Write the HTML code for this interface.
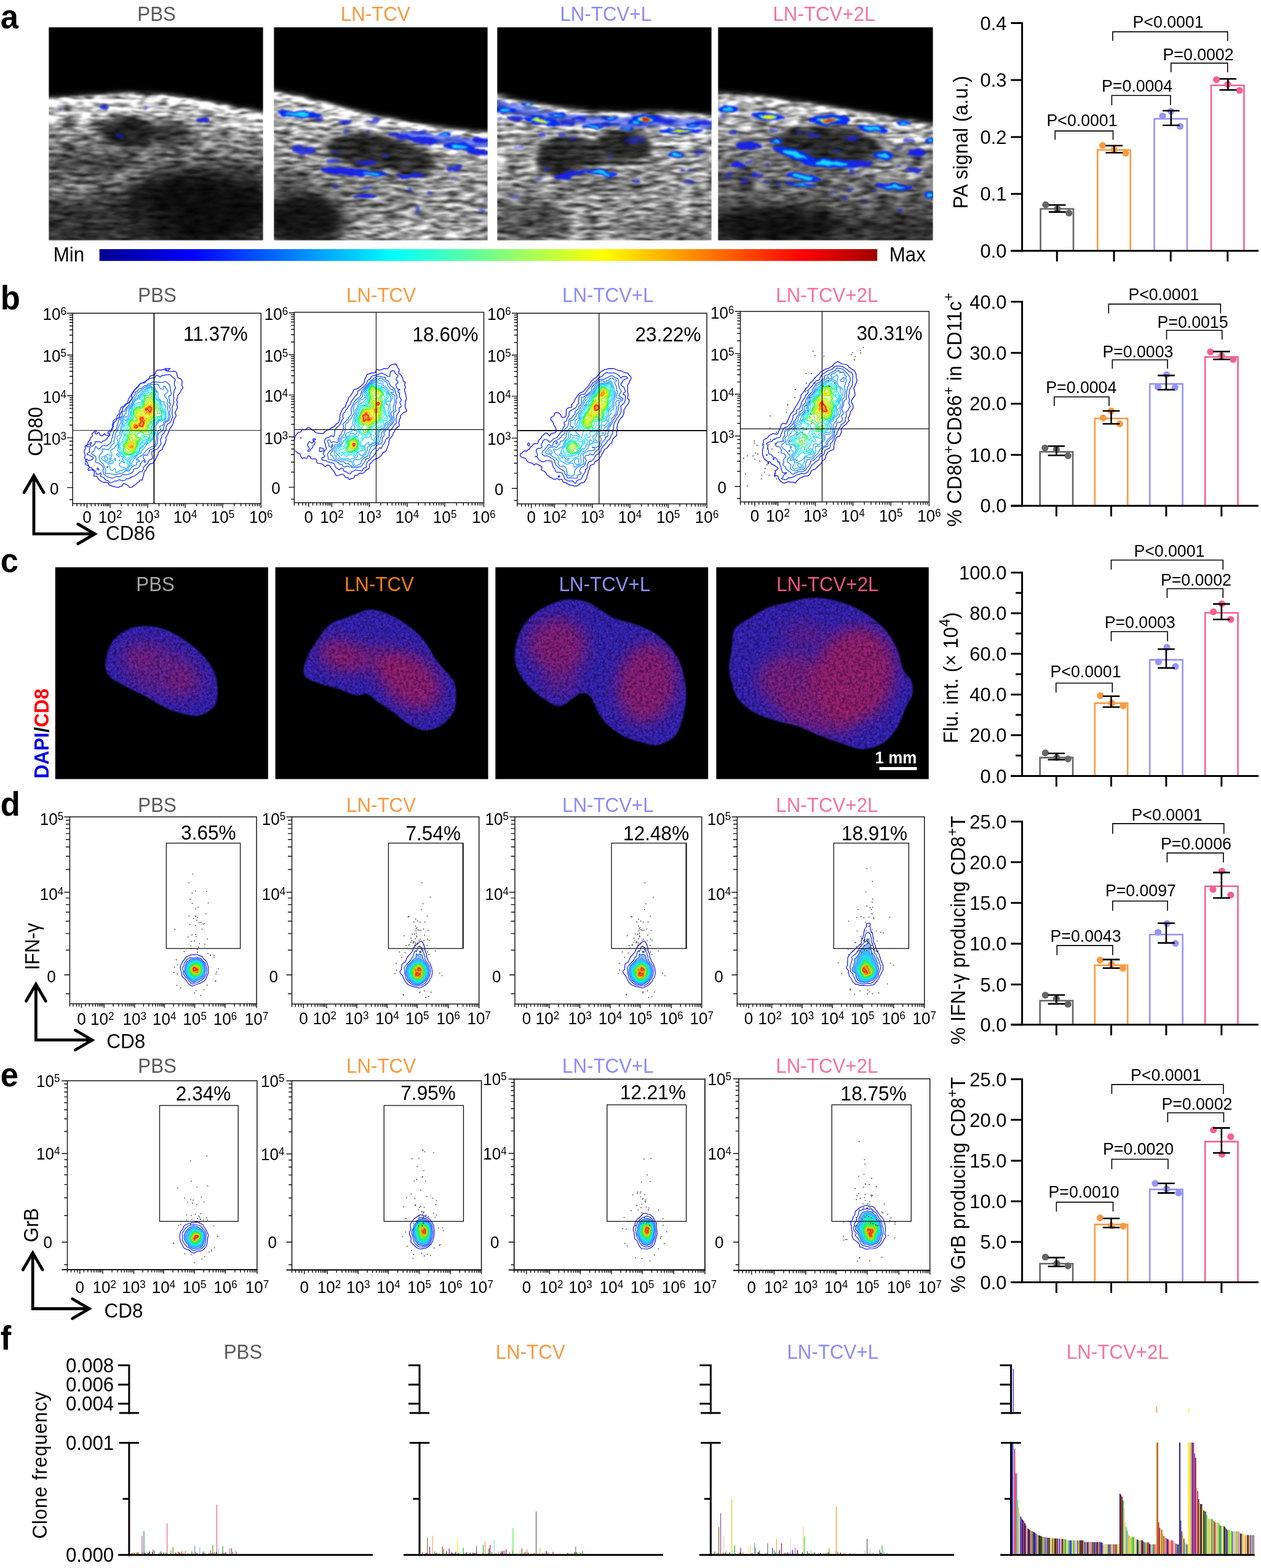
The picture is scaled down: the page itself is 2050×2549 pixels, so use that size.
<!DOCTYPE html>
<html lang="en"><head><meta charset="utf-8"><title>Figure</title>
<style>
html,body{margin:0;padding:0;background:#fff}
body{width:2050px;height:2549px;overflow:hidden}
svg{display:block;font-family:'Liberation Sans', sans-serif}
</style></head><body>
<svg width="2050" height="2549" viewBox="0 0 2050 2549">
<rect width="2050" height="2549" fill="#fff"/>
<linearGradient id="usdepth" x1="0" y1="0" x2="0" y2="1"><stop offset="0" stop-color="#000" stop-opacity="0"/><stop offset="1" stop-color="#000" stop-opacity="0.6"/></linearGradient>
<filter id="blur6" x="-30%" y="-30%" width="160%" height="160%" color-interpolation-filters="sRGB"><feGaussianBlur stdDeviation="5"/></filter>
<filter id="blur12" x="-40%" y="-40%" width="180%" height="180%" color-interpolation-filters="sRGB"><feGaussianBlur stdDeviation="13"/></filter>
<filter id="blur1" x="-20%" y="-20%" width="140%" height="140%" color-interpolation-filters="sRGB"><feTurbulence type="fractalNoise" baseFrequency="0.06 0.1" numOctaves="2" seed="8" result="t"/><feDisplacementMap in="SourceGraphic" in2="t" scale="9" xChannelSelector="R" yChannelSelector="G" result="d"/><feGaussianBlur in="d" stdDeviation="1.5"/></filter>
<linearGradient id="jet" x1="0" y1="0" x2="1" y2="0"><stop offset="0" stop-color="#00008f"/><stop offset="0.12" stop-color="#0000ff"/><stop offset="0.25" stop-color="#0080ff"/><stop offset="0.378" stop-color="#00ffff"/><stop offset="0.512" stop-color="#80ff80"/><stop offset="0.648" stop-color="#ffff00"/><stop offset="0.775" stop-color="#ff8000"/><stop offset="0.905" stop-color="#ff0000"/><stop offset="1" stop-color="#a20000"/></linearGradient>
<clipPath id="cu0"><rect x="79.6" y="44.2" width="348" height="346.5"/></clipPath>
<filter id="fu0" filterUnits="userSpaceOnUse" x="79.6" y="44.2" width="348" height="346.5" color-interpolation-filters="sRGB"><feGaussianBlur in="SourceGraphic" stdDeviation="2.6" result="b"/><feTurbulence type="fractalNoise" baseFrequency="0.04 0.16" numOctaves="2" seed="3" result="t"/><feColorMatrix in="t" type="matrix" values="1.45 0 0 0 -0.16  1.45 0 0 0 -0.16  1.45 0 0 0 -0.16  0 0 0 0 1" result="n"/><feComposite in="b" in2="n" operator="arithmetic" k1="1.7" k2="0.12" k3="0" k4="0" result="c"/><feGaussianBlur in="c" stdDeviation="0.8"/></filter>
<g clip-path="url(#cu0)"><g filter="url(#fu0)"><rect x="59.6" y="24.2" width="388" height="386.5" fill="#000"/><path d="M59.6 160.93L79.68 160.93L139.88 156.97L200.93 152.93L259.87 155.03L299.86 160.09L339.86 166.82L379.85 174.82L428.26 184.93L447.6 184.93L447.6 410.7L59.6 410.7Z" fill="#767676"/><rect x="59.6" y="200.12" width="388" height="210.58" fill="url(#usdepth)" opacity="1"/><g filter="url(#blur6)"><path d="M59.6 160.93L79.68 160.93L139.88 156.97L200.93 152.93L259.87 155.03L299.86 160.09L339.86 166.82L379.85 174.82L428.26 184.93L447.6 184.93L447.6 224.92L428.26 224.92L379.85 214.82L339.86 206.82L299.86 200.08L259.87 195.03L200.93 192.92L139.88 196.97L79.68 200.92L59.6 200.92Z" fill="#acacac"/></g><path d="M59.6 160.93L79.68 160.93L139.88 156.97L200.93 152.93L259.87 155.03L299.86 160.09L339.86 166.82L379.85 174.82L428.26 184.93L447.6 184.93L447.6 195.87L428.26 195.87L379.85 185.77L339.86 177.77L299.86 171.03L259.87 165.98L200.93 163.88L139.88 167.92L79.68 171.87L59.6 171.87Z" fill="#ebebeb"/><g filter="url(#blur6)"><ellipse cx="120.52" cy="312.06" rx="42.1" ry="12.63" fill="#969696" opacity="0.5"/><ellipse cx="204.72" cy="286.81" rx="25.26" ry="5.89" fill="#c8c8c8" opacity="0.6"/><ellipse cx="377.32" cy="232.08" rx="50.52" ry="16.84" fill="#969696" opacity="0.45" transform="rotate(15 377.32 232.08)"/><ellipse cx="112.1" cy="206.82" rx="33.68" ry="16.84" fill="#a0a0a0" opacity="0.4"/><ellipse cx="208.93" cy="215.24" rx="44.2" ry="26.1" fill="#1e1e1e"/><ellipse cx="276.29" cy="217.34" rx="33.68" ry="21.05" fill="#303030" opacity="0.95"/><ellipse cx="154.2" cy="265.76" rx="71.57" ry="14.73" fill="#323232" opacity="0.7"/></g><g filter="url(#blur12)"><ellipse cx="322.6" cy="337.32" rx="122.09" ry="63.15" fill="#080808" opacity="0.92"/><ellipse cx="166.83" cy="362.58" rx="117.88" ry="42.1" fill="#232323" opacity="0.6"/><ellipse cx="389.95" cy="282.6" rx="50.52" ry="21.05" fill="#282828" opacity="0.5"/></g></g>
<g filter="url(#blur1)"></g><g filter="url(#blur1)"><ellipse cx="170.2" cy="173.98" rx="7.58" ry="3.79" fill="#1a24e0" opacity="0.85"/><ellipse cx="237.13" cy="175.24" rx="3.37" ry="3.37" fill="#1a24e0" opacity="0.5"/><ellipse cx="328.91" cy="195.03" rx="10.52" ry="3.79" fill="#1a24e0"/><ellipse cx="194.19" cy="221.55" rx="6.31" ry="2.95" fill="#1a24e0" opacity="0.6"/><ellipse cx="97.36" cy="178.61" rx="2.53" ry="2.1" fill="#1a24e0" opacity="0.4"/></g><g filter="url(#blur1)"></g></g>
<clipPath id="cu1"><rect x="445.2" y="44.2" width="347.8" height="346.5"/></clipPath>
<filter id="fu1" filterUnits="userSpaceOnUse" x="445.2" y="44.2" width="347.8" height="346.5" color-interpolation-filters="sRGB"><feGaussianBlur in="SourceGraphic" stdDeviation="2.6" result="b"/><feTurbulence type="fractalNoise" baseFrequency="0.04 0.16" numOctaves="2" seed="7" result="t"/><feColorMatrix in="t" type="matrix" values="1.45 0 0 0 -0.16  1.45 0 0 0 -0.16  1.45 0 0 0 -0.16  0 0 0 0 1" result="n"/><feComposite in="b" in2="n" operator="arithmetic" k1="1.7" k2="0.12" k3="0" k4="0" result="c"/><feGaussianBlur in="c" stdDeviation="0.8"/></filter>
<g clip-path="url(#cu1)"><g filter="url(#fu1)"><rect x="425.2" y="24.2" width="387.8" height="386.5" fill="#000"/><path d="M425.2 148.72L445.52 148.72L490.99 158.4L533.09 168.93L575.19 180.72L617.29 190.82L659.39 198.4L701.49 205.97L743.59 211.87L793.26 217.34L813 217.34L813 410.7L425.2 410.7Z" fill="#8e8e8e"/><rect x="425.2" y="200.12" width="387.8" height="210.58" fill="url(#usdepth)" opacity="0.3"/><g filter="url(#blur6)"><path d="M425.2 148.72L445.52 148.72L490.99 158.4L533.09 168.93L575.19 180.72L617.29 190.82L659.39 198.4L701.49 205.97L743.59 211.87L793.26 217.34L813 217.34L813 257.34L793.26 257.34L743.59 251.86L701.49 245.97L659.39 238.39L617.29 230.81L575.19 220.71L533.09 208.92L490.99 198.4L445.52 188.71L425.2 188.71Z" fill="#acacac"/></g><path d="M425.2 148.72L445.52 148.72L490.99 158.4L533.09 168.93L575.19 180.72L617.29 190.82L659.39 198.4L701.49 205.97L743.59 211.87L793.26 217.34L813 217.34L813 227.45L793.26 227.45L743.59 221.97L701.49 216.08L659.39 208.5L617.29 200.92L575.19 190.82L533.09 179.03L490.99 168.51L445.52 158.82L425.2 158.82Z" fill="#e4e4e4"/><g filter="url(#blur6)"><ellipse cx="743.59" cy="299.43" rx="50.52" ry="21.05" fill="#aaaaaa" opacity="0.45"/><ellipse cx="680.44" cy="375.21" rx="105.25" ry="16.84" fill="#b4b4b4" opacity="0.55"/><ellipse cx="735.17" cy="341.53" rx="63.15" ry="25.26" fill="#a5a5a5" opacity="0.45"/><ellipse cx="490.99" cy="219.45" rx="42.1" ry="16.84" fill="#aaaaaa" opacity="0.4"/><ellipse cx="604.66" cy="244.71" rx="75.78" ry="28.63" fill="#262626" transform="rotate(5 604.66 244.71)"/><ellipse cx="667.81" cy="263.65" rx="38.73" ry="23.58" fill="#2a2a2a"/><ellipse cx="474.15" cy="291.01" rx="33.68" ry="16.84" fill="#3c3c3c" opacity="0.6"/><ellipse cx="575.19" cy="299.43" rx="25.26" ry="8.42" fill="#464646" opacity="0.5"/></g><g filter="url(#blur12)"><ellipse cx="490.99" cy="356.27" rx="71.57" ry="48.41" fill="#0a0a0a" opacity="0.92"/></g></g>
<g filter="url(#blur1)"><path d="M659.39 216.92L701.49 224.5L743.59 230.39L793.26 235.87" fill="none" stroke="#1c3cf0" stroke-width="15.16" stroke-linecap="round" stroke-linejoin="round" opacity="0.6"/></g><g filter="url(#blur1)"><ellipse cx="484.68" cy="185.77" rx="35.78" ry="5.47" fill="#0a2cf0" transform="rotate(4 484.68 185.77)"/><ellipse cx="557.09" cy="198.4" rx="7.58" ry="3.79" fill="#1a24e0" opacity="0.9"/><ellipse cx="606.76" cy="196.29" rx="10.52" ry="3.37" fill="#1a24e0" opacity="0.7"/><ellipse cx="650.97" cy="221.55" rx="21.05" ry="4.21" fill="#1a24e0" opacity="0.9" transform="rotate(10 650.97 221.55)"/><ellipse cx="688.86" cy="227.87" rx="25.26" ry="5.05" fill="#1a24e0" opacity="0.95" transform="rotate(8 688.86 227.87)"/><ellipse cx="722.54" cy="218.18" rx="10.52" ry="3.37" fill="#0a2cf0"/><ellipse cx="747.8" cy="238.39" rx="25.26" ry="6.31" fill="#0a2cf0" transform="rotate(5 747.8 238.39)"/><ellipse cx="781.48" cy="227.87" rx="12.63" ry="5.05" fill="#1a24e0"/><ellipse cx="777.27" cy="246.81" rx="16.84" ry="5.05" fill="#1a24e0"/><ellipse cx="680.44" cy="215.24" rx="12.63" ry="3.37" fill="#1a24e0" opacity="0.7"/><ellipse cx="495.2" cy="244.71" rx="18.94" ry="5.89" fill="#1a24e0" opacity="0.85"/><ellipse cx="482.57" cy="238.39" rx="8.42" ry="3.37" fill="#1a24e0" opacity="0.7"/><ellipse cx="566.77" cy="279.23" rx="46.31" ry="5.89" fill="#1a24e0" transform="rotate(5 566.77 279.23)"/><ellipse cx="604.66" cy="282.6" rx="25.26" ry="3.79" fill="#0a2cf0"/><ellipse cx="667.81" cy="285.54" rx="23.15" ry="3.79" fill="#1a24e0" opacity="0.95"/><ellipse cx="596.24" cy="263.65" rx="16.84" ry="4.21" fill="#1a24e0" opacity="0.8"/><ellipse cx="541.51" cy="261.55" rx="12.63" ry="3.37" fill="#1a24e0" opacity="0.7"/><ellipse cx="739.38" cy="273.33" rx="12.63" ry="4.21" fill="#1a24e0" opacity="0.85" transform="rotate(-20 739.38 273.33)"/><ellipse cx="594.13" cy="318.38" rx="18.94" ry="4.21" fill="#1a24e0"/><ellipse cx="596.24" cy="305.75" rx="10.52" ry="2.53" fill="#1a24e0" opacity="0.7"/><ellipse cx="678.33" cy="341.53" rx="4.21" ry="5.89" fill="#1a24e0" opacity="0.5"/><ellipse cx="697.28" cy="314.17" rx="4.21" ry="4.21" fill="#1a24e0" opacity="0.5"/><ellipse cx="558.43" cy="277.07" rx="5.89" ry="2.49" fill="#2028d8" opacity="0.54" transform="rotate(5.85 558.43 277.07)"/><ellipse cx="739.23" cy="290.66" rx="5.29" ry="2.08" fill="#2028d8" opacity="0.45" transform="rotate(-2.58 739.23 290.66)"/><ellipse cx="676.66" cy="226.8" rx="6.62" ry="2.08" fill="#2028d8" opacity="0.54" transform="rotate(-9.15 676.66 226.8)"/><ellipse cx="792.58" cy="324.29" rx="7" ry="2.72" fill="#2028d8" opacity="0.46" transform="rotate(-3.42 792.58 324.29)"/><ellipse cx="651.96" cy="228.04" rx="7.36" ry="2.3" fill="#2028d8" opacity="0.51" transform="rotate(6.35 651.96 228.04)"/><ellipse cx="547.16" cy="303" rx="5.05" ry="2.61" fill="#2028d8" opacity="0.59" transform="rotate(-0.31 547.16 303)"/><ellipse cx="564.6" cy="199.13" rx="6.96" ry="2.08" fill="#2028d8" opacity="0.76" transform="rotate(-5.83 564.6 199.13)"/><ellipse cx="784.48" cy="342.36" rx="6.44" ry="2.97" fill="#2028d8" opacity="0.68" transform="rotate(4.6 784.48 342.36)"/><ellipse cx="546.49" cy="247.67" rx="6.78" ry="2.02" fill="#2028d8" opacity="0.82" transform="rotate(7.75 546.49 247.67)"/><ellipse cx="627.23" cy="254.04" rx="5.04" ry="2.33" fill="#2028d8" opacity="0.85" transform="rotate(-2.27 627.23 254.04)"/><ellipse cx="519.59" cy="193.78" rx="6.27" ry="3.36" fill="#2028d8" opacity="0.65" transform="rotate(-0.17 519.59 193.78)"/><ellipse cx="666.84" cy="307.92" rx="3.98" ry="2.71" fill="#2028d8" opacity="0.67" transform="rotate(2.45 666.84 307.92)"/><ellipse cx="562.85" cy="214.87" rx="4.56" ry="3.25" fill="#2028d8" opacity="0.59" transform="rotate(1.94 562.85 214.87)"/><ellipse cx="598.27" cy="215.7" rx="3.25" ry="3.05" fill="#2028d8" opacity="0.76" transform="rotate(-2.5 598.27 215.7)"/></g><g filter="url(#blur1)"><ellipse cx="484.68" cy="185.77" rx="19.68" ry="2.74" fill="#18d8ff" transform="rotate(4 484.68 185.77)"/><ellipse cx="722.54" cy="218.18" rx="5.79" ry="1.68" fill="#18d8ff"/><ellipse cx="747.8" cy="238.39" rx="13.89" ry="3.16" fill="#18d8ff" transform="rotate(5 747.8 238.39)"/><ellipse cx="604.66" cy="282.6" rx="13.89" ry="1.89" fill="#18d8ff"/></g></g>
<clipPath id="cu2"><rect x="808.4" y="44.2" width="348.4" height="346.5"/></clipPath>
<filter id="fu2" filterUnits="userSpaceOnUse" x="808.4" y="44.2" width="348.4" height="346.5" color-interpolation-filters="sRGB"><feGaussianBlur in="SourceGraphic" stdDeviation="2.6" result="b"/><feTurbulence type="fractalNoise" baseFrequency="0.04 0.16" numOctaves="2" seed="11" result="t"/><feColorMatrix in="t" type="matrix" values="1.45 0 0 0 -0.16  1.45 0 0 0 -0.16  1.45 0 0 0 -0.16  0 0 0 0 1" result="n"/><feComposite in="b" in2="n" operator="arithmetic" k1="1.7" k2="0.12" k3="0" k4="0" result="c"/><feGaussianBlur in="c" stdDeviation="0.8"/></filter>
<g clip-path="url(#cu2)"><g filter="url(#fu2)"><rect x="788.4" y="24.2" width="388.4" height="386.5" fill="#000"/><path d="M788.4 155.03L807.37 155.03L842.31 164.72L880.2 171.87L922.3 178.19L964.4 182.4L1006.5 184.08L1048.6 184.08L1090.69 184.08L1124.37 185.77L1156.37 189.13L1176.8 189.13L1176.8 410.7L788.4 410.7Z" fill="#929292"/><rect x="788.4" y="200.12" width="388.4" height="210.58" fill="url(#usdepth)" opacity="0.25"/><g filter="url(#blur6)"><path d="M788.4 155.03L807.37 155.03L842.31 164.72L880.2 171.87L922.3 178.19L964.4 182.4L1006.5 184.08L1048.6 184.08L1090.69 184.08L1124.37 185.77L1156.37 189.13L1176.8 189.13L1176.8 229.13L1156.37 229.13L1124.37 225.76L1090.69 224.08L1048.6 224.08L1006.5 224.08L964.4 222.39L922.3 218.18L880.2 211.87L842.31 204.71L807.37 195.03L788.4 195.03Z" fill="#acacac"/></g><path d="M788.4 155.03L807.37 155.03L842.31 164.72L880.2 171.87L922.3 178.19L964.4 182.4L1006.5 184.08L1048.6 184.08L1090.69 184.08L1124.37 185.77L1156.37 189.13L1176.8 189.13L1176.8 197.55L1156.37 197.55L1124.37 194.19L1090.69 192.5L1048.6 192.5L1006.5 192.5L964.4 190.82L922.3 186.61L880.2 180.29L842.31 173.14L807.37 163.45L788.4 163.45Z" fill="#c8c8c8"/><g filter="url(#blur6)"><ellipse cx="1111.74" cy="232.08" rx="42.1" ry="21.05" fill="#b4b4b4" opacity="0.4"/><ellipse cx="838.1" cy="219.45" rx="33.68" ry="21.05" fill="#aaaaaa" opacity="0.4"/><ellipse cx="964.4" cy="345.74" rx="84.2" ry="16.84" fill="#969696" opacity="0.3"/><ellipse cx="918.09" cy="253.13" rx="46.31" ry="32.84" fill="#242424" transform="rotate(-10 918.09 253.13)"/><ellipse cx="1014.92" cy="236.29" rx="46.31" ry="27.36" fill="#262626" transform="rotate(5 1014.92 236.29)"/><ellipse cx="972.82" cy="248.92" rx="63.15" ry="21.05" fill="#2c2c2c" opacity="0.9"/><ellipse cx="985.45" cy="299.43" rx="84.2" ry="8.42" fill="#3c3c3c" opacity="0.5"/></g><g filter="url(#blur12)"><ellipse cx="859.15" cy="358.37" rx="67.36" ry="35.78" fill="#2d2d2d" opacity="0.65"/><ellipse cx="1090.69" cy="375.21" rx="84.2" ry="21.05" fill="#464646" opacity="0.4"/></g></g>
<g filter="url(#blur1)"><path d="M807.37 169.35L842.31 179.03L880.2 186.19L922.3 192.5L964.4 196.71L1006.5 198.4L1048.6 198.4L1090.69 198.4L1124.37 200.08L1156.37 203.45" fill="none" stroke="#1c3cf0" stroke-width="16" stroke-linecap="round" stroke-linejoin="round" opacity="0.55"/></g><g filter="url(#blur1)"><ellipse cx="821.26" cy="179.45" rx="16.84" ry="5.47" fill="#0a2cf0"/><ellipse cx="857.04" cy="168.93" rx="9.26" ry="3.79" fill="#0a2cf0"/><ellipse cx="880.2" cy="196.29" rx="29.47" ry="6.74" fill="#0a2cf0" transform="rotate(8 880.2 196.29)"/><ellipse cx="922.3" cy="200.5" rx="12.63" ry="3.79" fill="#1a24e0" opacity="0.9"/><ellipse cx="964.4" cy="205.97" rx="16.84" ry="3.37" fill="#0a2cf0"/><ellipse cx="993.87" cy="192.08" rx="12.63" ry="2.95" fill="#0a2cf0"/><ellipse cx="1019.13" cy="208.92" rx="12.63" ry="3.37" fill="#0a2cf0"/><ellipse cx="1050.7" cy="192.92" rx="24.42" ry="7.16" fill="#0a2cf0"/><ellipse cx="1107.53" cy="213.13" rx="35.78" ry="4.21" fill="#0a2cf0"/><ellipse cx="1141.21" cy="200.5" rx="16.84" ry="4.21" fill="#1a24e0" opacity="0.9"/><ellipse cx="1099.11" cy="251.02" rx="11.79" ry="5.05" fill="#0a2cf0"/><ellipse cx="1120.16" cy="295.22" rx="9.26" ry="3.37" fill="#1a24e0" opacity="0.8"/><ellipse cx="926.51" cy="283.86" rx="25.26" ry="5.05" fill="#1a24e0" transform="rotate(-12 926.51 283.86)"/><ellipse cx="977.03" cy="280.49" rx="27.36" ry="5.05" fill="#0a2cf0" transform="rotate(8 977.03 280.49)"/><ellipse cx="1031.76" cy="227.87" rx="16.84" ry="6.31" fill="#1a24e0" opacity="0.5"/><ellipse cx="844.41" cy="239.23" rx="8.42" ry="3.37" fill="#1a24e0" opacity="0.5"/><ellipse cx="835.99" cy="320.48" rx="8.42" ry="4.21" fill="#1a24e0" opacity="0.4"/><ellipse cx="1137" cy="246.81" rx="10.52" ry="3.37" fill="#1a24e0" opacity="0.6"/><ellipse cx="838.1" cy="192.08" rx="12.63" ry="3.79" fill="#1a24e0" opacity="0.9"/><ellipse cx="905.46" cy="186.61" rx="14.73" ry="3.37" fill="#0a2cf0"/><ellipse cx="941.24" cy="193.34" rx="12.63" ry="3.37" fill="#1a24e0" opacity="0.9"/><ellipse cx="987.55" cy="201.76" rx="11.79" ry="2.95" fill="#1a24e0" opacity="0.9"/><ellipse cx="1033.86" cy="199.24" rx="12.63" ry="3.37" fill="#0a2cf0"/><ellipse cx="1082.27" cy="197.55" rx="14.73" ry="3.79" fill="#1a24e0" opacity="0.9"/><ellipse cx="1126.48" cy="203.45" rx="12.63" ry="3.37" fill="#0a2cf0"/><ellipse cx="811.65" cy="192.84" rx="4.77" ry="2.84" fill="#2028d8" opacity="0.51" transform="rotate(-7.75 811.65 192.84)"/><ellipse cx="888.27" cy="274.89" rx="3.63" ry="2.93" fill="#2028d8" opacity="0.71" transform="rotate(-7.27 888.27 274.89)"/><ellipse cx="994.31" cy="254.1" rx="4.86" ry="3.36" fill="#2028d8" opacity="0.49" transform="rotate(-9.59 994.31 254.1)"/><ellipse cx="1135.36" cy="252.9" rx="3.87" ry="2.24" fill="#2028d8" opacity="0.6" transform="rotate(9.1 1135.36 252.9)"/><ellipse cx="880.77" cy="219.14" rx="5.66" ry="2.61" fill="#2028d8" opacity="0.83" transform="rotate(6.77 880.77 219.14)"/><ellipse cx="931.44" cy="224.96" rx="6.82" ry="3.35" fill="#2028d8" opacity="0.46" transform="rotate(4.7 931.44 224.96)"/><ellipse cx="1110.42" cy="276.12" rx="3.96" ry="3.03" fill="#2028d8" opacity="0.74" transform="rotate(-6.12 1110.42 276.12)"/><ellipse cx="1031.04" cy="231.49" rx="3.14" ry="2.25" fill="#2028d8" opacity="0.58" transform="rotate(-2.08 1031.04 231.49)"/><ellipse cx="1033.09" cy="293.83" rx="7.4" ry="3.33" fill="#2028d8" opacity="0.85" transform="rotate(5.8 1033.09 293.83)"/><ellipse cx="914.27" cy="220.06" rx="5.84" ry="2.6" fill="#2028d8" opacity="0.72" transform="rotate(-8.13 914.27 220.06)"/><ellipse cx="874.65" cy="289.14" rx="5.73" ry="2.85" fill="#2028d8" opacity="0.49" transform="rotate(-2.02 874.65 289.14)"/><ellipse cx="1124.99" cy="276.7" rx="7.54" ry="2.02" fill="#2028d8" opacity="0.63" transform="rotate(6.01 1124.99 276.7)"/></g><g filter="url(#blur1)"><ellipse cx="821.26" cy="179.45" rx="9.26" ry="2.74" fill="#18d8ff"/><ellipse cx="857.04" cy="168.93" rx="5.09" ry="1.89" fill="#18d8ff"/><ellipse cx="857.04" cy="168.93" rx="3.89" ry="1.67" fill="#e8f020"/><ellipse cx="880.2" cy="196.29" rx="16.21" ry="3.37" fill="#18d8ff" transform="rotate(8 880.2 196.29)"/><ellipse cx="880.2" cy="196.29" rx="12.38" ry="2.96" fill="#e8f020" transform="rotate(8 880.2 196.29)"/><ellipse cx="964.4" cy="205.97" rx="9.26" ry="1.68" fill="#18d8ff"/><ellipse cx="993.87" cy="192.08" rx="6.95" ry="1.47" fill="#18d8ff"/><ellipse cx="1019.13" cy="208.92" rx="6.95" ry="1.68" fill="#18d8ff"/><ellipse cx="1050.7" cy="192.92" rx="13.43" ry="3.58" fill="#18d8ff"/><ellipse cx="1050.7" cy="192.92" rx="10.26" ry="3.15" fill="#e8f020"/><ellipse cx="1050.7" cy="192.92" rx="7.33" ry="2.15" fill="#e01000"/><ellipse cx="1107.53" cy="213.13" rx="19.68" ry="2.1" fill="#18d8ff"/><ellipse cx="1107.53" cy="213.13" rx="15.03" ry="1.85" fill="#e8f020"/><ellipse cx="1099.11" cy="251.02" rx="6.48" ry="2.53" fill="#18d8ff"/><ellipse cx="977.03" cy="280.49" rx="15.05" ry="2.53" fill="#18d8ff" transform="rotate(8 977.03 280.49)"/><ellipse cx="905.46" cy="186.61" rx="8.1" ry="1.68" fill="#18d8ff"/><ellipse cx="1033.86" cy="199.24" rx="6.95" ry="1.68" fill="#18d8ff"/><ellipse cx="1126.48" cy="203.45" rx="6.95" ry="1.68" fill="#18d8ff"/></g></g>
<clipPath id="cu3"><rect x="1167.7" y="44.2" width="348.8" height="346.5"/></clipPath>
<filter id="fu3" filterUnits="userSpaceOnUse" x="1167.7" y="44.2" width="348.8" height="346.5" color-interpolation-filters="sRGB"><feGaussianBlur in="SourceGraphic" stdDeviation="2.6" result="b"/><feTurbulence type="fractalNoise" baseFrequency="0.04 0.16" numOctaves="2" seed="17" result="t"/><feColorMatrix in="t" type="matrix" values="1.45 0 0 0 -0.16  1.45 0 0 0 -0.16  1.45 0 0 0 -0.16  0 0 0 0 1" result="n"/><feComposite in="b" in2="n" operator="arithmetic" k1="1.7" k2="0.12" k3="0" k4="0" result="c"/><feGaussianBlur in="c" stdDeviation="0.8"/></filter>
<g clip-path="url(#cu3)"><g filter="url(#fu3)"><rect x="1147.7" y="24.2" width="388.8" height="386.5" fill="#000"/><path d="M1147.7 152.93L1167.74 152.93L1216.99 156.3L1259.09 161.35L1301.19 167.24L1343.29 173.98L1385.39 180.72L1427.49 188.29L1469.59 195.87L1516.74 203.45L1536.5 203.45L1536.5 410.7L1147.7 410.7Z" fill="#7c7c7c"/><rect x="1147.7" y="200.12" width="388.8" height="210.58" fill="url(#usdepth)" opacity="0.8"/><g filter="url(#blur6)"><path d="M1147.7 152.93L1167.74 152.93L1216.99 156.3L1259.09 161.35L1301.19 167.24L1343.29 173.98L1385.39 180.72L1427.49 188.29L1469.59 195.87L1516.74 203.45L1536.5 203.45L1536.5 243.44L1516.74 243.44L1469.59 235.87L1427.49 228.29L1385.39 220.71L1343.29 213.97L1301.19 207.24L1259.09 201.34L1216.99 196.29L1167.74 192.92L1147.7 192.92Z" fill="#acacac"/></g><path d="M1147.7 152.93L1167.74 152.93L1216.99 156.3L1259.09 161.35L1301.19 167.24L1343.29 173.98L1385.39 180.72L1427.49 188.29L1469.59 195.87L1516.74 203.45L1536.5 203.45L1536.5 211.87L1516.74 211.87L1469.59 204.29L1427.49 196.71L1385.39 189.13L1343.29 182.4L1301.19 175.66L1259.09 169.77L1216.99 164.72L1167.74 161.35L1147.7 161.35Z" fill="#cdcdcd"/><g filter="url(#blur6)"><ellipse cx="1195.94" cy="211.03" rx="33.68" ry="16.84" fill="#b4b4b4" opacity="0.4"/><ellipse cx="1448.54" cy="278.39" rx="63.15" ry="12.63" fill="#bebebe" opacity="0.5"/><ellipse cx="1259.09" cy="324.69" rx="42.1" ry="8.42" fill="#aaaaaa" opacity="0.4"/><ellipse cx="1347.5" cy="236.29" rx="84.2" ry="32.84" fill="#282828" transform="rotate(3 1347.5 236.29)"/><ellipse cx="1195.94" cy="291.01" rx="33.68" ry="16.84" fill="#3c3c3c" opacity="0.6"/></g><g filter="url(#blur12)"><ellipse cx="1259.09" cy="366.79" rx="113.67" ry="35.78" fill="#0c0c0c" opacity="0.92"/><ellipse cx="1448.54" cy="373.11" rx="88.41" ry="26.1" fill="#202020" opacity="0.8"/></g></g>
<g filter="url(#blur1)"></g><g filter="url(#blur1)"><ellipse cx="1183.31" cy="177.35" rx="16.84" ry="5.47" fill="#0a2cf0"/><ellipse cx="1248.57" cy="189.13" rx="27.36" ry="5.89" fill="#0a2cf0" transform="rotate(5 1248.57 189.13)"/><ellipse cx="1347.5" cy="195.03" rx="33.68" ry="8.42" fill="#0a2cf0"/><ellipse cx="1419.07" cy="208.92" rx="25.26" ry="5.05" fill="#0a2cf0" transform="rotate(8 1419.07 208.92)"/><ellipse cx="1469.59" cy="200.5" rx="12.63" ry="3.79" fill="#0a2cf0"/><ellipse cx="1216.99" cy="236.29" rx="21.05" ry="6.74" fill="#1a24e0"/><ellipse cx="1261.2" cy="229.97" rx="10.52" ry="3.37" fill="#0a2cf0"/><ellipse cx="1292.77" cy="251.02" rx="37.89" ry="6.74" fill="#0a2cf0" transform="rotate(18 1292.77 251.02)"/><ellipse cx="1351.71" cy="265.76" rx="50.52" ry="7.58" fill="#0a2cf0" transform="rotate(3 1351.71 265.76)"/><ellipse cx="1402.23" cy="265.76" rx="16.84" ry="5.05" fill="#1a24e0"/><ellipse cx="1435.91" cy="253.13" rx="16.84" ry="6.31" fill="#0a2cf0"/><ellipse cx="1490.64" cy="248.92" rx="14.73" ry="5.05" fill="#1a24e0"/><ellipse cx="1511.69" cy="227.87" rx="8.42" ry="5.05" fill="#0a2cf0"/><ellipse cx="1200.15" cy="267.86" rx="10.52" ry="5.05" fill="#1a24e0"/><ellipse cx="1305.4" cy="287.65" rx="29.47" ry="5.05" fill="#0a2cf0" transform="rotate(10 1305.4 287.65)"/><ellipse cx="1301.19" cy="300.28" rx="25.26" ry="3.79" fill="#0a2cf0" transform="rotate(8 1301.19 300.28)"/><ellipse cx="1452.75" cy="303.64" rx="31.57" ry="5.47" fill="#0a2cf0" transform="rotate(5 1452.75 303.64)"/><ellipse cx="1511.69" cy="316.27" rx="10.52" ry="5.89" fill="#0a2cf0"/><ellipse cx="1486.43" cy="276.28" rx="12.63" ry="3.37" fill="#1a24e0" opacity="0.9"/><ellipse cx="1229.62" cy="284.7" rx="8.42" ry="3.37" fill="#1a24e0" opacity="0.8"/><ellipse cx="1322.24" cy="219.45" rx="12.63" ry="3.37" fill="#1a24e0" opacity="0.7"/><ellipse cx="1385.39" cy="225.76" rx="12.63" ry="3.37" fill="#1a24e0" opacity="0.7"/><ellipse cx="1191.73" cy="215.24" rx="6.31" ry="3.37" fill="#1a24e0" opacity="0.7"/><ellipse cx="1478.01" cy="227.87" rx="10.52" ry="3.37" fill="#1a24e0" opacity="0.7"/><ellipse cx="1259.09" cy="211.03" rx="8.42" ry="2.53" fill="#1a24e0" opacity="0.6"/><ellipse cx="1300.71" cy="215.1" rx="3.72" ry="3.22" fill="#2028d8" opacity="0.68" transform="rotate(3.8 1300.71 215.1)"/><ellipse cx="1360.75" cy="245.28" rx="6.34" ry="2.65" fill="#2028d8" opacity="0.76" transform="rotate(3.23 1360.75 245.28)"/><ellipse cx="1460.65" cy="270.3" rx="3.66" ry="1.94" fill="#2028d8" opacity="0.74" transform="rotate(-6.65 1460.65 270.3)"/><ellipse cx="1396.21" cy="283.13" rx="3.22" ry="3" fill="#2028d8" opacity="0.46" transform="rotate(7.34 1396.21 283.13)"/><ellipse cx="1461.26" cy="240.29" rx="6.31" ry="2.92" fill="#2028d8" opacity="0.5" transform="rotate(3.4 1461.26 240.29)"/><ellipse cx="1210.93" cy="295.75" rx="6.14" ry="3.33" fill="#2028d8" opacity="0.47" transform="rotate(-3.64 1210.93 295.75)"/><ellipse cx="1384.08" cy="279.28" rx="3.79" ry="3.18" fill="#2028d8" opacity="0.79" transform="rotate(-3.97 1384.08 279.28)"/><ellipse cx="1218.66" cy="263.28" rx="4.83" ry="2.8" fill="#2028d8" opacity="0.65" transform="rotate(-2.1 1218.66 263.28)"/><ellipse cx="1175.3" cy="188.47" rx="5.07" ry="2.91" fill="#2028d8" opacity="0.62" transform="rotate(4.89 1175.3 188.47)"/><ellipse cx="1356.12" cy="311.47" rx="5.98" ry="2.23" fill="#2028d8" opacity="0.51" transform="rotate(-8.69 1356.12 311.47)"/><ellipse cx="1181.56" cy="286.91" rx="7" ry="2.95" fill="#2028d8" opacity="0.49" transform="rotate(3.21 1181.56 286.91)"/><ellipse cx="1212.29" cy="292.59" rx="5.98" ry="2.95" fill="#2028d8" opacity="0.69" transform="rotate(-1.63 1212.29 292.59)"/><ellipse cx="1463.83" cy="341.23" rx="4.07" ry="2.42" fill="#2028d8" opacity="0.74" transform="rotate(3.6 1463.83 341.23)"/><ellipse cx="1311.04" cy="246.28" rx="7.43" ry="2.15" fill="#2028d8" opacity="0.53" transform="rotate(3.72 1311.04 246.28)"/><ellipse cx="1264.4" cy="299.83" rx="4.46" ry="3.24" fill="#2028d8" opacity="0.6" transform="rotate(7.7 1264.4 299.83)"/><ellipse cx="1429.88" cy="304.18" rx="3.94" ry="1.96" fill="#2028d8" opacity="0.46" transform="rotate(-6.39 1429.88 304.18)"/><ellipse cx="1400.36" cy="208.92" rx="4.05" ry="2.64" fill="#2028d8" opacity="0.51" transform="rotate(-3.42 1400.36 208.92)"/><ellipse cx="1247.44" cy="267.87" rx="3.5" ry="3.36" fill="#2028d8" opacity="0.69" transform="rotate(4.26 1247.44 267.87)"/><ellipse cx="1360.58" cy="260.65" rx="7.44" ry="3.19" fill="#2028d8" opacity="0.78" transform="rotate(-9.4 1360.58 260.65)"/><ellipse cx="1373.48" cy="322.51" rx="5.9" ry="2.55" fill="#2028d8" opacity="0.71" transform="rotate(-6.46 1373.48 322.51)"/><ellipse cx="1421.7" cy="309.67" rx="3.28" ry="2.54" fill="#2028d8" opacity="0.69" transform="rotate(-2.96 1421.7 309.67)"/><ellipse cx="1405.65" cy="325.4" rx="7.14" ry="2.2" fill="#2028d8" opacity="0.51" transform="rotate(7.08 1405.65 325.4)"/><ellipse cx="1381.31" cy="308.65" rx="6.97" ry="2.15" fill="#2028d8" opacity="0.68" transform="rotate(-3.94 1381.31 308.65)"/><ellipse cx="1446.06" cy="301.64" rx="4.05" ry="2.53" fill="#2028d8" opacity="0.69" transform="rotate(-5.34 1446.06 301.64)"/><ellipse cx="1231.43" cy="238.76" rx="3.28" ry="2.52" fill="#2028d8" opacity="0.83" transform="rotate(6.52 1231.43 238.76)"/><ellipse cx="1186.69" cy="282.31" rx="6.26" ry="2.88" fill="#2028d8" opacity="0.46" transform="rotate(5.2 1186.69 282.31)"/><ellipse cx="1235.94" cy="283.6" rx="4.44" ry="2.3" fill="#2028d8" opacity="0.52" transform="rotate(7.35 1235.94 283.6)"/><ellipse cx="1245.15" cy="294.1" rx="5.33" ry="1.93" fill="#2028d8" opacity="0.71" transform="rotate(0.62 1245.15 294.1)"/></g><g filter="url(#blur1)"><ellipse cx="1183.31" cy="177.35" rx="9.26" ry="2.74" fill="#18d8ff"/><ellipse cx="1248.57" cy="189.13" rx="15.05" ry="2.95" fill="#18d8ff" transform="rotate(5 1248.57 189.13)"/><ellipse cx="1248.57" cy="189.13" rx="11.49" ry="2.59" fill="#e8f020" transform="rotate(5 1248.57 189.13)"/><ellipse cx="1347.5" cy="195.03" rx="18.52" ry="4.21" fill="#18d8ff"/><ellipse cx="1347.5" cy="195.03" rx="14.15" ry="3.7" fill="#e8f020"/><ellipse cx="1347.5" cy="195.03" rx="10.1" ry="2.53" fill="#e01000"/><ellipse cx="1419.07" cy="208.92" rx="13.89" ry="2.53" fill="#18d8ff" transform="rotate(8 1419.07 208.92)"/><ellipse cx="1469.59" cy="200.5" rx="6.95" ry="1.89" fill="#18d8ff"/><ellipse cx="1261.2" cy="229.97" rx="5.79" ry="1.68" fill="#18d8ff"/><ellipse cx="1292.77" cy="251.02" rx="20.84" ry="3.37" fill="#18d8ff" transform="rotate(18 1292.77 251.02)"/><ellipse cx="1351.71" cy="265.76" rx="27.79" ry="3.79" fill="#18d8ff" transform="rotate(3 1351.71 265.76)"/><ellipse cx="1435.91" cy="253.13" rx="9.26" ry="3.16" fill="#18d8ff"/><ellipse cx="1511.69" cy="227.87" rx="4.63" ry="2.53" fill="#18d8ff"/><ellipse cx="1305.4" cy="287.65" rx="16.21" ry="2.53" fill="#18d8ff" transform="rotate(10 1305.4 287.65)"/><ellipse cx="1301.19" cy="300.28" rx="13.89" ry="1.89" fill="#18d8ff" transform="rotate(8 1301.19 300.28)"/><ellipse cx="1452.75" cy="303.64" rx="17.37" ry="2.74" fill="#18d8ff" transform="rotate(5 1452.75 303.64)"/><ellipse cx="1511.69" cy="316.27" rx="5.79" ry="2.95" fill="#18d8ff"/></g></g>
<text transform="translate(254.6 34) scale(1 1.04)" font-size="31.3" text-anchor="middle" fill="#595959">PBS</text>
<text transform="translate(610.3 34) scale(1 1.04)" font-size="31.3" text-anchor="middle" fill="#F8993F">LN-TCV</text>
<text transform="translate(984.8 34) scale(1 1.04)" font-size="31.3" text-anchor="middle" fill="#8A8CF8">LN-TCV+L</text>
<text transform="translate(1339.5 34) scale(1 1.04)" font-size="31.3" text-anchor="middle" fill="#F6739D">LN-TCV+2L</text>
<rect x="161.6" y="405" width="1264.6" height="19.2" fill="url(#jet)"/>
<text transform="translate(86.8 424.5) scale(1 1.04)" font-size="31.3">Min</text>
<text transform="translate(1445.8 424.5) scale(1 1.04)" font-size="31.3">Max</text>
<text transform="translate(255.6 490.9) scale(1 1.04)" font-size="31.3" text-anchor="middle" fill="#595959">PBS</text>
<text transform="translate(619.5 490.9) scale(1 1.04)" font-size="31.3" text-anchor="middle" fill="#F8993F">LN-TCV</text>
<text transform="translate(988.4 490.9) scale(1 1.04)" font-size="31.3" text-anchor="middle" fill="#8A8CF8">LN-TCV+L</text>
<text transform="translate(1344.4 490.9) scale(1 1.04)" font-size="31.3" text-anchor="middle" fill="#F6739D">LN-TCV+2L</text>
<clipPath id="cb3"><rect x="1204.6" y="507.3" width="304.8" height="292.5"/></clipPath>
<clipPath id="cb2"><rect x="842" y="510.2" width="306.1" height="292.7"/></clipPath>
<clipPath id="cb1"><rect x="479.4" y="508.6" width="306.1" height="292.5"/></clipPath>
<clipPath id="cb0"><rect x="119.1" y="510.2" width="304.2" height="291.4"/></clipPath>
<rect x="118.1" y="509.2" width="306.2" height="309.4" fill="#fff" stroke="#1a1a1a" stroke-width="1.5"/>
<path d="M141.4 818.6v6.8M179.1 818.6v6.8M240.1 818.6v6.8M301.1 818.6v6.8M362 818.6v6.8M424.3 818.6v6.8M197.46 818.6v4.5M208.2 818.6v4.5M215.83 818.6v4.5M221.74 818.6v4.5M226.57 818.6v4.5M230.65 818.6v4.5M234.19 818.6v4.5M237.31 818.6v4.5M258.46 818.6v4.5M269.2 818.6v4.5M276.83 818.6v4.5M282.74 818.6v4.5M287.57 818.6v4.5M291.65 818.6v4.5M295.19 818.6v4.5M298.31 818.6v4.5M319.43 818.6v4.5M330.16 818.6v4.5M337.77 818.6v4.5M343.67 818.6v4.5M348.49 818.6v4.5M352.57 818.6v4.5M356.1 818.6v4.5M359.21 818.6v4.5M380.75 818.6v4.5M391.72 818.6v4.5M399.51 818.6v4.5M405.55 818.6v4.5M410.48 818.6v4.5M414.65 818.6v4.5M418.26 818.6v4.5M421.45 818.6v4.5M148.19 818.6v4.5M154.59 818.6v4.5M160.25 818.6v4.5M164.77 818.6v4.5M168.54 818.6v4.5M171.56 818.6v4.5M174.2 818.6v4.5M176.46 818.6v4.5M136.74 818.6v4.5M131.61 818.6v4.5M125.09 818.6v4.5M118.1 818.6v4.5" fill="none" stroke="#111" stroke-width="1.45"/>
<path d="M118.1 509.2h-9M118.1 577.2h-9M118.1 643.3h-9M118.1 711.6h-9M118.1 792.6h-9M118.1 556.73h-5.2M118.1 544.76h-5.2M118.1 536.26h-5.2M118.1 529.67h-5.2M118.1 524.29h-5.2M118.1 519.73h-5.2M118.1 515.79h-5.2M118.1 512.31h-5.2M118.1 623.4h-5.2M118.1 611.76h-5.2M118.1 603.5h-5.2M118.1 597.1h-5.2M118.1 591.86h-5.2M118.1 587.44h-5.2M118.1 583.61h-5.2M118.1 580.22h-5.2M118.1 691.04h-5.2M118.1 679.01h-5.2M118.1 670.48h-5.2M118.1 663.86h-5.2M118.1 658.45h-5.2M118.1 653.88h-5.2M118.1 649.92h-5.2M118.1 646.43h-5.2M118.1 768.3h-5.2M118.1 752.1h-5.2M118.1 739.95h-5.2M118.1 731.04h-5.2M118.1 723.75h-5.2M118.1 717.27h-5.2M118.1 812.3h-5.2" fill="none" stroke="#111" stroke-width="1.45"/>
<text transform="translate(141.4 849.7) scale(1 1.04)" font-size="26.1" text-anchor="middle">0</text>
<text transform="translate(179.1 849.7) scale(1 1.04)" font-size="26.1" text-anchor="middle">10<tspan font-size="17" dy="-7.7">2</tspan></text>
<text transform="translate(240.1 849.7) scale(1 1.04)" font-size="26.1" text-anchor="middle">10<tspan font-size="17" dy="-7.7">3</tspan></text>
<text transform="translate(301.1 849.7) scale(1 1.04)" font-size="26.1" text-anchor="middle">10<tspan font-size="17" dy="-7.7">4</tspan></text>
<text transform="translate(362 849.7) scale(1 1.04)" font-size="26.1" text-anchor="middle">10<tspan font-size="17" dy="-7.7">5</tspan></text>
<text transform="translate(424.3 849.7) scale(1 1.04)" font-size="26.1" text-anchor="middle">10<tspan font-size="17" dy="-7.7">6</tspan></text>
<text transform="translate(107.9 520.4) scale(1 1.04)" font-size="26.1" text-anchor="end">10<tspan font-size="17" dy="-7.7">6</tspan></text>
<text transform="translate(107.9 588.4) scale(1 1.04)" font-size="26.1" text-anchor="end">10<tspan font-size="17" dy="-7.7">5</tspan></text>
<text transform="translate(107.9 654.5) scale(1 1.04)" font-size="26.1" text-anchor="end">10<tspan font-size="17" dy="-7.7">4</tspan></text>
<text transform="translate(107.9 722.8) scale(1 1.04)" font-size="26.1" text-anchor="end">10<tspan font-size="17" dy="-7.7">3</tspan></text>
<text transform="translate(95.5 803.8) scale(1 1.04)" font-size="26.1" text-anchor="end">0</text>
<g clip-path="url(#cb0)"><path d="M267.9 599.2l1.2 .2 2 2.8 3 1.4 4 .4 4-.7 2 .3 2 .9 1.2 1.7 .6 4 1.2 3.6 1 .9 4 1.2 1.4 2.3 .7 2-.7 6 1.9 4-3.4 5-1.2 3-3.9 5-.3 3-1.6 4 1.5 3-1.1 5 1.3 4-3.6 7.6-.3 1.4 1.2 3 .1 2.2-3.3 5.8-1.4 6-2.5 5-2.9 4-3.5 9-2.9 5 .6 3-.2 2-2.2 6-2.7 4-1 4-6 4-.9 2-.4 3-2.6 4-1.8 5-2.3 2.4-1 1.8-1 .7-4.2 1.1-2 2-2.8 3.9-1.9 4.1-2.1 2-1 1.9-.6 5.1-.6 1-1.8 6.5-3.2-.5-.8 .6-1 2.5-3.8 1.9-1.2 2-4 2.3-3 2.7-2 .3-1.6-.3-2.4-3.2-6-2.9-1.1 .1-1.3 1-1.1 3-3.5 .7-3 1.5-1 .1-9-2.3-4.9-2-.9-1-.1-2-1.1-.6-4-.7-3 .3-3-1.4-4.9-3.6-2.7-5-4.4 0-.6-1 .9-4 0-2-1.1-2-3.2-1.3-2 .1-3 .9-1-.6-.1-1.1 1.6-2 .2-2-2.7-6.8-4.6-8.2 1-5-1.3-3-.3-3 1.9-4-.6-3 .3-1 3.6-2.8 1.2-2.2 0-2 2.8-2.5 .6-3.5 3.2-3 .3-1-.6-3 .5-.8 2.7-2.2 1.1-2 1.2-.2 1.1 .2 .4 1-1.8 2 .3 1.6 1 .9 1-.1 2-2.3 1-.3 1 .5 1.6 3.7 2.4 1.5 1.9-.5 2.1-2.7 1-.5 2 2.5 5 .7 .7-1-.2-1-.5-1.1-1.9-.9 0-1 .9-1.2 4.5-2.8 1.4-3 2.6-3-.7-2 1.4-4 .8-1.3 2.3-1.7 1.6-3 3.6-3 2.6-7 2.9-4.1 .5-3.9 2.9-5 1.6-1.3 4-1.3 1-.8 5-6.1 .5-1.5-.5-4 .8-3 2.6-3 .8-3 3.8-4.2 2.4-1.8 1.9-3 2.7-2.1 3-.8 2-1.3 4-1.7 1-1.4 3.4-2.7 .7-3 .9-.8 7-2.1 1.5-2.1 .8-3 1.7-2.1 1-.4 6 0 4-1.4 4 2.3 2 .5 1-.5 2-2.6 1.8-.8z" fill="none" stroke="#0808f8" stroke-width="1.25" stroke-linejoin="round"/>
<path d="M273.7 609.2l2.4-.1 1 .6 3 3.3 3.5 2.2 1.5 2 0 1-1 1.3-.5 1.7-.2 3 .6 3 1.6 3-.1 1-2.3 3-1.1 9 .6 4-.5 3 .6 4-3 8 .6 3-.6 3-.1 5 1.2 5-1.9 3-1.1 4-1.8 2.2-3.4 1.8-1.6 2.4-1 2.4-.2 4.2-.8 1.7-1.5 1.3-1 3-1.5 .8-2.2 2.2-.1 4-2.1 3 1 6-.3 2-5.3 7.5-9 4.1-.5 3.4 1.3 6-.1 2-1.7 1.5-3 .9-1 .9-2.1 4.7-3.6 3-3.1 4-.3 3-1.9 3.3-1 .5-3-.1-1 .4-2.4 2.9-2.6 1.8-1 1.5-5 1.4-6 3.5-3-.4-3 2.9-4 .4-4-1.2-2 .1-4 1.9-3 .1-5 2.5-2 .3-1.2-.8-1.8-2.3-5-2-2-3.2-5.7-2.5-.3-1 1-.6 .5-1.4-.5-1.6-1-.9-2 2.3-1 .4-3-.7-.6-.5-.8-3-2.2-3-3.4-1.6-2-2.6-3-.9-1.7-1.9-4.1-2-.4-1 0-5 1.2-2.8 1.2-.2 1.3 2 .5 .2 4-.3 4-2.2 .7-1.7-.7-1.2-3-1.1-2-1.9-4.2-.8-.7-1 1.8-2 2.1-1 .5-1-.4-3 1.4-4-.5-.9-1-.3-4 .3-.7-1.1 .8-1 4-2 1.9-2.7 1-.3 .8 1-1.9 3-.1 1 1.1 1 2.1 .1 4.6-4.1-.1-3 .5-.3 7 .1 2 1.3 1 .1 1-.7 1-1.7 3-.8 4.1-3 .6-2 3.1-3 .6-2 .1-3 2.5-2.7 1.6-3.3 .3-1-.3-6 1.7-6 1.7-2.2 3-1.3 1.6-5.5 2.9-2 .8-5 2.6-6 1.1-.8 3 .2 2.9-2.4 1.1-2 2-1.9 2-7.2 3-4 4.4-7.9 7.8-7 4.2-6 1.6-.7 5 0 1-.7 1.2-2.6 1.8-1.8 6-2.7 6.6-.5 1.6-3 .8-1.1 1-.3 5 3.1 1-.4 2.2-2.3 2.8 .2 3-1 4.6-.2zM158.1 761.2l-.5 1 .5 1 2.1 1 .5-1-.6-1.6-1-.5-1 .1z" fill="none" stroke="#0a28ff" stroke-width="1.25" stroke-linejoin="round"/>
<path d="M267.7 620.2l1.4-.1 1 .4 6.1 5.7 1.4 10 1 3-.5 2.9-1 .8-2 .4-.6 .9 .4 4 1.2 4-1.5 2 .3 1 1.2 0 1.2 1-1.7 5 1.1 4-1.2 7 1.3 5-2.7 6.8-4.9 2.2-.9 1-1.9 6-.2 3-2.1 3.8-2 1.8-4 2.2-1 1.6-.5 1.6 .1 5-.9 9-2 3-3.8 4-1.9 1.3-4.1 1.7-1.2 1-.4 3-1.7 2-1.6 2.9-1 .4-2-1-1 .2-1.7 1.5-.5 2 1.9 4 1.3 1.7 .4 2.3-.4 .5-1.4-.5-.6-2.7-1-.2-1 .5-2.1 3.4-2.5 2 .6 2-1 2-4 3.2-5 1-1 .6-.6 3.2-2.8 3-5.6 2.1-5 .6-4-.2-1.1 .5-1.9 2.4-2 .3-5-.2-6 2.6-4-.6-5-1.6-4-3-2.2-2.9-.6-5 .8-1 .3-2-2.3-4-1-1.3-5-3.4-4-.7-1-.6 1.1-5-.1-2-2-3.3-1-.8-2.6-.9-1.1-1-.3-1.1 1-2.4 2-.6 1-.9 1.9-7 1.1-.1 3 3.2 2 .4 3-2.5 1-1.8 5-1.9 2 1.5 1 .1 3-2.4 2-1 2-2.2 1-2.2 .3-4.1 1.8-2-.5-3 1.4-2.9 .6-3.1 1.2-2 2.2-1.1 .7-.9 5.2-18 1.2-2 3.4-2 .9-1-1.6-5 1.2-1.1 4-.9 2-4.9 4-3.6 2.9-7.5 2.6-3 1.4-3 3.3-4 .8-5 3-1.1 3-3.7 4-1.2 4-3.8 4-.8 3-2.6 3-.3 4-2.8 16 .9 3.6-1.6z" fill="none" stroke="#1050ff" stroke-width="1.25" stroke-linejoin="round"/>
<path d="M253.9 624.2l2.2 .4 2 1.6 1.4 4 1.7 2 2.9 .8 1.8-.8 .5-1-.7-3 .4-.5 1 0 1.9 1.5 1.1 2.9 2.7 2.1 .2 2-.4 1-1.5 1.7-3 2-.5 2.3 .6 2 2.9 2.5 1.2 2.5 .2 1-.9 4 1.5 4-.9 5 1.4 5-.2 4 .5 4-1 5-.9 1-4.9 2-.9 1-.8 4-1 1-4.7 2-.1 1 1.7 4-1.2 .9-2 .2-.9 .9-1.3 4-1.6 3-.3 2 .7 3-1.4 5 0 3-.5 2-3.7 3.1-2.8 .9-1.2 1.3-4 1.6-3 2.6-6 7.9-6.5 3.6-3.9 3-.4 1 .8 .5 2-.4 2 .7 .8 1.2-.5 1-3.3 .5-.7 .5-.3 4.4-1 .6-3 .3-4.5 3.7-3.5 5.5-1 .3-3-.7-2 .2-1.4 .7-1.6 1.7-3 1.4-2 .5-1-.7-1 .2-1 .8-5 1.8-2-.2-2-.9-3 0-3-1.3-2 .1-2 .7-2-.3-1.1-.8-.3-1 1.4-3-.3-2-3-6-.9-3-.8-1-3-1.7-.8-1.3-1.7-4-.6-4 .7-2 5.2-6-.9-3 .4-1 2.7-.3 7 1.3 2-2.7 1.8-1.3 .6-2 1.6-2.3 3.7-2.7-.8-3 1.8-6 .3-4 1.4-4 2.8-4 .4-3 1.3-2 .5-2 3.5-6 0-1-1.4-3 .4-2 1.1-1.4 3.4-1.6 4.3-5 1.4-7 .9-1.2 3.2-1.8 3.4-5 1.6-5 6.2-8 .6-4 .9-1 2.5-1 3.8-4 5.8-4.4 3.9-1.6 2.1-1.6 6-1.9 3 1.3 1-.2 2.8-1.6zM174.1 758.2l-.5 1 .4 1 1.1 .1 .4-1.1-.4-.8-1-.2z" fill="none" stroke="#1478ff" stroke-width="1.25" stroke-linejoin="round"/>
<path d="M242.3 628.2l1.8-.4 1.5 .4 1.1 1-.2 3 .5 1 4.1 2.5 3.6 .5-3.3 7-.1 2 .9 2 2.9 3 4-.2 1 .3 .7 .9-.7 5 1.9 3-1.3 5 1.8 8-.3 3 .4 4-.3 2-1.1 1-5.7 3-1.4 4-5 .5-3.1 3.5-.4 1 .5 3-.3 6-2.7 5-.3 4-4.5 5 .2 1 1.6 2.3-1 .8-2-.5-1.6 .4-2.4 3.4-3 1.4-2.5 2.2-1.5 3.7-3.5 5.3-1.5 6-3.2 3-.9 2-2.7 3 .2 5-1.4 1.1-2 0-1.6 .9-.4 1 .6 3-.4 1-1.2 .5-8-.3-2.5 1.8-3.5 .4-4 2.5-1 .4-1-.3-.1-4-.9-2.7-1 .1-3 2.8-2-.1-2-1.1 0-3-2-4.9-3-3.7-3-1-2-2-3-1.1-.9-1.3 .3-2 .6-1.1 3-1.1 5-3.1 4 .6 3 2.6 1-.5 0-1.8-2.3-5.6 .1-2 1.2-1.4 5-2.1 1-3.3 3-1.8 1-2.4 .4-3-1.4-4.6-.1-2.4 1.1-2.4 4-1.8 .2-.8-1.1-3 1.9-2 .2-1-.5-2 .8-5 1.4-3 .9-4-.1-2-1.1-3 .5-1 5.9-3.1 2 1 1-.3 2.5-5.6 .1-1-1.2-3 .4-2 3.2-3.3 3.7-5.7 1.8-5 2.5-3 3-2 2-4 1.6-2 3.4-2.6 1.2-3.4 1.4-1 2.4-.6 2.2-2.4 5-3zM190.1 737.4l-.8 .8 .3 1 3.8 4 .8-1-1.1-3.2-1-1.1-2-.5zM179.1 743.9l-1 .8-.2 1.5 .2 .8 1 .4 1-.6 .8-1.6-.2-1-1.6-.3zM186.1 744.8l-.1 2.4 1.1 1.8 1-.5 .2-2.3-1.2-1.6-1 .2zM194.1 747.7l-.4 .5 .4 1 1-1-1-.5z" fill="none" stroke="#14a4ff" stroke-width="1.25" stroke-linejoin="round"/>
<path d="M241.9 630.2l2.2-.8 2-.1 5 .6 1 .6 2 4.7 2.8 3-.2 7 1.4 2.8 2.2 1.2 1.3 3 1.3 1 1.2 .2 2-.5 1.1 .3-.8 4 2.3 2 .5 1-1.2 5 1.3 3 .7 4 .1 8-2 2-6 2.6-3-1-.8 .4-1.1 3-3.1 4-1.6 1-.3 1 1 4 .5 5-.6 2-1.9 3-.3 3-.8 2-5.9 6-3.2 2-2.9 2.8-5 7.5-2.8 1.7 .1 3-.8 1-4.5 1.7-2 2.5-3.7 1.8-2.2 2-2.1 1-3.2 3-.6 1 .9 5-.5 1-3.7 2-.6 1-.3 3.2-2 .4-5-2.1-3-.2-2.5-2.3-.5-2 .5-2 3.5-3.5 1 .4 2 2.3 2-.1 0-.7-2-3-1.8-1.4-.2-1 1-2 0-1.1-1-1-2 .4-2-5.1-2.3-2.2-1.7-3 1.1-3 0-6 2.3-8 .2-2 3-6-.5-3 1.5-3-.6-4 1.7-6 .1-3 .8-3-.8-3 .2-1 1-.3 .9 .3 1.1 2.7 1 .3 4.8-5 3.5-7-.3-1.9-1.3-2.1 0-1 4.1-7 2.3-3 1.9-4.3 1.4-1.7 3-2 4.6-6.9 3.6-2.1 1.4-3.7 3-1.2 3-3.5 2.8-1.6zM170.8 743.2l2.3-.9 1.5 .9 1 3-.5 2.3-2 .6-1.5-.9-2.1-3 1.3-2zM180.0 749.2l2.1-.6 1 .2 1.3 2.4-.2 1-3.1 1.7-2 0-1-.5-1-1.2-.3-2 3.2-1z" fill="none" stroke="#14a4ff" stroke-width="1.25" stroke-linejoin="round"/>
<path d="M244.1 631.2l3-.1 3 .8 1.5 1.3 2 5-.3 2 1.1 6 1.7 3 6 6.6 2.8 5.4 .4 4 2.7 5 1.1 9-.5 1-1.5 1.2-4 1.1-5-.6-.9 .3-2.1 3.2-5 2.4 .4 3.4-.5 8 1.8 4-2 4-.4 4-1.3 1.7-4 2.9-6 2-3 2.3-6 .5-.7 .6 0 1 .7 1 3.8 2 .1 1-1.5 2-2.4 .6-1 .8-.7 1.6-.3 3.2-4.5 2.8-.8 2-.7 .6-6 2.5-7 5.8-4-.4-1.3-1.5-1.7-5.2-6.7-6.8-.4-1 .2-4-.8-4 .7-3.1 1-1.4 3-2.3 .7-1.2 .5-3 2.6-5 0-2-2.1-3-.1-1 1.9-6-.5-4 .4-3 .6-1 3-1 2-5 3.7-3 1.3-1.7 1.9-5.3-.6-5 .3-2 2.7-6 3.7-3.3 2-.7 2-1.3 1-.5 3 .4 1-.4 1-1.2 .7-2-.7-1.1-3.6-.9-.2-1 .7-2 2.4-3 3.7-1.3 1.5-3.7 3.5-1.9 2-3.2 1.2-.9 2.8-1zM206.9 750.2l1.2-.9 1.9 1.9 .5 2-.7 1-1.7 .6-1.3-.6-.4-2 .5-2z" fill="none" stroke="#10d0ff" stroke-width="1.25" stroke-linejoin="round"/>
<path d="M242.8 634.2l1.3-.2 2 .7 3-.5 1 .1 .7 .9 .8 2-.6 3 .8 3 .3 4.7 1 1.4 3.7 2.9 2.2 4 2.1 2.3 1.3 4.7 4.3 7 1.4 8-1 1.5-5 1.4-5-.8-6 4.8-2.6 1.1-.6 1 1.1 3 .2 2-1.2 5 .8 4 1.3 3-1.9 4-.2 3-2.1 2-3.8 2-8 1.8-3 2.2-3-.2-1 .5-.5 1.7 .8 4-.8 1-.7 4-1.4 4-3.6 2-2.7 3-4.7 2-5.4 4.1-2 .2-1-.7-3-4.6-5.3-6-.1-3-2-6 .7-2 3.4-2 1.3-3.3 4.4-5.7-2-9 1.3-2 .8-6-1.5-1.8-.3-1.2 .3-.9 1-.2 2 .7 1.2-2.6 .7-5 4.1-3 1.6-2 1.4-5-.1-6 .5-3 2.6-2.5 2-2.9 6-2.6 3 0 1-.7 1.8-4.3 .3-2-1.1-2.2-2.1-.8 .1-1 1-1.4 3-1.1 1.5-1.5 1.5-2.8 3-1.2 2-2.8 1.7-1.2z" fill="none" stroke="#10f0f0" stroke-width="1.25" stroke-linejoin="round"/>
<path d="M246.2 637.2l1.9-.4 1.2 .4 1.1 6-.6 3 .2 2 2.1 3.8 2.7 2.2 4.6 5-.4 3 .3 2 .8 1.4 3 1.2 1.3 1.4 1 3 .1 3-1.4 1.8-.9 2.2-1.1 .9-1 .2-3-1.1-2 .7-2.2 1.3-3.8 3.8-2.9 1.2-.9 1 0 1 1.4 4-.6 1.6-1.6 1.4 .2 3 2.7 7 0 1-2.3 3-2.2 4-2.8 2-4 .2-4 .8-2 2.2-1 .1-1-.8-1 0-2 1.1-1.2 1.4-.3 1 .4 4-1.8 4 .2 2-.8 3-1 1-2.5 1.2-2 2.8-1 .6-3 1-5-.4-3 1.3-2-1.4-4.2-5.1 0-1 1.3-3-.6-5 2.2-6 5.1-6-.1-2-1.6-3-.4-2 .3-1 1.6-2-.5-5 1.6-4 1.8-9 4.5-4 1.4-2 1.1-13 5.5-4.9 3-.4 6-1.9 .6-.8 .2-3 2.2-6.9 0-3.1 .4-1 2.6-3 3-1.4 2-2.4 4.1-.2zM231.1 707.6l-2.6 3.6 .6 3.4 1 .4 1-.6 2-3 1-.8 1 .1 2 1 1.4-1.5-.4-.7-3 0-3-2.1-1 .2z" fill="none" stroke="#18f0a8" stroke-width="1.25" stroke-linejoin="round"/>
<path d="M244.8 639.2l2.3-.8 1.2 .8 .9 4-1 4 4.9 9.5 3.1 2.5-.2 3 1.1 1.6 .7 2.4 1.3 1.3 3.6 .7 .7 1-.5 4-1.1 3-.7 1-3-.7-6 1.8-1 .9-2 3.5-3.8 2.5-.5 1 .3 3.4-3 1.4-.8 1.2 0 1 2.4 3-.1 2 1.8 3 1.1 3-.4 1.2-11 1.4-1.3-.6-1.9-3-1.8-.6-3 .4-2 1.8-2.2 .4-.3 3 .5 1.7 1 .8 2-.3 1 1.2 .4 2.6-.4 1-3 2.7-.6 1.3 .3 5-2.7 4-.3 4-5.8 6-1.9 .5-4-.6-4 .6-1-.2-1.4-1.3-1.7-3-.1-1 .9-2-.3-6 1.5-4 3.2-5 1.9-2 .2-3-1.3-4 .1-1 2-1.8 2.3-1.2-.2-1-2.1-1-1-1.7 0-.4 3.2-1.9 0-2-1.3-2-.4-3 1.7-5 .8-1 5.2-4 .3-1-.5-9 .6-3 4.4-4.3 8-1.6 2-.8 1.2-2.3-.2-4 2.2-5 .6-5 2.2-1.7 4 .1 1-.6 1.7-2.8zM241.0 711.2l.4 1-1.3 0 .9-1z" fill="none" stroke="#20f050" stroke-width="1.25" stroke-linejoin="round"/>
<path d="M245.5 641.2l.6-.7 1 .1 .7 1.6-.7 2.2-1 .5-1.1-1.7 .5-2zM237.9 646.2l4.2-.8 3 1 1 .9 2.3 2.9 2.5 5 .4 2 2.1 3 1.7 7.8 2 1.5 2.3 .7 .2 2-.5 .8-3-.9-4 1.9-4 5.5-4 4.4-1 4.3-2.7 3-.7 2 1.1 3-.5 3 .8 1.4 2 .6 .6 1-.2 1-1.4 .1-2-1.5-6 1.1-3-1.3-4-.5-2 .8-4 .1-1.7 1.2-.4 1 3.2 7 .9 .9 2 .3 1.1 .8 .1 1-.7 1-2.8 2-.5 3 .3 4-2.7 4-1.1 4-3.9 4-1.8 .9-8 .3-1-.5-.9-1.7 0-1 1.6-2 .2-1-.9-.7-1.4-2.3 .2-4 1.4-3 4.8-5.9 .3-4.1-.5-4 .6-1 1.6-.9 3-.1 1.5-1-3.6-4 .5-4-.4-3-1.1-2 0-2 1.8-4 2.3-2.2 1-.2 4 1.2 1-.5 1-1.3 .1-2-2.3-2-.9-2-.6-6 .7-2 1.3-2 2.7-2.3 8-1.2 2-1.1 1.5-3.4-.2-4 2.2-4 .6-3 .7-1z" fill="none" stroke="#58f010" stroke-width="1.25" stroke-linejoin="round"/>
<path d="M241.7 647.2l1.4 .3 3.4 2.7 3.3 5 .3 3.3 2.3 2.7 .3 4-1.8 4-2 7-1.5 2-4.6 4-1.2 5-3.2 5 1 4-1 4-1.3 .9-2 .3-8-1.5-3 .9-3-.2-3 1.4-3-.3-1.6-1.5-.2-1 0-7-1.1-2 1.4-3 .4-2 .9-1 1.2-.3 4 1.6 2-1.3 1-1.8 .3-1.2-.3-1.8-2-2.2-.4-1 .1-6 .7-3 2.6-2.1 3-.8 3 .2 3-1.5 2.3-3.8 .7-4.3 2.1-1.7 .6-4 .7-1 2.2-1zM216.7 706.2l1.4-.3 1 .9 1.2 3.4 2.2 4-1 3 0 7-2.1 3-1.5 4-1.8 2-2 .8-4 0-1 1.3-3 .3-.4-.4 2.4-2.4 .2-1.6-1.2-2.6-2-.3-1-.8-.3-2.3 .4-2 1.1-2 1.8-1.8 3.3-.2 .4-1-.6-4 0-6 .3-1 1.6-.5 2 2.1 1-.5 1.6-2.1z" fill="#a8f008" fill-opacity="0.25" stroke="#a8f008" stroke-width="1.25" stroke-linejoin="round"/>
<path d="M241.2 650.2l.9-.4 1 .3 2.7 3.1 2.6 2 .5 4 2.2 2.5 .3 1.5-.4 3-3.5 10-5.4 4.4-1.9 5.6-2.3 2-1.2 4 1.6 4-.6 2-.6 .9-1 .3-5 .5-2.5-.7-2.5-2-2 1.9-4 0-2 1.2-2 .1-1.3-1.2-.7-4 .5-3-.2-2 1.2-4 .5-.7 4 1.6 2-.5 2.1-4.4-.1-3-1.5-3-.3-5 .6-3 1.2-1.2 2-.5 2 1.3 4 .7 1.1-.3 .3-1-.5-2 .4-1 4.7-7.2 2-1.3 .3-3.5 .8-2zM229.1 672.8l-.4 .4 .4 1.1 1.2-1.1-1.2-.4zM211.9 711.2l1.2-.3 2.1 .3 .5 1-.6 2 1 1.8 1.5 .2 1.5-2.6 1 1.4 .4 8.2-4 8-2.4 1.4-2-.3-1.9-1.1-1.6-3-3-3-.4-1 .4-2 1.5-1.7 1-.1 2 .6 1.2-.8 .5-3-.7-4 .8-2z" fill="#a8f008" fill-opacity="0.25" stroke="#a8f008" stroke-width="1.25" stroke-linejoin="round"/>
<path d="M241.8 653.2l.3-.5 1 .1 4 2.9 1.1 4.5 2 3-.8 4-1.8 4-.9 4-1.6 1.4-3 .7-2.5 6.9-3.2 3-1.6 5 .2 2-.5 1-1.4 1-1 2.2-1 .4-1.9-.6-1.1-2.7-1-.5-5 2.7-5 .7-1-.4-1-1.6-.2-1.2 1-5 .6-1 1.6-1.1 5 .1 1-.8 .5-1.2 .5-6-.7-4 .2-2-1.2-3 .7-2.5 1-.4 1 .3 1.8 1.6 0 1-1.4 2-.2 1 1 1 1.8 .9 3-.9 1.4 1 1.6 2.5 1 .3 .4-.8 .4-2-.3-1-.8-1-2.7-1.4-1-1.6 2.7-3-.4-3 .7-1.8 4-4.5 2.3-1.7 .4-4zM212.9 717.2l1.2-.9 3 2 2 .8 .3 1.1 0 2-1.8 5-1.5 2.6-2 1.5-2-.3-1.2-.8-3.7-5-.8-2 .7-1.6 1-.2 2 .9 1.3-.1 .7-1.1 .8-3.9z" fill="#f0f008" fill-opacity="0.25" stroke="#f0f008" stroke-width="1.25" stroke-linejoin="round"/>
<path d="M244.5 658.2l.6-.7 1 .3 2.4 5.4 .1 1-.9 4-2 3-.4 3-1.2 .5-3-1.2-3 .5-2.7-1.8-.7-1 1.2-3-.7-3 .2-1 5.4-5 3.7-1zM226.0 677.2l1.1-.3 2 .5 3-.8 1 .7 1.1 2.9 .9 .9 1 .1 2-1.1 .6 .1 .4 1-.5 2-.6 1-2.5 2-.5 3-1.1 2-.8 2.6-2 1.9-1-.1-1.6-1.4-1.4-.4-1 .2-4 2.8-2 .2-3-.6-1-1.2 1.1-5 1.9-1 5 .6 1-.8 1.7-2.8 .3-2-1-2.9-.1-4.1zM213.9 718.2l1.2 .3 2.9 2.7-1.4 6-1.5 1.7-2 .6-2-1-2.6-3.3-.7-2 .3-.4 3 1.1 1.6-.7 1.2-5z" fill="#ffb808" fill-opacity="0.25" stroke="#ffb808" stroke-width="1.25" stroke-linejoin="round"/>
<path d="M241.0 661.2l1.1-.8 3 0 1.8 2.8 .1 2-1 3-1.9 3.3-1 .6-1.8-.9-1.2-2.2-3-1.3-1-1.6 .2-1.9 3.8-1.9 .9-1.1zM238.1 670.2l1.1 1-1.4 0 .3-1zM230.1 678.2l2-.4 .9 1.4 .4 3 .7 .9 2.2 .1-2.2 1.8 .4 3.2-2.2 5-1.2 1-4-1.5-2-.1-.9 1.6-2.1 1.8-1 .3-2-.5-.9-.6-.4-1 .4-3 1.9-.8 5 1.4 3.5-6.6-1.5-5 .4-1 2.6-1zM215.0 724.2l1 1-.1 1-.8 .9-2.2 .1-1.9-1 4-2z" fill="#ff6c08" fill-opacity="0.25" stroke="#ff6c08" stroke-width="1.25" stroke-linejoin="round"/>
<path d="M242.1 662.2l1-.7 2 .5 1 2.2-1.8 5-1.2 1-2-3.9-1-.6-2 1-1-.3-.4-1.2 .4-.8 1-.4 2 .6 2-2.4zM230.2 679.2l.9-.3 .7 .3 .3 1-.4 4 1.6 2 .6 2-2.8 5.1-2-.5-2.3-1.6 .5-2 2.6-4-1.4-4 .3-1 1.4-1zM220.1 692.2l2 0 1.1 1-.1 1-1 1.1-1 .4-1.5-.5-.4-1 .9-2z" fill="#f81808" fill-opacity="0.25" stroke="#f81808" stroke-width="1.25" stroke-linejoin="round"/></g>
<line x1="250.4" y1="509.2" x2="250.4" y2="818.6" stroke="#111" stroke-width="1.9"/>
<line x1="118.1" y1="699.7" x2="424.3" y2="699.7" stroke="#111" stroke-width="1.1"/>
<text transform="translate(298 554.3) scale(1 1.04)" font-size="31.6">11.37%</text>
<rect x="478.4" y="507.6" width="308.1" height="309.6" fill="#fff" stroke="#1a1a1a" stroke-width="1.5"/>
<path d="M501.8 817.2v6.8M539.4 817.2v6.8M600.4 817.2v6.8M661.9 817.2v6.8M723.1 817.2v6.8M786.5 817.2v6.8M557.76 817.2v4.5M568.5 817.2v4.5M576.13 817.2v4.5M582.04 817.2v4.5M586.87 817.2v4.5M590.95 817.2v4.5M594.49 817.2v4.5M597.61 817.2v4.5M618.91 817.2v4.5M629.74 817.2v4.5M637.43 817.2v4.5M643.39 817.2v4.5M648.26 817.2v4.5M652.37 817.2v4.5M655.94 817.2v4.5M659.09 817.2v4.5M680.32 817.2v4.5M691.1 817.2v4.5M698.75 817.2v4.5M704.68 817.2v4.5M709.52 817.2v4.5M713.62 817.2v4.5M717.17 817.2v4.5M720.3 817.2v4.5M742.19 817.2v4.5M753.35 817.2v4.5M761.27 817.2v4.5M767.41 817.2v4.5M772.43 817.2v4.5M776.68 817.2v4.5M780.36 817.2v4.5M783.6 817.2v4.5M508.57 817.2v4.5M514.96 817.2v4.5M520.6 817.2v4.5M525.11 817.2v4.5M528.87 817.2v4.5M531.88 817.2v4.5M534.51 817.2v4.5M536.77 817.2v4.5M497.12 817.2v4.5M491.97 817.2v4.5M485.42 817.2v4.5M478.4 817.2v4.5" fill="none" stroke="#111" stroke-width="1.45"/>
<path d="M478.4 508.4h-9M478.4 576.4h-9M478.4 642.1h-9M478.4 710.3h-9M478.4 792.1h-9M478.4 555.93h-5.2M478.4 543.96h-5.2M478.4 535.46h-5.2M478.4 528.87h-5.2M478.4 523.49h-5.2M478.4 518.93h-5.2M478.4 514.99h-5.2M478.4 511.51h-5.2M478.4 622.32h-5.2M478.4 610.75h-5.2M478.4 602.54h-5.2M478.4 596.18h-5.2M478.4 590.98h-5.2M478.4 586.58h-5.2M478.4 582.77h-5.2M478.4 579.41h-5.2M478.4 689.77h-5.2M478.4 677.76h-5.2M478.4 669.24h-5.2M478.4 662.63h-5.2M478.4 657.23h-5.2M478.4 652.66h-5.2M478.4 648.71h-5.2M478.4 645.22h-5.2M478.4 767.56h-5.2M478.4 751.2h-5.2M478.4 738.93h-5.2M478.4 729.93h-5.2M478.4 722.57h-5.2M478.4 716.03h-5.2M478.4 811.5h-5.2" fill="none" stroke="#111" stroke-width="1.45"/>
<text transform="translate(501.8 849.7) scale(1 1.04)" font-size="26.1" text-anchor="middle">0</text>
<text transform="translate(539.4 849.7) scale(1 1.04)" font-size="26.1" text-anchor="middle">10<tspan font-size="17" dy="-7.7">2</tspan></text>
<text transform="translate(600.4 849.7) scale(1 1.04)" font-size="26.1" text-anchor="middle">10<tspan font-size="17" dy="-7.7">3</tspan></text>
<text transform="translate(661.9 849.7) scale(1 1.04)" font-size="26.1" text-anchor="middle">10<tspan font-size="17" dy="-7.7">4</tspan></text>
<text transform="translate(723.1 849.7) scale(1 1.04)" font-size="26.1" text-anchor="middle">10<tspan font-size="17" dy="-7.7">5</tspan></text>
<text transform="translate(786.5 849.7) scale(1 1.04)" font-size="26.1" text-anchor="middle">10<tspan font-size="17" dy="-7.7">6</tspan></text>
<text transform="translate(468.2 519.6) scale(1 1.04)" font-size="26.1" text-anchor="end">10<tspan font-size="17" dy="-7.7">6</tspan></text>
<text transform="translate(468.2 587.6) scale(1 1.04)" font-size="26.1" text-anchor="end">10<tspan font-size="17" dy="-7.7">5</tspan></text>
<text transform="translate(468.2 653.3) scale(1 1.04)" font-size="26.1" text-anchor="end">10<tspan font-size="17" dy="-7.7">4</tspan></text>
<text transform="translate(468.2 721.5) scale(1 1.04)" font-size="26.1" text-anchor="end">10<tspan font-size="17" dy="-7.7">3</tspan></text>
<text transform="translate(455.8 803.3) scale(1 1.04)" font-size="26.1" text-anchor="end">0</text>
<g clip-path="url(#cb1)"><path d="M478.4 715.5l1-1.9 .4-4 1.1-2 3.5-4.3 1-.7 3-.3 1-.7 2-3.4 3 .6 1.3-.2 2-1 2.7-2.5 1-.3 3 1.4 3 2.8 3 1.3 3 3.2 6 1.1 6 .1 3-3.2 4-2.5 2-.3 3-2.3 6.9-3.8 2.1-3.2 3-1.7 1.1-1.1 2.2-7-.2-4 1.2-4 3.7-7.7 4-2.6 1.7-5.7 2.3-4.1 1.3-4.9 4.1-4 .6-2 2.3-3 .7-3 1-1.2 1-.7 3-.4 3-1.1 8.8-7.6 .9-2 .9-5 2.3-4 1.1-3.2 1-.8 3-.7 3-1.5 4-.1 2-.6 1.3-1.1 .7-3 1-1 1.5 0 2.5 1.2 4-.8 4-1.9 5 .4 2-1 2.4-3.9 2.6-1.8 6-1.2 2 1 2 5 2.7 3 0 2-1.3 2 .2 2 3.7 3 2.8 5 1.2 5 2.9 2 .4 1-1.4 2-.1 1 1.8 4-1.6 3 0 3 1.6 4 1.5 9-1.6 3-.7 8 .8 4 1.8 3 .1 1-.8 1.5-4.1 1.5-5.2 5 .2 4-2.2 2 .3 3-1.1 3 .9 3-.4 2-6 5-1.4 4-2 2.3-1.1 3.7-4.9 6.2-.9 2.8-.2 4-3.7 10-1.6 3-5.1 3-1.8 4-4.7 3.7-3.8 1.3-4.2 2.2-4 4.8-2.7 2-.2 5-.8 2-5 3-2.3 3.4-3 1.5-4-.4-2 .4-2 2.9-1 .4-2.6-.2-1.4 .9-.3 2.1-1.7 2-3 .3-3 1.6-1-.3-2-2.6-3-.2-1-.5-1.6-3.3-2.4-1.6-3 .2-3 1.3-4 .8-1.3-.7-3.7-7.2-4-4.1-2-3.5-1.2-1.2-2.8-.6-1 .4-1 1.2-2 .6-1-.4-2-2.2-3-1.8-6-.8-1.6-1.4 .3-3-.7-1.9-1-.5-8-.6-.6-1 .3-2-2.7-1.5-1-.2-1 .5-.5 2.2-.6 1-.9 .4-4-.8-3 .9-1-.7-1-1.8-1.7-5-3.3-.9-3.2-3.1-2.8-1.3" fill="none" stroke="#0808f8" stroke-width="1.25" stroke-linejoin="round"/>
<path d="M637.8 602.6l1.6 0 1.8 1 2 4 3.8 3 .1 1-2.7 2.9-.6 2.1 .6 1.5 2 .7 .8 2.8-.5 1-2.9 2-.1 2 1 3 1.7 2.9 3 0 .7 1.1-.7 .7-2 .2-.5 2.1 .5 1 2.4 2-.5 5 3 5-.2 2-2 2-.3 1 2.1 3 .2 3-.7 1.3-2 .8-.6 .9-.1 2 .7 3-3 4-1.9 4-.6 5 .4 4-.3 3-2.6 2.1-5.6 7.9-3.2 2 .1 9-1.3 1.8-3 1.5-1 1.2-2.4 6.5-3 3-1.8 5-.8 .4-2-1.6-3 4.3-3 1.9-.6 3-3.6 5-1.8 1.5-3 3.8-2.9 1.7-3.4 4-.8 3 .6 3-.3 1-5.2 1.6-1 3.9-2 .5-3-.8-7-.8-3 2-2.6 .6-1.4 3-1 .8-2-.3-3-2.2-5.5-2.3-.5-.9-.2-2.1-1.8-1.7-2 .1-2 1.9-1 .4-1-.2-4.9-3.5-1.9-5-1.2-1.4-10-2.6-2.9-2-3.1 0-3-1.5-.5-1.5 .5-1.2 4.1-1.8 .6-1-2.1-3-.1-2 1.3-3 2.2-2 1.4-3-1.5-3 .1-3-1.4-2-.4-2 0-2 1.9-4 .9-.7 5.3-1.3 1.7-2 1-.2 4 1.4 .6-.2 1.7-11 2.1-3 4.6-3.9 2.1-3.1 1.9-5.1 2.8-2.9-.9-3 .5-5 .6-.8 2.2-1.2 1.4-4 2.9-3 1.6-3 2.9-3.1 2-5.3 6-8.1 2.1-1.5 1.9-3 .4-4 3.6-1.8 2-2.5 3-1.7 4-4 1.4-2 2.6-5.9 3.5-2.1 1.8-3 1.7-1.4 6.8-1.6 8.2-3.2 7 3.1 3 2.5 2 .5 1.5-.9 .2-5 .9-2 .6-1 2.2-1zM488.3 711.6l1.2 0-.1 1-1.1-1zM509.0 713.6l1.4-.5 2.5 .5-.1 1-2 1-1.2 1-.2 1-.9-3 .5-1zM502.1 718.6l1.3-.8 4 2.6 1-.8 1-2 1 0 1.7 1 .4 1-1.1 2.4-2.6 2.6-.5 3-2.6 2-2.7 4-1.6 .4-.8-.4-.3-1 2.2-2 .2-2-.9-2-1.4-1.1-.8-1.9 2.5-5zM520.0 727.6l6.2 2 .7 1-.1 2-.4 .4-3 .2-3 1.2-1-.8-.2-1 .5-2-.2-2 .5-1z" fill="none" stroke="#0a28ff" stroke-width="1.25" stroke-linejoin="round"/>
<path d="M613.9 611.6l2.5-.3 5 1.6 4 .2 1 .5 .6 4 1.4 .8 2 .2 1.6 1 .4 3.1 2.8 4.9 3.2 1.4 3.7 4.6 .8 5 2.1 4 .5 4-.1 1-1.5 2 .4 6-1.4 4 .3 3-.4 2 .9 3-.3 1.1-3.2 1.9-.7 1 1.2 10-.3 2.7-2.8 5.3-4.4 3-2.2 4-3.6 2.7-2.7 3.3-.4 1 .4 4-3.3 5.1-.1 4.9-.5 2-2.2 2-3.2 .5-1 .6-2.7 2.9-1.4 3-2.9 1.7-3 3.1-3.4 6.2-.1 4-1.5 1.3-5 1.9-2 4.8-3 3.3-2 3.3-1 .5-3 .2-4 1.7-3-.6-3 .5-3-1.6-3 .1-2-1.4-1-.1-3 1.6-2 0-2.2-1.5-.6-2-4.3-1-2.9-2.8-3.5-2.2-4.7-1-2.8-1.6-4-.1-1-1.1 0-3.2-1-3 .2-2 3.8-5 3-1.9 .4-1.1-.4-2.8-3-.4-1.4-.8-.5-1 .1-3-1.9-3 0-2 .7-1.2 2-.4 1.2 .6 1.8 3.7 1 .3 2-1.8 1 0 3 .7 2 1.2 2-.5 .4-1.6-.4-3 1.9-3 1.1-3.5 2.1-1.5 .9-3.7 1.8-2.3 1.2-3 .2-3-1.2-5 1-1.6 2.2-1.4 2.2-3 3.4-3 1.3-3 3-3 1.2-4-1.2-3 .3-3 5-11 1.6-2.3 8.8-7.7 .6-4 2-5 7.6-8 5.8-7 4.7-3 1.5-2.3 5.5-2.7zM540.4 722.5l-1 .9 0 2.3 1-.1 .8-1 0-1-.8-1.1z" fill="none" stroke="#1050ff" stroke-width="1.25" stroke-linejoin="round"/>
<path d="M616.6 615.6l1.8-1 2 .6 2.4 1.4 2.6 3.6 3 .8 .6 .6 .5 3 4.9 7.5 1 .8 3 .8 1.4 1.9-.4 2.7-1 .2-2-1-.7 .1-.3 1 2.2 2 2.8 .7 1.9 2.3 0 2-1.4 4 1.4 4-1.5 3-1.6 7 1.3 4-3.1 1-1 1-.9 3 .3 2 2.1 3 .3 2-.2 3-1.5 5-1.1 1.3-4 1.6-1 .8-1 3.3-3 2.4-3 4-3.4 2.6-.3 2 1 2-2.1 4-1.5 7-4.7 2.9-2.6 1.1-1.4 1.5-1 .5-2 .1-2 1.2-.6 .7-.4 2.1-1.5 1.9-.7 4-1.8 3-.4 3-.8 1-4.8 2.5-4.2 4.5-.9 1-.1 3-1.8 1.8-2 .6-3 2.3-5 .9-2-.1-4-1.6-3-2.8-4 .2-4-3.4-4 .2-3-2.1-8-2.3-1.5-1.7-1-3-3.2-2-.6-2 4.3-5.7 .8-3.3 1.6-3 .6-2.5 1-.6 5-.5 1.2-.4 .7-1 .2-2-.7-3 .2-1 3.4-4.6 3-2.6 1-1.5 2.2-7.3-.2-3 .5-6 1.5-1.7 2.6-1.3 .8-3 4.6-3.6 1.2-3.4 2.8-4.4 .2-2.6-1.6-4 1.8-7 2.6-4 3-1.9 1.7-3.1 5.8-4 .5-2-.5-4 3.3-6 2.8-4 8.4-8.6 2-1.5 2.4-.9 2.6-2.6 1-.3 3 1.2 2.2-1.3z" fill="none" stroke="#1478ff" stroke-width="1.25" stroke-linejoin="round"/>
<path d="M617.4 618.6l2 0 2.6 2 .6 1-.1 3 .5 2 7.4 5.5 2 3.5 .3 4 5.6 5-.5 3-3.8 7-.4 2 .9 9-.7 2-.2 7 .8 1.8 2 2.1 .2 1.1-.6 3-1.6 4-6.3 3-.9 1-1.4 4-3.4 3.3-3 1.4-1.7 1.3-1.8 4 .2 5-.9 3-.5 4-2.7 3-5.6 1.9-8.6 5.1-.4 1 0 4-1.2 2-.8 3.5-1 1.4-1.7 1.1-1.4 2-3.3 2-1.6 2.2-4 1.8-4-.9-3 .9-.6 1-.3 3 1.6 3 0 1-1.7 .4-1-.5-.6-.9-.6-4-.8-.7-3 .4-3-1.7-3-.2-3-1.1-3 .9-6-3-4-.3-.9-1.3 .9-1.6 1-.6-3-.9-1.1-1.9 1.1-4-.4-4 .5-2 1.8-3 1.1-1 4.9-1 2.1-1.7 .8-2.3-.9-3 .3-2 1.8-2.7 1-.6 3 .3 1.3-1 .5-1-.7-3 .9-2.2 2.9-.8 2.1-1.3 4-.5 1-1.1 0-3.4-2 .4-.5-1.1 2.5-4.6 2.9-14.4 1.9-3 .8-4-.3-4 2.7-3.6 1.3-6.4 3.8-6 1.9-1.3 2 .3 4-3 .2-3-2.3-3 2.5-7 3.1-4 6.5-6.7 7-3.9 4 .9 3-1.3z" fill="none" stroke="#14a4ff" stroke-width="1.25" stroke-linejoin="round"/>
<path d="M609.4 621.6l2-.2 5 2.1 3-.8 1 2.6 0 3.3 .5 1 3.5 .8 4 2.8 2.3 4.4 .9 3 2 2 1.9 3-.1 2-1.8 4-1.2 .8-3-.2-1 .6-.7 3.8 .7 1.7 2-.5 1.2 .8 .3 2-1.3 7 .9 3-.9 3 .8 .7 2 3.8 1.7 1.5-.3 2-1.4 2-2.6 2-4.4 2.1-2 6-2.2 1.9-3.8 2-2 2-2.9 5 1.2 4-.6 2-1.4 2-.2 3-1.1 2.3-1 .7-4 1.1-5 3.2-1.4-.3-.6-1-.1-2-.9-.7-4.7 4.7-.4 2 .6 10-.5 1.2-3 1.8-1 1.8-1 .4-3.1-1.2-2.3-3-1.6-.4-1 .4-.5 1 .5 1.5 1.4 1.5-.1 1-2.1 2-1.2 .6-5 1-4 2-4-1.5-3 .6-3-1.5-2 1-2-.3-2.7-1.9-3.3-4.3-3-2.7 .2-6 2.1-4 5.7-2.7 1.5-1.3 1.8-3 0-2 .5-1 3.3-2 2.9-4.8 3.5-1.2 1.5-3.5 2-.8 2 .2 3 2.1 2-.2 .8-.8 1.7-3 .1-1-1.6-1.3-3 0-1-.2-.2-.5 .2-1.4 2-3.6-1.8-3-.2-2 1.4-3 0-7 .6-1.2 2.1-1.8-.3-4 1.3-3-.7-2 2.8-4 .9-5 .9-1.9 2-1.2 2 0 1-.6 5.5-6.3 1-6-.5-1.7-1.6-2.3 0-1 1.4-4 7.6-9 6.6-3z" fill="none" stroke="#14a4ff" stroke-width="1.25" stroke-linejoin="round"/>
<path d="M604.7 624.6l4.7-.4 3 1.2 5.1 1.2 .8 1 1.1 3.3 6 3.4 4.1 4.3 1.9 7-2.3 4-2.4 3-.7 3-1.7 4 .2 2 3.1 9-.3 3 2.9 3 .3 1-1.6 5-.5 1-1 .2-2-.4-2 .2-.8 1 0 1 1.2 3-.4 1.9-1 .9-2.1 .2-.9 2.3-2 .9-3.5-.2-.9 1 .3 1 1.1 1.1 .2 1.9-1.2 1.7-2.7 2.3 .1 2 2.1 3-.5 1.2-1 .6-2 0-1 1.2 1 4.1-1 .8-4.5-2.9-.1-3-.4-1.1-1-.8-3 2.2-3-.5-3.9 1.2-2.1 3.4-4 2.6 .2 4-1.7 4 .5 .7 3-2.3 2 0 1 .8 .6 1.8-.1 3-.5 2.2-.9 .8-4.1-.3-2 2.1-7 .5-3 2.5-2.6 1.2-.4 .9-4-.2-5 2.8-1.7-1.5-1.3-3.8-1-.2-2 3.1-1 .6-1-.2-2.3-1.5-.7-2.4-2.3-2.6 .1-2 2.1-4 1.2-1 1.9-.7 3.9 .7 .9-1 .6-2 2.2-2-.4-4 2-2 1.8-4 3.1-1 2.9-1.9 10 .2 1-.3 .8-1 .7-4-2.1-5 0-3-1.4-2.4-2.4-2.6 .5-3-.1-6.5 2.4-3.5 .2-4 1.7-3 .2-3 2-4 .5-4.1 1-.9 4 .1 4-.8 1-.6 0-1.3-2-.7-.7-.7 1.6-2 2.1-.7 .6-1.3 .6-9-.2-1-1.9-3 .4-2 6.5-9.3 2.3-1.7zM602.4 704.6l-.8 1 .8 1.6 1-.1 .7-1.5-.5-1-1.2 0zM575.2 739.6l1.2-.9 1.2 .9 0 2-1.2 1-1.1 0-1-1 .9-2z" fill="none" stroke="#10d0ff" stroke-width="1.25" stroke-linejoin="round"/>
<path d="M604.3 625.6l2.1-.2 4 2 5.7 1.2 3 4 8.3 5.9 .9 1.1 .4 5-.6 3-2.5 4-1.2 3.8-1.3 1.2-.4 2 .7 4.8 2.4 7.2 0 3 .6 1.3 1.8 1.7 .3 1-4.1 3.4-3 1.1-1.3 5.5-4.5 4-3.2 1.4-3 3-6.2 .6-.9 1 .1 .6 3 2.2 0 1.4-5.4 1.8-1.4 1-1.3 3-1.9 1.3-2 .3-6-3.1-1-.9-1.5-2.6-1.1-3 .6-3-.2-1-3.5-6-1-7 2-4 5.5-18 8.2-1.7 1.9-1.3 .2-3 1.7-9-1.7-10 .7-2 2.5-3 1.5-3 2.1-2zM606.4 707.6l1 0-1 1.3 0-1.3zM575.4 710.6l2-.5 3.4 .5 1.3 1 1 2 .3 3 1.4 4-.1 1-1.8 3-.2 1 1.1 4-1 2-1.4 1-4 .9-4 1.9-9 3.1-1 .1-2.3-3-1.7-1.1-2 .2-2 1.5-1-.3-2.2-2.3-.4-1 .8-1 7.2-3 2-3 2.6-2-1.2-5 2.6-5 1.6-1.1 5-.9 3-1zM587.6 710.6l1.8-.6 .7 .6 .3 1.1-1 1.9-1 .3-1.1-.3-.5-1 .8-2zM589.1 725.6l1.3 .3 .5 1.7-.5 1.9-1 .8-2-.7-.3-1 .9-2 1.1-1z" fill="none" stroke="#10f0f0" stroke-width="1.25" stroke-linejoin="round"/>
<path d="M604.2 626.6l1.2-.2 4 2.3 3 1.1 3 .4 7.5 7.4 .7 2-.1 3 2.9 3 0 2-3 4-2 3.6-.3 1.4 .9 9 2 5 .2 3-1.3 4-3.3 3-.9 4-1.3 1.9-3.1 1.1-2.9 3-3 .8-.4 2.2-.6 .4-6 1.9-.9 1.7 .7 3-.4 1-3.9 2-1.7 3-.8 .5-6.8-3.5-1.7-2-.3-1 .9-3-.2-2-.9-2-2-2.4-.5-2.6-1.7-4-.1-2 3.4-7 1.7-6 2.2-3.7 0-3.8 1-.7 7.8-1.8 1.8-1 0-5 1.6-7-1.6-12 2.7-4 1.3-3 1.2-1zM574.1 712.6l2.3-.9 2 .1 1.2 .8 1.3 2 2.4 6-1.9 4.2 .6 4.8-1.6 1.6-5 2.2-7 2.4-3 .1-2-1.3-1.6-2-.2-1 .9-4 2.9-2.7 .4-1.3-1.2-5 1.8-3.7 1-.9 4-.3 2.7-1.1z" fill="none" stroke="#18f0a8" stroke-width="1.25" stroke-linejoin="round"/>
<path d="M604.0 627.6l1.4-.3 1 .5 4.2 2.8 1.8 2 3-.5 5.4 4.5 1.3 2 .2 2-.6 3-2.3 2 .1 1 1.9 .7 .5 1.3-1.5 6.7-.7 8.3 .6 6 1.4 2-.1 1-1.2 1.8-.8 3.2-1.2 2-1 4.3-3 1.6-4 3.2-3-.3-1 .6-1.2 1.6 0 2-5.2 3-.5 1 .4 3-.5 1.5-4 1.6-3 .5-1.1-.6-.3-2-2-2-.8-2 .2-2.1 1-1.4 2.2-1.5-.1-1-2.1-.4-3 .1-1-.7-2.9-5-.1-2 2-3.5 2.7-8.5 2.3-3.2 1.9-3.8 5.1-2.3 4-.9 1.4-.8 .5-1-.2-1-1.7-1.6-.4-1.4 .3-3 1.6-4-.3-4-1.2-4-.4-5 4-7zM574.1 713.6l2.3-.7 1.6 .7 1.8 2 2.2 4 .1 1-1.8 5 .4 3-.3 1-5 2.9-7 2.3-2-.1-1.6-1.1-.5-1-.7-4 .3-1 2.8-3 0-2-1-4 1.7-3.1 4-.7 2.7-1.2z" fill="none" stroke="#20f050" stroke-width="1.25" stroke-linejoin="round"/>
<path d="M604.2 628.6l1.2-.3 1 .6 3 2.3 2 2.6 1 .3 3-.5 1 .4 4.6 4.6 .3 2-.6 2-2.3 1.6-.7 1.4 .7 3.9 1 2.1 .4 2-.5 6-1.1 4 .5 3-.6 3 .9 3-2 6-.6 3.5-2 .9-3 3.2-4.3 .4-3.7 3-1.4 3-3.6 2.5-1-.2-2.7-4.3-1.3-.9-6-1.8-3.4-4.3 1.6-4 .4-3 1.3-4 4.1-6.5 4-1.8 1-.1 2 .7 1-.2 .9-2.1 1.1-.8 5-1.2 .1-2-4.6-4-.8-2 2.1-4 .1-1-.1-5-1.7-3-.3-5 3-6zM596.1 697.6l1.3-.8 1 1.7 0 1.3-1.3 .8-2.7 .3-.5-1.3 2.2-2zM574.0 714.6l2.4-.5 1 .6 1.7 1.9 1.4 3 .2 2-1.2 4-.3 3-3.8 2.9-7 1.9-1-.1-.8-.7-1.6-4 2.7-4-.7-6 1.4-2 5.6-2z" fill="none" stroke="#58f010" stroke-width="1.25" stroke-linejoin="round"/>
<path d="M605.0 629.6l1.4 .4 1.9 1.6 2.1 3.3 1 .4 4-.6 1 .3 3.9 4.6-.3 2-2.6 1.4-.8 1.6 .3 3-.4 3 2 2 .6 2-.5 5-1.2 3 .1 4-.8 2 .5 6-2.5 6-3.3 3.8-1 .6-4 .7-3.6 2.9-2.4 2.7-1 .6-1 0-3-2.8-5-.9-2.6-1.6-1.8-4 .6-3 0-3 1.5-4 4.3-6.1 3-.8 4 .6 3-3.1 4-.5 1.6-2.1 .4-2-.5-1-3.6-3-1.3-2 .1-1 1.7-3 0-3 .6-2-.6-3-1.6-2-.6-4 1.8-4.7 .6-.3zM607.4 643.2l-1.7 1.4 2.7 3.7 1 .2 3-3.9-.6-1-4.4-.4zM574.0 715.6l1.4-.5 1.5 .5 1.5 2 1.3 3 .1 2-1.4 5.1-1 1.2-3 1.4-7-.8-.8-.9 .2-1 1.5-2 .6-2-.7-3 .1-2 .7-1 1.4-.9 3.6-1.1z" fill="#a8f008" fill-opacity="0.25" stroke="#a8f008" stroke-width="1.25" stroke-linejoin="round"/>
<path d="M605.4 631.6l1 0 1.4 2-.3 2-1.1 .7-1-.1-1-1.6 0-1.1 1-1.9zM610.8 636.6l4.6-1 1.4 1 .3 2-5.7 3-1.5 0-1.2-1 0-2 .7-1.5 1.4-.5zM613.3 646.6l1.1-.5 1 .4 .2 1.1-.8 3 3.3 3 .5 2-.5 3-1.4 3-.4 4-.7 2-.1 5 .5 2-.5 2-1.1 1.5-2.5 1.5 .1 2-1.3 2-5.3 1.4-5 4.1-1 .1-3-1.9-4 .6-3-1-1.6-2.3-.5-2 .4-3-.5-3 1-3 4.6-6 2.6-.5 4 .3 3-2.5 3-.3 2-1.4 1.6-2.6 .5-2-1-2-2.4-2-.6-1 .2-2 .7-.9 4 .3 .6-.4 1-3 1.3-1zM575.2 716.6l1.2 .3 1 1.3 1.8 3.4-1.3 5-.7 1-1.8 .8-5-.1-1.2-.7 1.1-4-.5-4 .3-1 1.3-1 3.8-1z" fill="#a8f008" fill-opacity="0.25" stroke="#a8f008" stroke-width="1.25" stroke-linejoin="round"/>
<path d="M611.8 637.6l2.6-.8 1 .2 .3 .6-1.3 1.2-3 1.3-1-.1-.2-1.4 1.6-1zM607.6 652.6l2.8-.1 3-.8 3.9 1.9 .8 2-.7 3-1.7 3-1.6 10-.7 1.5-3.5 1.5-.5 1 .1 4 .9 2.4-1 .9-6 1.6-3 3.4-1-.1-3-2-1 0-3 1.5-2-.5-1.2-1.2-.8-2 .2-4-.9-3 .6-2 5.1-5.9 6-.4 3-2.1 1-.3 2 .4 2.7-2.7 1.8-3 .4-2-.4-2-2.8-3 .5-1zM605.4 668.0l-1.7 1.6-.4 1 .1 5.2 3-.7 1.7-1.5 0-3-.7-2-1-.8-1 .2zM612.7 674.6l.7-.7 1.1 .7-.1 1.9-1 .6-1.3-.5 .6-2zM574.9 718.6l1.5 .2 1.7 1.8 .4 1-.1 2-1 2.5-1 1-2 .3-2-.3-1-.5-.2-1 .6-5 .7-1 2.4-1z" fill="#f0f008" fill-opacity="0.25" stroke="#f0f008" stroke-width="1.25" stroke-linejoin="round"/>
<path d="M612.5 653.6l1.9-.6 2 .6 1 1 .2 2-1.2 2.3-1.8 1.7-1.1 10-1.1 1.3-2 .4-1-1.1-1.7-4.6 .1-1 2.3-3 .8-2 .1-5 1.5-2zM594.3 669.6l6.8 0 .3 2.7-1 3.4 0 2.2 1 .7 5-.8 1 .8-1.3 3-3.7 2.3-2 2.5-1 .1-4-2.3-2 1.9-2 .4-1.4-.9-.5-1-.4-2 .3-3-1-2.6 0-1.4 1-1.5 2.2-1.5 1.8-2.5 .9-.5zM575.0 719.6l1.4 .2 .9 .8 .8 2-1.2 3-1.5 1-1-.1-1.4-.9-.4-3 .4-2 2-1z" fill="#ffb808" fill-opacity="0.25" stroke="#ffb808" stroke-width="1.25" stroke-linejoin="round"/>
<path d="M613.1 654.6l1.3-.8 1 .1 1.3 .7 .5 1-.8 2.3-3 1.5-1-.4-.3-1.4 1-3zM610.4 664.6l1-.5 1 0 .1 .5 .4 5-.5 .9-1 .5-1-.4-1.4-4 .2-1 1.2-1zM594.7 670.6l1.7 .2 2.7 3.8 .4 4 .6 1 3.3 0 .9 1-.5 1-4.4 3.1-4-1.8-1.4 .7-1.3 2-1.3 .2-1-1-.4-1.2 .2-4-1.2-3 .1-1 1.3-1.3 2-.7 1.1-2 1.2-1zM574.2 720.6l1.2-.3 1 .3 1 1.3 0 1.5-.6 1.2-1.4 1.1-1-.2-.9-1.9-.1-2 .8-1z" fill="#ff6c08" fill-opacity="0.25" stroke="#ff6c08" stroke-width="1.25" stroke-linejoin="round"/>
<path d="M614.3 654.6l1.1-.2 1.3 1.2-.3 1.4-2 1.2-1-.4-.4-1.2 1.3-2zM594.8 672.6l.6-.3 .4 1.3 2.8 2-.2 5 3 1-2 1.5-1-.2-1-1.1-2 0-1.7 .8-2.3 2-.5-2 .1-3-1.2-3 .3-1 1.3-.5 2 .3 1-.6 .4-2.2zM574.1 721.6l1.3-.7 1.3 .7 .3 1-.6 1.7-1 .6-1-.7-.3-2.6z" fill="#f81808" fill-opacity="0.25" stroke="#f81808" stroke-width="1.25" stroke-linejoin="round"/></g>
<line x1="611.5" y1="507.6" x2="611.5" y2="817.2" stroke="#111" stroke-width="1.2"/>
<line x1="478.4" y1="698.4" x2="786.5" y2="698.4" stroke="#111" stroke-width="1.1"/>
<text transform="translate(670.5 555.1) scale(1 1.04)" font-size="31.6">18.60%</text>
<rect x="841" y="509.2" width="308.1" height="309.9" fill="#fff" stroke="#1a1a1a" stroke-width="1.5"/>
<path d="M863.8 819.1v6.8M901.5 819.1v6.8M963 819.1v6.8M1024 819.1v6.8M1086.3 819.1v6.8M1149.1 819.1v6.8M920.01 819.1v4.5M930.84 819.1v4.5M938.53 819.1v4.5M944.49 819.1v4.5M949.36 819.1v4.5M953.47 819.1v4.5M957.04 819.1v4.5M960.19 819.1v4.5M981.36 819.1v4.5M992.1 819.1v4.5M999.73 819.1v4.5M1005.64 819.1v4.5M1010.47 819.1v4.5M1014.55 819.1v4.5M1018.09 819.1v4.5M1021.21 819.1v4.5M1042.75 819.1v4.5M1053.72 819.1v4.5M1061.51 819.1v4.5M1067.55 819.1v4.5M1072.48 819.1v4.5M1076.65 819.1v4.5M1080.26 819.1v4.5M1083.45 819.1v4.5M1105.2 819.1v4.5M1116.26 819.1v4.5M1124.11 819.1v4.5M1130.2 819.1v4.5M1135.17 819.1v4.5M1139.37 819.1v4.5M1143.01 819.1v4.5M1146.23 819.1v4.5M870.59 819.1v4.5M877 819.1v4.5M882.65 819.1v4.5M887.17 819.1v4.5M890.94 819.1v4.5M893.96 819.1v4.5M896.6 819.1v4.5M898.86 819.1v4.5M859.24 819.1v4.5M854.22 819.1v4.5M847.84 819.1v4.5M841 819.1v4.5" fill="none" stroke="#111" stroke-width="1.45"/>
<path d="M841 509.2h-9M841 577.2h-9M841 644.1h-9M841 712.1h-9M841 793.9h-9M841 556.73h-5.2M841 544.76h-5.2M841 536.26h-5.2M841 529.67h-5.2M841 524.29h-5.2M841 519.73h-5.2M841 515.79h-5.2M841 512.31h-5.2M841 623.96h-5.2M841 612.18h-5.2M841 603.82h-5.2M841 597.34h-5.2M841 592.04h-5.2M841 587.56h-5.2M841 583.68h-5.2M841 580.26h-5.2M841 691.63h-5.2M841 679.66h-5.2M841 671.16h-5.2M841 664.57h-5.2M841 659.19h-5.2M841 654.63h-5.2M841 650.69h-5.2M841 647.21h-5.2M841 769.36h-5.2M841 753h-5.2M841 740.73h-5.2M841 731.73h-5.2M841 724.37h-5.2M841 717.83h-5.2M841 813.5h-5.2" fill="none" stroke="#111" stroke-width="1.45"/>
<text transform="translate(863.8 849.7) scale(1 1.04)" font-size="26.1" text-anchor="middle">0</text>
<text transform="translate(901.5 849.7) scale(1 1.04)" font-size="26.1" text-anchor="middle">10<tspan font-size="17" dy="-7.7">2</tspan></text>
<text transform="translate(963 849.7) scale(1 1.04)" font-size="26.1" text-anchor="middle">10<tspan font-size="17" dy="-7.7">3</tspan></text>
<text transform="translate(1024 849.7) scale(1 1.04)" font-size="26.1" text-anchor="middle">10<tspan font-size="17" dy="-7.7">4</tspan></text>
<text transform="translate(1086.3 849.7) scale(1 1.04)" font-size="26.1" text-anchor="middle">10<tspan font-size="17" dy="-7.7">5</tspan></text>
<text transform="translate(1149.1 849.7) scale(1 1.04)" font-size="26.1" text-anchor="middle">10<tspan font-size="17" dy="-7.7">6</tspan></text>
<text transform="translate(830.8 520.4) scale(1 1.04)" font-size="26.1" text-anchor="end">10<tspan font-size="17" dy="-7.7">6</tspan></text>
<text transform="translate(830.8 588.4) scale(1 1.04)" font-size="26.1" text-anchor="end">10<tspan font-size="17" dy="-7.7">5</tspan></text>
<text transform="translate(830.8 655.3) scale(1 1.04)" font-size="26.1" text-anchor="end">10<tspan font-size="17" dy="-7.7">4</tspan></text>
<text transform="translate(830.8 723.3) scale(1 1.04)" font-size="26.1" text-anchor="end">10<tspan font-size="17" dy="-7.7">3</tspan></text>
<text transform="translate(818.4 805.1) scale(1 1.04)" font-size="26.1" text-anchor="end">0</text>
<g clip-path="url(#cb2)"><path d="M995.5 599.2l3.5 .3 7 3 3 .2 7 3.1 4 .3 1.2 1.1 .7 2 3.5 3 .7 2-.3 2-2.1 3-1.3 4-1.7 2-.5 2 .3 3-.5 5 1.4 7-1.4 4 .7 2 2.2 2-.2 3-1 3-4.5 5-1.2 3-1.6 2-.2 5-2 6-2.2 1.5-3.1 4.5-2.8 6-1.2 7 1 3-1.5 3 .3 4-.4 2-4.3 3.4-1.3 1.6-1.3 3-.7 4-3.6 2-2.5 4-2.6 2.8-3 1-2.3 5.2-2.7 4-.4 2-3.8 5-2.8 2.6-3.6 1.4-1.4 3.7-1 1-4 1-1.5 1.3-1.3 5-1.5 3-1 5-1.4 3-.3 3.4-2 3.8-2.7 3.8-1.3 .6-2-.5-8 5.6-4 .4-4-1.4-4-.5-6-3.5-4-.8-1-1.1-1-3-1-1-4 1.1-2-1.8-1-.3-4 1.1-2-.2-2.4-1.7-3.6-1.1-2.7-2.9-1.9-1-1.3-3-4.1-3.7-3.9-1.3-.1-1 1.2-3-.3-1-1.9-1.8-7-3.4-1.7 .2-1.3 1.6-1-.1-2.5-2.5-6.5-1.7-2-1.5-1.9-3.8-1.1-1.2-2-.7-2 .1-4-3-.5-1.2 .5-2 3-2 2-2.5 2-.8 2 .5 1.8-.2 2.2-2.6 2-.8 1.2-2.6 3.4-3 1.4-2.1 3-.9 3 .3 1-.6 .9-1.7 .5-3 4.3-4 .8-3 2.5-1.7 3-3.1 2-.5 2 .8 3 3.6 1-.2 2-3 2-.8 4-.7 1.7-1.4 .8-2-1.3-5-2.8-4-1.4-5-2.8-3-.8-2 .3-2 .6-1 4.1-2 1.3-4 .7-1 1.6-.6 4.3 .6 3.2 3 1 3 1.5 1.5 2 .1 3.4-1.6 .8-1 .2-1 .1-9 1.5-1.9 2-1.3 2-.7 3.1-.1 .5-1-.5-3 3.9-4.5 2.5-5.5 5.5-7.8 2-1.6 4-1.5 1.6-1.1 3.4-4.3 4-3.5 4.2-7.2 3.8-4.1 6.6-4.9 2.4-3.3 5-5.6 3-1.2 2-1.4 3-.3 3-1 6.5-.2zM858.8 720.2l1.2-.1 1 2.1-.3 2-.7 .6-1-.1-1.2-1.5 .1-2 .9-1zM908.0 773.7l-.6 1.5 .6 .6 2.1-.6-.1-1.2-1-.5-1 .2z" fill="none" stroke="#0808f8" stroke-width="1.25" stroke-linejoin="round"/>
<path d="M984.7 606.2l1.3-.5 3 .7 9-.4 6 2.8 3 2.4 2 3.2 1 .4 1.8-2.6 1.2-.4 5 .3 2.3 2.1-.5 1-3.8 1.1-3 1.7-1.3 3.2-2.2 3-.2 1 1.7 2.3 3.3 1.7 .7 3 1.5 3-.1 2-2.9 2-.8 2 2.3 .4 1 .5 .6 1.1 .1 4-.8 6-1.3 2-5.5 5 .6 5-.1 3-.6 3-3.5 6-2.5 2.7-5 9.3-.6 7-1.3 3 0 5-1.5 2-3.8 8-3.8 2.9-2 3.8-5 4.9-2.9 4.4-.1 3-2.4 3-5.6 3.8-1.8 2.2-.5 2-4.7 5.2-4 .9-1.2 .9-2.4 6 .6 3.3-2 2.2-1.5 .5 .3 2-2.3 5-2.5 3.6-1.1 3.4-1.9 1.9-4 1.3-2.8 1.8-.9 3-1.3 .5-4-3.7-1-.3-4 .7-3-.9-4-2.1-1.1-1.2-1.3-4-2.6-5.2-5-1.3-4 0-1-.5-1.5-2-.5-3.5-2.8-2.5-2.2-9-2-.8-6-.9-2 .6-3 1.7-4-.6-4-3-3-4.4-1-.5-2.1-.1 .1-.3 2 .2 1-.5 1-1.4-1.4-5-1.1-2 .2-1 1.9-3 6.4-.8 1-1 .3-1.2-1.2-3 2.6-6 1.5-2 1.8-.7 3.7 .7 1.3 .9 1.7 2.1 1.3 .7 1-.2 5-5.6 4-1.1 2.4-1.8 4.6-6.9 3.3-2.1 .9-5 2-3 1.3-3-1.5-2-.1-1 1.1-1.5 3.1-1.5 .4-3 3.2-5 .6-3-.3-2 .8-2 3.7-3 5.5-2.6 2-2.3 2-4 1.9-2.1 .3-1-1-2 .9-3-.1-4 1-1.8 3-1.9 4-.3 2-1 1.6-3 9.6-12 1.8-3.1 4.6-2.9 6.4-6 4.7-2 2.2-3 2.8-2z" fill="none" stroke="#0a28ff" stroke-width="1.25" stroke-linejoin="round"/>
<path d="M992.8 611.2l3.2-.2 4 3 4 .9 1 1.2 .8 5.1-.4 4 1.6 6 3 3.9 .2 1.1-4.5 7 5.3 3.3 1.7 1.7 .1 1-1.4 2-4.2 2-.8 1 0 3-1.4 3 .4 5-1.8 5-.1 3-3.2 4-1.3 3.4-2 1.6-1.2 4-2.9 5-2.9 3.9-.1 5.1-1.9 4.3 .4 3.7-.4 1.4-1 .5-2-.3-.5 .4 .2 2-.4 1-2.1 2-1.1 2-2.4 2-.7 4-1 1.9-2.5 2.1-1.6 3-2.9 2.2-3.7 3.8-.5 2-.8 1.1-2 .3-4-2-2.3 2.6-3.7 .1-1 .7-.9 2.2-.1 1.5 2.2 3.5-.9 2-.7 4-1.7 2-.9 2.1-1 .7-2 .2-1.5 1-2.2 5 .3 2 2.4 2-.6 1-1.4 1.2-3 .3-1 .5-.3 4-1.7 1.3-10-.8-4 .6-.9-1.1-.2-2-3.9-4.9-1-3.2-2-1.7-4-1.9-7-6.3-.7-1-1.9-6-1.9-3-3.5-1.5-2-1.7-3.6-1.8-2.4-.3-2 .7-4-2.2-.6-1.2 .2-4 1.4-1.8 2.5-1.2 .9-2 2.7-3 1.9-3.1 2-.4 3 2.3 2-.2 .9-1.6 .3-3 1.8-2.5 8-4 3.6-3.5 .6-2 .8-.9 2-.6 1-1 1.4-2.5-.5-5 4.1-3.8 1.3-2.2 1.4-6 .3-4.2 1-1 2.4-.8 1.2-1 2.4-3.7 2-1.4 1-2.9-.3-2 5.1-4 1.2-4.8 2.2-1.2 2-3 .6-2-1-6 .8-2 3.4-.4 3-2.9 4-2.3 3-3.4 2-1.3 .8-1.7 .4-5 5.3-6 3.8-3 1.7-2.2 3-1.3 6 0 2-1.6 2.9-.9 4.1-2.5 1.8-.5zM905.0 718.0l-1 1.3 0 2.4 1 0 1.5-2.5-.4-1-1.1-.2z" fill="none" stroke="#1050ff" stroke-width="1.25" stroke-linejoin="round"/>
<path d="M991.9 615.2l3.1-.7 1 .4 2 2.3 3 .2 1.1 .8 .3 1-.4 .9-2.1 1.1-.7 1 3.3 7 .1 2-.6 3 1.9 2 .2 1-.6 3-2 3 .2 2 1.3 1.9 1 .4 4-.4 2 1.1 0 1-1 .7-4 .9-3 1.4-.9 1 .4 7 1.1 3-1 4-.5 6-3.6 3-.5 2.3-2.5 1.7-1 5-1.2 2-.9 3-3.3 4-1.1 4.6-2.2 2.4 0 3-.8 1.8-2 1.5-5 .4-1.8 1.3 .1 1 1.7 2.1 .8 1.9-.1 1-2.3 3 .2 4-.6 1.4-5 3.7-7-.8-.5 .7 .5 .3 4 1.1 .5 1.6-.5 1-5 1.9-4-.7-1 .2-2 1.9-3 .6-4 2.9-.5 1.2 1.1 3 .3 5-.4 2 1.1 3-.2 1-2.4 2.1-7.6 3.9-4.2 4-1.3 5-.1 3-.8 1-4 2-4-.9-3.1-2.1-.3-1 .4-2-1-3-.2-3-2.8-4.1-2-.8-4 1-2-.3-2.9-3.8 .1-1 1.2-2-.4-1.7-3.8-3.3-1.2-2-1-.9-3-.3-3-3.4-8-2.6-1.2-.8-.4-1 2.2-2 1.4-3 3-3 1-.3 3 .4 4-1.2 1 .1 2 1.2 1 0 2-3.4 1-.9 2.3-.9-.1-2 .8-2.4 1-.9 3 .3 3-4.1 2.3-1.9 0-3 1.7-7.2 4-4.2 4-.6 2.1-2-.1-.5-1-.4-2 .3-1.5-1.4-.3-2 .6-4-.8-2.3 1-.7 3 .3 2-1.2 1.8-4.1 2-2 .5-3 3.3-3 1.3-2 1.1-5 2.1-2 1.9-3.1 1.4-.9 .3-1-.9-3 .2-2 2.8-3 2.1-4 3.1-1.3 3-3.2 4-2.5 3.6-9 3.4-5 3-1.5 2-1.9 3-.9 2 .2 2.7 2.1 1.9 0 2.4-2.8 2-.2 1-.7 1.9-2.3z" fill="none" stroke="#1478ff" stroke-width="1.25" stroke-linejoin="round"/>
<path d="M990.2 620.2l2.8-.9 1 1.3 1.9 3.6 1.1 4.4 1.7 3.6 .4 3 1.8 3 .1 1-1.6 4 .6 6-2 2.7-.3 1.3 .8 5-.8 4 .2 2-1.9 2-3.2 1-.2 1 .8 2 0 2-.6 1-2.4 2-.3 2 .2 3-1.3 1.2-.3 .8 1.3 5-.6 2-6.8 7-1 2-1.6 1.6-2 .9-5 .4-1.5 1.1-.2 4-2 3-2 4 0 1 .7 1.4 3.7 1.6 .4 1-.5 1-.6 .6-3-.5-3 1.2-3.1-.3-1.9 2.3-3.2 1.7-.8 4.6-2 .9-3 3.4-4 1.2-3.4 6.9 .9 5 .2 6-1.1 2-2.1 2-3.5 1.3-3 2.2-1 0-1.4-1.5 .5-2-.4-1-1.7-2-1-.5-2 .1-4 1.6-3 .3-3-2.1-5-2.2-1-.7-2-3.3-2.5-2.2 0-3-.5-1-3-1.3-1.7-1.7-2.5-7 1.2-.3 3 1.2 2-.1 1.5-.8 1.5-1.7 2-.4 2-1.2 3.3-3.7 .5-3 2.3-5 3.3-2 1.6-2 .5-1-.5-5 .7-2 2.2-2 .3-1 4.8-1.9 5-3.9-.2-1.2-2.4-4 .9-2-.4-3 .4-1 1.7-1.5 4.2-1.5 .3-1-1.3-4 .5-2 3-3 1.3-5.1 2-2.1 1.7-2.8 2.9-2 0-2-1.5-3 .3-1 3.5-3 1.4-3 2.7-2 1.8-3 4.1-2 .9-1 2.8-7 3.4-6 3-.9 3-1.9 8 1 3-2.3 2.2-.9zM979.1 703.2l1.5 0 .8 1-1.4 .7-1-.3-.6-.4 .7-1zM892.3 732.2l.7-.8 1-.2 2 1 1.5 3 .1 1-.6 .9-2 .1-2-1.1-1-1.9 .3-2zM913.0 742.8l-.1 1.4 1.1 .8 .9-.8-.3-1-.6-.8-1 .4z" fill="none" stroke="#14a4ff" stroke-width="1.25" stroke-linejoin="round"/>
<path d="M988.6 622.2l1.4-.6 2 .1 1.5 1.5 2.6 8 .1 3 2.7 4 .2 1-1.3 4-.1 5-2.1 4 .9 7-1.5 3.5-3.8 2.5-1.2 1.9-.5 2.1 .2 2-2 6-1.9 3 1.6 5-.4 2-5 4.9-2-1.5-1 .4-1.5 2.2 0 3-.5 1.3-5 2.3-2 1.4-.6 1-.2 3-5.2 3.8-.4 1.2 .4 2 1.2 2 .5 3-.7 1-1 .1-4-3.1-1.3 0-.7 2 .7 3-.3 1-6 3 .2 2-2.6 3.5-3-.2-1 1-2 3.9-3.9 4.8-.4 3-.7 .8-3 .4-2 1.4-2 .3-.3 3.1-5.7 3.4-2 .1-4-1.2-1.2-1.3 1-3-3.8-5-2-1.8-1 .1-2 1.7-1 0-.6-2 .3-1 1.3-.8 2 .1-.1-1.3-1.1-1 .1-1 3-7 3.2-3 .7-4 1.2-3.1 1-1 2-.3 .8-.6 3.5-4 .2-2-.5-3 1-.4 2 1.5 2 .8 6 .2 1 .4 2 2 1 0 .6-.5 .2-1-.4-1-6.4-6-.7-2 .7-1.1 3-1 .8-.9 0-4-.4-1-1.8-2 0-1 2.5-5 3-4-.7-5 .6-1.5 2.4-2.5 .6-3.3 2-1.8 2.2-3.9 3.3-4 0-4 .5-1 4-3.6 .5-2.4 3.4-5 3.8-3 1.4-4 4.3-8 6.6-3.1 3-.2 4 1.1 1-.2 2.6-2.6zM924.0 744.8l-1.9 1.4-.6 1 1.5 1.4 1-.4 1.2-2-.2-1.3-1-.1zM935.3 746.2l1.7-.9 4 .9 .2 1-.9 3 1 3-.1 1-1.2 1.2-2.3-.2-3.9-3-.5-2 1.4-2 .6-2z" fill="none" stroke="#14a4ff" stroke-width="1.25" stroke-linejoin="round"/>
<path d="M989.4 623.2l2 0 1.8 2 .8 5-.3 4 3.5 5-.2 1.2-2.5 3.8 1.5 1.9 .1 2.1-2.7 3-1.6 4 .2 1.2 2 2 0 1.6-2 1.1-1 1.1-3.5 7-1.5 6-2.6 5 0 1 1.1 2-.3 1-5.2 1.4-1 2.8-3.7 5.8-2.3 2-1.1 2-2.9 2.6-4 1.7-3-1.2-1.7 .9-.6 2 1.1 4-.2 1-1.6 1.7-2 .7-1-.5-.9-1.9 0-3-1.1-.7-2 3-.4 1.7 1.4 3.9 2.9 1.1 .8 1-.3 4-1.4 .6-4-.3-3 2.5-2.9 6.2-.7 3-4.4 5.1-3 2-6 1.8-2 1-4-.4-3 1.6-4-4.3-.2-3.8-1-3 .9-4 2.9-3 .7-4 .7-1.3 9.1-6.7 .9-2 2-.1 2 1 3 0 5 1.9 1-.1 .6-.7 2.2-6-.2-2 1.9-4-.7-1-3-1-2.8-3.3-.9-7.7 3.2-8 .4-5 2.9-3 .7-3 4.7-8 3-4 .8-4 3.2-3 .8-3 1.1-2 5.1-5.7 1-3.3 5-7.8 5-2.7 2-.4 5 1.3 2-.2 2.4-3.2zM948.0 714.9l-.7 1.3 1.7 2.5 1 .4 .6-1.9-.1-2-.5-.4-2 .1z" fill="none" stroke="#10d0ff" stroke-width="1.25" stroke-linejoin="round"/>
<path d="M989.6 625.2l.4-.5 1-.1 1 .9 .6 3.7-.3 5 2.9 5-.1 1-2.7 4 .1 1 1.8 2-.1 1-2.2 1.8-1.1 2.2-.6 2-1 8-1.3 3.5-2.9 4.5-2.5 2-.3 6-.8 4-.8 1-4.7 1.8-4-.5-1 .2-1 .8-1.1 1.7 .6 3-1.7 5 .1 3-.5 1-1.4 1.1-2 .4-3-1.6-3-.7-6 1.6-2-.5-3.9-2.3-.3-2-1.8-1.9-1.1-5.1 1.3-3 1.8-6.6 3-3.7 2.7-8.7 2.5-2 .5-3 4.2-5-.6-2 3.2-4 .9-4 5.6-6 1-3.4 3.1-3.6 2.5-4 2.4-1.7 3-1 4 1.3 4-.1 1-.7 .6-1.8zM931.5 715.2l1.5 .1 2 1.9 2 .6 .9-.6 .4-2 .7-.5 1 .1 2 3.1 4 0 1.2 1.3 0 1-1.8 2-3.4 9.8-2.3 3.2-1.7 1.6-4 .9-7 2.7-3-1.3-2 .8-1-.2-1.6-1.5 0-1 1.6-3-.9-5 1.7-8 5.2-4.4 4.5-1.6z" fill="none" stroke="#10f0f0" stroke-width="1.25" stroke-linejoin="round"/>
<path d="M978.2 628.2l1.8-.2 3 1.1 4 .3 3-.5 1 .9-.4 3.4 2.1 5 .3 2-2 4-3.7 20-1.3 2.1-3 2-1.9 2.9-.3 7-.6 3-.8 1-4.4 1.4-5-1.8-2 2.9-1.8 1.5-.3 4-2.9 4.7-8 2.4-4.6-.1-1.2-1-3.9-7-.1-2 1.4-4 .6-4 2.8-3.3 2.3-5.7 4-5 .5-1-.1-3 .3-1 1-1.1 2-.9 1-1-.2-3 2.1-3 0-3 .8-2 5.1-5 1.6-4 2.3-2 2.3-3 1.5-3 1.7-1zM963.7 696.2l.3-.4 1 1 .2 1.4-1.2 .7-.8-.7 0-1 .5-1zM929.8 717.2l2.2-.1 5 3 3 .4 1.9 1.7 .3 1-1.1 2 .5 3-.2 2-2.8 5-1.6 .9-3 .3-5 1.6-1-.1-2-1.8-3-1.1-1.4-6.8 1.4-6.3 3.9-3.7 2.9-1z" fill="none" stroke="#18f0a8" stroke-width="1.25" stroke-linejoin="round"/>
<path d="M978.7 629.2l1.3 0 8 2.9 3.6 7.1-2.4 7-1.3 2 .3 7-1.7 8-1.5 1.9-3.5 2.1-1.2 2-.6 2 .3 6-.9 3-.8 1-2.3 1-2 .1-1.7-1.1-1.2-3-1.5 0-1 1-1.6 3.2-3 2.8-2.1 3 .7 3-.7 2-5.9 2.5-4 0-1.7-1.5-2.7-4-.8-2 1.4-5 .1-4 2.5-3 2.2-4.9 2.1-2.1 1.9-3 .9-2 .2-3 .4-1 2.5-1.5 1-1.4 .5-3.1 1.9-3 0-4 2.4-3 2.6-2 2.2-4 2.4-1.7 2.6-4.3 .6-2 1.5-1zM928.9 719.2l3.1-.2 2 .7 4.2 2.5 .7 1 .1 3 1 3-1.8 2-.2 2.9-1 .7-8 1.8-5-3.4-1.4-5 .8-4 .6-1.3 4.9-3.7z" fill="none" stroke="#20f050" stroke-width="1.25" stroke-linejoin="round"/>
<path d="M978.3 631.2l.7-.7 1 .1 6 2.7 1.1 .9 2.7 5-1 5-2.9 4 1.5 7-1.9 7-6.4 6-1 4 1.1 4-1.2 2.9-2 1.2-2 .2-.8-2.3-1.2-1.2-2-.4-3 1.3-1.2 1.3-1.4 3-4.7 6 1.4 3-.1 1-1.3 1-3.7 1.2-3 0-1.4-1.2-1.1-3-2.1-2-.1-1 1.1-4-.1-4 2.7-3 1.8-4 2.9-3 1.8-4 .8-4 3.2-3 1.5-4 2-3 .2-3 1.3-3 2.6-2 1.9-3.2 3.2-2.8 3.1-6zM931.0 721.2l2-.4 2 .6 2.3 1.8 .4 2-.7 2-2.9 2-3.1 5-2 .6-3.8-2.6-1.2-3-.1-2 1.3-3 2.8-1 3-2z" fill="none" stroke="#58f010" stroke-width="1.25" stroke-linejoin="round"/>
<path d="M978.9 633.2l1.1-.7 5.3 1.7 .9 1 .7 3 1.5 3-.6 3-.8 1-2.2 1-1.2 3 2.9 6-1.5 5.5-1 1.5-2 1.1-1.5 1.9-2.5 2-1.6 6 0 1 1.3 2-.7 .5-1-1.3-3 .4-3-.3-4 1.5-5.5 8.2-2.1 2-.2 1 1.6 3-.6 1-3.2 1-2.3 0-.9-1-.4-2-2.4-2-.5-1 .9-4 0-4 3.7-3 .5-3 3.3-3 1.9-8 3.5-4 1.7-3.5 1.8-2.5 2.5-7 2.5-2 .8-2 3.4-3.7 2.9-4.3zM933.0 723.2l1-.6 1 .2 1.4 1.4-.1 1-1.3 .7-1-.1-.9-.6-.1-2zM928.4 726.2l2.6 .1 1 .9 .1 1-1.1 2.1-3 1.9-1.5-1-.8-3 .7-1 2-1z" fill="#a8f008" fill-opacity="0.25" stroke="#a8f008" stroke-width="1.25" stroke-linejoin="round"/>
<path d="M979.8 634.2l2.2-.1 2.6 1.1 2.8 7-.4 1.3-1 .7-2 0-1 1-1 2.6-3 .2-1.1 1.2 0 1 1.1 1 3.6 1 2.4 2.5 .4 1.5-1.4 4-1 .9-2.9 1.1-.9 2-2.2 1.4-2 2.2-3.2 1.4-.9 1 .6 1 2.1 1 0 1-.6 .7-3 .4-5 2.1-7.9 9.8-.4 2 .4 3-2.1-.3-4.3-3.7 .3-2.6 1.1-2.4 .9-.6 3-.5 1.2-.9 .2-2-1.2-4 .7-1 5.5-4-.1-1-1.6-2 .2-4 3.5-4 4.6-7.6 3.3-1.4 .9-1-1.3-2 1.2-2 .7-3 4.7-6 1.3-1z" fill="#a8f008" fill-opacity="0.25" stroke="#a8f008" stroke-width="1.25" stroke-linejoin="round"/>
<path d="M979.8 635.2l2.2-.2 1.9 1.2 2.2 6-3.1 .7-2 2-5 2.5-1.1-1.2-.3-1 .2-4 5-6zM971.3 651.2l2.3 0 4.4 2 .9 2 .1 4-1.9 2-.8 3-1.7 2-4.6 2.8-4 .2-1-.4-2.8-3.6-.5-2 1-2 5.8-6 1.2-3 1.6-1zM974.0 656.0l-.5 2.2 .9 1 1.6 .4 .6-.4-.7-2-.9-1.2-1 0zM963.0 671.2l2-.6 3.8 1.6-.3 1-4.3 2-2.2 3-2 .7-1-.8-1-1.9-.1-2 5.1-3zM954.4 683.2l.7 0 .6 1 0 2-.6 2-1.1 .3-2-1.2-.4-1.1 1.4-2.5 1.4-.5z" fill="#f0f008" fill-opacity="0.25" stroke="#f0f008" stroke-width="1.25" stroke-linejoin="round"/>
<path d="M979.7 636.2l1.3-.4 1.4 .4 .8 1 .4 3-3.6 3.7-3 .8-1.3-1.5 0-2 4-5zM970.9 654.2l.1-.4 1-.2 .3 4.6 3 3 .3 2-1.2 2-3.4 2.5-2 .6-2-.2-1.6-.9-.5-1-1.1-4 1.9-3 4-3 1.2-2zM959.1 675.2l.9-.8 1-.2 .9 1-.2 1-.7 .7-1 0-.9-1.7z" fill="#ffb808" fill-opacity="0.25" stroke="#ffb808" stroke-width="1.25" stroke-linejoin="round"/>
<path d="M979.9 637.2l1.1-.3 .6 .3 .4 1-.2 1-1.5 3-2.3 1-1.3-1 .1-1 3.1-4zM968.1 658.2l1.9-.6 1 .4 3.7 4.2-.4 2-.9 1-2.7 2-1.7 .5-2-.4-.8-1.1 .2-2-.8-3 1.2-2 1.3-1z" fill="#ff6c08" fill-opacity="0.25" stroke="#ff6c08" stroke-width="1.25" stroke-linejoin="round"/>
<path d="M967.7 659.2l1.3-.6 2 .5 3 3.1 0 1-1 1.5-2 1.7-2 .8-1.9-1 .3-2-1-3 1.3-2z" fill="#f81808" fill-opacity="0.25" stroke="#f81808" stroke-width="1.25" stroke-linejoin="round"/></g>
<line x1="973.9" y1="509.2" x2="973.9" y2="819.1" stroke="#111" stroke-width="1.3"/>
<line x1="841" y1="699.9" x2="1149.1" y2="699.9" stroke="#111" stroke-width="2"/>
<text transform="translate(1032.5 555.1) scale(1 1.04)" font-size="31.6">23.22%</text>
<rect x="1203.6" y="506.3" width="306.8" height="309.6" fill="#fff" stroke="#1a1a1a" stroke-width="1.5"/>
<path d="M1227 815.9v6.8M1264.6 815.9v6.8M1325.6 815.9v6.8M1386.6 815.9v6.8M1448.3 815.9v6.8M1510.4 815.9v6.8M1282.96 815.9v4.5M1293.7 815.9v4.5M1301.33 815.9v4.5M1307.24 815.9v4.5M1312.07 815.9v4.5M1316.15 815.9v4.5M1319.69 815.9v4.5M1322.81 815.9v4.5M1343.96 815.9v4.5M1354.7 815.9v4.5M1362.33 815.9v4.5M1368.24 815.9v4.5M1373.07 815.9v4.5M1377.15 815.9v4.5M1380.69 815.9v4.5M1383.81 815.9v4.5M1405.17 815.9v4.5M1416.04 815.9v4.5M1423.75 815.9v4.5M1429.73 815.9v4.5M1434.61 815.9v4.5M1438.74 815.9v4.5M1442.32 815.9v4.5M1445.48 815.9v4.5M1466.99 815.9v4.5M1477.93 815.9v4.5M1485.69 815.9v4.5M1491.71 815.9v4.5M1496.62 815.9v4.5M1500.78 815.9v4.5M1504.38 815.9v4.5M1507.56 815.9v4.5M1233.77 815.9v4.5M1240.16 815.9v4.5M1245.8 815.9v4.5M1250.31 815.9v4.5M1254.07 815.9v4.5M1257.08 815.9v4.5M1259.71 815.9v4.5M1261.97 815.9v4.5M1222.32 815.9v4.5M1217.17 815.9v4.5M1210.62 815.9v4.5M1203.6 815.9v4.5" fill="none" stroke="#111" stroke-width="1.45"/>
<path d="M1203.6 506.3h-9M1203.6 574.6h-9M1203.6 640.8h-9M1203.6 708.8h-9M1203.6 790.8h-9M1203.6 554.04h-5.2M1203.6 542.01h-5.2M1203.6 533.48h-5.2M1203.6 526.86h-5.2M1203.6 521.45h-5.2M1203.6 516.88h-5.2M1203.6 512.92h-5.2M1203.6 509.43h-5.2M1203.6 620.87h-5.2M1203.6 609.21h-5.2M1203.6 600.94h-5.2M1203.6 594.53h-5.2M1203.6 589.29h-5.2M1203.6 584.85h-5.2M1203.6 581.02h-5.2M1203.6 577.63h-5.2M1203.6 688.33h-5.2M1203.6 676.36h-5.2M1203.6 667.86h-5.2M1203.6 661.27h-5.2M1203.6 655.89h-5.2M1203.6 651.33h-5.2M1203.6 647.39h-5.2M1203.6 643.91h-5.2M1203.6 766.2h-5.2M1203.6 749.8h-5.2M1203.6 737.5h-5.2M1203.6 728.48h-5.2M1203.6 721.1h-5.2M1203.6 714.54h-5.2M1203.6 810.5h-5.2" fill="none" stroke="#111" stroke-width="1.45"/>
<text transform="translate(1227 848.4) scale(1 1.04)" font-size="26.1" text-anchor="middle">0</text>
<text transform="translate(1264.6 848.4) scale(1 1.04)" font-size="26.1" text-anchor="middle">10<tspan font-size="17" dy="-7.7">2</tspan></text>
<text transform="translate(1325.6 848.4) scale(1 1.04)" font-size="26.1" text-anchor="middle">10<tspan font-size="17" dy="-7.7">3</tspan></text>
<text transform="translate(1386.6 848.4) scale(1 1.04)" font-size="26.1" text-anchor="middle">10<tspan font-size="17" dy="-7.7">4</tspan></text>
<text transform="translate(1448.3 848.4) scale(1 1.04)" font-size="26.1" text-anchor="middle">10<tspan font-size="17" dy="-7.7">5</tspan></text>
<text transform="translate(1510.4 848.4) scale(1 1.04)" font-size="26.1" text-anchor="middle">10<tspan font-size="17" dy="-7.7">6</tspan></text>
<text transform="translate(1193.4 517.5) scale(1 1.04)" font-size="26.1" text-anchor="end">10<tspan font-size="17" dy="-7.7">6</tspan></text>
<text transform="translate(1193.4 585.8) scale(1 1.04)" font-size="26.1" text-anchor="end">10<tspan font-size="17" dy="-7.7">5</tspan></text>
<text transform="translate(1193.4 652) scale(1 1.04)" font-size="26.1" text-anchor="end">10<tspan font-size="17" dy="-7.7">4</tspan></text>
<text transform="translate(1193.4 720) scale(1 1.04)" font-size="26.1" text-anchor="end">10<tspan font-size="17" dy="-7.7">3</tspan></text>
<text transform="translate(1181 802) scale(1 1.04)" font-size="26.1" text-anchor="end">0</text>
<g clip-path="url(#cb3)"><path d="M1360.4 588.3l1.2-.6 1 .3 1.6 1.3 4.1 2 2.3 .7 5 .5 2 1 1.1 .8 1.6 3 2.3 .9 2.4 2.1 2.6 1.3 2 1.6 2.1 5.1 .4 7 1.2 3-2.9 8-2.5 5 1.2 4 1.1 6-.7 2-4.9 7-.4 2 .4 2.3 2.1 3.7 .3 4-1.1 3-3.3 4-1.1 6-2.6 4 .1 2 1.4 2-.4 1-2.4 2.3-2 3.1-4 2.5-3.3 4.1-.7 2 .4 3-.4 2.1-2.9 5.9-3.1 .5-1.8 1.5-2.8 7-1.2 5-.3 7-.9 .7-3.8 1.3-5.2 3-3.1 5-.5 4-1.4 2.7-3.6 2.3-1.7 4-4.8 4-4.8 5-3.1 1-3.6 2-1.4 4-3 3.9-2 .8-5 0-4 2.1-3 .8-4 4.1-1.9 1.3-1.1 2.7-1 .1-3-1.4-3 .5-4-1-4 .7-3 1.6-2-.3-3.4-1.9-3.8-4-1.2-2 .1-2-.7-1.3-3-1.1-2 1.1-1-.7 1.9-3-.2-2 .4-2 1.3-2 2.4-2 .3-1-.4-1-5.7-4.1-4-1.4-3-4.2-1.1-.3-1.9 .8-6-5.1-1.2-1.7-1.4-4-.5-4 .4-6 1.2-4-1-2-.1-2 1-3 .4-4 3.2-2.4 3-.9 1.6-2.7 1-1 6.4-3.4 1-.2 5 1.5 1.8-.9 2.6-7 2.3-4 0-2 1.8-3 2.5-1.4 1 .1 2 1.1 1 .1 1.1-.9 6.4-15 4.9-5 .9-3 7.7-12.3 3-6.6 .4-3.1 .8-2 3.6-4 3.8-6 3.9-3 2.4-5 5.3-5 2.1-3 4.7-4.9 2.9-2.1 2.1-3.5 6-2.9 2-1.8 5-1 3-2.2 3-1.4 3.5-4.2 2.5-1.4 1.8-1.6zM1248.4 752.3l.2-.4 1 1.2 0 .6-1 .2-.2-1.6z" fill="none" stroke="#0808f8" stroke-width="1.25" stroke-linejoin="round"/>
<path d="M1358.4 595.3l6.2-.5 7 2.1 7.2 5.4 1.6 2 4 1 1.7 4 .3 3-.4 3 0 7-.6 4-.9 2-2.5 3-1.5 5 .2 4-1.3 4 1.6 5-1.2 6 2.3 5-.2 1-2.4 3-.8 3-3 2-.4 1 .7 6-1.5 4-.1 3-.8 2.4-1.3 1.6-4.9 3-1.1 3-2.4 3-1 3-1.8 3-.7 3-3.1 4-1.7 5-3 4.3-2.6 2.7-.6 6-.5 1-1.3 .9-5 1.7-2 2.6-.7 3.8-1.3 2.2-4.1 1.8-1.9 2-1.3 4-6.2 4-2.6 3-3.6 2-.7 3-5.6 8.5-2 1.4-3 .9-5-.5-4 1.7-4 .6-3 3-3 .5-4 1.4-3-.1-3 2.8-4 0-3-.8-.8-.4-.2-1 2-1.1 1.1-2.9 1.9-2.7 3-1.1 .1-1.2-1.1-.4-2 1.2-3.5-.8-2.1-6-.7-4-1.7-3 0-4-1-.4-2 .3-.8-.9-.2-3-3-3.5-2 .3-1-.4-4-5.1-3-.6-1-.7-.4-5-1.5-3 .6-4-.7-1.9-1.2-1.1-.1-1 3.3-2.6 5.4-1.4 2.6-3.1 7-2.9 3-.2 .9-.8 1.1-4 4.5-10 1.5-1.4 4-.8 6-5.8 2.9-7 1.1-6 .6-1 4.6-2-.4-4 .9-2 2.3-1.1 2-.2 .7-.7-.1-1 2.1-5 1.3-5.3 5-6.6 .7-3.1 3.8-4 .5-1 .1-3 1.8-3 2.1-2.4 3-2.3 2-4.1 4-4.1 6-2 .7-4.1 3.3-4.6 3-1.7 5-3.8 4-1 5-2.6 3.1-3.3 1.7-1zM1245.6 739.3l1-.3 .5 .3 0 1-.9 0-.6-1zM1256.6 746.3l1-.8 1.1 .8-1.1 1-1-1z" fill="none" stroke="#0a28ff" stroke-width="1.25" stroke-linejoin="round"/>
<path d="M1359.7 598.3l1.9-.2 2 .8 6 .9 .7 .5 9 9 2.5 4 .7 4-.7 3-2 3 .1 3-2.2 3-.1 2.7-1.4 5.3 .3 4-.7 3 .2 4-.3 1-3.1 1.9-1.4 4.1-.1 4-2.5 4 0 3 1.9 3 .4 2-.3 2.1-2.2 1.9-.6 1 1.8 5-.2 2-2.8 2.6-6 1.4-.6 1 .2 3-2.1 3-1 3-.4 8-2.8 6-1.3 1.4-3 1.6-4 4.9-.3 1.1 .8 4-.5 1-1 .8-5 1.1-3 3.6-.9 2.5 .7 3-2.8 1.7-2 2.3-3 2-5.5 6-2.5 .9-3 .2-.1 2.9-2.6 5-3.3 3.6-1.9 3.4-1.1 .9-4 1.6-7 .1-3 1.3-2 .3-3 2.5-2-.4-3.3-3.3-6.6-5-.2-2-1.9-2.1-2-1.2-1-1.4 .1-1.3 1.7-2-.6-3 .5-3 .6-1 2.3-2 .5-1-.1-1.4-2.9-3.6-3.1-.3-1.4-.7-.7-1 .9-3-.2-1-2.6-4.5-2-1.3-3.5 .8-2.3-5 .8-.8 2-.6 2-1.4 3 0 3-1.4 3.2 .2 .1-1-1.2-2 .1-1 .6-2 2.6-4-.8-4 1-3 .4-.5 4-.8 3.1-3.7 .9-2 4-3 1.6-5 3.4-2.6 1.3-4.4 3.9-5 .4-3 1-1 3.7-2 .7-2-.5-3 .5-2 4.8-6 .6-4 4.6-7.8 5.6-5.2 .8-4 2.1-3 1.9-4 4.4-4 4.2-2 4-3.9 2.8-1.1 .5-1-1.4-2 .7-1 2.4-1.3 4.3-.7 2.7-2.8 8-4.1 1.2-1.1 .9-3z" fill="none" stroke="#1050ff" stroke-width="1.25" stroke-linejoin="round"/>
<path d="M1360.6 603.3l3-.6 1.4 .6 2.2 2 1.4 0 2-.7 1 .8 2 4.4 2.5 2.5-.3 1-1.1 1-.1 1 1.5 2 .3 2-.8 1.6-.9 .4 .1 3-1.7 2 0 4 1 6-.4 4-.8 2 .3 3-.3 1-2.3 1.3-1 1.5-.6 9.2-3.2 6 0 4 .7 3-1.4 2-.8 4-4.3 4 .1 3-3.6 3-2.1 5 .9 10-1.9 5-1.8 2.5-3 2-5.7 6.5-.2 2 .9 3-.8 1-3.2 1-3.3 2-3.6 4-3.1 6-2 1.3-3 2.9-3 4.2-1 .5-4 .2-3 1.1-2-.2 0 3-2.1 3-.2 1 .8 3-1.2 3-1.3 1.8-3 1.5-4-.5-7 2.2-6-1.3-1-.5-1.8-2.2 .9-6-5.1-3.9-.9-2.1 .2-2 .7-1.3 3-2.6 .6-1.1 .1-2-.7-1-2.4-1-1-3-2.5-2-1.1-2-3-1.8-2.2-2.2-.8-2 .6-3 1.2-1 2.2-.7 1.6-2.3 .7-3-1-3 .7-1.2 3-2.5 .9-3.3-.1-3 .6-1 4.9-4 1.7-2.5 3.5-1.5 .4-1-.4-3 .5-2 1-1 3-.8 1.5-1.2 .4-1-.3-3 2-4 2.7-4 3.7-2.1 1.9-4.9-.2-4 2.3-1.9 1.2-3.1 2.3-3 .4-1-.3-3 .6-2 2.7-4 3.2-2 2-2 .9-1.7 .8-3.3 3.2-4 .4-3 5.6-3.6 4-3.8 6.8-3.6 .9-1 .4-2 .9-1 1.2 0 0 3 .8 .8 1 .1 2.5-.9 1-1 .4-2-1.9-1.9 .3-1.1 1.7-1.4 4-1.1 4-3.5zM1370.6 613.7l-4 4.1-.1 1.5 .8 1 2.3 .2 2-.6 1-5.6-2-.6zM1282.6 732.1l-.7 1.2 1.7 .4 .8-.4-.4-1-1.4-.2z" fill="none" stroke="#1478ff" stroke-width="1.25" stroke-linejoin="round"/>
<path d="M1360.4 609.3l.2-.7 1.8 4.7-1 3-.4 6 1.5 3 .1 2 3.7 2 4 4 .8 2-1.1 7-1.8 3-1 5-2.6 4 1.4 3 .1 2-4.2 7 1 4-.7 4-1.6 2-3 1.3-1.6 2.7-1.4 3.8-1 1-2 .5-1.2 1.7 0 1 1.5 2-.1 3 1.6 6-.3 3-1.5 2.2-1 .6-5 1.3-3 0-1.5 .9-.3 1 .7 4-.9 3-1 1.7-3 1.5-.9 1.8 .1 1 1.2 2-.3 1-4.1 1.2-5-.4-2 1-.3 3.2 1.2 5-5.9 8.9-5 .6-4-1.2-2 .6-1 1-.9 2.1 1 4-2.5 2-.8 2-.1 2 1 3-.3 1-1.4 .5-3-.3-7 .8-3 1-1-.3-2-1.6-.2-1.1 2.8-5 .5-3-.3-2-.9-1-1.9-1-1 .1-2 1.7-1.2-.8 0-1 2-3 .9-5 2.5-3 .1-2-2.3-1.5-1-2.5-1.6-2 .7-2-.2-1-3.9-3-3 0-1-1 .7-3 4.3-6.5 .7-5.5 1.3-1.5 1.5-.5 1.7-5 4.8-5.3 .5-1.7-.2-2 .7-1.5 4-.9 1.6-1.6 3.1-7 .4-4 3.9-3.5 2-3.8 3-3.6 0-3.1 1.3-4 2.9-5 0-5 1.8-2.2 5-3.8 2.8-7 2.6-2 1.9-3 3.8-3 3.9-4.4 2-.7 4-2.5 5-.2 4-2 1.3-1.2 1.7-3.2 3-1.1 1.8-1.7z" fill="none" stroke="#14a4ff" stroke-width="1.25" stroke-linejoin="round"/>
<path d="M1352.3 618.3l2.3-.6 3 .7 1.3 .9 .5 4 1.4 5 .8 1.2 3.5 .8 1.4 2 .3 1-1.2 2-.1 1 2.4 4-.1 1-1.2 1.3-.6 1.7-.2 5-3.2 5 .4 3-.4 1-1.9 1-.7 1 .1 3-.7 5 1.1 3-.2 2-3.7 2.9-3 5.7-4 2.9-2.1 4.5 0 2 2.1 2.2 .6 1.8 .4 5.3-1.5 1.7-2.5 1.4-5-.5-2.2 1.1-.7 3 .6 4-.5 3-1.2 1.4-2 .9-3 5.8-2 .7-1-.2-2-1.7-2-.2-1.1 .3-1.8 2-.5 1-1.1 7 .5 1.5 1.6 1.5 0 1-1.6 2.4-2 1.3-6 .9-5 1.6-3 4.9-5 3.3-3.8 1.6-1.2 1.4-1 .1-.6-1.5 .5-2-.5-1-4-2-1-1-.8-2 .2-2 2.2-2.3 3.4-6.7 .2-1-1.2-3-.2-2-.6-1-3-2-5.6-1.9-2.4-2.1 .2-1 1.2-1.1 3 1.4 1-.9 .2-1.4-1.6-2-.3-1 .7-4.1 4.5-.9 6.8-6-3.3-.7-1.9-1.3-.7-1 .5-2 2.3-3 1.3-3 3.5-.7 2.1-1.3 .9-1.3 .7-3.7 3.2-3 .3-1-1.1-3 .3-2 2.6-2.8 2-3.7 3-1.6 .7-1.9-.4-4 2-5 2.4-4 .6-5 1.7-1.6 3-1.4 1.1-1 1.5-3 1.1-5 2.9-2 8.4-9.7 3-.7 3-2.5 2-.4 4 .1 2.7-1.8zM1298.4 753.3l3.3 1 1.3 2 .5 2-2.9 1-1 0-1.7-1-1.1-2 .8-2.5 .8-.5z" fill="none" stroke="#14a4ff" stroke-width="1.25" stroke-linejoin="round"/>
<path d="M1353.5 620.3l1.1-.1 2.1 1.1 1.2 4 2.9 6 0 4 .8 1.7 2.8 3.3 .2 2-.8 7-3.4 5-.7 3-1.1 2-.6 6-1.1 3 .5 4-4.5 8-3.7 3-3.6 4.6-.3 4.4 1.4 3-1.3 5-.8 .9-4 .3-4.7 1.8-.6 2 .3 4.6 .7 2.4-.7 .6-9-1.7-1.8-.9-1.2-1.6-1.3 .6-.4 1 .4 1 1.3 .3 1 .9 2.2 4.8-.5 1-.7 .2-2.4-.2-2.6-3.4-1.1 4.4-1.2 2-.7 2.2-3 3.1-.4 1.7 .4 1.2 1 .5 3-.6 .7 .9 .8 4-1.5 2.6-2 .8-4-.7-3 .9-1.7-.6-2.3-2.1-2-.5-2 1.6-3 4.3-3 1.6-2 3.1-1 .6-1 0-1-.7-.6-1.9 2.8-3 .6-4 2.2-3 .8-3-1.9-5-6.1-5-.1-1 .7-3-1.7-4 .3-.5 3-1 2.3-1.5 4.2-4 3.2-2 1.2-2-.9-1.6-6-.6-1-.8 .2-1 1.8-2.4 1-.5 3.1-.1 3.8-5 .6-4 3.8-4 .3-1-1.5-3 .4-2 3.5-5 2.1 0 1.5-1 .8-4-.5-4 1.3-2 .6-3 2.1-3 2.1-5 4-3.3 3.5-4.7-.7-3 .4-1 4.9-4 4.9-7 1-.5 3-.2 3-2.3 1-.2 5 1.7 1.1-.5 1.8-3zM1304.6 695.1l-2 .6-.6 .6 .3 1 3.7-1 1-1-.4-.4-2 .2z" fill="none" stroke="#10d0ff" stroke-width="1.25" stroke-linejoin="round"/>
<path d="M1351.7 625.3l1.9-.8 1 .4 4.4 5.4 .4 2-.2 3 .6 3-.4 1-1.7 1-.4 1 1.3 1.1 3-1.3 1 .5 .3 1.7-.4 6-1 2-3.6 3-.7 8-1.6 4 0 6-.8 2-3.4 6-4.8 3.8-3 1.5-.3 .7 1.1 10-.8 3-1 .5-3-.1-5.7 2.6-3.3 3.8 1.7 2.2-.5 1-2.2 .7-2-.4-1-.9-2-4.6-1-.2-.9 .4-1.1 1.7-1 .7-.9-.4 .8-4-.9-2-1-1-1 0-1.8 2-1.2 4 1 3.9 1 .4 1-.9 .9 .6 .1 2-1 2.3-1 .6-2 .1-.7 1 2.7 .2 .6 1.8-.1 1-.5 1.1-3 2.8-1.2 2.1-1.8 7 0 1.1 .9 1.9-1.9 .7-1-.2-4-2.6-2 0-2 1.1-3 5.6-2-.3-.5-1.3 2.7-5 .3-2-2.5-5.7-4.1-4.3-.2-2-1-3 .1-2 2.2-1.4 4-.2 .6-1.4-.3-2 .7-1.4 5.2-3.6 1.8-3.6 6.2-2.4 .7-1 0-2 .5-1 2.6-.5 .4-.5 0-1-2.4-1.9-3 .1-2-.7-1.5-2.5 0-1 3.5-4.4 .3-1.6-1-3 1.7-3.1 1-1 3-.9 .9-1 2-6 .4-8 1.7-2 2.3-5 3.7-3.6 2-3.1 2.5-1.3 .5-1-1.1-3 4.7-5 4-6 13.5-1zM1312.8 732.3l1.8-.5 3 .3 .8 1.2-.2 1-.6 1-1 .4-4.7-1.4-.1-1 1-1z" fill="none" stroke="#10f0f0" stroke-width="1.25" stroke-linejoin="round"/>
<path d="M1339.4 627.3l13.2 0 4.7 3 .7 2-.9 3 .5 2-1 .8-2 .1 0 2.1 2 3.1 3 1.6 1 1.1 .6 3.2-1.6 1.8-4 1.2-1.1 1 1.7 4 .2 4-.8 2-2 2 .3 3-.6 5-2.5 6-5.2 3.6-6 .4-1.3 4 .3 .9 3 .3 .9 1.8-1.9 5-4 4.3-6 2.3-2 .2-6.3-1.8-1.8-2-1.5-3-1.2-1-.3-1 .6-2-.2-1-2.3-.7-3-2-3-.3-1.3-1-.3-1 3.3-5 .1-4 .5-2 5.7-3 .6-4 2.3-3 1.3-5-.3-1-1.2-1 .1-1 1.6-5 1.5-2 3.1-2.8 2-3.1 2.6-1.1 .9-1-.6-3 .4-2 3.6-4 3.1-4.5 .8-.5zM1326.6 693.1l-2.1 1.2 4.1 .5 1.2-.5 .2-1-.4-.7-1-.2-2 .7zM1303.7 705.3l1.9-.5 2 .4 5 4.1 1.4 2-.2 1-2.7 2-.3 1 1.7 4-3.9 8.3-3-1.8-2 .1-1.1 1.4-.1 2-.7 1-1.1 .1-4.5-8.1-2.5-2 .1-3-1.7-2-.2-1 .8-.9 1-.2 3 .6 1-.5 1.2-2 .7-3 2.1-.3 1-.6 1.1-2.1zM1307.7 729.3l.9-.6 0 1.9-1 .9-.5-1.2 .6-1z" fill="none" stroke="#18f0a8" stroke-width="1.25" stroke-linejoin="round"/>
<path d="M1343.3 628.3l6.3 .4 1.3 .6 1.7 1.7 3 .1 .6 1.2-.6 .8-1-.1-2-1.3-1 .2-.9 1.4 .2 1 1.6 2 .6 5 1.5 3-2.2 10 2.7 4 .5 3-1 1.4-2 .8-.6 .8 .6 4-.5 4-1.4 5-1.1 1.9-5 2.6-5-.7-1.6 .2-1.3 1 .5 2-.6 1.7-3 .9-3 1.8-1.5 1.6-2.5 .9-1-.4-2-2.8-3-1.2-3-2.3-1-.4-4 0-.7-.8 1.4-3-.1-5 1.1-1 1.3-.3 4.1 .3 .6-2-.7-4 1.8-3 .8-3 1.7-3 .1-1-1.3-3 .4-4 3.7-3 2.3-4 3.8-2 .4-1-.5-4 1-2 5.8-6.2 3.7-.8zM1335.4 691.3l1.2-.4 1 .3 1.5 2.1-.4 2-2.4 3-2.7 1.5-3 .6-4.3-1.1-.6-1 .9-1.6 4-1.1 2-3.1 2.8-1.2zM1305.2 707.3l1.4-.7 1 .3 2.9 2.4 1.5 2-.5 1-2.9 2-.4 1 .4 2-.2 3-.8 1-5 2-3 2-1-.7-.6-1.3 1.7-5-.9-3 .3-1 1.5-2.3 1-.6 2 .7 1-.3 .6-4.5z" fill="none" stroke="#20f050" stroke-width="1.25" stroke-linejoin="round"/>
<path d="M1341.0 630.3l2.6-.8 3 .1 2 .4 .9 1.3-.1 3 1.6 3 .5 2-.4 4 1.2 3-.7 4.7-2.3 3.3 .2 1 2.9 2 2 3-.8 1.3-3 .5-1.6 1.2 2.2 3 .2 2-.3 4-2.3 6-4.2 2.2-2-.1-4-1.2-3 .5-2.1 1.6-.5 1-.1 2-.7 1-4.6 1.5-1-.3-2.4-4.2 0-3-2.4-8 0-3 1.3-5 2.7-4-1.6-5-.2-2 .6-1 3.7-2 .9-1 .6-3 3.9-2 .9-2-.6-3 .3-2 6.7-6zM1315.4 677.3l.2-.4 1 .1 1 .9 .3 1.4-.3 .4-1 .2-1.2-2.6zM1320.0 682.3l.6-.3 1 .9 0 .6-1 .9-.9-1.1 .3-1zM1334.6 693.3l2.2 0 .6 1-.8 1.7-3 2.3-2 .8-3.1-.8 3.8-2 1-2 1.3-1zM1307.5 709.3l1.6 1 0 1-1.6 0 0-2zM1302.1 715.3l1.5 .3 1.2 2.7-.2 1.3-2 1.2-1.1-.5-.1-4 .7-1z" fill="none" stroke="#58f010" stroke-width="1.25" stroke-linejoin="round"/>
<path d="M1341.6 631.3l3-.8 3.3 .8 .8 4 1.7 4-.7 4 .8 3-.8 4-2.3 4 .4 2 2.8 1.7 .8 1.3-.4 1-3.3 2-.3 1 2.9 4 0 5-2.7 4.9-1 .6-3 1.1-5-1.3-3 .3-1 .4-4 4.7-3 .5 1.6-3.2-.4-6-1.2-1-3 .3-1-.9-.4-1.4 .9-7 3.6-5-.2-2-1.6-3-.1-2 6.8-4-.8-2 .7-1 3.1-1.1 1-2.2 .2-2.7-1.2-1.4 0-1.2 1-.8 3.2-.6 1-3 .8-1z" fill="#a8f008" fill-opacity="0.25" stroke="#a8f008" stroke-width="1.25" stroke-linejoin="round"/>
<path d="M1342.4 632.3l1.2-.6 2 .2 1 .5 .5 .9 .2 2-1 2 2.3 1.4 .8 1.6-.8 2.4-1 .8-5-.4-3 .6-1-.9-.2-1.5 .7-3 2.9-3 .4-3zM1336.6 647.3l3-.5 2 1 3.4 .5-.8 3 1.4 2.3 .6 3.7 1.8 2-1.4 1.5-.4 2.5 2.7 4 .8 4-2.1 3.6-1 .9-3 1-2-.2-1-.7-4 .7-2-.4-1.3-.9 .5-3-1.2-.9-3 .6-4-.1-.9-.6 .5-5 1.4-2.8 2-2.3 .5-4.9-.7-3 2.2-2.3 3-1.3 3-2.4zM1341.6 672.8l-.5 .5 .5 1.2 1.2-1.2-1.2-.5zM1331.4 676.3l.8 0-.6 2.7-.7-.7 .5-2z" fill="#a8f008" fill-opacity="0.25" stroke="#a8f008" stroke-width="1.25" stroke-linejoin="round"/>
<path d="M1340.6 638.3l2-.8 3 2 2 .5 .4 1.3-1.4 1.1-6-.3-.9-.8-.1-1 1-2zM1335.9 649.3l1.7-.8 1 0 1.4 1.8 .6 4.1 3.1-.1 .4 1-.5 2 1.3 3 .2 3 3.8 7-.4 2-1.9 2-1.6 0-.5-2-.8-1-2.1-.1-2.2 1.1-.8 2.5-2 .8-1-.3-.6-1-.3-3-4.1-3.2-1 2.2-1 .3-2-.1-.8-1.2 .4-2 3.5-5 .2-4 1.5-6 4.5-3z" fill="#f0f008" fill-opacity="0.25" stroke="#f0f008" stroke-width="1.25" stroke-linejoin="round"/>
<path d="M1341.5 639.3l1.1 0 1 1-2 .3-.4-.3 .3-1zM1336.5 650.3l1.5 0 .6 1 .3 3 .7 1.7 4 4.3 .8 4 3.4 6-.2 1.6-1 .8-2-2.2-5-.1-2.6 .9-.3 1 .9 .3 .2 .7-.2 .7-1 .4 0-3.1-2.8-2-3.4-4 .6-3-.3-4 2.5-5 3.3-3z" fill="#ffb808" fill-opacity="0.25" stroke="#ffb808" stroke-width="1.25" stroke-linejoin="round"/>
<path d="M1336.2 652.3l.4-.3 1 .8 1.1 3.5 4.2 5 .5 3 1.7 4-.9 1-7.6-.1-1.1-.9 .6-2-.5-1.5-3 .4-.5-.9 .5-1.6 2.6-2.4 .2-1-.8-.3-2 1-.6-.7 .1-1 1.9-4 2.2-2z" fill="#ff6c08" fill-opacity="0.25" stroke="#ff6c08" stroke-width="1.25" stroke-linejoin="round"/>
<path d="M1335.2 654.3l1.4-.6 1.6 3.6 4 4 .7 4 1.1 2-.4 1.2-1 .2-4-.8-.9-.6-1.7-5 .9-4-1.8-1-.6-1 .7-2z" fill="#f81808" fill-opacity="0.25" stroke="#f81808" stroke-width="1.25" stroke-linejoin="round"/>
<path d="M1207.94 744.04h1.6v1.6h-1.6zM1336.24 625.89h1.6v1.6h-1.6zM1291.29 645.6h1.6v1.6h-1.6zM1310.08 622.09h1.6v1.6h-1.6zM1258.46 768.99h1.6v1.6h-1.6zM1282.21 715.59h1.6v1.6h-1.6zM1303.53 702.56h1.6v1.6h-1.6zM1310.52 697.33h1.6v1.6h-1.6zM1234.28 748.66h1.6v1.6h-1.6zM1236.92 777.66h1.6v1.6h-1.6zM1338.67 578.49h1.6v1.6h-1.6zM1311.31 633.46h1.6v1.6h-1.6zM1277.6 669.45h1.6v1.6h-1.6zM1214.05 789.26h1.6v1.6h-1.6zM1240.52 722.25h1.6v1.6h-1.6zM1308.81 635.57h1.6v1.6h-1.6zM1317.24 671.64h1.6v1.6h-1.6zM1211.23 769.75h1.6v1.6h-1.6zM1285.57 726.06h1.6v1.6h-1.6zM1292.19 632.29h1.6v1.6h-1.6zM1279.18 657.74h1.6v1.6h-1.6zM1227.61 735.75h1.6v1.6h-1.6zM1314.81 652.65h1.6v1.6h-1.6zM1214.23 740.13h1.6v1.6h-1.6zM1279.51 684.14h1.6v1.6h-1.6zM1337.27 627.08h1.6v1.6h-1.6zM1225.65 719.38h1.6v1.6h-1.6zM1247.38 728.51h1.6v1.6h-1.6zM1249.61 771.57h1.6v1.6h-1.6zM1242.94 760.78h1.6v1.6h-1.6zM1246.15 754.76h1.6v1.6h-1.6zM1266.46 752.89h1.6v1.6h-1.6zM1265.02 734.5h1.6v1.6h-1.6zM1345.75 618.14h1.6v1.6h-1.6zM1251.18 675.51h1.6v1.6h-1.6zM1309.14 630.89h1.6v1.6h-1.6zM1324.17 622.31h1.6v1.6h-1.6zM1321.02 570.14h1.6v1.6h-1.6zM1242.06 766.71h1.6v1.6h-1.6zM1237.55 771.74h1.6v1.6h-1.6zM1261.3 721.22h1.6v1.6h-1.6zM1231.23 737.36h1.6v1.6h-1.6zM1250.98 694.66h1.6v1.6h-1.6zM1249.1 721.85h1.6v1.6h-1.6zM1261.56 702.05h1.6v1.6h-1.6zM1258.9 773.74h1.6v1.6h-1.6zM1223.43 740.52h1.6v1.6h-1.6zM1280.13 657.23h1.6v1.6h-1.6zM1309.82 606.48h1.6v1.6h-1.6zM1226.35 745.66h1.6v1.6h-1.6zM1258.78 764.31h1.6v1.6h-1.6zM1294.75 747.06h1.6v1.6h-1.6zM1261.55 777.77h1.6v1.6h-1.6zM1310.24 658.22h1.6v1.6h-1.6zM1315.4 645.84h1.6v1.6h-1.6zM1258.73 713.48h1.6v1.6h-1.6zM1251.77 713.9h1.6v1.6h-1.6zM1312.78 667.23h1.6v1.6h-1.6zM1225.72 716.1h1.6v1.6h-1.6zM1214.64 799.92h1.6v1.6h-1.6zM1318.18 687.65h1.6v1.6h-1.6zM1324.66 612.98h1.6v1.6h-1.6zM1254.19 729.13h1.6v1.6h-1.6zM1294.56 706.23h1.6v1.6h-1.6zM1323.77 577.22h1.6v1.6h-1.6zM1229.95 723.01h1.6v1.6h-1.6zM1318.27 606.58h1.6v1.6h-1.6zM1402.75 564.44h1.6v1.6h-1.6zM1346.99 626.75h1.6v1.6h-1.6zM1364.59 605.07h1.6v1.6h-1.6zM1356.41 622.33h1.6v1.6h-1.6zM1398.51 573.12h1.6v1.6h-1.6zM1397.82 569.46h1.6v1.6h-1.6zM1383.38 576.17h1.6v1.6h-1.6zM1389.64 578.77h1.6v1.6h-1.6zM1385.28 572.43h1.6v1.6h-1.6zM1348.17 627.19h1.6v1.6h-1.6zM1362.35 601.63h1.6v1.6h-1.6zM1388.08 584.03h1.6v1.6h-1.6z" fill="#333"/></g>
<line x1="1336.5" y1="506.3" x2="1336.5" y2="815.9" stroke="#111" stroke-width="1.3"/>
<line x1="1203.6" y1="697.1" x2="1510.4" y2="697.1" stroke="#111" stroke-width="1.2"/>
<text transform="translate(1392.5 553) scale(1 1.04)" font-size="31.6">30.31%</text>
<path d="M55 773.8V867.9H153.7M39 800.8L55 773.3L71 800.8M126.7 851.9L154.2 867.9L126.7 883.9" fill="none" stroke="#000" stroke-width="4.8" stroke-linecap="round" stroke-linejoin="miter"/>
<text transform="translate(68.6 701.5) rotate(-90) scale(1 1.04)" font-size="31.3" text-anchor="middle">CD80</text>
<text transform="translate(172 878.4) scale(1 1.04)" font-size="31.5">CD86</text>
<text transform="translate(255.6 1320.2) scale(1 1.04)" font-size="31.3" text-anchor="middle" fill="#595959">PBS</text>
<text transform="translate(619.5 1320.2) scale(1 1.04)" font-size="31.3" text-anchor="middle" fill="#F8993F">LN-TCV</text>
<text transform="translate(988.4 1320.2) scale(1 1.04)" font-size="31.3" text-anchor="middle" fill="#8A8CF8">LN-TCV+L</text>
<text transform="translate(1344.4 1320.2) scale(1 1.04)" font-size="31.3" text-anchor="middle" fill="#F6739D">LN-TCV+2L</text>
<rect x="113.4" y="1327.9" width="303.7" height="303.8" fill="#fff" stroke="#1a1a1a" stroke-width="1.5"/>
<path d="M132.4 1631.7v6.8M169.2 1631.7v6.8M218.8 1631.7v6.8M267.3 1631.7v6.8M316.6 1631.7v6.8M365.9 1631.7v6.8M417.1 1631.7v6.8M184.13 1631.7v4.5M192.87 1631.7v4.5M199.06 1631.7v4.5M203.87 1631.7v4.5M207.8 1631.7v4.5M211.12 1631.7v4.5M213.99 1631.7v4.5M216.53 1631.7v4.5M233.4 1631.7v4.5M241.94 1631.7v4.5M248 1631.7v4.5M252.7 1631.7v4.5M256.54 1631.7v4.5M259.79 1631.7v4.5M262.6 1631.7v4.5M265.08 1631.7v4.5M282.14 1631.7v4.5M290.82 1631.7v4.5M296.98 1631.7v4.5M301.76 1631.7v4.5M305.66 1631.7v4.5M308.96 1631.7v4.5M311.82 1631.7v4.5M314.34 1631.7v4.5M331.44 1631.7v4.5M340.12 1631.7v4.5M346.28 1631.7v4.5M351.06 1631.7v4.5M354.96 1631.7v4.5M358.26 1631.7v4.5M361.12 1631.7v4.5M363.64 1631.7v4.5M381.31 1631.7v4.5M390.33 1631.7v4.5M396.73 1631.7v4.5M401.69 1631.7v4.5M405.74 1631.7v4.5M409.17 1631.7v4.5M412.14 1631.7v4.5M414.76 1631.7v4.5M139.02 1631.7v4.5M145.28 1631.7v4.5M150.8 1631.7v4.5M155.22 1631.7v4.5M158.9 1631.7v4.5M161.84 1631.7v4.5M164.42 1631.7v4.5M166.62 1631.7v4.5M128.6 1631.7v4.5M124.42 1631.7v4.5M119.1 1631.7v4.5M113.4 1631.7v4.5" fill="none" stroke="#111" stroke-width="1.45"/>
<path d="M113.4 1327.9h-9M113.4 1450.5h-9M113.4 1584.7h-9M113.4 1413.59h-6.5M113.4 1392h-6.5M113.4 1376.69h-6.5M113.4 1364.81h-6.5M113.4 1355.1h-6.5M113.4 1346.89h-6.5M113.4 1339.78h-6.5M113.4 1333.51h-6.5M113.4 1544.44h-6.5M113.4 1517.6h-6.5M113.4 1497.47h-6.5M113.4 1482.71h-6.5M113.4 1470.63h-6.5M113.4 1459.89h-6.5M113.4 1615.5h-6.5" fill="none" stroke="#111" stroke-width="1.45"/>
<text transform="translate(132.4 1665.5) scale(1 1.04)" font-size="26.1" text-anchor="middle">0</text>
<text transform="translate(166.2 1665.5) scale(1 1.04)" font-size="26.1" text-anchor="middle">10<tspan font-size="17" dy="-7.7">2</tspan></text>
<text transform="translate(218.8 1665.5) scale(1 1.04)" font-size="26.1" text-anchor="middle">10<tspan font-size="17" dy="-7.7">3</tspan></text>
<text transform="translate(267.3 1665.5) scale(1 1.04)" font-size="26.1" text-anchor="middle">10<tspan font-size="17" dy="-7.7">4</tspan></text>
<text transform="translate(316.6 1665.5) scale(1 1.04)" font-size="26.1" text-anchor="middle">10<tspan font-size="17" dy="-7.7">5</tspan></text>
<text transform="translate(365.9 1665.5) scale(1 1.04)" font-size="26.1" text-anchor="middle">10<tspan font-size="17" dy="-7.7">6</tspan></text>
<text transform="translate(417.1 1665.5) scale(1 1.04)" font-size="26.1" text-anchor="middle">10<tspan font-size="17" dy="-7.7">7</tspan></text>
<text transform="translate(103.2 1340.6) scale(1 1.04)" font-size="26.1" text-anchor="end">10<tspan font-size="17" dy="-7.7">5</tspan></text>
<text transform="translate(103.2 1463.2) scale(1 1.04)" font-size="26.1" text-anchor="end">10<tspan font-size="17" dy="-7.7">4</tspan></text>
<text transform="translate(90.8 1597.4) scale(1 1.04)" font-size="26.1" text-anchor="end">0</text>
<g><path d="M318.3 1551.5l1.7 .2 9 3.7 .9 1.1 .4 2 2.7 1.7 1.3 1.3 2.3 4 2.1 7-.1 9-3.6 9.4-2 2.6-4 3.1-3 1.6-3 .8-4 1.7-3 .6-3 1.7-1 .1-5-3.1-5.3-7.5-5.7-5.3-1-6.1-1.9-6.6 0-2 .5-3 1.8-3 1.2-3 2.7-3 1.8-3 1.9-1.7 3-1.8 5-2 2-.3 3 .4 2.3-.6z" fill="none" stroke="#0808f8" stroke-width="1.15" stroke-linejoin="round"/>
<path d="M317.5 1556.5l3.5-.3 5 1.8 7.5 7.5 .9 4 1.8 4 0 5-.8 5-1.4 3.4-1.1 1.6-5.4 5-1.5 1.1-7 3.1-4 .7-2 1-1 0-1.5-.9-3.5-3.9-1.9-3.1-4.2-4-2.5-4-.5-2 .3-3-1.5-3-.3-2 .4-1 2.2-2.4 .2-3.6 4.8-7.1 5-2.7 6 .5 2.5-.7z" fill="none" stroke="#0a28ff" stroke-width="1.15" stroke-linejoin="round"/>
<path d="M319.4 1558.5l1.6-.2 3 .8 6.4 5.4 1.4 2 1.2 5 .9 2 .3 4-1.2 3.4-.2 3.6-1 2-.9 1-3.9 3.4-3 1.9-3 .9-4 2.2-4 .7-1-.4-2.9-2.7-2.1-2.9-3-2.7-3.7-5.4-.6-2 .8-7 2.1-8 1.4-2.5 3-1.2 3-2.6 2-.4 4 .2 3.4-.5z" fill="#1050ff" fill-opacity="0.42" stroke="#1050ff" stroke-width="1.15" stroke-linejoin="round"/>
<path d="M315.4 1560.5l4.6-.6 2 .3 7 4.8 2 4.5 1.5 5 .1 2-1.3 4-.5 3-1.8 3.2-3 2.2-7.8 3.6-3 2-1.2 .2-3-1.6-2.1-2.6-3.9-3.6-3.3-5.4-.5-2 1.2-4 1.3-7 1.2-3 7.1-4.6 3.4-.4z" fill="#14a4ff" fill-opacity="0.42" stroke="#14a4ff" stroke-width="1.15" stroke-linejoin="round"/>
<path d="M317.6 1561.5l2.4-.2 2 .6 6 4.1 2.2 5.5 .8 5-1.6 7-1.4 2.1-8 4.5-5 2.3-1 .1-2.4-1-1.6-2-4.3-4-1.4-3-.6-3 .6-2 .1-3 1.1-6 .9-2 6.7-4 4.5-1z" fill="#10d0ff" fill-opacity="0.42" stroke="#10d0ff" stroke-width="1.15" stroke-linejoin="round"/>
<path d="M315.4 1563.5l2.6-.9 3 .3 2 1 4 2.9 2.4 6.7 .3 3-1.4 6-1 2-8.3 4.6-2 .5-2 1.1-1 0-1-.5-6.3-5.7-1-3 .6-3-.6-4 1.3-5.9 .7-1.1 2.3-1.5 5.4-2.5z" fill="#10f0f0" fill-opacity="0.42" stroke="#10f0f0" stroke-width="1.15" stroke-linejoin="round"/>
<path d="M316.8 1564.5l2.2-.7 2 .4 5 3.4 2.4 5.9 .3 3-.9 4-1.6 3-1.1 1-4.1 2.5-2 .8-5 .9-4-2.7-2.2-2.5-.7-2 .5-3-.8-4 1.2-4 1.4-2 1.6-1.4 5.8-2.6z" fill="#18f0a8" fill-opacity="0.42" stroke="#18f0a8" stroke-width="1.15" stroke-linejoin="round"/>
<path d="M318.1 1565.5l2.3 0 4.6 3.1 2.4 4.9 .4 2-.3 3-2.7 5-2.5 2-3.3 1.2-5 0-2.4-1.2-3-4-.3-1 .3-3-.8-2 .1-2 1.1-2.2 3.4-2.8 5.7-3z" fill="#20f050" fill-opacity="0.42" stroke="#20f050" stroke-width="1.15" stroke-linejoin="round"/>
<path d="M316.6 1567.5l1.4-.4 1 .1 4.8 2.3 2.2 3 .7 2-.1 4-2.2 4-2.4 2.1-3 .8-3-.2-3-1.2-1-1.5-2.2-2-.1-3-.9-3 .2-1.2 1-1.2 2.8-1.6 3.8-3z" fill="#58f010" fill-opacity="0.42" stroke="#58f010" stroke-width="1.15" stroke-linejoin="round"/>
<path d="M316.1 1569.5l1.9-.5 3 .8 3 1.9 1.2 1.8 .6 3-.5 3-1.3 2.2-2 1.7-3 .5-4-.4-1-.6-2.9-3.4-1.1-5 .4-1 5.7-4z" fill="#a8f008" fill-opacity="0.42" stroke="#a8f008" stroke-width="1.15" stroke-linejoin="round"/>
<path d="M314.5 1571.5l1.5-.8 3 .4 3 1.8 1.6 1.6 .5 1 0 1-.6 2 .3 1-.2 1-.6 1-2 1.1-5-.6-1-.3-2.2-2.2-.7-1-.5-4 .5-1 2.4-2z" fill="#ffb808" fill-opacity="0.42" stroke="#ffb808" stroke-width="1.15" stroke-linejoin="round"/>
<path d="M314.4 1572.5l1.6-1 1 .1 2.3 1.9 2.7 1.3 .4 .7 0 1-.8 2 .6 2-1.1 1-1.1 0-2-2.4-3 .5-1.6-1.1-.4-4 1.4-2z" fill="#ff6c08" fill-opacity="0.42" stroke="#ff6c08" stroke-width="1.15" stroke-linejoin="round"/>
<path d="M315.5 1572.5l.5-.3 1.2 .3 1.8 2.3 2.1 .7-.1 1.2-1 .9-2-.5-3 .9-.4-.5-.5-3 .4-1 1-1z" fill="#f81808" fill-opacity="0.42" stroke="#f81808" stroke-width="1.15" stroke-linejoin="round"/>
<path d="M331.73 1500.84h1.5v1.5h-1.5zM307.83 1502.32h1.5v1.5h-1.5zM336.32 1525.84h1.5v1.5h-1.5zM304.93 1522.73h1.5v1.5h-1.5zM316.99 1503.68h1.5v1.5h-1.5zM317.46 1489.46h1.5v1.5h-1.5zM315.12 1528.96h1.5v1.5h-1.5zM309.55 1536.91h1.5v1.5h-1.5zM320.47 1547.17h1.5v1.5h-1.5zM316.97 1447.59h1.5v1.5h-1.5zM306.49 1488.49h1.5v1.5h-1.5zM319.34 1495.04h1.5v1.5h-1.5zM317.33 1518.39h1.5v1.5h-1.5zM314.12 1492.4h1.5v1.5h-1.5zM334.02 1484.76h1.5v1.5h-1.5zM335.08 1448.52h1.5v1.5h-1.5zM321.3 1473.96h1.5v1.5h-1.5zM327.82 1509.79h1.5v1.5h-1.5zM320.04 1542.56h1.5v1.5h-1.5zM311.24 1518.96h1.5v1.5h-1.5zM309.86 1541.14h1.5v1.5h-1.5zM312.71 1420.32h1.5v1.5h-1.5zM298.6 1545.98h1.5v1.5h-1.5zM308.6 1461.49h1.5v1.5h-1.5zM325.96 1498.5h1.5v1.5h-1.5zM310.73 1529.82h1.5v1.5h-1.5zM306.57 1434.34h1.5v1.5h-1.5zM322.89 1499.32h1.5v1.5h-1.5zM320.52 1490.78h1.5v1.5h-1.5zM316.9 1487.89h1.5v1.5h-1.5zM318.07 1522.1h1.5v1.5h-1.5zM283.38 1510.35h1.5v1.5h-1.5zM317.57 1477.06h1.5v1.5h-1.5zM311.56 1451.31h1.5v1.5h-1.5zM332.09 1534.3h1.5v1.5h-1.5zM311.91 1467.99h1.5v1.5h-1.5zM323.34 1533.18h1.5v1.5h-1.5zM337.78 1467.05h1.5v1.5h-1.5zM329.43 1501.45h1.5v1.5h-1.5zM322.06 1539.07h1.5v1.5h-1.5zM349.9 1593.46h1.5v1.5h-1.5zM292.99 1605.24h1.5v1.5h-1.5zM347.07 1555.06h1.5v1.5h-1.5zM354.28 1574.08h1.5v1.5h-1.5zM341.31 1552.6h1.5v1.5h-1.5zM317.89 1609.82h1.5v1.5h-1.5zM349.48 1594.32h1.5v1.5h-1.5zM281.58 1580.08h1.5v1.5h-1.5zM315.73 1613.38h1.5v1.5h-1.5zM330.73 1607.96h1.5v1.5h-1.5zM347.34 1552.33h1.5v1.5h-1.5zM287.49 1582.58h1.5v1.5h-1.5zM282.91 1571.75h1.5v1.5h-1.5zM325.72 1617.5h1.5v1.5h-1.5zM341.89 1551.83h1.5v1.5h-1.5zM285.83 1559.61h1.5v1.5h-1.5zM287.69 1567.85h1.5v1.5h-1.5zM351.53 1579.59h1.5v1.5h-1.5zM350.32 1582.61h1.5v1.5h-1.5zM337.13 1549.13h1.5v1.5h-1.5zM286.5 1601.05h1.5v1.5h-1.5zM336.26 1600.64h1.5v1.5h-1.5z" fill="#333"/></g>
<rect x="270.4" y="1370.6" width="120.2" height="171.3" fill="none" stroke="#111" stroke-width="1.3"/>
<text transform="translate(294.1 1364.9) scale(1 1.04)" font-size="31.6">3.65%</text>
<rect x="474.5" y="1327.9" width="304.2" height="304.3" fill="#fff" stroke="#1a1a1a" stroke-width="1.5"/>
<path d="M493.4 1632.2v6.8M530.8 1632.2v6.8M580.1 1632.2v6.8M629.4 1632.2v6.8M678.2 1632.2v6.8M728.8 1632.2v6.8M778.7 1632.2v6.8M545.64 1632.2v4.5M554.32 1632.2v4.5M560.48 1632.2v4.5M565.26 1632.2v4.5M569.16 1632.2v4.5M572.46 1632.2v4.5M575.32 1632.2v4.5M577.84 1632.2v4.5M594.94 1632.2v4.5M603.62 1632.2v4.5M609.78 1632.2v4.5M614.56 1632.2v4.5M618.46 1632.2v4.5M621.76 1632.2v4.5M624.62 1632.2v4.5M627.14 1632.2v4.5M644.09 1632.2v4.5M652.68 1632.2v4.5M658.78 1632.2v4.5M663.51 1632.2v4.5M667.37 1632.2v4.5M670.64 1632.2v4.5M673.47 1632.2v4.5M675.97 1632.2v4.5M693.43 1632.2v4.5M702.34 1632.2v4.5M708.66 1632.2v4.5M713.57 1632.2v4.5M717.57 1632.2v4.5M720.96 1632.2v4.5M723.9 1632.2v4.5M726.48 1632.2v4.5M743.82 1632.2v4.5M752.61 1632.2v4.5M758.84 1632.2v4.5M763.68 1632.2v4.5M767.63 1632.2v4.5M770.97 1632.2v4.5M773.86 1632.2v4.5M776.42 1632.2v4.5M500.13 1632.2v4.5M506.49 1632.2v4.5M512.1 1632.2v4.5M516.59 1632.2v4.5M520.33 1632.2v4.5M523.32 1632.2v4.5M525.94 1632.2v4.5M528.18 1632.2v4.5M489.62 1632.2v4.5M485.46 1632.2v4.5M480.17 1632.2v4.5M474.5 1632.2v4.5" fill="none" stroke="#111" stroke-width="1.45"/>
<path d="M474.5 1327.9h-9M474.5 1450.5h-9M474.5 1584.7h-9M474.5 1413.59h-6.5M474.5 1392h-6.5M474.5 1376.69h-6.5M474.5 1364.81h-6.5M474.5 1355.1h-6.5M474.5 1346.89h-6.5M474.5 1339.78h-6.5M474.5 1333.51h-6.5M474.5 1544.44h-6.5M474.5 1517.6h-6.5M474.5 1497.47h-6.5M474.5 1482.71h-6.5M474.5 1470.63h-6.5M474.5 1459.89h-6.5M474.5 1615.5h-6.5" fill="none" stroke="#111" stroke-width="1.45"/>
<text transform="translate(493.4 1664.7) scale(1 1.04)" font-size="26.1" text-anchor="middle">0</text>
<text transform="translate(527.8 1664.7) scale(1 1.04)" font-size="26.1" text-anchor="middle">10<tspan font-size="17" dy="-7.7">2</tspan></text>
<text transform="translate(580.1 1664.7) scale(1 1.04)" font-size="26.1" text-anchor="middle">10<tspan font-size="17" dy="-7.7">3</tspan></text>
<text transform="translate(629.4 1664.7) scale(1 1.04)" font-size="26.1" text-anchor="middle">10<tspan font-size="17" dy="-7.7">4</tspan></text>
<text transform="translate(678.2 1664.7) scale(1 1.04)" font-size="26.1" text-anchor="middle">10<tspan font-size="17" dy="-7.7">5</tspan></text>
<text transform="translate(728.8 1664.7) scale(1 1.04)" font-size="26.1" text-anchor="middle">10<tspan font-size="17" dy="-7.7">6</tspan></text>
<text transform="translate(778.7 1664.7) scale(1 1.04)" font-size="26.1" text-anchor="middle">10<tspan font-size="17" dy="-7.7">7</tspan></text>
<text transform="translate(464.3 1340.6) scale(1 1.04)" font-size="26.1" text-anchor="end">10<tspan font-size="17" dy="-7.7">5</tspan></text>
<text transform="translate(464.3 1463.2) scale(1 1.04)" font-size="26.1" text-anchor="end">10<tspan font-size="17" dy="-7.7">4</tspan></text>
<text transform="translate(451.9 1597.4) scale(1 1.04)" font-size="26.1" text-anchor="end">0</text>
<g><path d="M683.7 1530.0l1.8 .4 1.9 1.6 .8 3 1.5 3 1 4 .1 3 1.5 4 1.2 2 0 4.8 1.7 3.2 .8 3 3.5 5 2.4 7 1 7-1.3 7-2.3 3-1.7 4-2.3 3-4.5 4-7.3 3.7-2 .5-4-1.3-6-1-7.5-2.9-4.5-4.2-2.5-4.8-2.5-6-2-1.8-1.6-2.2-.8-2 .4-1.6 2-1.9 1-8.7 2-2 3.2-1.8 3.4-8 7.4-8.1 3-7.5 1.6-1.4 2.3-3 2.1-1.2 2-2.4 3.2-2.4z" fill="none" stroke="#0808f8" stroke-width="1.15" stroke-linejoin="round"/>
<path d="M679.9 1539.0l1.6-.6 1 .2 3.5 2.4 .4 1-.2 3 2.8 4 .4 3 1.2 3 .3 4 1.7 4 2.7 3 2.8 4 1.3 6 .3 4-.8 5-1.7 4-5.7 8.9-7 4.4-4 .4-9-1.5-5-2.9-5.9-6.3-1.5-3-.3-4-1.1-3 .3-5-1.1-3 .1-1 3-4 8.3-9 1-3 2.2-2.2 2.4-7.8 1.2-1 2.8-1 .6-1 .7-4 .7-1z" fill="none" stroke="#0a28ff" stroke-width="1.15" stroke-linejoin="round"/>
<path d="M682.3 1546.0l1.2 .4 .3 .6-.3 1.9-1-.5-.5-1.4 .3-1zM676.5 1551.0l1-.1 1 1.6 1 0 2-1.3 1 .1 3 .9 1 1.2 .9 2.6-.2 2 2.3 3.5 .9 2.5 3.9 4 2 3 .2 3 1 3 .2 2-.8 6-1.4 3.3-3 4.9-6 5.1-3 1.8-3 .8-8-1.2-8.5-6.7-1.4-2-3.1-10 .7-3 .1-3 1.8-5 4.4-4.1 6-6.8 2-.9 1-1.2 1.1-2 .1-1-.6-1 .4-2z" fill="#1050ff" fill-opacity="0.42" stroke="#1050ff" stroke-width="1.15" stroke-linejoin="round"/>
<path d="M679.3 1558.0l1.2-.5 1 .2 2 2.5 3 1.2 1 1 2 3.6 4 3.7 1.1 2.3 .1 3 .8 2 .3 2-.8 7-3.6 6-2.9 1.8-2 2.4-4 2.6-2 .7-7-1.3-2.3-2.2-4.7-3.1-1-1.3-2.7-5.6 0-3-1-2-.1-1 .6-6 1.2-2.6 4-3.6 5-5.5 4.7-2.3 2.1-2z" fill="#14a4ff" fill-opacity="0.42" stroke="#14a4ff" stroke-width="1.15" stroke-linejoin="round"/>
<path d="M680.3 1561.0l2.2 1.6 3 .7 7 7.7 1.8 8-.6 6-3.4 6-2.8 1.8-2 2.4-2 .7-2 1.8-1 .3-3-.3-2-.7-4-2.5-3.9-3.5-.9-2-1.7-2-.3-1 .1-3-1.2-3-.1-1 .4-4 .9-2 4-3 3.2-5 1.5-1.2 4-.3 .9-.5 1.1-1.8 .8-.2z" fill="#10d0ff" fill-opacity="0.42" stroke="#10d0ff" stroke-width="1.15" stroke-linejoin="round"/>
<path d="M682.5 1565.0l2 .5 2 1.3 4.5 4.2 .5 1 .2 3 1.3 3 .1 2-.6 4.3-3.4 5.7-2.4 2-1.2 1.8-3 1.2-2 1.6-1 0-6-2.3-2-1.3-2.6-4-2.8-3-.9-7 .6-4 .9-2 4.5-3 2.3-3.6 2-.9 7-.5z" fill="#10f0f0" fill-opacity="0.42" stroke="#10f0f0" stroke-width="1.15" stroke-linejoin="round"/>
<path d="M675.8 1567.0l2.7-.7 4 0 4.8 2.7 2.7 3-.2 3 1.7 2.5 .4 1.5-.4 5-2 2.4-1.5 2.6-3.4 4-2.1 .6-2 1.4-1 .1-5-1.6-2-1.3-1.5-3.2-3.2-3-1.3-5 1.1-7 3.9-2.5 4.3-4.5z" fill="#18f0a8" fill-opacity="0.42" stroke="#18f0a8" stroke-width="1.15" stroke-linejoin="round"/>
<path d="M676.8 1568.0l1.7-.7 4 .2 4 2.6 1.7 1.9 .1 3 1.8 3 .1 1-.4 2 .6 2-3.7 6-3.1 3-4.1 1.4-5-1.3-1-1-1-2.3-2.8-2.8 .4-3-2.2-2-.2-1 1.6-5 7.5-7z" fill="#20f050" fill-opacity="0.42" stroke="#20f050" stroke-width="1.15" stroke-linejoin="round"/>
<path d="M677.5 1569.0l2-.9 2 .2 1.4 .7 3.7 3 1.5 5-.2 5-1 5-1.4 2.2-3 1.9-1 .1-2-.6-3 .4-2-1.1-3.3-3.9 0-1 1.2-3-.1-1-.8-1.2-2-.3-.2-.5 .6-2 2.8-4 4.8-4z" fill="#58f010" fill-opacity="0.42" stroke="#58f010" stroke-width="1.15" stroke-linejoin="round"/>
<path d="M678.1 1570.0l1.4-1 1 0 2 1 2 1.5 1.3 1.5 1.3 4-1 10-1.6 2.1-2 1-3-1.1-3 .6-1-.3-3.1-3.3 0-1 1.1-3-.4-2-1.2-2 .2-2 1.7-3 2.7-1.5 1.6-1.5z" fill="#a8f008" fill-opacity="0.42" stroke="#a8f008" stroke-width="1.15" stroke-linejoin="round"/>
<path d="M679.1 1571.0l1.4-.6 3.1 1.6 1.9 2.7 .7 2.3-.6 3-.4 7-.7 1.1-2 1.1-3-1-3 .2-1-.3-2.1-2.1 1-4-1.3-5 .3-2 1.1-1.5 3-.4 1.6-2.1z" fill="#ffb808" fill-opacity="0.42" stroke="#ffb808" stroke-width="1.15" stroke-linejoin="round"/>
<path d="M679.1 1573.0l1.4-.8 2 .5 2 2 .9 2.3-.9 1.7-3-.4-1.6 .7-.3 1 .9 1.3 3-.5 .9 1.2-.6 5-1.3 1.2-1-.1-2-1-3 .1-1-.3-.9-.9 0-1 .7-3 0-3-.1-1-.8-1 .1-1.7 1-.1 .8 2.8 1.2 0 .6-1 .5-3 .5-1z" fill="#ff6c08" fill-opacity="0.42" stroke="#ff6c08" stroke-width="1.15" stroke-linejoin="round"/>
<path d="M679.6 1574.0l.9-.6 1.7 .6 1.9 2 0 1-3.6 .3-.7-.3-.5-1 .3-2zM676.9 1581.0l.6-.7 2 2.2 1 .3 2-.1 .5 .3 0 1-.5 .9-1 .6-5 0-.4-1.5 .8-3z" fill="#f81808" fill-opacity="0.42" stroke="#f81808" stroke-width="1.15" stroke-linejoin="round"/>
<path d="M677.68 1532.15h1.5v1.5h-1.5zM685.16 1434.22h1.5v1.5h-1.5zM684.36 1542.64h1.5v1.5h-1.5zM671 1532.04h1.5v1.5h-1.5zM674.14 1531.29h1.5v1.5h-1.5zM676.82 1521.98h1.5v1.5h-1.5zM664.11 1489.42h1.5v1.5h-1.5zM656.32 1520.42h1.5v1.5h-1.5zM675.9 1546.53h1.5v1.5h-1.5zM669.29 1517.77h1.5v1.5h-1.5zM685.88 1541.42h1.5v1.5h-1.5zM667.47 1524.32h1.5v1.5h-1.5zM672.04 1498.1h1.5v1.5h-1.5zM675.82 1509.01h1.5v1.5h-1.5zM664.9 1535.11h1.5v1.5h-1.5zM706.78 1544.91h1.5v1.5h-1.5zM696.97 1527.81h1.5v1.5h-1.5zM674.76 1504.6h1.5v1.5h-1.5zM695.26 1511.7h1.5v1.5h-1.5zM673.14 1539.01h1.5v1.5h-1.5zM683.37 1511.59h1.5v1.5h-1.5zM684.29 1477.79h1.5v1.5h-1.5zM678.73 1510.56h1.5v1.5h-1.5zM687.97 1509.5h1.5v1.5h-1.5zM674.53 1525.42h1.5v1.5h-1.5zM689.61 1519.47h1.5v1.5h-1.5zM693.4 1536.53h1.5v1.5h-1.5zM676.11 1516.28h1.5v1.5h-1.5zM667.3 1530.96h1.5v1.5h-1.5zM698.69 1457.64h1.5v1.5h-1.5zM688.46 1528.18h1.5v1.5h-1.5zM693.78 1488.77h1.5v1.5h-1.5zM675.35 1512.54h1.5v1.5h-1.5zM682.15 1537.45h1.5v1.5h-1.5zM675.13 1533.61h1.5v1.5h-1.5zM676.31 1520.76h1.5v1.5h-1.5zM688.37 1534.94h1.5v1.5h-1.5zM682.07 1545.98h1.5v1.5h-1.5zM674.92 1493.51h1.5v1.5h-1.5zM673.36 1536.21h1.5v1.5h-1.5zM675.88 1545.52h1.5v1.5h-1.5zM690.23 1498.3h1.5v1.5h-1.5zM673.43 1517.88h1.5v1.5h-1.5zM668.63 1527.72h1.5v1.5h-1.5zM677.06 1507.22h1.5v1.5h-1.5zM678.26 1496.43h1.5v1.5h-1.5zM682.24 1498.31h1.5v1.5h-1.5zM671.2 1530.57h1.5v1.5h-1.5zM659.35 1536.53h1.5v1.5h-1.5zM662.68 1489.7h1.5v1.5h-1.5zM680.73 1511.72h1.5v1.5h-1.5zM671.74 1529.78h1.5v1.5h-1.5zM694.12 1525.86h1.5v1.5h-1.5zM682.74 1525.94h1.5v1.5h-1.5zM686.73 1468.39h1.5v1.5h-1.5zM683.66 1539.54h1.5v1.5h-1.5zM687.5 1544h1.5v1.5h-1.5zM674.08 1535.68h1.5v1.5h-1.5zM684.16 1546.76h1.5v1.5h-1.5zM680.66 1527.7h1.5v1.5h-1.5zM655.21 1616.87h1.5v1.5h-1.5zM694.07 1546.98h1.5v1.5h-1.5zM696.55 1550.92h1.5v1.5h-1.5zM641.49 1581.94h1.5v1.5h-1.5zM670.33 1544.45h1.5v1.5h-1.5zM681.97 1611.86h1.5v1.5h-1.5zM660.72 1540.58h1.5v1.5h-1.5zM657.95 1548.19h1.5v1.5h-1.5zM651.99 1555.63h1.5v1.5h-1.5zM717.82 1585.21h1.5v1.5h-1.5zM648.48 1546.67h1.5v1.5h-1.5zM681.74 1612.99h1.5v1.5h-1.5zM654.78 1615.85h1.5v1.5h-1.5zM714 1581.6h1.5v1.5h-1.5zM696.35 1619.27h1.5v1.5h-1.5zM643.52 1565.22h1.5v1.5h-1.5zM643.78 1576.36h1.5v1.5h-1.5zM700.25 1612.31h1.5v1.5h-1.5zM664.14 1535.79h1.5v1.5h-1.5zM691.12 1620.75h1.5v1.5h-1.5zM680.42 1537.95h1.5v1.5h-1.5zM689.19 1609.95h1.5v1.5h-1.5z" fill="#333"/></g>
<rect x="631.5" y="1370.6" width="121.2" height="171.3" fill="none" stroke="#111" stroke-width="1.3"/>
<line x1="752.7" y1="1370.6" x2="752.7" y2="1541.9" stroke="#111" stroke-width="2"/>
<text transform="translate(659.5 1366.2) scale(1 1.04)" font-size="31.6">7.54%</text>
<rect x="837.1" y="1327.9" width="303.7" height="304.3" fill="#fff" stroke="#1a1a1a" stroke-width="1.5"/>
<path d="M856 1632.2v6.8M892.9 1632.2v6.8M942.7 1632.2v6.8M992 1632.2v6.8M1040.8 1632.2v6.8M1091.4 1632.2v6.8M1140.8 1632.2v6.8M907.89 1632.2v4.5M916.66 1632.2v4.5M922.88 1632.2v4.5M927.71 1632.2v4.5M931.65 1632.2v4.5M934.99 1632.2v4.5M937.87 1632.2v4.5M940.42 1632.2v4.5M957.54 1632.2v4.5M966.22 1632.2v4.5M972.38 1632.2v4.5M977.16 1632.2v4.5M981.06 1632.2v4.5M984.36 1632.2v4.5M987.22 1632.2v4.5M989.74 1632.2v4.5M1006.69 1632.2v4.5M1015.28 1632.2v4.5M1021.38 1632.2v4.5M1026.11 1632.2v4.5M1029.97 1632.2v4.5M1033.24 1632.2v4.5M1036.07 1632.2v4.5M1038.57 1632.2v4.5M1056.03 1632.2v4.5M1064.94 1632.2v4.5M1071.26 1632.2v4.5M1076.17 1632.2v4.5M1080.17 1632.2v4.5M1083.56 1632.2v4.5M1086.5 1632.2v4.5M1089.08 1632.2v4.5M1106.27 1632.2v4.5M1114.97 1632.2v4.5M1121.14 1632.2v4.5M1125.93 1632.2v4.5M1129.84 1632.2v4.5M1133.15 1632.2v4.5M1136.01 1632.2v4.5M1138.54 1632.2v4.5M862.64 1632.2v4.5M868.91 1632.2v4.5M874.45 1632.2v4.5M878.88 1632.2v4.5M882.57 1632.2v4.5M885.52 1632.2v4.5M888.1 1632.2v4.5M890.32 1632.2v4.5M852.22 1632.2v4.5M848.06 1632.2v4.5M842.77 1632.2v4.5M837.1 1632.2v4.5" fill="none" stroke="#111" stroke-width="1.45"/>
<path d="M837.1 1327.9h-9M837.1 1450.5h-9M837.1 1584.7h-9M837.1 1413.59h-6.5M837.1 1392h-6.5M837.1 1376.69h-6.5M837.1 1364.81h-6.5M837.1 1355.1h-6.5M837.1 1346.89h-6.5M837.1 1339.78h-6.5M837.1 1333.51h-6.5M837.1 1544.44h-6.5M837.1 1517.6h-6.5M837.1 1497.47h-6.5M837.1 1482.71h-6.5M837.1 1470.63h-6.5M837.1 1459.89h-6.5M837.1 1615.5h-6.5" fill="none" stroke="#111" stroke-width="1.45"/>
<text transform="translate(856 1664.7) scale(1 1.04)" font-size="26.1" text-anchor="middle">0</text>
<text transform="translate(889.9 1664.7) scale(1 1.04)" font-size="26.1" text-anchor="middle">10<tspan font-size="17" dy="-7.7">2</tspan></text>
<text transform="translate(942.7 1664.7) scale(1 1.04)" font-size="26.1" text-anchor="middle">10<tspan font-size="17" dy="-7.7">3</tspan></text>
<text transform="translate(992 1664.7) scale(1 1.04)" font-size="26.1" text-anchor="middle">10<tspan font-size="17" dy="-7.7">4</tspan></text>
<text transform="translate(1040.8 1664.7) scale(1 1.04)" font-size="26.1" text-anchor="middle">10<tspan font-size="17" dy="-7.7">5</tspan></text>
<text transform="translate(1091.4 1664.7) scale(1 1.04)" font-size="26.1" text-anchor="middle">10<tspan font-size="17" dy="-7.7">6</tspan></text>
<text transform="translate(1140.8 1664.7) scale(1 1.04)" font-size="26.1" text-anchor="middle">10<tspan font-size="17" dy="-7.7">7</tspan></text>
<text transform="translate(826.9 1340.6) scale(1 1.04)" font-size="26.1" text-anchor="end">10<tspan font-size="17" dy="-7.7">5</tspan></text>
<text transform="translate(826.9 1463.2) scale(1 1.04)" font-size="26.1" text-anchor="end">10<tspan font-size="17" dy="-7.7">4</tspan></text>
<text transform="translate(814.5 1597.4) scale(1 1.04)" font-size="26.1" text-anchor="end">0</text>
<g><path d="M1046.3 1530.0l1.8 .4 1.9 1.6 .8 3 1.5 3 1 4 .1 3 1.5 4 1.2 2 0 4.8 1.7 3.2 .8 3 3.5 5 2.4 7 1 7-1.3 7-2.3 3-1.7 4-2.3 3-4.5 4-7.3 3.7-2 .5-4-1.3-6-1-7.5-2.9-4.5-4.2-2.5-4.8-2.5-6-2-1.8-1.6-2.2-.8-2 .4-1.6 2-1.9 1-8.8 2-1.9 3.2-1.8 3.4-8 7.4-8.1 3-7.5 1.6-1.4 2.3-3 2.1-1.2 2-2.4 3.2-2.4z" fill="none" stroke="#0808f8" stroke-width="1.15" stroke-linejoin="round"/>
<path d="M1042.4 1539.0l1.7-.6 1 .2 3.5 2.4 .4 1-.2 3 2.8 4 .4 3 1.1 3 .4 4 1.6 4 2.8 3 2.8 4 1.3 6 .3 4-.8 5-1.7 4-5.7 8.9-7 4.4-4 .4-9-1.5-5-2.9-5.9-6.3-1.5-3-.3-4-1.1-3 .3-5-1.1-3 .1-1 3-4 8.3-9 1-3 2.2-2.2 2.4-7.8 1.2-1 2.8-1 .6-1 .7-4 .6-1z" fill="none" stroke="#0a28ff" stroke-width="1.15" stroke-linejoin="round"/>
<path d="M1044.9 1546.0l1.2 .4 .3 .6-.3 1.8-1-.4-.5-1.4 .3-1zM1039.1 1551.0l1-.1 1 1.6 1 0 2-1.3 1 .1 3 .9 1 1.3 .9 2.5-.2 2 2.3 3.6 .9 2.4 3.9 4 2 3 .2 3 1 3 .2 2-.8 6-1.4 3.3-3 4.9-6 5-3 1.9-3 .8-8-1.2-8.5-6.7-1.4-2-3.1-10 .7-3 .1-3 1.7-5 4.5-4.2 6-6.7 2-.9 1-1.2 1.1-2 .1-1-.6-1 .4-2z" fill="#1050ff" fill-opacity="0.42" stroke="#1050ff" stroke-width="1.15" stroke-linejoin="round"/>
<path d="M1041.9 1558.0l1.2-.5 1 .2 2 2.5 3 1.2 1 1 2 3.6 4 3.7 1.1 2.3 .1 3 .8 2 .3 2-.8 7-3.6 6-2.9 1.8-2 2.4-4 2.6-2 .7-7-1.3-2.3-2.2-4.7-3.1-1-1.3-2.7-5.6 0-3-1-2-.1-1 .6-6 1.2-2.6 4-3.6 5-5.6 4.7-2.2 2.1-2z" fill="#14a4ff" fill-opacity="0.42" stroke="#14a4ff" stroke-width="1.15" stroke-linejoin="round"/>
<path d="M1042.9 1561.0l2.2 1.6 3 .7 7 7.7 1.8 8-.6 6-3.4 6-2.8 1.8-2 2.4-2 .7-2 1.8-1 .3-3-.3-2-.7-4-2.5-3.9-3.5-.9-2-1.7-2-.3-1 .1-3-1.2-3-.1-1 .4-4 .9-2 4-3 3.2-5 1.5-1.2 4-.3 .9-.5 1.1-1.8 .8-.2z" fill="#10d0ff" fill-opacity="0.42" stroke="#10d0ff" stroke-width="1.15" stroke-linejoin="round"/>
<path d="M1036.6 1566.0l1.5-.5 7-.5 2 .5 2 1.3 4.5 4.2 .5 1 .2 3 1.3 3-.4 6-3.1 5.4-2.8 2.6-1.2 1.8-3 1.2-2 1.6-2-.2-6-2.6-1-.8-2.6-4-2.8-3-.2-3-.8-3 1-6 1.4-1.7 3.7-2.3 1.8-3 1-1z" fill="#10f0f0" fill-opacity="0.42" stroke="#10f0f0" stroke-width="1.15" stroke-linejoin="round"/>
<path d="M1038.4 1567.0l2.7-.7 4 0 4.8 2.7 2.7 3-.2 3 1.7 2.6 .4 1.4-.5 5-1.9 2.3-1.5 2.7-3.4 4-2.1 .6-2 1.4-1 .1-5-1.6-2-1.3-1.5-3.2-3.2-3-1.3-5 1.1-7 3.9-2.5 4.3-4.5z" fill="#18f0a8" fill-opacity="0.42" stroke="#18f0a8" stroke-width="1.15" stroke-linejoin="round"/>
<path d="M1039.4 1568.0l1.7-.7 4 .2 4 2.6 1.7 1.9 .1 3 1.8 3 .1 1-.4 2 .6 2-3.7 6-3.1 3-4.1 1.4-5-1.3-1-1-1-2.3-2.8-2.8 .4-3-2.2-2-.2-1 1.6-5 7.5-7z" fill="#20f050" fill-opacity="0.42" stroke="#20f050" stroke-width="1.15" stroke-linejoin="round"/>
<path d="M1040.1 1569.0l2-.9 2 .2 1.4 .7 3.7 3 1.5 5-.2 5-1 5-1.4 2.2-3 1.9-1 .1-2-.6-3 .4-2-1.1-3.3-3.9 0-1 1.2-3-.1-1-.8-1.2-2-.3-.2-.5 .5-2 2.9-4 4.8-4z" fill="#58f010" fill-opacity="0.42" stroke="#58f010" stroke-width="1.15" stroke-linejoin="round"/>
<path d="M1040.7 1570.0l1.4-1 1 0 2 1 2 1.5 1.3 1.5 1.3 4-1 10-1.6 2.1-2 1-3-1.1-3 .6-1-.3-3.1-3.3 0-1 1.1-3-.4-2-1.2-2 .2-2 1.7-3 2.7-1.5 1.6-1.5z" fill="#a8f008" fill-opacity="0.42" stroke="#a8f008" stroke-width="1.15" stroke-linejoin="round"/>
<path d="M1041.7 1571.0l1.4-.6 3.1 1.6 1 1 .9 1.7 .7 2.3-.7 3-.3 7-.7 1.1-2 1.1-3-1-3 .2-1-.3-2.1-2.1 1-4-1.3-5 .3-2 1.1-1.5 3-.4 1.6-2.1z" fill="#ffb808" fill-opacity="0.42" stroke="#ffb808" stroke-width="1.15" stroke-linejoin="round"/>
<path d="M1041.7 1573.0l1.4-.8 2 .5 2 2 .9 2.3-.9 1.7-3-.4-1.6 .7-.3 1 .9 1.3 3-.4 .9 1.1-.6 5-1.3 1.2-1-.1-2-1-3 .1-1-.3-.9-.9 0-1 .7-3 0-3-.1-1-.8-1 .1-1.7 1-.1 .8 2.8 1.2 0 .6-1 .5-3 .5-1z" fill="#ff6c08" fill-opacity="0.42" stroke="#ff6c08" stroke-width="1.15" stroke-linejoin="round"/>
<path d="M1042.2 1574.0l.9-.6 1.7 .6 1.9 2 0 1-3.6 .3-.7-.3-.5-1 .3-2zM1039.4 1581.0l.7-.7 2 2.2 1 .3 2-.1 .4 .3 .1 1-.5 .9-1 .6-5 0-.4-1.5 .7-3z" fill="#f81808" fill-opacity="0.42" stroke="#f81808" stroke-width="1.15" stroke-linejoin="round"/>
<path d="M1040.28 1532.15h1.5v1.5h-1.5zM1047.76 1434.22h1.5v1.5h-1.5zM1046.96 1542.64h1.5v1.5h-1.5zM1033.6 1532.04h1.5v1.5h-1.5zM1036.74 1531.29h1.5v1.5h-1.5zM1039.42 1521.98h1.5v1.5h-1.5zM1026.71 1489.42h1.5v1.5h-1.5zM1018.92 1520.42h1.5v1.5h-1.5zM1038.5 1546.53h1.5v1.5h-1.5zM1031.89 1517.77h1.5v1.5h-1.5zM1048.48 1541.42h1.5v1.5h-1.5zM1030.07 1524.32h1.5v1.5h-1.5zM1034.64 1498.1h1.5v1.5h-1.5zM1038.42 1509.01h1.5v1.5h-1.5zM1027.5 1535.11h1.5v1.5h-1.5zM1069.38 1544.91h1.5v1.5h-1.5zM1059.57 1527.81h1.5v1.5h-1.5zM1037.36 1504.6h1.5v1.5h-1.5zM1057.86 1511.7h1.5v1.5h-1.5zM1035.74 1539.01h1.5v1.5h-1.5zM1045.97 1511.59h1.5v1.5h-1.5zM1046.89 1477.79h1.5v1.5h-1.5zM1041.33 1510.56h1.5v1.5h-1.5zM1050.57 1509.5h1.5v1.5h-1.5zM1037.13 1525.42h1.5v1.5h-1.5zM1052.21 1519.47h1.5v1.5h-1.5zM1056 1536.53h1.5v1.5h-1.5zM1038.71 1516.28h1.5v1.5h-1.5zM1029.9 1530.96h1.5v1.5h-1.5zM1061.29 1457.64h1.5v1.5h-1.5zM1051.06 1528.18h1.5v1.5h-1.5zM1056.38 1488.77h1.5v1.5h-1.5zM1037.95 1512.54h1.5v1.5h-1.5zM1044.75 1537.45h1.5v1.5h-1.5zM1037.73 1533.61h1.5v1.5h-1.5zM1038.91 1520.76h1.5v1.5h-1.5zM1050.97 1534.94h1.5v1.5h-1.5zM1044.67 1545.98h1.5v1.5h-1.5zM1037.52 1493.51h1.5v1.5h-1.5zM1035.96 1536.21h1.5v1.5h-1.5zM1038.48 1545.52h1.5v1.5h-1.5zM1052.83 1498.3h1.5v1.5h-1.5zM1036.03 1517.88h1.5v1.5h-1.5zM1031.23 1527.72h1.5v1.5h-1.5zM1039.66 1507.22h1.5v1.5h-1.5zM1040.86 1496.43h1.5v1.5h-1.5zM1044.84 1498.31h1.5v1.5h-1.5zM1033.8 1530.57h1.5v1.5h-1.5zM1021.95 1536.53h1.5v1.5h-1.5zM1025.28 1489.7h1.5v1.5h-1.5zM1043.33 1511.72h1.5v1.5h-1.5zM1034.34 1529.78h1.5v1.5h-1.5zM1056.72 1525.86h1.5v1.5h-1.5zM1045.34 1525.94h1.5v1.5h-1.5zM1049.33 1468.39h1.5v1.5h-1.5zM1046.26 1539.54h1.5v1.5h-1.5zM1050.1 1544h1.5v1.5h-1.5zM1036.68 1535.68h1.5v1.5h-1.5zM1046.76 1546.76h1.5v1.5h-1.5zM1043.26 1527.7h1.5v1.5h-1.5zM1017.81 1616.87h1.5v1.5h-1.5zM1056.67 1546.98h1.5v1.5h-1.5zM1059.15 1550.92h1.5v1.5h-1.5zM1004.09 1581.94h1.5v1.5h-1.5zM1032.93 1544.45h1.5v1.5h-1.5zM1044.57 1611.86h1.5v1.5h-1.5zM1023.32 1540.58h1.5v1.5h-1.5zM1020.55 1548.19h1.5v1.5h-1.5zM1014.59 1555.63h1.5v1.5h-1.5zM1080.42 1585.21h1.5v1.5h-1.5zM1011.08 1546.67h1.5v1.5h-1.5zM1044.34 1612.99h1.5v1.5h-1.5zM1017.38 1615.85h1.5v1.5h-1.5zM1076.6 1581.6h1.5v1.5h-1.5zM1058.95 1619.27h1.5v1.5h-1.5zM1006.12 1565.22h1.5v1.5h-1.5zM1006.38 1576.36h1.5v1.5h-1.5zM1062.85 1612.31h1.5v1.5h-1.5zM1026.74 1535.79h1.5v1.5h-1.5zM1053.72 1620.75h1.5v1.5h-1.5zM1043.02 1537.95h1.5v1.5h-1.5zM1051.79 1609.95h1.5v1.5h-1.5z" fill="#333"/></g>
<rect x="994.1" y="1370.6" width="121.5" height="171.3" fill="none" stroke="#111" stroke-width="1.3"/>
<line x1="1115.6" y1="1370.6" x2="1115.6" y2="1541.9" stroke="#111" stroke-width="2"/>
<text transform="translate(1013.1 1366.2) scale(1 1.04)" font-size="31.6">12.48%</text>
<rect x="1198.4" y="1327.9" width="304.4" height="304.3" fill="#fff" stroke="#1a1a1a" stroke-width="1.5"/>
<path d="M1217.1 1632.2v6.8M1254.7 1632.2v6.8M1304 1632.2v6.8M1353.3 1632.2v6.8M1402.1 1632.2v6.8M1452.7 1632.2v6.8M1502.8 1632.2v6.8M1269.54 1632.2v4.5M1278.22 1632.2v4.5M1284.38 1632.2v4.5M1289.16 1632.2v4.5M1293.06 1632.2v4.5M1296.36 1632.2v4.5M1299.22 1632.2v4.5M1301.74 1632.2v4.5M1318.84 1632.2v4.5M1327.52 1632.2v4.5M1333.68 1632.2v4.5M1338.46 1632.2v4.5M1342.36 1632.2v4.5M1345.66 1632.2v4.5M1348.52 1632.2v4.5M1351.04 1632.2v4.5M1367.99 1632.2v4.5M1376.58 1632.2v4.5M1382.68 1632.2v4.5M1387.41 1632.2v4.5M1391.27 1632.2v4.5M1394.54 1632.2v4.5M1397.37 1632.2v4.5M1399.87 1632.2v4.5M1417.33 1632.2v4.5M1426.24 1632.2v4.5M1432.56 1632.2v4.5M1437.47 1632.2v4.5M1441.47 1632.2v4.5M1444.86 1632.2v4.5M1447.8 1632.2v4.5M1450.38 1632.2v4.5M1467.78 1632.2v4.5M1476.6 1632.2v4.5M1482.86 1632.2v4.5M1487.72 1632.2v4.5M1491.69 1632.2v4.5M1495.04 1632.2v4.5M1497.94 1632.2v4.5M1500.51 1632.2v4.5M1223.87 1632.2v4.5M1230.26 1632.2v4.5M1235.9 1632.2v4.5M1240.41 1632.2v4.5M1244.17 1632.2v4.5M1247.18 1632.2v4.5M1249.81 1632.2v4.5M1252.07 1632.2v4.5M1213.36 1632.2v4.5M1209.25 1632.2v4.5M1204.01 1632.2v4.5M1198.4 1632.2v4.5" fill="none" stroke="#111" stroke-width="1.45"/>
<path d="M1198.4 1327.9h-9M1198.4 1450.5h-9M1198.4 1584.7h-9M1198.4 1413.59h-6.5M1198.4 1392h-6.5M1198.4 1376.69h-6.5M1198.4 1364.81h-6.5M1198.4 1355.1h-6.5M1198.4 1346.89h-6.5M1198.4 1339.78h-6.5M1198.4 1333.51h-6.5M1198.4 1544.44h-6.5M1198.4 1517.6h-6.5M1198.4 1497.47h-6.5M1198.4 1482.71h-6.5M1198.4 1470.63h-6.5M1198.4 1459.89h-6.5M1198.4 1615.5h-6.5" fill="none" stroke="#111" stroke-width="1.45"/>
<text transform="translate(1217.1 1664.7) scale(1 1.04)" font-size="26.1" text-anchor="middle">0</text>
<text transform="translate(1251.7 1664.7) scale(1 1.04)" font-size="26.1" text-anchor="middle">10<tspan font-size="17" dy="-7.7">2</tspan></text>
<text transform="translate(1304 1664.7) scale(1 1.04)" font-size="26.1" text-anchor="middle">10<tspan font-size="17" dy="-7.7">3</tspan></text>
<text transform="translate(1353.3 1664.7) scale(1 1.04)" font-size="26.1" text-anchor="middle">10<tspan font-size="17" dy="-7.7">4</tspan></text>
<text transform="translate(1402.1 1664.7) scale(1 1.04)" font-size="26.1" text-anchor="middle">10<tspan font-size="17" dy="-7.7">5</tspan></text>
<text transform="translate(1452.7 1664.7) scale(1 1.04)" font-size="26.1" text-anchor="middle">10<tspan font-size="17" dy="-7.7">6</tspan></text>
<text transform="translate(1502.8 1664.7) scale(1 1.04)" font-size="26.1" text-anchor="middle">10<tspan font-size="17" dy="-7.7">7</tspan></text>
<text transform="translate(1188.2 1340.6) scale(1 1.04)" font-size="26.1" text-anchor="end">10<tspan font-size="17" dy="-7.7">5</tspan></text>
<text transform="translate(1188.2 1463.2) scale(1 1.04)" font-size="26.1" text-anchor="end">10<tspan font-size="17" dy="-7.7">4</tspan></text>
<text transform="translate(1175.8 1597.4) scale(1 1.04)" font-size="26.1" text-anchor="end">0</text>
<g><path d="M1413.2 1500.5l1.3 .7 .3 1.3-.7 3 .9 3-.2 2 .3 2 .5 1 1.9 1.7 1.2 3.3 .2 4 1.3 5-.2 3 2.3 5 1.3 5 1.6 3 .9 3 3.3 5 .6 3 1.3 3 .5 3 3.1 7 .8 3-.1 6-2.8 5-1 3-1.3 2-1.2 3-2.8 4.3-5 6.3-2 1.1-3 .2-3 .8-4 0-5-.6-6 .3-2-.5-3-1.5-3 .2-2.3-2.6-2.7-1.9-.5-3.1-.5-1-4.1-5-.2-3-1.2-2 .4-3-.2-1-2.6-3-.7-2 1.6-2.7 .3-1.3-.4-3 .6-2 .1-5 .6-3 1.8-2 2.4-4 4.1-3 2.5-3.1 5-4.3 1.9-2.6 3-2 .7-1 .3-1-.6-3 2.9-5 1.2-5 .5-4 .8-2 .3-3 3.1-4-.2-4 1.1-1.1 3.7-.9z" fill="none" stroke="#0808f8" stroke-width="1.15" stroke-linejoin="round"/>
<path d="M1410.2 1515.5l.3-.2 1 .3 3.1 2.9 .5 1 1.9 8 0 4 2.7 7 1.5 5-.2 4 1.8 3 1.7 2 .6 3 1.5 2 2.5 5 .7 4 1.9 3 .2 1-.4 4-2.9 7-.4 4-.7 2.1-2 2.4-2.4 1.5-2.5 4-1 1-4.1 2.3-5-.4-5 .9-6-.4-3-.9-4-1.8-1.5-1.7-1.5-4.8-2.4-3.2-.3-3-2.2-2-2.1-2.9 0-3.1-.7-4 3.7-11.9-1-3.1 2-2.5 5-3.5 1.2-2 1.8-1.6 3-6.2 7.9-9.2 .3-2-.4-4 .4-2 1.8-5.3 2.7-2.7z" fill="none" stroke="#0a28ff" stroke-width="1.15" stroke-linejoin="round"/>
<path d="M1409.3 1526.5l.2-.4 1 .1 2.6 3.3 .1 1-.9 2 2.2 2 .4 1 .9 7 2 7 3.9 5 2.1 4 1.3 4 1.4 2 .4 1-.1 3 .9 2 .8 4-1.8 6-.4 4-.7 2-1.6 2-2.7 2-1.8 2.6-3 1.7-11 2.4-6-.7-6-3.5-2.4-7.5 .3-2-.3-1-5.3-4-.8-2 .5-2.6 2.2-2.4 .3-4 1.6-3-.7-2 .8-4 2.8-2.4 3-3.9 2.5-5.7 4.5-5 .7-1 .4-2 .8-1 1.1-.8 3-.8 2.2-2.4 .3-1-1.5-1.4-.5-1.6 .3-3z" fill="#1050ff" fill-opacity="0.42" stroke="#1050ff" stroke-width="1.15" stroke-linejoin="round"/>
<path d="M1407.6 1541.5l3.9 0 1 .3 .6 .7 .4 1-.7 3 .3 1 2.1 3 2.4 2 1.9 5.2 1.3 1.8 2.5 5 .7 2 .2 3 .7 2 .2 8-.8 4-1.3 3-1.5 1.9-3 2.4-7 3.4-5 1.2-5-.1-1.7-.8-2.5-2-1.7-2-.5-3-2.2-5-3.2-4-.7-3 1.8-7 2.6-4 .8-2 .2-4 .7-2 3.3-3 1.5-3 2.6-1.9 .4-4.1 .6-.8 4.1-2.2z" fill="#14a4ff" fill-opacity="0.42" stroke="#14a4ff" stroke-width="1.15" stroke-linejoin="round"/>
<path d="M1407.3 1544.5l1.2-.3 1.4 .3 .4 3 1.5 4 .7 .7 3 1.3 .5 1 .8 4-.5 3 .2 .6 1 .9 2 .1 1.4 1.4 .7 5 1.3 3-.1 3 .7 4-1.4 6-1.5 2-2.1 1.6-7 3.8-4 1.1-5 .2-1.5-.7-1.8-2 .1-3-4.8-5.8-1.3-2.2-1.3-3 0-3 1-4 2.6-5.9 1-1.9 1.3-1.2 0-3 2.7-2.1 3.3-4.9 .7-2 .3-4 2.5-1z" fill="#10d0ff" fill-opacity="0.42" stroke="#10d0ff" stroke-width="1.15" stroke-linejoin="round"/>
<path d="M1404.2 1554.5l1.3-.5 2-.1 1 .5 1 1.2 4 .2 .7 1.7 .1 4 1.7 5 .6 1 2.9 1.7 1.5 2.3 .7 2 .5 5-1.2 6-1.3 2-3.2 2.6-4 2.2-5 1.6-5-.4-.3-2-1.4-3-6.3-7.2-.9-3.8 .3-2 2.3-5 3.3-2.7 2.8-5.3 1.3-6 .6-1z" fill="#10f0f0" fill-opacity="0.42" stroke="#10f0f0" stroke-width="1.15" stroke-linejoin="round"/>
<path d="M1404.9 1558.5l.6-.8 2-.1 3 .9 1 .9 1.3 4.1 2.1 4 5.3 5 .8 3-.1 4-1.6 4-2 3-.8 1-4.9 3-3.1 .8-1 0-4-2.2-2-2.9-2.4-2.7-1.1-2-2.5-1.9-.4-1.1 .2-3 2-4 4-5 .7-2 2-3 .9-3z" fill="#18f0a8" fill-opacity="0.42" stroke="#18f0a8" stroke-width="1.15" stroke-linejoin="round"/>
<path d="M1406.4 1560.5l.4 0-.3 1 1.3 1 1.7 .4 1 .7 3.6 4.9 5.3 5 .8 2-.2 3-2 5-2.5 2.7-2 1-2 1.7-1 .3-3 .1-3-.8-1-1-4.3-7-2.5-2 0-1 1.5-2 .1-3 .5-1 3.2-4 1-3 3.5-3-.1-1z" fill="#20f050" fill-opacity="0.42" stroke="#20f050" stroke-width="1.15" stroke-linejoin="round"/>
<path d="M1404.5 1564.5l2-.4 3.7 1.4 4.6 6 2.8 2 1.7 2 0 2-2.3 6-1.5 1.3-2 .7-3 2-4 .6-1.6-.6-.9-1-1.5-3.6-3-4.4 .6-7 3.1-4 1.3-3z" fill="#58f010" fill-opacity="0.42" stroke="#58f010" stroke-width="1.15" stroke-linejoin="round"/>
<path d="M1408.0 1566.5l1.5 .1 1 .9 1.5 2 1.5 3.1 4 2.9 .9 1-1.2 3-.5 3-.8 1-5.4 2.5-4 1.1-1-.3-1-1.3-.8-3-2.6-3-.6-2 .5-5 .5-1.3 3-3.4 3.5-1.3z" fill="#a8f008" fill-opacity="0.42" stroke="#a8f008" stroke-width="1.15" stroke-linejoin="round"/>
<path d="M1408.3 1568.5l1.2-.3 2.2 2.3 .3 2 1.8 2 .4 1-.3 2 .2 1 1.4 1.2 .5 1.8-.2 1-1.3 .8-8 2.6-1-.9-.6-2.5-2.9-3-.6-1-.1-2 1.2-5.1 2-1.7 2-.2 1.8-1z" fill="#ffb808" fill-opacity="0.42" stroke="#ffb808" stroke-width="1.15" stroke-linejoin="round"/>
<path d="M1409.5 1569.5l1.2 1-.3 3 2.1 1.1 .6 .9-.2 1-1.5 2 2.7 2 .6 1-1.1 1-4.1 1-2 .1-2-2.1-2.7-2-.6-1-.1-2 .6-3 .8-1.4 1-.5 1 .2 2 1.7 1.3-1-.4-2 1.1-1z" fill="#ff6c08" fill-opacity="0.42" stroke="#ff6c08" stroke-width="1.15" stroke-linejoin="round"/>
<path d="M1403.7 1574.5l.8-.9 1 .8 1 2.4 2.7 1.7 .9 2 .1 1-.7 .4-2-1.7-2 .2-2-1.1-.7-1.8 .9-3z" fill="#f81808" fill-opacity="0.42" stroke="#f81808" stroke-width="1.15" stroke-linejoin="round"/>
<path d="M1389.28 1531.21h1.5v1.5h-1.5zM1445.53 1490.49h1.5v1.5h-1.5zM1425.15 1528.63h1.5v1.5h-1.5zM1419.85 1492.69h1.5v1.5h-1.5zM1423.77 1512.75h1.5v1.5h-1.5zM1391.24 1538.25h1.5v1.5h-1.5zM1417.69 1474.36h1.5v1.5h-1.5zM1409.34 1529.38h1.5v1.5h-1.5zM1406.81 1448.94h1.5v1.5h-1.5zM1397.86 1546.2h1.5v1.5h-1.5zM1435.37 1515.87h1.5v1.5h-1.5zM1419.23 1490.96h1.5v1.5h-1.5zM1404.38 1536.19h1.5v1.5h-1.5zM1418.07 1533.29h1.5v1.5h-1.5zM1407 1512.23h1.5v1.5h-1.5zM1394.26 1477.74h1.5v1.5h-1.5zM1431.1 1514.87h1.5v1.5h-1.5zM1411.85 1532.79h1.5v1.5h-1.5zM1392.78 1512.72h1.5v1.5h-1.5zM1378.75 1496.84h1.5v1.5h-1.5zM1403.07 1529.12h1.5v1.5h-1.5zM1384.76 1545.03h1.5v1.5h-1.5zM1416.88 1510.28h1.5v1.5h-1.5zM1414.79 1536.57h1.5v1.5h-1.5zM1411.85 1490.05h1.5v1.5h-1.5zM1408.79 1528.21h1.5v1.5h-1.5zM1408.45 1411.37h1.5v1.5h-1.5zM1396.25 1544.51h1.5v1.5h-1.5zM1425.27 1546.53h1.5v1.5h-1.5zM1425.52 1545.2h1.5v1.5h-1.5zM1400.94 1525.46h1.5v1.5h-1.5zM1399.01 1537.86h1.5v1.5h-1.5zM1413.78 1475.08h1.5v1.5h-1.5zM1416.8 1549.07h1.5v1.5h-1.5zM1404.46 1511.01h1.5v1.5h-1.5zM1403.83 1527.86h1.5v1.5h-1.5zM1412.49 1539.62h1.5v1.5h-1.5zM1412.64 1516.16h1.5v1.5h-1.5zM1415.67 1484.67h1.5v1.5h-1.5zM1417.48 1432.04h1.5v1.5h-1.5zM1390.25 1531.63h1.5v1.5h-1.5zM1406.27 1498.28h1.5v1.5h-1.5zM1415.7 1515.29h1.5v1.5h-1.5zM1418.94 1542.95h1.5v1.5h-1.5zM1419.33 1539.3h1.5v1.5h-1.5zM1398.91 1489.39h1.5v1.5h-1.5zM1408.16 1544.44h1.5v1.5h-1.5zM1423.48 1545.27h1.5v1.5h-1.5zM1399.03 1534.31h1.5v1.5h-1.5zM1392.07 1490.8h1.5v1.5h-1.5zM1420.48 1544.84h1.5v1.5h-1.5zM1400.14 1546.9h1.5v1.5h-1.5zM1398.86 1541.94h1.5v1.5h-1.5zM1411.24 1504.9h1.5v1.5h-1.5zM1417.75 1485.37h1.5v1.5h-1.5zM1398.58 1521.53h1.5v1.5h-1.5zM1405.25 1526.82h1.5v1.5h-1.5zM1412.04 1525.72h1.5v1.5h-1.5zM1415.93 1477.99h1.5v1.5h-1.5zM1418.03 1460.74h1.5v1.5h-1.5zM1403.78 1490.93h1.5v1.5h-1.5zM1417.1 1466.11h1.5v1.5h-1.5zM1404.79 1544.06h1.5v1.5h-1.5zM1415.28 1540.12h1.5v1.5h-1.5zM1409.64 1532.96h1.5v1.5h-1.5zM1397.46 1535.09h1.5v1.5h-1.5zM1401.67 1540.43h1.5v1.5h-1.5zM1399.79 1524.22h1.5v1.5h-1.5zM1400.67 1524.63h1.5v1.5h-1.5zM1408.38 1471.91h1.5v1.5h-1.5zM1426.4 1545.66h1.5v1.5h-1.5zM1427.79 1613.47h1.5v1.5h-1.5zM1397.46 1610.3h1.5v1.5h-1.5zM1378.72 1550.91h1.5v1.5h-1.5zM1406.1 1530.14h1.5v1.5h-1.5zM1409.8 1608.46h1.5v1.5h-1.5zM1417.45 1614.81h1.5v1.5h-1.5zM1367.65 1582.33h1.5v1.5h-1.5zM1392.88 1545.53h1.5v1.5h-1.5zM1427.87 1613.46h1.5v1.5h-1.5zM1412.39 1611.71h1.5v1.5h-1.5zM1387.49 1543.83h1.5v1.5h-1.5zM1388.54 1615.86h1.5v1.5h-1.5zM1361.99 1564.44h1.5v1.5h-1.5zM1378.18 1542.14h1.5v1.5h-1.5zM1381.63 1608.67h1.5v1.5h-1.5zM1446.64 1565h1.5v1.5h-1.5zM1441.91 1598.87h1.5v1.5h-1.5zM1381.2 1607.07h1.5v1.5h-1.5zM1409.54 1615.06h1.5v1.5h-1.5zM1452.13 1568.34h1.5v1.5h-1.5zM1416.55 1536.33h1.5v1.5h-1.5z" fill="#333"/></g>
<rect x="1355.4" y="1370.6" width="122" height="171.3" fill="none" stroke="#111" stroke-width="1.3"/>
<text transform="translate(1367.9 1366.2) scale(1 1.04)" font-size="31.6">18.91%</text>
<path d="M58.4 1600.5V1690.7H149.4M42.4 1627.5L58.4 1600L74.4 1627.5M122.4 1674.7L149.9 1690.7L122.4 1706.7" fill="none" stroke="#000" stroke-width="4.8" stroke-linecap="round" stroke-linejoin="miter"/>
<text transform="translate(64.3 1538.7) rotate(-90) scale(1 1.04)" font-size="31.3" text-anchor="middle">IFN-γ</text>
<text transform="translate(173.3 1704) scale(1 1.04)" font-size="31.5">CD8</text>
<text transform="translate(255.6 1744) scale(1 1.04)" font-size="31.3" text-anchor="middle" fill="#595959">PBS</text>
<text transform="translate(619.5 1744) scale(1 1.04)" font-size="31.3" text-anchor="middle" fill="#F8993F">LN-TCV</text>
<text transform="translate(988.4 1744) scale(1 1.04)" font-size="31.3" text-anchor="middle" fill="#8A8CF8">LN-TCV+L</text>
<text transform="translate(1344.4 1744) scale(1 1.04)" font-size="31.3" text-anchor="middle" fill="#F6739D">LN-TCV+2L</text>
<rect x="109.5" y="1756.9" width="308.4" height="307" fill="#fff" stroke="#1a1a1a" stroke-width="1.5"/>
<line x1="100.5" y1="2063.9" x2="418.6" y2="2063.9" stroke="#111" stroke-width="2"/>
<path d="M129.8 2063.9v6.8M166.9 2063.9v6.8M217.5 2063.9v6.8M266 2063.9v6.8M316.1 2063.9v6.8M366.5 2063.9v6.8M417.9 2063.9v6.8M182.13 2063.9v4.5M191.04 2063.9v4.5M197.36 2063.9v4.5M202.27 2063.9v4.5M206.27 2063.9v4.5M209.66 2063.9v4.5M212.6 2063.9v4.5M215.18 2063.9v4.5M232.1 2063.9v4.5M240.64 2063.9v4.5M246.7 2063.9v4.5M251.4 2063.9v4.5M255.24 2063.9v4.5M258.49 2063.9v4.5M261.3 2063.9v4.5M263.78 2063.9v4.5M281.08 2063.9v4.5M289.9 2063.9v4.5M296.16 2063.9v4.5M301.02 2063.9v4.5M304.99 2063.9v4.5M308.34 2063.9v4.5M311.24 2063.9v4.5M313.81 2063.9v4.5M331.27 2063.9v4.5M340.15 2063.9v4.5M346.44 2063.9v4.5M351.33 2063.9v4.5M355.32 2063.9v4.5M358.69 2063.9v4.5M361.62 2063.9v4.5M364.19 2063.9v4.5M381.97 2063.9v4.5M391.02 2063.9v4.5M397.45 2063.9v4.5M402.43 2063.9v4.5M406.5 2063.9v4.5M409.94 2063.9v4.5M412.92 2063.9v4.5M415.55 2063.9v4.5M136.48 2063.9v4.5M142.78 2063.9v4.5M148.35 2063.9v4.5M152.8 2063.9v4.5M156.51 2063.9v4.5M159.48 2063.9v4.5M162.08 2063.9v4.5M164.3 2063.9v4.5M125.74 2063.9v4.5M121.27 2063.9v4.5M115.59 2063.9v4.5M109.5 2063.9v4.5" fill="none" stroke="#111" stroke-width="1.45"/>
<path d="M109.5 1756.9h-9M109.5 1875.2h-9M109.5 2019.2h-9M109.5 1839.59h-5.2M109.5 1818.76h-5.2M109.5 1803.98h-5.2M109.5 1792.51h-5.2M109.5 1783.14h-5.2M109.5 1775.22h-5.2M109.5 1768.36h-5.2M109.5 1762.31h-5.2M109.5 1976h-5.2M109.5 1947.2h-5.2M109.5 1925.6h-5.2M109.5 1909.76h-5.2M109.5 1896.8h-5.2M109.5 1885.28h-5.2M109.5 2056h-5.2" fill="none" stroke="#111" stroke-width="1.45"/>
<text transform="translate(129.8 2102) scale(1 1.04)" font-size="26.1" text-anchor="middle">0</text>
<text transform="translate(169.8 2102) scale(1 1.04)" font-size="26.1" text-anchor="middle">10<tspan font-size="17" dy="-7.7">2</tspan></text>
<text transform="translate(217.5 2102) scale(1 1.04)" font-size="26.1" text-anchor="middle">10<tspan font-size="17" dy="-7.7">3</tspan></text>
<text transform="translate(266 2102) scale(1 1.04)" font-size="26.1" text-anchor="middle">10<tspan font-size="17" dy="-7.7">4</tspan></text>
<text transform="translate(316.1 2102) scale(1 1.04)" font-size="26.1" text-anchor="middle">10<tspan font-size="17" dy="-7.7">5</tspan></text>
<text transform="translate(366.5 2102) scale(1 1.04)" font-size="26.1" text-anchor="middle">10<tspan font-size="17" dy="-7.7">6</tspan></text>
<text transform="translate(417.9 2102) scale(1 1.04)" font-size="26.1" text-anchor="middle">10<tspan font-size="17" dy="-7.7">7</tspan></text>
<text transform="translate(97.5 1766.8) scale(1 1.04)" font-size="26.1" text-anchor="end">10<tspan font-size="17" dy="-7.7">5</tspan></text>
<text transform="translate(97.5 1885.1) scale(1 1.04)" font-size="26.1" text-anchor="end">10<tspan font-size="17" dy="-7.7">4</tspan></text>
<text transform="translate(85.1 2029.1) scale(1 1.04)" font-size="26.1" text-anchor="end">0</text>
<g><path d="M317.0 1987.0l2-.4 2.6 .4 8.4 4 .8 1 .4 2 1.6 2 4 7 2 5-1.3 5-.3 5-.9 5-2.3 5.3-4 3.7-2 1.3-4 .8-3 .2-1.8 .7-2.2 1.6-2 .3-4-1.2-3.6-3.7-4.4-.9-4-2.3-2.7-4.8-1.2-3-1.9-3-1-7 .5-6 1.3-3.5 1-1.4 2-1.5 1.5-4.6 1.5-1.9 7-3.2 2-.2 3-1.1 3 .1 2-.7z" fill="none" stroke="#0808f8" stroke-width="1.15" stroke-linejoin="round"/>
<path d="M311.8 1991.0l2.2-.5 4 .2 8 2.1 8 9.8 1.3 3.4-1.1 14-2.2 5.5-3.3 3.5-2.7 1.5-3 1.2-4 .3-3 1.6-3-.9-3.3-2.7-5.7-3-2-2.9-2.3-2.1-1.7-3.7-1.5-1.3-.3-1 1-4-1-3 .3-5 1.5-1.6 3.1-5.4 5-4 5.7-2z" fill="none" stroke="#0a28ff" stroke-width="1.15" stroke-linejoin="round"/>
<path d="M312.9 1993.0l2.1-.3 5 1.1 4 2 1.9 2.2 3.1 2.1 3.3 3.9 1 2-.7 10-1.4 5-1.5 3-3.5 4-4.2 1.8-8 .4-6-3.2-1.2-1-1.8-3.8-2.6-2.2-2.9-5 .7-3-1.1-4 1.5-3 .6-2 4.8-5.5 6.9-4.5z" fill="#1050ff" fill-opacity="0.42" stroke="#1050ff" stroke-width="1.15" stroke-linejoin="round"/>
<path d="M312.5 1996.0l2.5-1 5 1.4 5.1 3.6 2.9 1.2 1 .8 1.5 2 1.3 3 0 3-.9 6-2.7 7-3.2 2.8-3 .8-3 1.5-2 .2-4-.6-4-2-1-1-1.4-3.7-4.7-6 .5-3-.7-3 1.6-2 .2-3 3.5-4.7 3.4-2.3 2.1-1z" fill="#14a4ff" fill-opacity="0.42" stroke="#14a4ff" stroke-width="1.15" stroke-linejoin="round"/>
<path d="M312.5 1998.0l3.5-.8 2 .5 4 1.8 3 1.9 3 1.1 1.2 1.5 1.3 3 .2 3-1.2 6-1.5 3-.8 3-2.2 1.6-4 1.2-3 1.7-3-.8-2-.1-3-1.6-3-6.7-1.7-2.3-.3-1-.3-3 1.2-3 .5-3 1.8-2 1.6-3 2.7-2z" fill="#10d0ff" fill-opacity="0.42" stroke="#10d0ff" stroke-width="1.15" stroke-linejoin="round"/>
<path d="M315.7 2000.0l2.3-.5 5 1.7 2 1.4 2 .7 1 .7 .5 1 1.2 4-1.3 4-.3 3-2.7 5-1.4 1.2-6 2.4-5-.9-1.2-.7-2.7-4-1.9-4-.9-3 .7-2 2.4-2 .5-3 1.7-3 1.4-1.1 2.7-.9z" fill="#10f0f0" fill-opacity="0.42" stroke="#10f0f0" stroke-width="1.15" stroke-linejoin="round"/>
<path d="M317.6 2001.0l4.4 .9 5 3.1 1 2 .5 2-.5 2-1.1 2-.4 3-2.5 4-1 1.1-6 2-3-.5-1.2-.6-2.7-4-2.1-4-.4-2 .3-1 3-3 .4-3 1.3-2 1.4-1 3.6-1z" fill="#18f0a8" fill-opacity="0.42" stroke="#18f0a8" stroke-width="1.15" stroke-linejoin="round"/>
<path d="M314.2 2003.0l3.8-.9 4 .8 3.7 3.1 1.3 3-.2 1-3.9 9-.9 1-2 .4-3 1.4-2-.3-1-.6-2.9-3.9-2.3-4-.1-1 .5-1 2.1-2 1.1-4 1.8-2z" fill="#20f050" fill-opacity="0.42" stroke="#20f050" stroke-width="1.15" stroke-linejoin="round"/>
<path d="M314.4 2004.0l3.6-.6 3.5 .6 3.4 3 .7 2-.9 3-3.2 6-4.5 2.2-2-.5-2.5-2.7-2.5-4-.2-1 2.5-3 1.3-4 .8-1z" fill="#58f010" fill-opacity="0.42" stroke="#58f010" stroke-width="1.15" stroke-linejoin="round"/>
<path d="M317.9 2005.0l2.1-.1 2 .8 2.4 2.3 .2 2-1.6 3.2-3 3.5-3 1.9-1 .1-1-.4-1.4-1.3-2.6-5 4-5.5 1-.9 1.9-.6z" fill="#a8f008" fill-opacity="0.42" stroke="#a8f008" stroke-width="1.15" stroke-linejoin="round"/>
<path d="M317.7 2007.0l2.3-.7 2 .5 1.4 1.2 .4 2-.8 1.8-1 1.1-1.9 1.1-2.7 3-1.4 .6-1-.4-1.1-1.2-1.1-3 0-1 1.9-3 3-2z" fill="#ffb808" fill-opacity="0.42" stroke="#ffb808" stroke-width="1.15" stroke-linejoin="round"/>
<path d="M318.0 2008.0l2-.5 2 .4 .9 1.1 .1 1-1 1.8-3 1.7-2 2.5-1 .4-1-.3-.6-1.1-.2-2 2.5-4 1.3-1z" fill="#ff6c08" fill-opacity="0.42" stroke="#ff6c08" stroke-width="1.15" stroke-linejoin="round"/>
<path d="M317.9 2009.0l1.1-.5 2 .1 .7 .4 .4 1-.4 1-3.9 2-1.8 1.8-.5-.8 .2-1 2.2-4z" fill="#f81808" fill-opacity="0.42" stroke="#f81808" stroke-width="1.15" stroke-linejoin="round"/>
<path d="M316.66 1973.27h1.5v1.5h-1.5zM326.66 1945.29h1.5v1.5h-1.5zM320.36 1980.17h1.5v1.5h-1.5zM334.65 1985.07h1.5v1.5h-1.5zM330.7 1953.26h1.5v1.5h-1.5zM311.17 1981.38h1.5v1.5h-1.5zM313.59 1950.25h1.5v1.5h-1.5zM335.49 1878.46h1.5v1.5h-1.5zM317.48 1985.98h1.5v1.5h-1.5zM312.12 1955h1.5v1.5h-1.5zM325.59 1981.36h1.5v1.5h-1.5zM336.82 1926.9h1.5v1.5h-1.5zM323.7 1985.85h1.5v1.5h-1.5zM309.21 1949.38h1.5v1.5h-1.5zM310.23 1919.55h1.5v1.5h-1.5zM322.1 1976.13h1.5v1.5h-1.5zM287.97 1930.7h1.5v1.5h-1.5zM319.65 1928.74h1.5v1.5h-1.5zM304.5 1953.45h1.5v1.5h-1.5zM335.49 1978.65h1.5v1.5h-1.5zM309.09 1989.43h1.5v1.5h-1.5zM310.26 1974.94h1.5v1.5h-1.5zM318.81 1957.77h1.5v1.5h-1.5zM325.78 1972.44h1.5v1.5h-1.5zM299.58 1946.79h1.5v1.5h-1.5zM309 1886.46h1.5v1.5h-1.5zM353.03 2008.92h1.5v1.5h-1.5zM331.92 2042.19h1.5v1.5h-1.5zM302.74 1982.58h1.5v1.5h-1.5zM346.9 1992.33h1.5v1.5h-1.5zM343.26 2033.11h1.5v1.5h-1.5zM293.25 1985.12h1.5v1.5h-1.5zM280.8 2019.88h1.5v1.5h-1.5zM324.59 1981.01h1.5v1.5h-1.5zM347.82 2027.8h1.5v1.5h-1.5zM327.29 2045.81h1.5v1.5h-1.5zM336.66 1982.41h1.5v1.5h-1.5zM323.78 1977.78h1.5v1.5h-1.5zM289.5 1991.32h1.5v1.5h-1.5zM339.15 2034.86h1.5v1.5h-1.5zM302.66 1974.13h1.5v1.5h-1.5zM315.16 2051.64h1.5v1.5h-1.5zM299.56 2037.49h1.5v1.5h-1.5zM310.08 2038.83h1.5v1.5h-1.5zM342.86 2030.91h1.5v1.5h-1.5zM293.05 1989.83h1.5v1.5h-1.5zM329.88 1982.27h1.5v1.5h-1.5zM281.85 2020.16h1.5v1.5h-1.5z" fill="#333"/></g>
<rect x="259.5" y="1797.1" width="127.7" height="188.4" fill="none" stroke="#111" stroke-width="1.3"/>
<text transform="translate(285.8 1788.8) scale(1 1.04)" font-size="31.6">2.34%</text>
<rect x="474.5" y="1756.9" width="308.1" height="307.5" fill="#fff" stroke="#1a1a1a" stroke-width="1.6"/>
<line x1="465.5" y1="2064.4" x2="783.3" y2="2064.4" stroke="#111" stroke-width="2"/>
<path d="M494.7 2064.4v6.8M532.1 2064.4v6.8M582.2 2064.4v6.8M631.5 2064.4v6.8M681.6 2064.4v6.8M732.2 2064.4v6.8M782.6 2064.4v6.8M547.18 2064.4v4.5M556 2064.4v4.5M562.26 2064.4v4.5M567.12 2064.4v4.5M571.09 2064.4v4.5M574.44 2064.4v4.5M577.34 2064.4v4.5M579.91 2064.4v4.5M597.04 2064.4v4.5M605.72 2064.4v4.5M611.88 2064.4v4.5M616.66 2064.4v4.5M620.56 2064.4v4.5M623.86 2064.4v4.5M626.72 2064.4v4.5M629.24 2064.4v4.5M646.58 2064.4v4.5M655.4 2064.4v4.5M661.66 2064.4v4.5M666.52 2064.4v4.5M670.49 2064.4v4.5M673.84 2064.4v4.5M676.74 2064.4v4.5M679.31 2064.4v4.5M696.83 2064.4v4.5M705.74 2064.4v4.5M712.06 2064.4v4.5M716.97 2064.4v4.5M720.97 2064.4v4.5M724.36 2064.4v4.5M727.3 2064.4v4.5M729.88 2064.4v4.5M747.37 2064.4v4.5M756.25 2064.4v4.5M762.54 2064.4v4.5M767.43 2064.4v4.5M771.42 2064.4v4.5M774.79 2064.4v4.5M777.72 2064.4v4.5M780.29 2064.4v4.5M501.43 2064.4v4.5M507.79 2064.4v4.5M513.4 2064.4v4.5M517.89 2064.4v4.5M521.63 2064.4v4.5M524.62 2064.4v4.5M527.24 2064.4v4.5M529.48 2064.4v4.5M490.66 2064.4v4.5M486.22 2064.4v4.5M480.56 2064.4v4.5M474.5 2064.4v4.5" fill="none" stroke="#111" stroke-width="1.45"/>
<path d="M474.5 1756.9h-9M474.5 1875.7h-9M474.5 2019.2h-9M474.5 1839.94h-5.2M474.5 1819.02h-5.2M474.5 1804.18h-5.2M474.5 1792.66h-5.2M474.5 1783.26h-5.2M474.5 1775.3h-5.2M474.5 1768.41h-5.2M474.5 1762.34h-5.2M474.5 1976.15h-5.2M474.5 1947.45h-5.2M474.5 1925.92h-5.2M474.5 1910.14h-5.2M474.5 1897.23h-5.2M474.5 1885.75h-5.2M474.5 2056h-5.2" fill="none" stroke="#111" stroke-width="1.45"/>
<text transform="translate(494.7 2102) scale(1 1.04)" font-size="26.1" text-anchor="middle">0</text>
<text transform="translate(535 2102) scale(1 1.04)" font-size="26.1" text-anchor="middle">10<tspan font-size="17" dy="-7.7">2</tspan></text>
<text transform="translate(582.2 2102) scale(1 1.04)" font-size="26.1" text-anchor="middle">10<tspan font-size="17" dy="-7.7">3</tspan></text>
<text transform="translate(631.5 2102) scale(1 1.04)" font-size="26.1" text-anchor="middle">10<tspan font-size="17" dy="-7.7">4</tspan></text>
<text transform="translate(681.6 2102) scale(1 1.04)" font-size="26.1" text-anchor="middle">10<tspan font-size="17" dy="-7.7">5</tspan></text>
<text transform="translate(732.2 2102) scale(1 1.04)" font-size="26.1" text-anchor="middle">10<tspan font-size="17" dy="-7.7">6</tspan></text>
<text transform="translate(782.6 2102) scale(1 1.04)" font-size="26.1" text-anchor="middle">10<tspan font-size="17" dy="-7.7">7</tspan></text>
<text transform="translate(462.5 1766.8) scale(1 1.04)" font-size="26.1" text-anchor="end">10<tspan font-size="17" dy="-7.7">5</tspan></text>
<text transform="translate(462.5 1885.6) scale(1 1.04)" font-size="26.1" text-anchor="end">10<tspan font-size="17" dy="-7.7">4</tspan></text>
<text transform="translate(450.1 2029.1) scale(1 1.04)" font-size="26.1" text-anchor="end">0</text>
<g><path d="M681.5 1975.5l2.5-.7 2 .5 8 3.6 5.2 3.6 2.3 3 3.3 6 1.4 10-1 10-.9 2-.5 3-3 6-3.8 3.7-3 1.9-2 .8-7 1.5-3-.2-5-2.2-8.7-8.5-.6-2 .7-3-.3-2-2.6-7 .1-2 2.2-5 .1-2-1.1-5 1.2-3 3.2-4 .8-2 .9-1 8.6-6z" fill="none" stroke="#0808f8" stroke-width="1.15" stroke-linejoin="round"/>
<path d="M680.9 1979.5l2.1-.5 1 .1 10 2.7 4.6 3.7 3.1 5 1.2 3 .3 5 .8 3 .1 2-.8 4-.1 3-3.7 10-1.2 2-2.3 2.2-2 .9-6 1.7-5-.2-3-.6-4.2-4-3.6-5-.2-3-2.5-8-.1-4 .6-2.4 .8-1.6 .8-1 2-1 1-1 .6-3 .6-1 2.2-1.6 2.9-1.4z" fill="none" stroke="#0a28ff" stroke-width="1.15" stroke-linejoin="round"/>
<path d="M681.0 1982.5l2-.7 2-.2 6 1.2 2 .9 4 3.1 2.7 3.7 1.7 4 0 4 .8 4 0 2-.9 3-.2 3-.7 3-2.8 7-1.4 2-1.2 .9-7 2-6-1.1-3-1.7-2-3.3-2.5-2.8-.3-3-2.6-6 .2-10 1.4-6 .5-1 2.3-2.2 1.8-3.8 3.2-2z" fill="#1050ff" fill-opacity="0.42" stroke="#1050ff" stroke-width="1.15" stroke-linejoin="round"/>
<path d="M683.6 1983.5l2.4-.3 5 1.4 2 1.1 3.3 2.8 3.7 6 .5 9-2 11-3.5 6.8-3 1.4-3 .3-2.3-.5-2.7 .2-4-1.7-2.7-4.5-3.9-9-.2-8 1.6-7 2.2-2.7 2.5-4.3 1.5-1.1 2.6-.9z" fill="#14a4ff" fill-opacity="0.42" stroke="#14a4ff" stroke-width="1.15" stroke-linejoin="round"/>
<path d="M681.9 1985.5l4.1-.8 6 2.2 3.4 2.6 2.7 4 .8 2 .3 9-2.5 10-2.7 4.5-1 .8-3 1-6-.5-1-1-3-1.5-1.8-4.3-1.4-2-2-5-.2-6 .9-6 4.3-7 2.1-2z" fill="#10d0ff" fill-opacity="0.42" stroke="#10d0ff" stroke-width="1.15" stroke-linejoin="round"/>
<path d="M684.1 1986.5l2.9-.1 4 1.6 3 2 3.2 4.5 .7 2 .5 7-1.8 7-1.4 3-2.6 4-1.6 1.2-2 .5-4-.8-4.1-1.9-3.5-7-1.3-5-.1-4 .7-6 5.1-7 2.3-1z" fill="#10f0f0" fill-opacity="0.42" stroke="#10f0f0" stroke-width="1.15" stroke-linejoin="round"/>
<path d="M682.9 1988.5l2.1-.5 2 0 5.8 2.5 1.1 1 3 5 .8 6-1.7 6.8-4 6.6-2 1.5-2 .1-6-1.6-1-1.2-2.7-6.2-1-5 .3-8 2.2-4 3.1-3z" fill="#18f0a8" fill-opacity="0.42" stroke="#18f0a8" stroke-width="1.15" stroke-linejoin="round"/>
<path d="M683.8 1989.5l2.2-.1 6 2 3.4 4.1 .6 1.4 .8 5.6-1.6 6-3.6 6-1.6 1.5-2-.1-3-2.1-1 .1-1 .6-1-.5-1-4.1-1.6-2.4-.6-4 1.2-2-1.2-3 .2-3 2-4 1-1 1.8-1z" fill="#20f050" fill-opacity="0.42" stroke="#20f050" stroke-width="1.15" stroke-linejoin="round"/>
<path d="M682.4 1991.5l1.6-.9 1 0 5 1.5 4 3.8 .9 1.6 .7 5-1.2 5-1.4 2.2-2.6 1.8-.5 2-.9 .8-1-.3-3.3-2.5-3.7-5-.1-2 1.1-2-.2-1-1.3-2-.5-2 1-4 1.4-2z" fill="#58f010" fill-opacity="0.42" stroke="#58f010" stroke-width="1.15" stroke-linejoin="round"/>
<path d="M683.5 1993.5l.5-.8 1 1.7 1 0 2-1 1-.1 3.9 3.2 1.3 3 0 5-1.2 3.6-1 1-3 .7-1 1.1-1 .4-1.2-.8-2.4-3 .2-3-.4-2-1.9-4 .2-1 2.2-3-.2-1z" fill="#a8f008" fill-opacity="0.42" stroke="#a8f008" stroke-width="1.15" stroke-linejoin="round"/>
<path d="M687.7 1995.5l1.3-.3 1 .4 2.4 1.9 .8 2 .2 5-.4 1.7-1 1.3-1 .4-2-1.2-1 .5-1 1.4-1 .1-1.1-1.2 .2-3-2.1-5 .2-1 1.8-2 2.7-1z" fill="#ffb808" fill-opacity="0.42" stroke="#ffb808" stroke-width="1.15" stroke-linejoin="round"/>
<path d="M688.2 1997.5l1.8-.7 1 .4 1.1 1.3 .4 6-.5 1.3-1 .3-4-.7-2-3.8 0-1.7 1-.2 1 .3 1-.5 .2-2z" fill="#ff6c08" fill-opacity="0.42" stroke="#ff6c08" stroke-width="1.15" stroke-linejoin="round"/>
<path d="M689.7 1998.5l.3-.3 1 .2 .4 1.1 .1 4-.5 1.2-2-.2-1.3-1-.4-1 .4-1 1.3-1.3 .7-1.7z" fill="#f81808" fill-opacity="0.42" stroke="#f81808" stroke-width="1.15" stroke-linejoin="round"/>
<path d="M688.82 1962.11h1.5v1.5h-1.5zM707.56 1957.58h1.5v1.5h-1.5zM685.66 1912.97h1.5v1.5h-1.5zM692.98 1944.56h1.5v1.5h-1.5zM674.09 1959.18h1.5v1.5h-1.5zM677.51 1895.6h1.5v1.5h-1.5zM685.56 1991.42h1.5v1.5h-1.5zM679.53 1991.89h1.5v1.5h-1.5zM686.3 1911.9h1.5v1.5h-1.5zM667.78 1940.33h1.5v1.5h-1.5zM683.12 1960.62h1.5v1.5h-1.5zM687.98 1970.64h1.5v1.5h-1.5zM684.5 1968.63h1.5v1.5h-1.5zM687.12 1987.33h1.5v1.5h-1.5zM686.19 1979.45h1.5v1.5h-1.5zM690.49 1974.75h1.5v1.5h-1.5zM708.78 1950.65h1.5v1.5h-1.5zM702.78 1947.28h1.5v1.5h-1.5zM671.03 1988.01h1.5v1.5h-1.5zM676.61 1916.52h1.5v1.5h-1.5zM681.12 1961.93h1.5v1.5h-1.5zM692.47 1974.84h1.5v1.5h-1.5zM704.24 1872.91h1.5v1.5h-1.5zM687.11 1975.73h1.5v1.5h-1.5zM688.18 1902.21h1.5v1.5h-1.5zM690.99 1919.43h1.5v1.5h-1.5zM687.38 1977.65h1.5v1.5h-1.5zM682.31 1984.47h1.5v1.5h-1.5zM695.52 1976.93h1.5v1.5h-1.5zM688.06 1988.02h1.5v1.5h-1.5zM686.4 1869.8h1.5v1.5h-1.5zM660.15 1946.49h1.5v1.5h-1.5zM686.67 1868.66h1.5v1.5h-1.5zM673.65 1947.68h1.5v1.5h-1.5zM683.19 1933.88h1.5v1.5h-1.5zM695.81 1985.29h1.5v1.5h-1.5zM678.1 1987.17h1.5v1.5h-1.5zM674.62 1957.68h1.5v1.5h-1.5zM672.81 1919.07h1.5v1.5h-1.5zM680.49 1976.23h1.5v1.5h-1.5zM685.76 1992.72h1.5v1.5h-1.5zM689.88 1871.57h1.5v1.5h-1.5zM669.27 1882.93h1.5v1.5h-1.5zM675.84 1984.43h1.5v1.5h-1.5zM680.15 1882.05h1.5v1.5h-1.5zM686.49 1972.68h1.5v1.5h-1.5zM691.28 1980.18h1.5v1.5h-1.5zM688.66 1978.97h1.5v1.5h-1.5zM655.38 1960.83h1.5v1.5h-1.5zM703.81 1971.51h1.5v1.5h-1.5zM659.04 1979.96h1.5v1.5h-1.5zM661.17 2025.33h1.5v1.5h-1.5zM712.17 1995.85h1.5v1.5h-1.5zM709.22 1974.47h1.5v1.5h-1.5zM688.19 1969.36h1.5v1.5h-1.5zM670.79 2044.71h1.5v1.5h-1.5zM689.01 2040.88h1.5v1.5h-1.5zM706.6 1977.88h1.5v1.5h-1.5zM684.58 2036.51h1.5v1.5h-1.5zM714.75 2022.5h1.5v1.5h-1.5zM718.7 1995.21h1.5v1.5h-1.5zM713.25 2023.67h1.5v1.5h-1.5zM658.79 2002.1h1.5v1.5h-1.5zM720.18 2000.07h1.5v1.5h-1.5zM671.67 2038.44h1.5v1.5h-1.5zM699.09 2040.34h1.5v1.5h-1.5zM668 2032.2h1.5v1.5h-1.5zM685.59 1969.59h1.5v1.5h-1.5zM679.66 1965.88h1.5v1.5h-1.5zM653.88 2009.41h1.5v1.5h-1.5zM704.93 2027.93h1.5v1.5h-1.5zM693.94 2038.27h1.5v1.5h-1.5z" fill="#333"/></g>
<rect x="624.3" y="1797.1" width="129.2" height="188.4" fill="none" stroke="#111" stroke-width="1.3"/>
<text transform="translate(651.3 1788) scale(1 1.04)" font-size="31.6">7.95%</text>
<rect x="835.8" y="1754.3" width="310.2" height="310.1" fill="#fff" stroke="#1a1a1a" stroke-width="1.8"/>
<line x1="826.8" y1="2064.4" x2="1146.7" y2="2064.4" stroke="#111" stroke-width="2"/>
<path d="M856 2064.4v6.8M893.4 2064.4v6.8M943.5 2064.4v6.8M994.1 2064.4v6.8M1044.2 2064.4v6.8M1095.3 2064.4v6.8M1146 2064.4v6.8M908.48 2064.4v4.5M917.3 2064.4v4.5M923.56 2064.4v4.5M928.42 2064.4v4.5M932.39 2064.4v4.5M935.74 2064.4v4.5M938.64 2064.4v4.5M941.21 2064.4v4.5M958.73 2064.4v4.5M967.64 2064.4v4.5M973.96 2064.4v4.5M978.87 2064.4v4.5M982.87 2064.4v4.5M986.26 2064.4v4.5M989.2 2064.4v4.5M991.78 2064.4v4.5M1009.18 2064.4v4.5M1018 2064.4v4.5M1024.26 2064.4v4.5M1029.12 2064.4v4.5M1033.09 2064.4v4.5M1036.44 2064.4v4.5M1039.34 2064.4v4.5M1041.91 2064.4v4.5M1059.58 2064.4v4.5M1068.58 2064.4v4.5M1074.97 2064.4v4.5M1079.92 2064.4v4.5M1083.96 2064.4v4.5M1087.38 2064.4v4.5M1090.35 2064.4v4.5M1092.96 2064.4v4.5M1110.56 2064.4v4.5M1119.49 2064.4v4.5M1125.82 2064.4v4.5M1130.74 2064.4v4.5M1134.75 2064.4v4.5M1138.15 2064.4v4.5M1141.09 2064.4v4.5M1143.68 2064.4v4.5M862.73 2064.4v4.5M869.09 2064.4v4.5M874.7 2064.4v4.5M879.19 2064.4v4.5M882.93 2064.4v4.5M885.92 2064.4v4.5M888.54 2064.4v4.5M890.78 2064.4v4.5M851.96 2064.4v4.5M847.52 2064.4v4.5M841.86 2064.4v4.5M835.8 2064.4v4.5" fill="none" stroke="#111" stroke-width="1.45"/>
<path d="M835.8 1754.3h-9M835.8 1874.9h-9M835.8 2019.2h-9M835.8 1838.6h-5.2M835.8 1817.36h-5.2M835.8 1802.29h-5.2M835.8 1790.6h-5.2M835.8 1781.05h-5.2M835.8 1772.98h-5.2M835.8 1765.99h-5.2M835.8 1759.82h-5.2M835.8 1975.91h-5.2M835.8 1947.05h-5.2M835.8 1925.4h-5.2M835.8 1909.53h-5.2M835.8 1896.55h-5.2M835.8 1885h-5.2M835.8 2056h-5.2" fill="none" stroke="#111" stroke-width="1.45"/>
<text transform="translate(856 2102) scale(1 1.04)" font-size="26.1" text-anchor="middle">0</text>
<text transform="translate(896.3 2102) scale(1 1.04)" font-size="26.1" text-anchor="middle">10<tspan font-size="17" dy="-7.7">2</tspan></text>
<text transform="translate(943.5 2102) scale(1 1.04)" font-size="26.1" text-anchor="middle">10<tspan font-size="17" dy="-7.7">3</tspan></text>
<text transform="translate(994.1 2102) scale(1 1.04)" font-size="26.1" text-anchor="middle">10<tspan font-size="17" dy="-7.7">4</tspan></text>
<text transform="translate(1044.2 2102) scale(1 1.04)" font-size="26.1" text-anchor="middle">10<tspan font-size="17" dy="-7.7">5</tspan></text>
<text transform="translate(1095.3 2102) scale(1 1.04)" font-size="26.1" text-anchor="middle">10<tspan font-size="17" dy="-7.7">6</tspan></text>
<text transform="translate(1146 2102) scale(1 1.04)" font-size="26.1" text-anchor="middle">10<tspan font-size="17" dy="-7.7">7</tspan></text>
<text transform="translate(823.8 1764.2) scale(1 1.04)" font-size="26.1" text-anchor="end">10<tspan font-size="17" dy="-7.7">5</tspan></text>
<text transform="translate(823.8 1884.8) scale(1 1.04)" font-size="26.1" text-anchor="end">10<tspan font-size="17" dy="-7.7">4</tspan></text>
<text transform="translate(811.4 2029.1) scale(1 1.04)" font-size="26.1" text-anchor="end">0</text>
<g><path d="M1044.8 1973.5l.7-.7 1-.3 3 0 3 1 4 .7 5 4.3 4 7.4 1.2 1.6 .7 2-.3 5 1.3 10-.4 3-3.6 13-1.8 4-.8 1-5.3 3.7-4 1.3-9-.7-1.8-1.3-3.2-4.2-3-7.4-2.7-2.4-1.3-2-.5-6 .2-3-1.9-4 .6-4 2-4 .4-3 1.8-4 2.4-3 3.1-2 5.2-6z" fill="none" stroke="#0808f8" stroke-width="1.15" stroke-linejoin="round"/>
<path d="M1049.7 1977.5l1.8-.5 3 .7 3.3 1.8 3.2 3 4 7 .2 7 1.1 6-.7 5-1.5 6-1.9 4-1.7 4.6-2 2.6-2 1.4-5 1.2-2-.3-5-1.8-2.6-2.7-2.1-3-1.1-3-2-3-.9-3-1.4-2-1-9 .2-3 1.8-7 1.6-3 3.6-4 2.9-2.5 6.2-2.5z" fill="none" stroke="#0a28ff" stroke-width="1.15" stroke-linejoin="round"/>
<path d="M1048.3 1981.5l2.2-.6 4 .2 4 1.8 1.8 1.6 2.8 5 1.4 12-2.1 12-3.5 7-1.4 1.6-2 1.3-4 1.5-5-1.5-2-1.3-5.5-8.6-.5-3.1-2.4-2.9-.3-1 1-9-.1-3 2.1-6 4.3-5 5.2-2z" fill="#1050ff" fill-opacity="0.42" stroke="#1050ff" stroke-width="1.15" stroke-linejoin="round"/>
<path d="M1048.2 1983.5l2.3-.7 2 0 4 .8 2 .9 3.2 5 1.2 6 0 7-2.1 12-4.3 5.7-3 1.9-2 .5-4-1.1-2-1.7-4.8-6.3-1.2-4.2-1.7-3.8 .8-11 2.3-6 2.6-3.2 2-1.1 2.7-.7z" fill="#14a4ff" fill-opacity="0.42" stroke="#14a4ff" stroke-width="1.15" stroke-linejoin="round"/>
<path d="M1049.3 1984.5l2.2-.1 3 1.3 2-.6 1.2 .4 2.8 4.2 1.4 5.8-.3 7-1.7 11-4.4 5.7-2 1.1-2 .3-2-.3-2-1.3-5.2-5.5-1.7-4-1.3-5-.1-5 .8-5 1.8-5 1.3-2 1.4-1.2 4.8-1.8z" fill="#10d0ff" fill-opacity="0.42" stroke="#10d0ff" stroke-width="1.15" stroke-linejoin="round"/>
<path d="M1049.0 1986.5l1.5-.4 3 1.5 3-.2 1 .4 2.1 2.7 1.4 5-.7 9-1.4 8-.5 1-3.9 3.9-3 1.1-1-.1-4-2.6-3-3.6-2-3.4-1.3-5.3-.2-3 1-5 2.1-6 1.4-1.5 3-.6 1.5-.9z" fill="#10f0f0" fill-opacity="0.42" stroke="#10f0f0" stroke-width="1.15" stroke-linejoin="round"/>
<path d="M1049.2 1988.5l1.3-.5 6 1.2 2 2.1 1.3 3.2 0 6-1.3 9.3-1.9 3.7-2.1 1.5-1 .2-2-.2-4-1.5-5-5.9-1.5-5.1 0-2 .9-2 .4-3 1.7-5 1.4-1 3.8-1z" fill="#18f0a8" fill-opacity="0.42" stroke="#18f0a8" stroke-width="1.15" stroke-linejoin="round"/>
<path d="M1047.5 1990.5l4-.6 4 .3 1.9 2.3 1.1 2.7 .3 5.3-1.1 8-2.5 4-1.7 1-3.4-1-3.6-2.7-2.8-3.3-1.7-4 .2-2 1.4-2 1-6 .9-1.3 2-.7z" fill="#20f050" fill-opacity="0.42" stroke="#20f050" stroke-width="1.15" stroke-linejoin="round"/>
<path d="M1046.4 1992.5l2.1-.9 6 .1 1.2 .8 1.6 3 .5 2-.2 6-.8 4-1.1 2-2.2 1.8-2 .1-3.5-1.9-2.6-3-1.3-3-.4-1 1.6-3 .2-5.5 .9-1.5z" fill="#58f010" fill-opacity="0.42" stroke="#58f010" stroke-width="1.15" stroke-linejoin="round"/>
<path d="M1047.2 1993.5l1.3-.8 1-.1 5 .7 1 .6 1.3 2.6 .2 2-.6 2 .1 4-1.3 4-1.7 1.4-2 .1-2-.7-1.1-.8-2.5-4-.2-2 .7-3 .3-5 .5-1z" fill="#a8f008" fill-opacity="0.42" stroke="#a8f008" stroke-width="1.15" stroke-linejoin="round"/>
<path d="M1048.9 1993.5l1.6 0 4 .9 1.6 2.1 .1 2-1 2 .6 3-1.4 4-.9 1.2-1 .2-2.2-.4-1.1-1-2.1-4-.2-2 1-4 0-3 1-1z" fill="#ffb808" fill-opacity="0.42" stroke="#ffb808" stroke-width="1.15" stroke-linejoin="round"/>
<path d="M1049.3 1994.5l1.2-.1 4 1.1 1.2 2-.2 1-1.4 2 .6 2-.2 1.8-1 .9-2 .7-1-.2-2.3-3.2-.2-1 1.1-4 .2-3z" fill="#ff6c08" fill-opacity="0.42" stroke="#ff6c08" stroke-width="1.15" stroke-linejoin="round"/>
<path d="M1050.5 1996.5l1-.6 2 .1 1 .4 .5 1.1-.4 1-1.7 2 .9 2-.1 1-1.2 .7-1-.1-.5-.6-1-2-.1-3 .6-2z" fill="#f81808" fill-opacity="0.42" stroke="#f81808" stroke-width="1.15" stroke-linejoin="round"/>
<path d="M1040.1 1939.05h1.5v1.5h-1.5zM1038.66 1978.92h1.5v1.5h-1.5zM1027.86 1941.63h1.5v1.5h-1.5zM1042.92 1970.07h1.5v1.5h-1.5zM1034.32 1959.06h1.5v1.5h-1.5zM1046.14 1883.46h1.5v1.5h-1.5zM1044.64 1947.87h1.5v1.5h-1.5zM1041.32 1936.78h1.5v1.5h-1.5zM1055.73 1981.31h1.5v1.5h-1.5zM1046.84 1978.95h1.5v1.5h-1.5zM1035.52 1939.29h1.5v1.5h-1.5zM1056.28 1920.03h1.5v1.5h-1.5zM1040.62 1944.64h1.5v1.5h-1.5zM1041.76 1983.98h1.5v1.5h-1.5zM1057.36 1882.46h1.5v1.5h-1.5zM1054.19 1986.5h1.5v1.5h-1.5zM1035.68 1937.06h1.5v1.5h-1.5zM1053.52 1966.29h1.5v1.5h-1.5zM1055.52 1991.21h1.5v1.5h-1.5zM1047.29 1941.57h1.5v1.5h-1.5zM1057.13 1978.67h1.5v1.5h-1.5zM1051.63 1984.75h1.5v1.5h-1.5zM1051.34 1909.28h1.5v1.5h-1.5zM1032.66 1991.86h1.5v1.5h-1.5zM1051.14 1975.76h1.5v1.5h-1.5zM1053.3 1965.98h1.5v1.5h-1.5zM1049.88 1961.22h1.5v1.5h-1.5zM1053.64 1984.73h1.5v1.5h-1.5zM1036.74 1966.32h1.5v1.5h-1.5zM1048.47 1953.75h1.5v1.5h-1.5zM1042.07 1921.29h1.5v1.5h-1.5zM1050.67 1987.04h1.5v1.5h-1.5zM1048.02 1952.03h1.5v1.5h-1.5zM1041.51 1988.87h1.5v1.5h-1.5zM1045.39 1987.69h1.5v1.5h-1.5zM1043.63 1948.86h1.5v1.5h-1.5zM1032.52 2043.66h1.5v1.5h-1.5zM1063.24 2039.42h1.5v1.5h-1.5zM1073.94 2009.41h1.5v1.5h-1.5zM1042.71 1956.84h1.5v1.5h-1.5zM1017.27 1997.54h1.5v1.5h-1.5zM1077.51 1991.03h1.5v1.5h-1.5zM1018.96 2024.85h1.5v1.5h-1.5zM1069.42 2029.33h1.5v1.5h-1.5zM1025.32 1967.43h1.5v1.5h-1.5zM1049.19 1949.85h1.5v1.5h-1.5zM1014.83 2020.54h1.5v1.5h-1.5zM1070.07 1966.02h1.5v1.5h-1.5zM1011.56 1996.4h1.5v1.5h-1.5zM1041.5 1962.55h1.5v1.5h-1.5zM1042.58 2045.13h1.5v1.5h-1.5zM1055.88 2049.04h1.5v1.5h-1.5zM1079.2 2021.05h1.5v1.5h-1.5zM1013.91 1978.53h1.5v1.5h-1.5zM1082.87 2001.59h1.5v1.5h-1.5zM1076.99 1980.45h1.5v1.5h-1.5zM1073.06 2011.89h1.5v1.5h-1.5zM1054.26 1962.88h1.5v1.5h-1.5z" fill="#333"/></g>
<rect x="986.9" y="1796" width="128.7" height="189.5" fill="none" stroke="#111" stroke-width="1.3"/>
<text transform="translate(1007.9 1787) scale(1 1.04)" font-size="31.6">12.21%</text>
<rect x="1201" y="1753.7" width="310.7" height="311.5" fill="#fff" stroke="#1a1a1a" stroke-width="1.5"/>
<line x1="1192" y1="2065.2" x2="1512.4" y2="2065.2" stroke="#111" stroke-width="2"/>
<path d="M1221.8 2065.2v6.8M1258.6 2065.2v6.8M1310 2065.2v6.8M1359.3 2065.2v6.8M1409.9 2065.2v6.8M1461.3 2065.2v6.8M1511.7 2065.2v6.8M1274.07 2065.2v4.5M1283.12 2065.2v4.5M1289.55 2065.2v4.5M1294.53 2065.2v4.5M1298.6 2065.2v4.5M1302.04 2065.2v4.5M1305.02 2065.2v4.5M1307.65 2065.2v4.5M1324.84 2065.2v4.5M1333.52 2065.2v4.5M1339.68 2065.2v4.5M1344.46 2065.2v4.5M1348.36 2065.2v4.5M1351.66 2065.2v4.5M1354.52 2065.2v4.5M1357.04 2065.2v4.5M1374.53 2065.2v4.5M1383.44 2065.2v4.5M1389.76 2065.2v4.5M1394.67 2065.2v4.5M1398.67 2065.2v4.5M1402.06 2065.2v4.5M1405 2065.2v4.5M1407.58 2065.2v4.5M1425.37 2065.2v4.5M1434.42 2065.2v4.5M1440.85 2065.2v4.5M1445.83 2065.2v4.5M1449.9 2065.2v4.5M1453.34 2065.2v4.5M1456.32 2065.2v4.5M1458.95 2065.2v4.5M1476.47 2065.2v4.5M1485.35 2065.2v4.5M1491.64 2065.2v4.5M1496.53 2065.2v4.5M1500.52 2065.2v4.5M1503.89 2065.2v4.5M1506.82 2065.2v4.5M1509.39 2065.2v4.5M1228.42 2065.2v4.5M1234.68 2065.2v4.5M1240.2 2065.2v4.5M1244.62 2065.2v4.5M1248.3 2065.2v4.5M1251.24 2065.2v4.5M1253.82 2065.2v4.5M1256.02 2065.2v4.5M1217.64 2065.2v4.5M1213.06 2065.2v4.5M1207.24 2065.2v4.5M1201 2065.2v4.5" fill="none" stroke="#111" stroke-width="1.45"/>
<path d="M1201 1753.7h-9M1201 1875.2h-9M1201 2019.2h-9M1201 1838.62h-5.2M1201 1817.23h-5.2M1201 1802.05h-5.2M1201 1790.28h-5.2M1201 1780.65h-5.2M1201 1772.52h-5.2M1201 1765.47h-5.2M1201 1759.26h-5.2M1201 1976h-5.2M1201 1947.2h-5.2M1201 1925.6h-5.2M1201 1909.76h-5.2M1201 1896.8h-5.2M1201 1885.28h-5.2M1201 2056h-5.2" fill="none" stroke="#111" stroke-width="1.45"/>
<text transform="translate(1221.8 2102) scale(1 1.04)" font-size="26.1" text-anchor="middle">0</text>
<text transform="translate(1261.5 2102) scale(1 1.04)" font-size="26.1" text-anchor="middle">10<tspan font-size="17" dy="-7.7">2</tspan></text>
<text transform="translate(1310 2102) scale(1 1.04)" font-size="26.1" text-anchor="middle">10<tspan font-size="17" dy="-7.7">3</tspan></text>
<text transform="translate(1359.3 2102) scale(1 1.04)" font-size="26.1" text-anchor="middle">10<tspan font-size="17" dy="-7.7">4</tspan></text>
<text transform="translate(1409.9 2102) scale(1 1.04)" font-size="26.1" text-anchor="middle">10<tspan font-size="17" dy="-7.7">5</tspan></text>
<text transform="translate(1461.3 2102) scale(1 1.04)" font-size="26.1" text-anchor="middle">10<tspan font-size="17" dy="-7.7">6</tspan></text>
<text transform="translate(1511.7 2102) scale(1 1.04)" font-size="26.1" text-anchor="middle">10<tspan font-size="17" dy="-7.7">7</tspan></text>
<text transform="translate(1189 1763.6) scale(1 1.04)" font-size="26.1" text-anchor="end">10<tspan font-size="17" dy="-7.7">5</tspan></text>
<text transform="translate(1189 1885.1) scale(1 1.04)" font-size="26.1" text-anchor="end">10<tspan font-size="17" dy="-7.7">4</tspan></text>
<text transform="translate(1176.6 2029.1) scale(1 1.04)" font-size="26.1" text-anchor="end">0</text>
<g><path d="M1405.2 1960.0l3.8-.6 2 .6 2 1.5 1 .2 3-.7 2 .4 1 .6 3 3.2 1.5 2.8 2.8 3 3.7 5.5 3.2 2.5 2.3 4 .6 3 1.5 4 1 7 0 3-1.1 6 1.3 4-.5 2-2.3 3-.8 2-3.9 6-6.3 5.1-5 1.7-8.2 .2-3.8 .8-3-.7-3-1.6-4-1-1.5-1.5-.5-3.3-1-1.7-9-6.9-.6-2.1-1.5-3 .5-3 0-4-1.1-4-.1-4-1.2-4 .4-3 2.6-5 1.2-4 2.4-3 .3-3 1.1-3 5-4.8 3-1.6 4-1.1 2.2-1.5z" fill="none" stroke="#0808f8" stroke-width="1.15" stroke-linejoin="round"/>
<path d="M1403.9 1966.0l5.1-.9 7 .5 1 .4 8 6.7 2.8 5.3 4.6 6 .4 4 1 2 .4 3 1.3 3 .4 6-.4 4-1.3 3-1.2 5-2 5-3.6 4-3.4 2.6-5 1.6-5 .3-5-1.4-5-.8-3-1.6-1-1.2-2-4.5-5-7.1-2.5-1.9 1.3-4-.2-1-.6-1.1-2.2-1.9-1.4-3 0-1 1.3-4 .2-4 3.5-4 .4-1-.3-2 .3-2 2.6-5 .2-3 1.3-4 3.1-.4 3.9-1.6z" fill="none" stroke="#0a28ff" stroke-width="1.15" stroke-linejoin="round"/>
<path d="M1407.8 1969.0l1.2-.5 2-.2 6 1.5 2 1.4 2 2.6 3 2.1 1.7 3.1 3.9 5 3.2 12 .8 9-.2 1-1.9 3-.7 4-1.2 3-1.1 2-2.5 2.9-1 .7-3 .7-4 2.5-5-.4-4-1.8-4 0-2.1-1.6-3.1-4-1.5-4-1.3-2-.8-3-1.9-2-.3-4.5-1-1.1-2.3-1.4-.4-1 .6-3 1.1-3 4.2-5 .3-2-.7-3 .2-1 3.7-7 2.2-3 1.1-.8 4.8-1.2z" fill="#1050ff" fill-opacity="0.42" stroke="#1050ff" stroke-width="1.15" stroke-linejoin="round"/>
<path d="M1407.4 1972.0l1.6-.7 2-.1 5 1.7 2.6 2.1 3.3 2 2.1 3.7 3.7 4.3 1 3 1.5 3 1 4 0 7 .4 3-3.1 6-1.7 6-1.8 2.1-2.7 .9-2.3 1.5-3 1.1-3-.3-5-2.3-4-.1-2.8-2.9-.8-1-.8-3-1.3-2-.5-3-.8-1.4-1.5-1.6-.1-4-2.5-5-.2-1 .4-1 3.1-3 1.6-4 1.4-5 4.2-8 .9-1 2.1-1z" fill="#14a4ff" fill-opacity="0.42" stroke="#14a4ff" stroke-width="1.15" stroke-linejoin="round"/>
<path d="M1407.5 1974.0l1.5-.7 1 0 5 1.3 3 2.2 2.6 1.2 3.3 6 2.2 2 .9 2.4 1.7 2.6 1.5 4 .2 2-.5 8-4 6-1.2 6-6.7 3.9-2 .1-2-.4-4-1.8-4-1-1.1-.8-3.9-7.3-1.2-3.7-.4-4-2.7-5 .1-2 .6-1 1.6-2.1 2-1.1 1-1.1 .7-2.7-1-3 .2-1 2.1-4 3.5-5z" fill="#10d0ff" fill-opacity="0.42" stroke="#10d0ff" stroke-width="1.15" stroke-linejoin="round"/>
<path d="M1408.6 1976.0l1.4-.9 3 .4 1.3 .5 2.5 2 3.2 1.6 2.1 4.4 2.9 3 4.6 9-.8 8-.8 1.7-2 2.2-1.7 3.1-.4 1-.1 3-.5 1-3.3 1.8-2 1.7-1 .3-4-.7-4.6-2.1-1.2-1-2.3-4-.9-2.7-1.9-2.3-1.2-6-2.1-4 .6-3 2.8-2 1.8-3 1.2-9 .8-1.3 2.6-2.7z" fill="#10f0f0" fill-opacity="0.42" stroke="#10f0f0" stroke-width="1.15" stroke-linejoin="round"/>
<path d="M1410.9 1977.0l1.1-.4 1 .2 3 3 2.7 1.2 2.3 4.4 3 2.6 4.6 8-.8 7-3.1 4-2 5-.4 3-5.3 3.6-3-.3-4.8-2.3-2.5-4-1.6-4-1.5-2-1.6-6-1.6-3 .6-2 2-2 2.5-4 1.6-5-.1-2 2.3-2 .8-2 .8-1z" fill="#18f0a8" fill-opacity="0.42" stroke="#18f0a8" stroke-width="1.15" stroke-linejoin="round"/>
<path d="M1409.5 1985.0l3.5-1 1 .3 2 2.8 2-1 1-.1 2 2.8 2 .5 1 .8 1.4 3.9 1.6 1.7 .5 1.3-1.2 5-2.6 4-2.3 8-3.4 2.7-2 .9-2.7-.6-2.3-1.1-1.1-.9-2.4-4-1.4-4-1.4-2-1.2-6-1.3-2 .2-1 5.2-7 1-3 .9-1z" fill="#20f050" fill-opacity="0.42" stroke="#20f050" stroke-width="1.15" stroke-linejoin="round"/>
<path d="M1412.6 1990.0l.4-.3 1 .4 2.4 2.9 1.6 .5 1-.5 1-1.6 1-.7 2 .3 .6 1 .4 2.3 1.7 2.7 .1 1-1.1 4-2.2 4-1.8 7-.7 1.1-4 2.5-2-.4-2.3-1.2-1.1-1-4.6-10-1.2-7-.1-1 .4-1 2.2-3 .7-.5 2 .3 1-.3 1.6-1.5z" fill="#58f010" fill-opacity="0.42" stroke="#58f010" stroke-width="1.15" stroke-linejoin="round"/>
<path d="M1411.6 1993.0l1.4 0 1.7 2 1.3 .6 3-.9 2-2.1 1-.3 2.3 5.7-1.1 5-1.8 3-1.5 7-1 1-2.9 1.5-1.9-.5-2.1-1.5-1.5-4.5-1.5-1.3-1.8-4.7-.5-3 .9-3 2.4-3 1.6-1z" fill="#a8f008" fill-opacity="0.42" stroke="#a8f008" stroke-width="1.15" stroke-linejoin="round"/>
<path d="M1411.6 1996.0l1.4 0 3 1.2 3-.5 1 .4 .7 .9 1 4-.1 1-2.4 6 .1 3-.5 1-.8 .5-1 .2-1-.2-1-1.5-2-1.1-.7-.9-.6-2-1.7-1.6-1.5-3.4-.4-2 .6-3 1.3-1.4 1.6-.6z" fill="#ffb808" fill-opacity="0.42" stroke="#ffb808" stroke-width="1.15" stroke-linejoin="round"/>
<path d="M1412.0 1997.0l1 0 2 .9 3 .1 1 .4 .8 1.6-.1 3-.7 1.4-1.5 1.6 .2 4-.7 1.2-2-.3-1.5-.9-1-3-1.4-2-1.3-3-.3-3 .5-1.1 2-.9z" fill="#ff6c08" fill-opacity="0.42" stroke="#ff6c08" stroke-width="1.15" stroke-linejoin="round"/>
<path d="M1411.6 1998.0l1.4-.1 2 1.3 3-.2 .8 1 .2 1.1-.8 1.9-2.2 2-.2 2 .7 2-.5 .9-1 .1-1-.9-.4-2.1-1-2 .4-1 1.8-1 .4-1-.2-1.2-1-.8-2 .6-1-.2-.4-1.4 1-1z" fill="#f81808" fill-opacity="0.42" stroke="#f81808" stroke-width="1.15" stroke-linejoin="round"/>
<path d="M1406.61 1924.85h1.5v1.5h-1.5zM1389.65 1931.18h1.5v1.5h-1.5zM1402.18 1956.18h1.5v1.5h-1.5zM1405.6 1940.92h1.5v1.5h-1.5zM1413.85 1984.74h1.5v1.5h-1.5zM1408.78 1962.67h1.5v1.5h-1.5zM1424.18 1981.92h1.5v1.5h-1.5zM1391.12 1978.41h1.5v1.5h-1.5zM1411.27 1976.92h1.5v1.5h-1.5zM1423.18 1990.59h1.5v1.5h-1.5zM1392.5 1943.3h1.5v1.5h-1.5zM1403.32 1929.35h1.5v1.5h-1.5zM1402.33 1964.52h1.5v1.5h-1.5zM1416.13 1978.96h1.5v1.5h-1.5zM1405.94 1923.4h1.5v1.5h-1.5zM1404.38 1946.27h1.5v1.5h-1.5zM1413.08 1957.86h1.5v1.5h-1.5zM1395.94 1965.43h1.5v1.5h-1.5zM1389.15 1991.97h1.5v1.5h-1.5zM1414.64 1987.75h1.5v1.5h-1.5zM1432.73 1969.48h1.5v1.5h-1.5zM1398.41 1979.03h1.5v1.5h-1.5zM1399.33 1984.84h1.5v1.5h-1.5zM1405.67 1977.75h1.5v1.5h-1.5zM1378.46 1984.44h1.5v1.5h-1.5zM1415.14 1942.01h1.5v1.5h-1.5zM1415.72 1964.36h1.5v1.5h-1.5zM1418.42 1988.34h1.5v1.5h-1.5zM1413.12 1952.88h1.5v1.5h-1.5zM1417.43 1942.48h1.5v1.5h-1.5zM1413.63 1961.67h1.5v1.5h-1.5zM1405.94 1950.82h1.5v1.5h-1.5zM1404.66 1884.57h1.5v1.5h-1.5zM1380.73 1985.68h1.5v1.5h-1.5zM1395.13 1911.44h1.5v1.5h-1.5zM1416.37 1915.09h1.5v1.5h-1.5zM1417.54 1969.19h1.5v1.5h-1.5zM1391.29 1982.22h1.5v1.5h-1.5zM1418.01 1965.77h1.5v1.5h-1.5zM1434.48 1971.07h1.5v1.5h-1.5zM1403.62 1962.44h1.5v1.5h-1.5zM1408.49 1975.18h1.5v1.5h-1.5zM1422.13 1985.22h1.5v1.5h-1.5zM1405.54 1891.49h1.5v1.5h-1.5zM1403.76 1908.41h1.5v1.5h-1.5zM1426.18 1991.8h1.5v1.5h-1.5zM1409.1 1962.69h1.5v1.5h-1.5zM1396.12 1854.93h1.5v1.5h-1.5zM1424.13 1928.34h1.5v1.5h-1.5zM1408.81 1963.42h1.5v1.5h-1.5zM1412.49 1924.65h1.5v1.5h-1.5zM1400.93 1981.63h1.5v1.5h-1.5zM1392.09 1991.82h1.5v1.5h-1.5zM1395.29 1939.66h1.5v1.5h-1.5zM1397.77 1947.31h1.5v1.5h-1.5zM1370.88 1985.66h1.5v1.5h-1.5zM1370.14 2009.11h1.5v1.5h-1.5zM1433.16 2043h1.5v1.5h-1.5zM1393.28 2049.48h1.5v1.5h-1.5zM1374.01 2014.22h1.5v1.5h-1.5zM1445.7 1983.86h1.5v1.5h-1.5zM1410.19 1956.49h1.5v1.5h-1.5zM1413.09 2049.08h1.5v1.5h-1.5zM1391.48 1949.4h1.5v1.5h-1.5zM1415.91 1944.03h1.5v1.5h-1.5zM1396.18 2044.62h1.5v1.5h-1.5zM1454.07 1989.19h1.5v1.5h-1.5zM1416.43 1943.77h1.5v1.5h-1.5zM1442.33 1972.94h1.5v1.5h-1.5zM1396.93 2044.03h1.5v1.5h-1.5zM1443.2 2007.71h1.5v1.5h-1.5zM1436.7 1956.81h1.5v1.5h-1.5zM1447.81 1979.11h1.5v1.5h-1.5zM1371.05 2015.23h1.5v1.5h-1.5zM1376.01 2014.34h1.5v1.5h-1.5zM1454.38 1985.9h1.5v1.5h-1.5zM1453.81 2011.85h1.5v1.5h-1.5z" fill="#333"/></g>
<rect x="1352.3" y="1796" width="129" height="189.5" fill="none" stroke="#111" stroke-width="1.3"/>
<text transform="translate(1366.6 1788.8) scale(1 1.04)" font-size="31.6">18.75%</text>
<path d="M53.2 2037.3V2127.5H144.6M37.2 2064.3L53.2 2036.8L69.2 2064.3M117.6 2111.5L145.1 2127.5L117.6 2143.5" fill="none" stroke="#000" stroke-width="4.8" stroke-linecap="round" stroke-linejoin="miter"/>
<text transform="translate(62.3 1991.6) rotate(-90) scale(1 1.04)" font-size="31.3" text-anchor="middle">GrB</text>
<text transform="translate(169.4 2141.8) scale(1 1.04)" font-size="31.5">CD8</text>
<filter id="lnblur" color-interpolation-filters="sRGB" x="-20%" y="-20%" width="140%" height="140%"><feGaussianBlur stdDeviation="12"/></filter>
<filter id="lnedge" color-interpolation-filters="sRGB"><feGaussianBlur stdDeviation="1.2"/></filter>
<filter id="lntex" color-interpolation-filters="sRGB" x="0" y="0" width="1" height="1"><feTurbulence type="fractalNoise" baseFrequency="0.2" numOctaves="3" seed="4" result="t"/><feColorMatrix in="t" type="matrix" values="0 0 0 0 1  0 0 0 0 1  0 0 0 0 1  3.0 0 0 0 -1.15" result="n"/><feComposite in="SourceGraphic" in2="n" operator="in"/></filter>
<filter id="lntex2" color-interpolation-filters="sRGB" x="0" y="0" width="1" height="1"><feTurbulence type="fractalNoise" baseFrequency="0.3" numOctaves="2" seed="21" result="t"/><feColorMatrix in="t" type="matrix" values="0 0 0 0 1  0 0 0 0 1  0 0 0 0 1  2.6 0 0 0 -1.25" result="n"/><feComposite in="SourceGraphic" in2="n" operator="in"/></filter>
<rect x="89.8" y="922.2" width="346" height="344.3" fill="#000"/>
<clipPath id="cl0"><path d="M171.49 1084.08C170.76 1076.78 172.95 1065.82 175.87 1057.79C178.79 1049.75 182.45 1042.08 189.02 1035.87C195.59 1029.66 205.82 1023.45 215.32 1020.53C224.81 1017.61 235.77 1017.24 246 1018.34C256.22 1019.43 265.72 1021.99 276.68 1027.1C287.64 1032.22 301.51 1040.98 311.74 1049.02C321.97 1057.05 331.46 1066.55 338.04 1075.32C344.61 1084.08 348.63 1092.12 351.19 1101.61C353.74 1111.11 354.11 1124.26 353.38 1132.3C352.65 1140.33 351.55 1144.71 346.81 1149.83C342.06 1154.94 332.93 1161.15 324.89 1162.98C316.86 1164.8 308.09 1162.98 298.59 1160.78C289.1 1158.59 278.14 1154.58 267.91 1149.83C257.69 1145.08 247.46 1137.77 237.23 1132.3C227 1126.82 216.05 1122.07 206.55 1116.96C197.05 1111.84 186.1 1107.09 180.25 1101.61C174.41 1096.14 172.22 1091.39 171.49 1084.08Z"/></clipPath>
<path d="M171.49 1084.08C170.76 1076.78 172.95 1065.82 175.87 1057.79C178.79 1049.75 182.45 1042.08 189.02 1035.87C195.59 1029.66 205.82 1023.45 215.32 1020.53C224.81 1017.61 235.77 1017.24 246 1018.34C256.22 1019.43 265.72 1021.99 276.68 1027.1C287.64 1032.22 301.51 1040.98 311.74 1049.02C321.97 1057.05 331.46 1066.55 338.04 1075.32C344.61 1084.08 348.63 1092.12 351.19 1101.61C353.74 1111.11 354.11 1124.26 353.38 1132.3C352.65 1140.33 351.55 1144.71 346.81 1149.83C342.06 1154.94 332.93 1161.15 324.89 1162.98C316.86 1164.8 308.09 1162.98 298.59 1160.78C289.1 1158.59 278.14 1154.58 267.91 1149.83C257.69 1145.08 247.46 1137.77 237.23 1132.3C227 1126.82 216.05 1122.07 206.55 1116.96C197.05 1111.84 186.1 1107.09 180.25 1101.61C174.41 1096.14 172.22 1091.39 171.49 1084.08Z" fill="#2d23ba" filter="url(#lnedge)"/>
<g clip-path="url(#cl0)"><g filter="url(#lnblur)"><ellipse cx="259.15" cy="1088.47" rx="65.74" ry="39.45" fill="#a81e62" opacity="0.42" transform="rotate(25 259.15 1088.47)"/><ellipse cx="228.47" cy="1066.55" rx="26.3" ry="17.53" fill="#a81e62" opacity="0.3" transform="rotate(20 228.47 1066.55)"/><ellipse cx="302.98" cy="1106" rx="30.68" ry="26.3" fill="#a81e62" opacity="0.3" transform="rotate(30 302.98 1106)"/></g>
<path d="M171.49 1084.08C170.76 1076.78 172.95 1065.82 175.87 1057.79C178.79 1049.75 182.45 1042.08 189.02 1035.87C195.59 1029.66 205.82 1023.45 215.32 1020.53C224.81 1017.61 235.77 1017.24 246 1018.34C256.22 1019.43 265.72 1021.99 276.68 1027.1C287.64 1032.22 301.51 1040.98 311.74 1049.02C321.97 1057.05 331.46 1066.55 338.04 1075.32C344.61 1084.08 348.63 1092.12 351.19 1101.61C353.74 1111.11 354.11 1124.26 353.38 1132.3C352.65 1140.33 351.55 1144.71 346.81 1149.83C342.06 1154.94 332.93 1161.15 324.89 1162.98C316.86 1164.8 308.09 1162.98 298.59 1160.78C289.1 1158.59 278.14 1154.58 267.91 1149.83C257.69 1145.08 247.46 1137.77 237.23 1132.3C227 1126.82 216.05 1122.07 206.55 1116.96C197.05 1111.84 186.1 1107.09 180.25 1101.61C174.41 1096.14 172.22 1091.39 171.49 1084.08Z" fill="#080020" filter="url(#lntex)" opacity="0.42"/>
<path d="M171.49 1084.08C170.76 1076.78 172.95 1065.82 175.87 1057.79C178.79 1049.75 182.45 1042.08 189.02 1035.87C195.59 1029.66 205.82 1023.45 215.32 1020.53C224.81 1017.61 235.77 1017.24 246 1018.34C256.22 1019.43 265.72 1021.99 276.68 1027.1C287.64 1032.22 301.51 1040.98 311.74 1049.02C321.97 1057.05 331.46 1066.55 338.04 1075.32C344.61 1084.08 348.63 1092.12 351.19 1101.61C353.74 1111.11 354.11 1124.26 353.38 1132.3C352.65 1140.33 351.55 1144.71 346.81 1149.83C342.06 1154.94 332.93 1161.15 324.89 1162.98C316.86 1164.8 308.09 1162.98 298.59 1160.78C289.1 1158.59 278.14 1154.58 267.91 1149.83C257.69 1145.08 247.46 1137.77 237.23 1132.3C227 1126.82 216.05 1122.07 206.55 1116.96C197.05 1111.84 186.1 1107.09 180.25 1101.61C174.41 1096.14 172.22 1091.39 171.49 1084.08Z" fill="#c83a90" filter="url(#lntex2)" opacity="0.4"/>
</g>
<rect x="447.6" y="922.2" width="346" height="344.3" fill="#000"/>
<clipPath id="cl1"><path d="M493.63 1088.47C494 1082.62 496.92 1073.86 500.21 1066.55C503.49 1059.25 507.51 1053.04 513.36 1044.64C519.2 1036.24 526.51 1023.09 535.27 1016.15C544.04 1009.21 554.99 1007.16 565.95 1003C576.91 998.84 590.06 991.9 601.01 991.16C611.97 990.43 621.47 994.45 631.7 998.62C641.92 1002.78 652.88 1009.21 662.38 1016.15C671.87 1023.09 680.64 1030.39 688.67 1040.25C696.71 1050.12 702.55 1064.36 710.59 1075.32C718.62 1086.27 731.77 1096.5 736.89 1106C742 1115.49 741.27 1123.53 741.27 1132.3C741.27 1141.06 741.27 1150.56 736.89 1158.59C732.5 1166.63 723.01 1175.76 714.97 1180.51C706.94 1185.26 697.44 1187.81 688.67 1187.08C679.91 1186.35 670.41 1180.87 662.38 1176.12C654.34 1171.38 648.5 1164.44 640.46 1158.59C632.43 1152.75 621.47 1146.17 614.16 1141.06C606.86 1135.95 602.48 1129.74 596.63 1127.91C590.79 1126.09 587.14 1131.56 579.1 1130.1C571.06 1128.64 558.65 1122.43 548.42 1119.15C538.19 1115.86 526.14 1113.3 517.74 1110.38C509.34 1107.46 502.03 1105.27 498.02 1101.61C494 1097.96 493.27 1094.31 493.63 1088.47Z"/></clipPath>
<path d="M493.63 1088.47C494 1082.62 496.92 1073.86 500.21 1066.55C503.49 1059.25 507.51 1053.04 513.36 1044.64C519.2 1036.24 526.51 1023.09 535.27 1016.15C544.04 1009.21 554.99 1007.16 565.95 1003C576.91 998.84 590.06 991.9 601.01 991.16C611.97 990.43 621.47 994.45 631.7 998.62C641.92 1002.78 652.88 1009.21 662.38 1016.15C671.87 1023.09 680.64 1030.39 688.67 1040.25C696.71 1050.12 702.55 1064.36 710.59 1075.32C718.62 1086.27 731.77 1096.5 736.89 1106C742 1115.49 741.27 1123.53 741.27 1132.3C741.27 1141.06 741.27 1150.56 736.89 1158.59C732.5 1166.63 723.01 1175.76 714.97 1180.51C706.94 1185.26 697.44 1187.81 688.67 1187.08C679.91 1186.35 670.41 1180.87 662.38 1176.12C654.34 1171.38 648.5 1164.44 640.46 1158.59C632.43 1152.75 621.47 1146.17 614.16 1141.06C606.86 1135.95 602.48 1129.74 596.63 1127.91C590.79 1126.09 587.14 1131.56 579.1 1130.1C571.06 1128.64 558.65 1122.43 548.42 1119.15C538.19 1115.86 526.14 1113.3 517.74 1110.38C509.34 1107.46 502.03 1105.27 498.02 1101.61C494 1097.96 493.27 1094.31 493.63 1088.47Z" fill="#2d23ba" filter="url(#lnedge)"/>
<g clip-path="url(#cl1)"><g filter="url(#lnblur)"><ellipse cx="557.19" cy="1066.55" rx="39.45" ry="26.3" fill="#a81e62" opacity="0.75" transform="rotate(15 557.19 1066.55)"/><ellipse cx="666.76" cy="1106" rx="56.98" ry="39.45" fill="#a81e62" opacity="0.8" transform="rotate(40 666.76 1106)"/><ellipse cx="618.55" cy="1075.32" rx="35.06" ry="26.3" fill="#a81e62" opacity="0.5" transform="rotate(30 618.55 1075.32)"/></g>
<path d="M493.63 1088.47C494 1082.62 496.92 1073.86 500.21 1066.55C503.49 1059.25 507.51 1053.04 513.36 1044.64C519.2 1036.24 526.51 1023.09 535.27 1016.15C544.04 1009.21 554.99 1007.16 565.95 1003C576.91 998.84 590.06 991.9 601.01 991.16C611.97 990.43 621.47 994.45 631.7 998.62C641.92 1002.78 652.88 1009.21 662.38 1016.15C671.87 1023.09 680.64 1030.39 688.67 1040.25C696.71 1050.12 702.55 1064.36 710.59 1075.32C718.62 1086.27 731.77 1096.5 736.89 1106C742 1115.49 741.27 1123.53 741.27 1132.3C741.27 1141.06 741.27 1150.56 736.89 1158.59C732.5 1166.63 723.01 1175.76 714.97 1180.51C706.94 1185.26 697.44 1187.81 688.67 1187.08C679.91 1186.35 670.41 1180.87 662.38 1176.12C654.34 1171.38 648.5 1164.44 640.46 1158.59C632.43 1152.75 621.47 1146.17 614.16 1141.06C606.86 1135.95 602.48 1129.74 596.63 1127.91C590.79 1126.09 587.14 1131.56 579.1 1130.1C571.06 1128.64 558.65 1122.43 548.42 1119.15C538.19 1115.86 526.14 1113.3 517.74 1110.38C509.34 1107.46 502.03 1105.27 498.02 1101.61C494 1097.96 493.27 1094.31 493.63 1088.47Z" fill="#080020" filter="url(#lntex)" opacity="0.42"/>
<path d="M493.63 1088.47C494 1082.62 496.92 1073.86 500.21 1066.55C503.49 1059.25 507.51 1053.04 513.36 1044.64C519.2 1036.24 526.51 1023.09 535.27 1016.15C544.04 1009.21 554.99 1007.16 565.95 1003C576.91 998.84 590.06 991.9 601.01 991.16C611.97 990.43 621.47 994.45 631.7 998.62C641.92 1002.78 652.88 1009.21 662.38 1016.15C671.87 1023.09 680.64 1030.39 688.67 1040.25C696.71 1050.12 702.55 1064.36 710.59 1075.32C718.62 1086.27 731.77 1096.5 736.89 1106C742 1115.49 741.27 1123.53 741.27 1132.3C741.27 1141.06 741.27 1150.56 736.89 1158.59C732.5 1166.63 723.01 1175.76 714.97 1180.51C706.94 1185.26 697.44 1187.81 688.67 1187.08C679.91 1186.35 670.41 1180.87 662.38 1176.12C654.34 1171.38 648.5 1164.44 640.46 1158.59C632.43 1152.75 621.47 1146.17 614.16 1141.06C606.86 1135.95 602.48 1129.74 596.63 1127.91C590.79 1126.09 587.14 1131.56 579.1 1130.1C571.06 1128.64 558.65 1122.43 548.42 1119.15C538.19 1115.86 526.14 1113.3 517.74 1110.38C509.34 1107.46 502.03 1105.27 498.02 1101.61C494 1097.96 493.27 1094.31 493.63 1088.47Z" fill="#c83a90" filter="url(#lntex2)" opacity="0.4"/>
</g>
<rect x="805.4" y="922.2" width="345.8" height="344.3" fill="#000"/>
<clipPath id="cl2"><path d="M836.98 1062.17C837.71 1051.94 840.63 1037.7 845.74 1027.1C850.86 1016.51 858.89 1006.29 867.66 998.62C876.42 990.95 888.84 985.1 898.34 981.08C907.84 977.07 915.14 974.88 924.64 974.51C934.13 974.14 946.55 975.97 955.32 978.89C964.08 981.81 969.93 987.66 977.23 992.04C984.54 996.42 990.38 1001.54 999.15 1005.19C1007.91 1008.84 1019.6 1010.3 1029.83 1013.96C1040.05 1017.61 1051.01 1021.26 1060.51 1027.1C1070 1032.95 1079.5 1040.98 1086.81 1049.02C1094.11 1057.05 1099.95 1065.82 1104.34 1075.32C1108.72 1084.81 1111.28 1095.77 1113.1 1106C1114.93 1116.22 1116.02 1125.72 1115.29 1136.68C1114.56 1147.64 1112.01 1161.51 1108.72 1171.74C1105.43 1181.97 1102.15 1191.46 1095.57 1198.04C1089 1204.61 1078.04 1209.73 1069.27 1211.19C1060.51 1212.65 1051.74 1209 1042.98 1206.81C1034.21 1204.61 1025.44 1202.42 1016.68 1198.04C1007.91 1193.66 997.69 1187.08 990.38 1180.51C983.08 1173.93 977.96 1166.63 972.85 1158.59C967.74 1150.56 964.81 1137.41 959.7 1132.3C954.59 1127.18 950.2 1125.36 942.17 1127.91C934.13 1130.47 920.98 1146.17 911.49 1147.64C901.99 1149.1 893.96 1142.16 885.19 1136.68C876.42 1131.2 866.2 1122.8 858.89 1114.76C851.59 1106.73 845.01 1097.23 841.36 1088.47C837.71 1079.7 836.25 1072.4 836.98 1062.17Z"/></clipPath>
<path d="M836.98 1062.17C837.71 1051.94 840.63 1037.7 845.74 1027.1C850.86 1016.51 858.89 1006.29 867.66 998.62C876.42 990.95 888.84 985.1 898.34 981.08C907.84 977.07 915.14 974.88 924.64 974.51C934.13 974.14 946.55 975.97 955.32 978.89C964.08 981.81 969.93 987.66 977.23 992.04C984.54 996.42 990.38 1001.54 999.15 1005.19C1007.91 1008.84 1019.6 1010.3 1029.83 1013.96C1040.05 1017.61 1051.01 1021.26 1060.51 1027.1C1070 1032.95 1079.5 1040.98 1086.81 1049.02C1094.11 1057.05 1099.95 1065.82 1104.34 1075.32C1108.72 1084.81 1111.28 1095.77 1113.1 1106C1114.93 1116.22 1116.02 1125.72 1115.29 1136.68C1114.56 1147.64 1112.01 1161.51 1108.72 1171.74C1105.43 1181.97 1102.15 1191.46 1095.57 1198.04C1089 1204.61 1078.04 1209.73 1069.27 1211.19C1060.51 1212.65 1051.74 1209 1042.98 1206.81C1034.21 1204.61 1025.44 1202.42 1016.68 1198.04C1007.91 1193.66 997.69 1187.08 990.38 1180.51C983.08 1173.93 977.96 1166.63 972.85 1158.59C967.74 1150.56 964.81 1137.41 959.7 1132.3C954.59 1127.18 950.2 1125.36 942.17 1127.91C934.13 1130.47 920.98 1146.17 911.49 1147.64C901.99 1149.1 893.96 1142.16 885.19 1136.68C876.42 1131.2 866.2 1122.8 858.89 1114.76C851.59 1106.73 845.01 1097.23 841.36 1088.47C837.71 1079.7 836.25 1072.4 836.98 1062.17Z" fill="#2d23ba" filter="url(#lnedge)"/>
<g clip-path="url(#cl2)"><g filter="url(#lnblur)"><ellipse cx="907.1" cy="1049.02" rx="48.21" ry="43.83" fill="#a81e62" opacity="0.7" transform="rotate(20 907.1 1049.02)"/><ellipse cx="1051.74" cy="1110.38" rx="48.21" ry="65.74" fill="#a81e62" opacity="0.75" transform="rotate(10 1051.74 1110.38)"/><ellipse cx="911.49" cy="1106" rx="30.68" ry="21.91" fill="#a81e62" opacity="0.4" transform="rotate(0 911.49 1106)"/></g>
<path d="M836.98 1062.17C837.71 1051.94 840.63 1037.7 845.74 1027.1C850.86 1016.51 858.89 1006.29 867.66 998.62C876.42 990.95 888.84 985.1 898.34 981.08C907.84 977.07 915.14 974.88 924.64 974.51C934.13 974.14 946.55 975.97 955.32 978.89C964.08 981.81 969.93 987.66 977.23 992.04C984.54 996.42 990.38 1001.54 999.15 1005.19C1007.91 1008.84 1019.6 1010.3 1029.83 1013.96C1040.05 1017.61 1051.01 1021.26 1060.51 1027.1C1070 1032.95 1079.5 1040.98 1086.81 1049.02C1094.11 1057.05 1099.95 1065.82 1104.34 1075.32C1108.72 1084.81 1111.28 1095.77 1113.1 1106C1114.93 1116.22 1116.02 1125.72 1115.29 1136.68C1114.56 1147.64 1112.01 1161.51 1108.72 1171.74C1105.43 1181.97 1102.15 1191.46 1095.57 1198.04C1089 1204.61 1078.04 1209.73 1069.27 1211.19C1060.51 1212.65 1051.74 1209 1042.98 1206.81C1034.21 1204.61 1025.44 1202.42 1016.68 1198.04C1007.91 1193.66 997.69 1187.08 990.38 1180.51C983.08 1173.93 977.96 1166.63 972.85 1158.59C967.74 1150.56 964.81 1137.41 959.7 1132.3C954.59 1127.18 950.2 1125.36 942.17 1127.91C934.13 1130.47 920.98 1146.17 911.49 1147.64C901.99 1149.1 893.96 1142.16 885.19 1136.68C876.42 1131.2 866.2 1122.8 858.89 1114.76C851.59 1106.73 845.01 1097.23 841.36 1088.47C837.71 1079.7 836.25 1072.4 836.98 1062.17Z" fill="#080020" filter="url(#lntex)" opacity="0.42"/>
<path d="M836.98 1062.17C837.71 1051.94 840.63 1037.7 845.74 1027.1C850.86 1016.51 858.89 1006.29 867.66 998.62C876.42 990.95 888.84 985.1 898.34 981.08C907.84 977.07 915.14 974.88 924.64 974.51C934.13 974.14 946.55 975.97 955.32 978.89C964.08 981.81 969.93 987.66 977.23 992.04C984.54 996.42 990.38 1001.54 999.15 1005.19C1007.91 1008.84 1019.6 1010.3 1029.83 1013.96C1040.05 1017.61 1051.01 1021.26 1060.51 1027.1C1070 1032.95 1079.5 1040.98 1086.81 1049.02C1094.11 1057.05 1099.95 1065.82 1104.34 1075.32C1108.72 1084.81 1111.28 1095.77 1113.1 1106C1114.93 1116.22 1116.02 1125.72 1115.29 1136.68C1114.56 1147.64 1112.01 1161.51 1108.72 1171.74C1105.43 1181.97 1102.15 1191.46 1095.57 1198.04C1089 1204.61 1078.04 1209.73 1069.27 1211.19C1060.51 1212.65 1051.74 1209 1042.98 1206.81C1034.21 1204.61 1025.44 1202.42 1016.68 1198.04C1007.91 1193.66 997.69 1187.08 990.38 1180.51C983.08 1173.93 977.96 1166.63 972.85 1158.59C967.74 1150.56 964.81 1137.41 959.7 1132.3C954.59 1127.18 950.2 1125.36 942.17 1127.91C934.13 1130.47 920.98 1146.17 911.49 1147.64C901.99 1149.1 893.96 1142.16 885.19 1136.68C876.42 1131.2 866.2 1122.8 858.89 1114.76C851.59 1106.73 845.01 1097.23 841.36 1088.47C837.71 1079.7 836.25 1072.4 836.98 1062.17Z" fill="#c83a90" filter="url(#lntex2)" opacity="0.4"/>
</g>
<rect x="1164.4" y="922.2" width="345.4" height="344.3" fill="#000"/>
<clipPath id="cl3"><path d="M1185.42 1084.08C1185.42 1074.59 1188.34 1063.63 1189.8 1053.4C1191.26 1043.18 1189.44 1030.76 1194.19 1022.72C1198.94 1014.69 1209.16 1011.03 1218.29 1005.19C1227.42 999.35 1238.02 992.04 1248.97 987.66C1259.93 983.28 1273.08 981.45 1284.04 978.89C1294.99 976.34 1303.76 973.05 1314.72 972.32C1325.67 971.59 1338.09 972.32 1349.78 974.51C1361.47 976.7 1373.89 980.72 1384.84 985.47C1395.8 990.22 1406.03 996.06 1415.52 1003C1425.02 1009.94 1434.52 1017.97 1441.82 1027.1C1449.13 1036.24 1454.97 1047.56 1459.35 1057.79C1463.74 1068.01 1464.47 1080.43 1468.12 1088.47C1471.77 1096.5 1478.71 1099.42 1481.27 1106C1483.83 1112.57 1484.92 1120.61 1483.46 1127.91C1482 1135.22 1476.52 1141.06 1472.5 1149.83C1468.49 1158.59 1465.2 1171.01 1459.35 1180.51C1453.51 1190 1446.94 1200.6 1437.44 1206.81C1427.94 1213.01 1414.79 1217.76 1402.38 1217.76C1389.96 1217.76 1375.35 1210.82 1362.93 1206.81C1350.51 1202.79 1338.82 1198.04 1327.87 1193.66C1316.91 1189.27 1308.14 1184.16 1297.19 1180.51C1286.23 1176.86 1273.81 1175.39 1262.12 1171.74C1250.43 1168.09 1237.29 1164.44 1227.06 1158.59C1216.83 1152.75 1206.97 1144.71 1200.76 1136.68C1194.55 1128.64 1192.36 1119.15 1189.8 1110.38C1187.25 1101.61 1185.42 1093.58 1185.42 1084.08Z"/></clipPath>
<path d="M1185.42 1084.08C1185.42 1074.59 1188.34 1063.63 1189.8 1053.4C1191.26 1043.18 1189.44 1030.76 1194.19 1022.72C1198.94 1014.69 1209.16 1011.03 1218.29 1005.19C1227.42 999.35 1238.02 992.04 1248.97 987.66C1259.93 983.28 1273.08 981.45 1284.04 978.89C1294.99 976.34 1303.76 973.05 1314.72 972.32C1325.67 971.59 1338.09 972.32 1349.78 974.51C1361.47 976.7 1373.89 980.72 1384.84 985.47C1395.8 990.22 1406.03 996.06 1415.52 1003C1425.02 1009.94 1434.52 1017.97 1441.82 1027.1C1449.13 1036.24 1454.97 1047.56 1459.35 1057.79C1463.74 1068.01 1464.47 1080.43 1468.12 1088.47C1471.77 1096.5 1478.71 1099.42 1481.27 1106C1483.83 1112.57 1484.92 1120.61 1483.46 1127.91C1482 1135.22 1476.52 1141.06 1472.5 1149.83C1468.49 1158.59 1465.2 1171.01 1459.35 1180.51C1453.51 1190 1446.94 1200.6 1437.44 1206.81C1427.94 1213.01 1414.79 1217.76 1402.38 1217.76C1389.96 1217.76 1375.35 1210.82 1362.93 1206.81C1350.51 1202.79 1338.82 1198.04 1327.87 1193.66C1316.91 1189.27 1308.14 1184.16 1297.19 1180.51C1286.23 1176.86 1273.81 1175.39 1262.12 1171.74C1250.43 1168.09 1237.29 1164.44 1227.06 1158.59C1216.83 1152.75 1206.97 1144.71 1200.76 1136.68C1194.55 1128.64 1192.36 1119.15 1189.8 1110.38C1187.25 1101.61 1185.42 1093.58 1185.42 1084.08Z" fill="#2d23ba" filter="url(#lnedge)"/>
<g clip-path="url(#cl3)"><g filter="url(#lnblur)"><ellipse cx="1389.23" cy="1097.23" rx="65.74" ry="78.89" fill="#a81e62" opacity="0.85" transform="rotate(15 1389.23 1097.23)"/><ellipse cx="1284.04" cy="1106" rx="52.6" ry="43.83" fill="#a81e62" opacity="0.6" transform="rotate(0 1284.04 1106)"/><ellipse cx="1327.87" cy="1162.98" rx="65.74" ry="26.3" fill="#a81e62" opacity="0.6" transform="rotate(15 1327.87 1162.98)"/><ellipse cx="1305.95" cy="1031.49" rx="35.06" ry="21.91" fill="#a81e62" opacity="0.35" transform="rotate(0 1305.95 1031.49)"/></g>
<path d="M1185.42 1084.08C1185.42 1074.59 1188.34 1063.63 1189.8 1053.4C1191.26 1043.18 1189.44 1030.76 1194.19 1022.72C1198.94 1014.69 1209.16 1011.03 1218.29 1005.19C1227.42 999.35 1238.02 992.04 1248.97 987.66C1259.93 983.28 1273.08 981.45 1284.04 978.89C1294.99 976.34 1303.76 973.05 1314.72 972.32C1325.67 971.59 1338.09 972.32 1349.78 974.51C1361.47 976.7 1373.89 980.72 1384.84 985.47C1395.8 990.22 1406.03 996.06 1415.52 1003C1425.02 1009.94 1434.52 1017.97 1441.82 1027.1C1449.13 1036.24 1454.97 1047.56 1459.35 1057.79C1463.74 1068.01 1464.47 1080.43 1468.12 1088.47C1471.77 1096.5 1478.71 1099.42 1481.27 1106C1483.83 1112.57 1484.92 1120.61 1483.46 1127.91C1482 1135.22 1476.52 1141.06 1472.5 1149.83C1468.49 1158.59 1465.2 1171.01 1459.35 1180.51C1453.51 1190 1446.94 1200.6 1437.44 1206.81C1427.94 1213.01 1414.79 1217.76 1402.38 1217.76C1389.96 1217.76 1375.35 1210.82 1362.93 1206.81C1350.51 1202.79 1338.82 1198.04 1327.87 1193.66C1316.91 1189.27 1308.14 1184.16 1297.19 1180.51C1286.23 1176.86 1273.81 1175.39 1262.12 1171.74C1250.43 1168.09 1237.29 1164.44 1227.06 1158.59C1216.83 1152.75 1206.97 1144.71 1200.76 1136.68C1194.55 1128.64 1192.36 1119.15 1189.8 1110.38C1187.25 1101.61 1185.42 1093.58 1185.42 1084.08Z" fill="#080020" filter="url(#lntex)" opacity="0.42"/>
<path d="M1185.42 1084.08C1185.42 1074.59 1188.34 1063.63 1189.8 1053.4C1191.26 1043.18 1189.44 1030.76 1194.19 1022.72C1198.94 1014.69 1209.16 1011.03 1218.29 1005.19C1227.42 999.35 1238.02 992.04 1248.97 987.66C1259.93 983.28 1273.08 981.45 1284.04 978.89C1294.99 976.34 1303.76 973.05 1314.72 972.32C1325.67 971.59 1338.09 972.32 1349.78 974.51C1361.47 976.7 1373.89 980.72 1384.84 985.47C1395.8 990.22 1406.03 996.06 1415.52 1003C1425.02 1009.94 1434.52 1017.97 1441.82 1027.1C1449.13 1036.24 1454.97 1047.56 1459.35 1057.79C1463.74 1068.01 1464.47 1080.43 1468.12 1088.47C1471.77 1096.5 1478.71 1099.42 1481.27 1106C1483.83 1112.57 1484.92 1120.61 1483.46 1127.91C1482 1135.22 1476.52 1141.06 1472.5 1149.83C1468.49 1158.59 1465.2 1171.01 1459.35 1180.51C1453.51 1190 1446.94 1200.6 1437.44 1206.81C1427.94 1213.01 1414.79 1217.76 1402.38 1217.76C1389.96 1217.76 1375.35 1210.82 1362.93 1206.81C1350.51 1202.79 1338.82 1198.04 1327.87 1193.66C1316.91 1189.27 1308.14 1184.16 1297.19 1180.51C1286.23 1176.86 1273.81 1175.39 1262.12 1171.74C1250.43 1168.09 1237.29 1164.44 1227.06 1158.59C1216.83 1152.75 1206.97 1144.71 1200.76 1136.68C1194.55 1128.64 1192.36 1119.15 1189.8 1110.38C1187.25 1101.61 1185.42 1093.58 1185.42 1084.08Z" fill="#c83a90" filter="url(#lntex2)" opacity="0.4"/>
</g>
<text transform="translate(252.6 961.4) scale(1 1.04)" font-size="31.3" text-anchor="middle" fill="#a6a6a6">PBS</text>
<text transform="translate(616.4 961.4) scale(1 1.04)" font-size="31.3" text-anchor="middle" fill="#f57e12">LN-TCV</text>
<text transform="translate(983 961.4) scale(1 1.04)" font-size="31.3" text-anchor="middle" fill="#8f8ff5">LN-TCV+L</text>
<text transform="translate(1345.4 961.4) scale(1 1.04)" font-size="31.3" text-anchor="middle" fill="#f0557f">LN-TCV+2L</text>
<rect x="1429.6" y="1246.9" width="60.9" height="5" fill="#fff"/>
<text transform="translate(1456.5 1240.5) scale(1 1.04)" font-size="26" text-anchor="middle" font-weight="bold" fill="#fff">1 mm</text>
<text font-size="31.3" font-weight="bold" transform="translate(79 1265.5) rotate(-90) scale(1 1.04)"><tspan fill="#0000e6">DAPI</tspan><tspan fill="#000">/</tspan><tspan fill="#ff0000">CD8</tspan></text>
<g><path d="M1691.6 407.8V339.5H1745V407.8" fill="none" stroke="#666666" stroke-width="2.6"/>
<path d="M1784.3 407.8V243.8H1837.7V407.8" fill="none" stroke="#F89B3F" stroke-width="2.6"/>
<path d="M1876.5 407.8V193.1H1929.9V407.8" fill="none" stroke="#9595F7" stroke-width="2.6"/>
<path d="M1969 407.8V138.8H2022.4V407.8" fill="none" stroke="#F6608F" stroke-width="2.6"/>
<circle cx="1700" cy="332.9" r="5.6" fill="#666666"/>
<circle cx="1719" cy="339.5" r="5.6" fill="#666666"/>
<circle cx="1737.8" cy="346.4" r="5.6" fill="#666666"/>
<circle cx="1792.5" cy="236.5" r="5.6" fill="#F89B3F"/>
<circle cx="1811" cy="243" r="5.6" fill="#F89B3F"/>
<circle cx="1830" cy="249" r="5.6" fill="#F89B3F"/>
<circle cx="1890" cy="188.5" r="5.6" fill="#9595F7"/>
<circle cx="1903.5" cy="181" r="5.6" fill="#9595F7"/>
<circle cx="1918.5" cy="205.5" r="5.6" fill="#9595F7"/>
<circle cx="1977.5" cy="129.5" r="5.6" fill="#F6608F"/>
<circle cx="1996" cy="137" r="5.6" fill="#F6608F"/>
<circle cx="2015" cy="147" r="5.6" fill="#F6608F"/>
<path d="M1705 333.2H1732.6M1705 344.6H1732.6M1718.8 333.2V344.6" fill="none" stroke="#000" stroke-width="2.6"/>
<path d="M1797.5 236.8H1825.1M1797.5 248.2H1825.1M1811.3 236.8V248.2" fill="none" stroke="#000" stroke-width="2.6"/>
<path d="M1890 180H1917.6M1890 203.8H1917.6M1903.8 180V203.8" fill="none" stroke="#000" stroke-width="2.6"/>
<path d="M1982.5 128.2H2010.1M1982.5 146.2H2010.1M1996.3 128.2V146.2" fill="none" stroke="#000" stroke-width="2.6"/>
<line x1="1661.6" y1="36" x2="1661.6" y2="409.3" stroke="#000" stroke-width="3"/>
<line x1="1643.4" y1="407.8" x2="2046" y2="407.8" stroke="#000" stroke-width="3"/>
<line x1="1643.4" y1="37.5" x2="1661.6" y2="37.5" stroke="#000" stroke-width="3"/>
<text transform="translate(1636.5 48.6) scale(1 1.04)" font-size="31" text-anchor="end">0.4</text>
<line x1="1643.4" y1="130.1" x2="1661.6" y2="130.1" stroke="#000" stroke-width="3"/>
<text transform="translate(1636.5 141.2) scale(1 1.04)" font-size="31" text-anchor="end">0.3</text>
<line x1="1643.4" y1="222.8" x2="1661.6" y2="222.8" stroke="#000" stroke-width="3"/>
<text transform="translate(1636.5 233.9) scale(1 1.04)" font-size="31" text-anchor="end">0.2</text>
<line x1="1643.4" y1="315.2" x2="1661.6" y2="315.2" stroke="#000" stroke-width="3"/>
<text transform="translate(1636.5 326.3) scale(1 1.04)" font-size="31" text-anchor="end">0.1</text>
<line x1="1643.4" y1="407.8" x2="1661.6" y2="407.8" stroke="#000" stroke-width="3"/>
<text transform="translate(1636.5 418.9) scale(1 1.04)" font-size="31" text-anchor="end">0.0</text>
<line x1="1718.3" y1="407.8" x2="1718.3" y2="425.1" stroke="#000" stroke-width="3"/>
<line x1="1811" y1="407.8" x2="1811" y2="425.1" stroke="#000" stroke-width="3"/>
<line x1="1903.2" y1="407.8" x2="1903.2" y2="425.1" stroke="#000" stroke-width="3"/>
<line x1="1995.7" y1="407.8" x2="1995.7" y2="425.1" stroke="#000" stroke-width="3"/>
<path d="M1715.3 227.3V212.9H1809.5V227.3" fill="none" stroke="#000" stroke-width="1.6"/>
<text transform="translate(1701.5 204.5) scale(1 1.04)" font-size="26.7">P&lt;0.0001</text>
<path d="M1807.4 171V155.3H1902.8V171" fill="none" stroke="#000" stroke-width="1.6"/>
<text transform="translate(1791 148.5) scale(1 1.04)" font-size="26.7">P=0.0004</text>
<path d="M1903.7 117.6V102.6H1995.7V117.6" fill="none" stroke="#000" stroke-width="1.6"/>
<text transform="translate(1890.5 97.5) scale(1 1.04)" font-size="26.7">P=0.0002</text>
<path d="M1808.9 66.6V51.6H1995.7V66.6" fill="none" stroke="#000" stroke-width="1.6"/>
<text transform="translate(1841.5 45) scale(1 1.04)" font-size="26.7">P&lt;0.0001</text>
<text transform="translate(1573 231) rotate(-90) scale(1 1.04)" font-size="31.3" text-anchor="middle" letter-spacing="0.4">PA signal (a.u.)</text></g>
<g><path d="M1690.7 822.2V734.5H1744.1V822.2" fill="none" stroke="#666666" stroke-width="2.6"/>
<path d="M1779.8 822.2V680.2H1833.2V822.2" fill="none" stroke="#F89B3F" stroke-width="2.6"/>
<path d="M1869.2 822.2V624.1H1922.6V822.2" fill="none" stroke="#9595F7" stroke-width="2.6"/>
<path d="M1959.1 822.2V580.4H2012.5V822.2" fill="none" stroke="#F6608F" stroke-width="2.6"/>
<circle cx="1698.8" cy="728.3" r="5.6" fill="#666666"/>
<circle cx="1717.4" cy="730.4" r="5.6" fill="#666666"/>
<circle cx="1736.3" cy="740.9" r="5.6" fill="#666666"/>
<circle cx="1793.3" cy="679.4" r="5.6" fill="#F89B3F"/>
<circle cx="1806.5" cy="668" r="5.6" fill="#F89B3F"/>
<circle cx="1820.3" cy="689" r="5.6" fill="#F89B3F"/>
<circle cx="1882.4" cy="629" r="5.6" fill="#9595F7"/>
<circle cx="1896.5" cy="609" r="5.6" fill="#9595F7"/>
<circle cx="1910.3" cy="630" r="5.6" fill="#9595F7"/>
<circle cx="1967.8" cy="572" r="5.6" fill="#F6608F"/>
<circle cx="1985.8" cy="578.4" r="5.6" fill="#F6608F"/>
<circle cx="2004.7" cy="584.3" r="5.6" fill="#F6608F"/>
<path d="M1703.6 725.3H1731.2M1703.6 740.3H1731.2M1717.4 725.3V740.3" fill="none" stroke="#000" stroke-width="2.6"/>
<path d="M1792.7 668H1820.3M1792.7 689H1820.3M1806.5 668V689" fill="none" stroke="#000" stroke-width="2.6"/>
<path d="M1882.1 610.4H1909.7M1882.1 633.5H1909.7M1895.9 610.4V633.5" fill="none" stroke="#000" stroke-width="2.6"/>
<path d="M1972 571.5H1999.6M1972 584.3H1999.6M1985.8 571.5V584.3" fill="none" stroke="#000" stroke-width="2.6"/>
<line x1="1661.6" y1="489" x2="1661.6" y2="823.7" stroke="#000" stroke-width="3"/>
<line x1="1643.4" y1="822.2" x2="2046" y2="822.2" stroke="#000" stroke-width="3"/>
<line x1="1643.4" y1="490.5" x2="1661.6" y2="490.5" stroke="#000" stroke-width="3"/>
<text transform="translate(1636.5 501.6) scale(1 1.04)" font-size="31" text-anchor="end">40.0</text>
<line x1="1643.4" y1="573.6" x2="1661.6" y2="573.6" stroke="#000" stroke-width="3"/>
<text transform="translate(1636.5 584.7) scale(1 1.04)" font-size="31" text-anchor="end">30.0</text>
<line x1="1643.4" y1="656.3" x2="1661.6" y2="656.3" stroke="#000" stroke-width="3"/>
<text transform="translate(1636.5 667.4) scale(1 1.04)" font-size="31" text-anchor="end">20.0</text>
<line x1="1643.4" y1="739.4" x2="1661.6" y2="739.4" stroke="#000" stroke-width="3"/>
<text transform="translate(1636.5 750.5) scale(1 1.04)" font-size="31" text-anchor="end">10.0</text>
<line x1="1643.4" y1="822.2" x2="1661.6" y2="822.2" stroke="#000" stroke-width="3"/>
<text transform="translate(1636.5 833.3) scale(1 1.04)" font-size="31" text-anchor="end">0.0</text>
<line x1="1717.4" y1="822.2" x2="1717.4" y2="839.5" stroke="#000" stroke-width="3"/>
<line x1="1806.5" y1="822.2" x2="1806.5" y2="839.5" stroke="#000" stroke-width="3"/>
<line x1="1895.9" y1="822.2" x2="1895.9" y2="839.5" stroke="#000" stroke-width="3"/>
<line x1="1985.8" y1="822.2" x2="1985.8" y2="839.5" stroke="#000" stroke-width="3"/>
<path d="M1713.8 660V645.2H1802.9V660" fill="none" stroke="#000" stroke-width="1.6"/>
<text transform="translate(1700.3 639) scale(1 1.04)" font-size="26.7">P=0.0004</text>
<path d="M1808.3 599.3V585H1898V599.3" fill="none" stroke="#000" stroke-width="1.6"/>
<text transform="translate(1792.4 580.5) scale(1 1.04)" font-size="26.7">P=0.0003</text>
<path d="M1896.5 552V537H1986.7V552" fill="none" stroke="#000" stroke-width="1.6"/>
<text transform="translate(1881.5 532.5) scale(1 1.04)" font-size="26.7">P=0.0015</text>
<path d="M1802.3 509.4V494.4H1984.3V509.4" fill="none" stroke="#000" stroke-width="1.6"/>
<text transform="translate(1834.4 488) scale(1 1.04)" font-size="26.7">P&lt;0.0001</text>
<text transform="translate(1563 666) rotate(-90) scale(1 1.04)" font-size="31.3" text-anchor="middle" letter-spacing="0.4">% CD80<tspan font-size="23" dy="-12.5">+</tspan><tspan dy="12.5">CD86</tspan><tspan font-size="23" dy="-12.5">+</tspan><tspan dy="12.5"> in CD11c</tspan><tspan font-size="23" dy="-12.5">+</tspan></text></g>
<g><path d="M1690.7 1261.4V1231.6H1744.1V1261.4" fill="none" stroke="#666666" stroke-width="2.6"/>
<path d="M1779.8 1261.4V1143.1H1833.2V1261.4" fill="none" stroke="#F89B3F" stroke-width="2.6"/>
<path d="M1869.2 1261.4V1072.6H1922.6V1261.4" fill="none" stroke="#9595F7" stroke-width="2.6"/>
<path d="M1959.1 1261.4V996.2H2012.5V1261.4" fill="none" stroke="#F6608F" stroke-width="2.6"/>
<circle cx="1699.4" cy="1223.9" r="5.6" fill="#666666"/>
<circle cx="1718" cy="1231.4" r="5.6" fill="#666666"/>
<circle cx="1736.3" cy="1233.8" r="5.6" fill="#666666"/>
<circle cx="1788.8" cy="1130.9" r="5.6" fill="#F89B3F"/>
<circle cx="1807.4" cy="1142.9" r="5.6" fill="#F89B3F"/>
<circle cx="1826" cy="1147.4" r="5.6" fill="#F89B3F"/>
<circle cx="1883.3" cy="1076" r="5.6" fill="#9595F7"/>
<circle cx="1897" cy="1052.3" r="5.6" fill="#9595F7"/>
<circle cx="1910.9" cy="1083.5" r="5.6" fill="#9595F7"/>
<circle cx="1972.6" cy="994.5" r="5.6" fill="#F6608F"/>
<circle cx="1986.4" cy="981.6" r="5.6" fill="#F6608F"/>
<circle cx="2000.8" cy="1007" r="5.6" fill="#F6608F"/>
<path d="M1703.6 1224.8H1731.2M1703.6 1235H1731.2M1717.4 1224.8V1235" fill="none" stroke="#000" stroke-width="2.6"/>
<path d="M1792.7 1131.8H1820.3M1792.7 1149.5H1820.3M1806.5 1131.8V1149.5" fill="none" stroke="#000" stroke-width="2.6"/>
<path d="M1882.1 1055.3H1909.7M1882.1 1085.9H1909.7M1895.9 1055.3V1085.9" fill="none" stroke="#000" stroke-width="2.6"/>
<path d="M1972 981.9H1999.6M1972 1007H1999.6M1985.8 981.9V1007" fill="none" stroke="#000" stroke-width="2.6"/>
<line x1="1661.6" y1="929.4" x2="1661.6" y2="1262.9" stroke="#000" stroke-width="3"/>
<line x1="1643.4" y1="1261.4" x2="2046" y2="1261.4" stroke="#000" stroke-width="3"/>
<line x1="1643.4" y1="930.9" x2="1661.6" y2="930.9" stroke="#000" stroke-width="3"/>
<text transform="translate(1636.5 942) scale(1 1.04)" font-size="31" text-anchor="end">100.0</text>
<line x1="1643.4" y1="996.9" x2="1661.6" y2="996.9" stroke="#000" stroke-width="3"/>
<text transform="translate(1636.5 1008) scale(1 1.04)" font-size="31" text-anchor="end">80.0</text>
<line x1="1643.4" y1="1062.8" x2="1661.6" y2="1062.8" stroke="#000" stroke-width="3"/>
<text transform="translate(1636.5 1073.9) scale(1 1.04)" font-size="31" text-anchor="end">60.0</text>
<line x1="1643.4" y1="1129.1" x2="1661.6" y2="1129.1" stroke="#000" stroke-width="3"/>
<text transform="translate(1636.5 1140.2) scale(1 1.04)" font-size="31" text-anchor="end">40.0</text>
<line x1="1643.4" y1="1195.1" x2="1661.6" y2="1195.1" stroke="#000" stroke-width="3"/>
<text transform="translate(1636.5 1206.2) scale(1 1.04)" font-size="31" text-anchor="end">20.0</text>
<line x1="1643.4" y1="1261.4" x2="1661.6" y2="1261.4" stroke="#000" stroke-width="3"/>
<text transform="translate(1636.5 1272.5) scale(1 1.04)" font-size="31" text-anchor="end">0.0</text>
<line x1="1651.1" y1="963.9" x2="1661.6" y2="963.9" stroke="#000" stroke-width="3"/>
<line x1="1651.1" y1="1029.9" x2="1661.6" y2="1029.9" stroke="#000" stroke-width="3"/>
<line x1="1651.1" y1="1096" x2="1661.6" y2="1096" stroke="#000" stroke-width="3"/>
<line x1="1651.1" y1="1162.1" x2="1661.6" y2="1162.1" stroke="#000" stroke-width="3"/>
<line x1="1651.1" y1="1228.2" x2="1661.6" y2="1228.2" stroke="#000" stroke-width="3"/>
<line x1="1717.4" y1="1261.4" x2="1717.4" y2="1278.7" stroke="#000" stroke-width="3"/>
<line x1="1806.5" y1="1261.4" x2="1806.5" y2="1278.7" stroke="#000" stroke-width="3"/>
<line x1="1895.9" y1="1261.4" x2="1895.9" y2="1278.7" stroke="#000" stroke-width="3"/>
<line x1="1985.8" y1="1261.4" x2="1985.8" y2="1278.7" stroke="#000" stroke-width="3"/>
<path d="M1716.8 1125.8V1110.5H1808.3V1125.8" fill="none" stroke="#000" stroke-width="1.6"/>
<text transform="translate(1707.5 1100.9) scale(1 1.04)" font-size="26.7">P&lt;0.0001</text>
<path d="M1806.5 1042.4V1026.8H1898V1042.4" fill="none" stroke="#000" stroke-width="1.6"/>
<text transform="translate(1795.7 1020.5) scale(1 1.04)" font-size="26.7">P=0.0003</text>
<path d="M1897.4 972V957H1988.2V972" fill="none" stroke="#000" stroke-width="1.6"/>
<text transform="translate(1886.9 951.6) scale(1 1.04)" font-size="26.7">P=0.0002</text>
<path d="M1806.5 926V910.5H1988.2V926" fill="none" stroke="#000" stroke-width="1.6"/>
<text transform="translate(1843.4 905) scale(1 1.04)" font-size="26.7">P&lt;0.0001</text>
<text transform="translate(1557 1101.6) rotate(-90) scale(1 1.04)" font-size="31.3" text-anchor="middle" letter-spacing="0.4">Flu. int. (× 10<tspan font-size="23" dy="-12.5">4</tspan><tspan dy="12.5">)</tspan></text></g>
<g><path d="M1690.7 1665.8V1626.7H1744.1V1665.8" fill="none" stroke="#666666" stroke-width="2.6"/>
<path d="M1779.8 1665.8V1569.1H1833.2V1665.8" fill="none" stroke="#F89B3F" stroke-width="2.6"/>
<path d="M1869.2 1665.8V1519.3H1922.6V1665.8" fill="none" stroke="#9595F7" stroke-width="2.6"/>
<path d="M1959.1 1665.8V1440.8H2012.5V1665.8" fill="none" stroke="#F6608F" stroke-width="2.6"/>
<circle cx="1699.4" cy="1617.8" r="5.6" fill="#666666"/>
<circle cx="1717.4" cy="1623.5" r="5.6" fill="#666666"/>
<circle cx="1736.3" cy="1632.5" r="5.6" fill="#666666"/>
<circle cx="1788.5" cy="1560.8" r="5.6" fill="#F89B3F"/>
<circle cx="1806.8" cy="1567.4" r="5.6" fill="#F89B3F"/>
<circle cx="1825.4" cy="1574" r="5.6" fill="#F89B3F"/>
<circle cx="1882.7" cy="1515.5" r="5.6" fill="#9595F7"/>
<circle cx="1897" cy="1501.4" r="5.6" fill="#9595F7"/>
<circle cx="1910.9" cy="1533.5" r="5.6" fill="#9595F7"/>
<circle cx="1972" cy="1445.9" r="5.6" fill="#F6608F"/>
<circle cx="1986.4" cy="1416" r="5.6" fill="#F6608F"/>
<circle cx="2000.8" cy="1455" r="5.6" fill="#F6608F"/>
<path d="M1703.6 1617.5H1731.2M1703.6 1631.9H1731.2M1717.4 1617.5V1631.9" fill="none" stroke="#000" stroke-width="2.6"/>
<path d="M1792.7 1559.9H1820.3M1792.7 1573.7H1820.3M1806.5 1559.9V1573.7" fill="none" stroke="#000" stroke-width="2.6"/>
<path d="M1882.1 1500.8H1909.7M1882.1 1532.9H1909.7M1895.9 1500.8V1532.9" fill="none" stroke="#000" stroke-width="2.6"/>
<path d="M1972 1418.4H1999.6M1972 1459.7H1999.6M1985.8 1418.4V1459.7" fill="none" stroke="#000" stroke-width="2.6"/>
<line x1="1661.6" y1="1334.1" x2="1661.6" y2="1667.3" stroke="#000" stroke-width="3"/>
<line x1="1643.4" y1="1665.8" x2="2046" y2="1665.8" stroke="#000" stroke-width="3"/>
<line x1="1643.4" y1="1335.6" x2="1661.6" y2="1335.6" stroke="#000" stroke-width="3"/>
<text transform="translate(1636.5 1346.7) scale(1 1.04)" font-size="31" text-anchor="end">25.0</text>
<line x1="1643.4" y1="1401.6" x2="1661.6" y2="1401.6" stroke="#000" stroke-width="3"/>
<text transform="translate(1636.5 1412.7) scale(1 1.04)" font-size="31" text-anchor="end">20.0</text>
<line x1="1643.4" y1="1467.8" x2="1661.6" y2="1467.8" stroke="#000" stroke-width="3"/>
<text transform="translate(1636.5 1478.9) scale(1 1.04)" font-size="31" text-anchor="end">15.0</text>
<line x1="1643.4" y1="1534.1" x2="1661.6" y2="1534.1" stroke="#000" stroke-width="3"/>
<text transform="translate(1636.5 1545.2) scale(1 1.04)" font-size="31" text-anchor="end">10.0</text>
<line x1="1643.4" y1="1600.4" x2="1661.6" y2="1600.4" stroke="#000" stroke-width="3"/>
<text transform="translate(1636.5 1611.5) scale(1 1.04)" font-size="31" text-anchor="end">5.0</text>
<line x1="1643.4" y1="1665.8" x2="1661.6" y2="1665.8" stroke="#000" stroke-width="3"/>
<text transform="translate(1636.5 1676.9) scale(1 1.04)" font-size="31" text-anchor="end">0.0</text>
<line x1="1717.4" y1="1665.8" x2="1717.4" y2="1683.1" stroke="#000" stroke-width="3"/>
<line x1="1806.5" y1="1665.8" x2="1806.5" y2="1683.1" stroke="#000" stroke-width="3"/>
<line x1="1895.9" y1="1665.8" x2="1895.9" y2="1683.1" stroke="#000" stroke-width="3"/>
<line x1="1985.8" y1="1665.8" x2="1985.8" y2="1683.1" stroke="#000" stroke-width="3"/>
<path d="M1718.3 1552.7V1537.1H1808.9V1552.7" fill="none" stroke="#000" stroke-width="1.6"/>
<text transform="translate(1707.5 1530.8) scale(1 1.04)" font-size="26.7">P=0.0043</text>
<path d="M1808.9 1480.4V1464.8H1898V1480.4" fill="none" stroke="#000" stroke-width="1.6"/>
<text transform="translate(1796.9 1457) scale(1 1.04)" font-size="26.7">P=0.0097</text>
<path d="M1897.4 1401.9V1386.6H1988.8V1401.9" fill="none" stroke="#000" stroke-width="1.6"/>
<text transform="translate(1886.9 1380.6) scale(1 1.04)" font-size="26.7">P=0.0006</text>
<path d="M1808.9 1355.4V1338.9H1989.7V1355.4" fill="none" stroke="#000" stroke-width="1.6"/>
<text transform="translate(1839.5 1334.4) scale(1 1.04)" font-size="26.7">P&lt;0.0001</text>
<text transform="translate(1569 1512) rotate(-90) scale(1 1.04)" font-size="31.3" text-anchor="middle" letter-spacing="0.4">% IFN-γ producing CD8<tspan font-size="23" dy="-12.5">+</tspan><tspan dy="12.5">T</tspan></text></g>
<g><path d="M1690.7 2084.6V2054.2H1744.1V2084.6" fill="none" stroke="#666666" stroke-width="2.6"/>
<path d="M1779.8 2084.6V1990.6H1833.2V2084.6" fill="none" stroke="#F89B3F" stroke-width="2.6"/>
<path d="M1869.2 2084.6V1933.6H1922.6V2084.6" fill="none" stroke="#9595F7" stroke-width="2.6"/>
<path d="M1959.1 2084.6V1855.9H2012.5V2084.6" fill="none" stroke="#F6608F" stroke-width="2.6"/>
<circle cx="1699.4" cy="2043.5" r="5.6" fill="#666666"/>
<circle cx="1718" cy="2054" r="5.6" fill="#666666"/>
<circle cx="1736.3" cy="2057.9" r="5.6" fill="#666666"/>
<circle cx="1788.5" cy="1979.9" r="5.6" fill="#F89B3F"/>
<circle cx="1806.8" cy="1992.5" r="5.6" fill="#F89B3F"/>
<circle cx="1826" cy="1993.4" r="5.6" fill="#F89B3F"/>
<circle cx="1877.9" cy="1923.8" r="5.6" fill="#9595F7"/>
<circle cx="1896.5" cy="1932.8" r="5.6" fill="#9595F7"/>
<circle cx="1916" cy="1939.4" r="5.6" fill="#9595F7"/>
<circle cx="1972.6" cy="1836.9" r="5.6" fill="#F6608F"/>
<circle cx="1986.4" cy="1876.4" r="5.6" fill="#F6608F"/>
<circle cx="2000.8" cy="1847.9" r="5.6" fill="#F6608F"/>
<path d="M1703.6 2044.4H1731.2M1703.6 2058.8H1731.2M1717.4 2044.4V2058.8" fill="none" stroke="#000" stroke-width="2.6"/>
<path d="M1792.7 1980.8H1820.3M1792.7 1995.5H1820.3M1806.5 1980.8V1995.5" fill="none" stroke="#000" stroke-width="2.6"/>
<path d="M1882.1 1923.8H1909.7M1882.1 1939.4H1909.7M1895.9 1923.8V1939.4" fill="none" stroke="#000" stroke-width="2.6"/>
<path d="M1972 1833.6H1999.6M1972 1874.3H1999.6M1985.8 1833.6V1874.3" fill="none" stroke="#000" stroke-width="2.6"/>
<line x1="1661.6" y1="1752.9" x2="1661.6" y2="2086.1" stroke="#000" stroke-width="3"/>
<line x1="1643.4" y1="2084.6" x2="2046" y2="2084.6" stroke="#000" stroke-width="3"/>
<line x1="1643.4" y1="1754.4" x2="1661.6" y2="1754.4" stroke="#000" stroke-width="3"/>
<text transform="translate(1636.5 1765.5) scale(1 1.04)" font-size="31" text-anchor="end">25.0</text>
<line x1="1643.4" y1="1820.4" x2="1661.6" y2="1820.4" stroke="#000" stroke-width="3"/>
<text transform="translate(1636.5 1831.5) scale(1 1.04)" font-size="31" text-anchor="end">20.0</text>
<line x1="1643.4" y1="1886.9" x2="1661.6" y2="1886.9" stroke="#000" stroke-width="3"/>
<text transform="translate(1636.5 1898) scale(1 1.04)" font-size="31" text-anchor="end">15.0</text>
<line x1="1643.4" y1="1952.9" x2="1661.6" y2="1952.9" stroke="#000" stroke-width="3"/>
<text transform="translate(1636.5 1964) scale(1 1.04)" font-size="31" text-anchor="end">10.0</text>
<line x1="1643.4" y1="2018.9" x2="1661.6" y2="2018.9" stroke="#000" stroke-width="3"/>
<text transform="translate(1636.5 2030) scale(1 1.04)" font-size="31" text-anchor="end">5.0</text>
<line x1="1643.4" y1="2084.6" x2="1661.6" y2="2084.6" stroke="#000" stroke-width="3"/>
<text transform="translate(1636.5 2095.7) scale(1 1.04)" font-size="31" text-anchor="end">0.0</text>
<line x1="1717.4" y1="2084.6" x2="1717.4" y2="2101.9" stroke="#000" stroke-width="3"/>
<line x1="1806.5" y1="2084.6" x2="1806.5" y2="2101.9" stroke="#000" stroke-width="3"/>
<line x1="1895.9" y1="2084.6" x2="1895.9" y2="2101.9" stroke="#000" stroke-width="3"/>
<line x1="1985.8" y1="2084.6" x2="1985.8" y2="2101.9" stroke="#000" stroke-width="3"/>
<path d="M1717.4 1969.4V1954.4H1809.5V1969.4" fill="none" stroke="#000" stroke-width="1.6"/>
<text transform="translate(1704.5 1946.9) scale(1 1.04)" font-size="26.7">P=0.0010</text>
<path d="M1807.4 1900.4V1884.5H1898.9V1900.4" fill="none" stroke="#000" stroke-width="1.6"/>
<text transform="translate(1793 1877.3) scale(1 1.04)" font-size="26.7">P=0.0020</text>
<path d="M1898.3 1824.6V1809H1989.4V1824.6" fill="none" stroke="#000" stroke-width="1.6"/>
<text transform="translate(1888.4 1803.6) scale(1 1.04)" font-size="26.7">P=0.0002</text>
<path d="M1807.4 1778.4V1763.1H1988.8V1778.4" fill="none" stroke="#000" stroke-width="1.6"/>
<text transform="translate(1838 1757) scale(1 1.04)" font-size="26.7">P&lt;0.0001</text>
<text transform="translate(1569 1926) rotate(-90) scale(1 1.04)" font-size="31.3" text-anchor="middle" letter-spacing="0.4">% GrB producing CD8<tspan font-size="23" dy="-12.5">+</tspan><tspan dy="12.5">T</tspan></text></g>
<text transform="translate(395 2208.8) scale(1 1.04)" font-size="31.3" text-anchor="middle" fill="#595959">PBS</text>
<text transform="translate(862.3 2208.8) scale(1 1.04)" font-size="31.3" text-anchor="middle" fill="#F8993F">LN-TCV</text>
<text transform="translate(1353.8 2208.8) scale(1 1.04)" font-size="31.3" text-anchor="middle" fill="#8A8CF8">LN-TCV+L</text>
<text transform="translate(1816.8 2208.8) scale(1 1.04)" font-size="31.3" text-anchor="middle" fill="#F6739D">LN-TCV+2L</text>
<rect x="292.17" y="2524.89" width="1.15" height="1.41" fill="#1a1aff"/><rect x="270.85" y="2524.88" width="1.15" height="1.42" fill="#555599"/><rect x="366.61" y="2523.72" width="1.15" height="2.58" fill="#6a9ad8"/><rect x="332.72" y="2524.51" width="1.15" height="1.79" fill="#8b1a1a"/><rect x="241.97" y="2521.79" width="1.15" height="4.51" fill="#ff55bb"/><rect x="239.87" y="2524.2" width="1.15" height="2.1" fill="#000080"/><rect x="221.78" y="2523.32" width="1.15" height="2.98" fill="#4a8a2a"/><rect x="223.83" y="2523.1" width="1.15" height="3.2" fill="#8b1a1a"/><rect x="348.02" y="2522.78" width="1.15" height="3.52" fill="#8b5a2b"/><rect x="328.29" y="2523.17" width="1.15" height="3.13" fill="#ff55bb"/><rect x="365.12" y="2525" width="1.15" height="1.3" fill="#8b1a1a"/><rect x="261.08" y="2522.01" width="1.15" height="4.29" fill="#ff2020"/><rect x="247.11" y="2523.01" width="1.15" height="3.29" fill="#ff2020"/><rect x="366.18" y="2523.35" width="1.15" height="2.95" fill="#7a2a7a"/><rect x="236.79" y="2525.28" width="1.15" height="1.02" fill="#9933cc"/><rect x="377.85" y="2522.9" width="1.15" height="3.4" fill="#1a1aff"/><rect x="233.73" y="2522.51" width="1.15" height="3.79" fill="#8b5a2b"/><rect x="269.47" y="2523.89" width="1.15" height="2.41" fill="#11aa22"/><rect x="235.77" y="2523.86" width="1.15" height="2.44" fill="#4a8a2a"/><rect x="297.94" y="2524.57" width="1.15" height="1.73" fill="#8b5a2b"/><rect x="284.84" y="2523.67" width="1.15" height="2.63" fill="#11aa22"/><rect x="332.84" y="2524.14" width="1.15" height="2.16" fill="#ff9a3c"/><rect x="242.51" y="2522.37" width="1.15" height="3.93" fill="#ff2020"/><rect x="259.17" y="2522.95" width="1.15" height="3.35" fill="#6a9ad8"/><rect x="358.69" y="2525.42" width="1.15" height="0.88" fill="#4a8a2a"/><rect x="383.65" y="2522.89" width="1.15" height="3.41" fill="#9933cc"/><rect x="361.54" y="2522.65" width="1.15" height="3.65" fill="#111111"/><rect x="317.5" y="2523.5" width="1.15" height="2.8" fill="#ff2020"/><rect x="338.86" y="2524.4" width="1.15" height="1.9" fill="#4a8a2a"/><rect x="345.46" y="2523.9" width="1.15" height="2.4" fill="#11aa22"/><rect x="361.32" y="2522.95" width="1.15" height="3.35" fill="#e2c27c"/><rect x="290.17" y="2523.39" width="1.15" height="2.91" fill="#8b1a1a"/><rect x="246.99" y="2523" width="1.15" height="3.3" fill="#8b1a1a"/><rect x="349.69" y="2524.63" width="1.15" height="1.67" fill="#ffee22"/><rect x="213.11" y="2524.63" width="1.15" height="1.67" fill="#44ee44"/><rect x="268.53" y="2524.77" width="1.15" height="1.53" fill="#11aa22"/><rect x="265.52" y="2525.08" width="1.15" height="1.22" fill="#ff2020"/><rect x="217.34" y="2523.61" width="1.15" height="2.69" fill="#cccc22"/><rect x="351.09" y="2522.98" width="1.15" height="3.32" fill="#000080"/><rect x="309.79" y="2525.46" width="1.15" height="0.84" fill="#11aa22"/><rect x="285.68" y="2525.01" width="1.15" height="1.29" fill="#8b1a1a"/><rect x="300.19" y="2521.4" width="1.15" height="4.9" fill="#cccc22"/><rect x="276.16" y="2525.01" width="1.15" height="1.29" fill="#44ee44"/><rect x="218.02" y="2524.65" width="1.15" height="1.65" fill="#111111"/><rect x="257.97" y="2525.08" width="1.15" height="1.22" fill="#ff9a3c"/><rect x="215.03" y="2524.8" width="1.15" height="1.5" fill="#ff2020"/><rect x="290.02" y="2525.2" width="1.15" height="1.1" fill="#1a1aff"/><rect x="378.26" y="2524.2" width="1.15" height="2.1" fill="#e2c27c"/><rect x="261.74" y="2524.22" width="1.15" height="2.08" fill="#11aa22"/><rect x="340.82" y="2525.35" width="1.15" height="0.95" fill="#b8c4ff"/><rect x="332.01" y="2523.89" width="1.15" height="2.41" fill="#cccc22"/><rect x="343.67" y="2524.8" width="1.15" height="1.5" fill="#8b1a1a"/><rect x="313.58" y="2524.73" width="1.15" height="1.57" fill="#44ee44"/><rect x="344.96" y="2523.27" width="1.15" height="3.03" fill="#6a9ad8"/><rect x="297.55" y="2525.09" width="1.15" height="1.21" fill="#f5c9a0"/><rect x="234.95" y="2525.21" width="1.15" height="1.09" fill="#11aa22"/><rect x="240.74" y="2524.72" width="1.15" height="1.58" fill="#8b5a2b"/><rect x="243.07" y="2522.43" width="1.15" height="3.87" fill="#555599"/><rect x="314.15" y="2524.86" width="1.15" height="1.44" fill="#cccc22"/><rect x="295.43" y="2525.31" width="1.15" height="0.99" fill="#44ee44"/><rect x="304.56" y="2525.14" width="1.15" height="1.16" fill="#4a8a2a"/><rect x="365.02" y="2525.36" width="1.15" height="0.94" fill="#cccc22"/><rect x="265.8" y="2523.24" width="1.15" height="3.06" fill="#11aa22"/><rect x="363.04" y="2525.11" width="1.15" height="1.19" fill="#4a8a2a"/><rect x="305.71" y="2524.7" width="1.15" height="1.6" fill="#ff9a3c"/><rect x="230.65" y="2523.06" width="1.15" height="3.24" fill="#7a2a7a"/><rect x="290.55" y="2523.23" width="1.15" height="3.07" fill="#ff2020"/><rect x="329.07" y="2525.36" width="1.15" height="0.94" fill="#1a1aff"/><rect x="276.81" y="2524.66" width="1.15" height="1.64" fill="#4a8a2a"/><rect x="319.87" y="2524.7" width="1.15" height="1.6" fill="#000080"/><rect x="351.9" y="2446.04" width="1.15" height="80.26" fill="#e0608a"/><rect x="271.07" y="2476.31" width="1.15" height="49.99" fill="#e0608a"/><rect x="233.43" y="2489.23" width="1.15" height="37.07" fill="#1a8a6a"/><rect x="230.47" y="2496.98" width="1.15" height="29.32" fill="#b04a8a"/><rect x="280.67" y="2515.06" width="1.15" height="11.24" fill="#5a8a2a"/><rect x="316.1" y="2513.22" width="1.15" height="13.08" fill="#6a8ad0"/><rect x="324.22" y="2515.06" width="1.15" height="11.24" fill="#8ab0e8"/><rect x="345.26" y="2511.37" width="1.15" height="14.93" fill="#5a8a2a"/><rect x="361.5" y="2513.22" width="1.15" height="13.08" fill="#5a8a2a"/><rect x="354.86" y="2516.91" width="1.15" height="9.39" fill="#5ac8c8"/><rect x="372.94" y="2516.91" width="1.15" height="9.39" fill="#6a8ad0"/><rect x="375.9" y="2516.91" width="1.15" height="9.39" fill="#a03060"/><rect x="382.54" y="2520.6" width="1.15" height="5.7" fill="#ff9a3c"/><rect x="248.19" y="2518.75" width="1.15" height="7.55" fill="#5a8a2a"/><rect x="250.41" y="2520.6" width="1.15" height="5.7" fill="#1a6ab0"/><rect x="261.11" y="2522.08" width="1.15" height="4.22" fill="#d05030"/><rect x="277.35" y="2520.6" width="1.15" height="5.7" fill="#d05030"/><rect x="301.34" y="2520.6" width="1.15" height="5.7" fill="#ff9a3c"/><rect x="311.31" y="2522.08" width="1.15" height="4.22" fill="#a03060"/><rect x="294.7" y="2522.08" width="1.15" height="4.22" fill="#a03060"/><rect x="330.5" y="2522.08" width="1.15" height="4.22" fill="#1a8a6a"/><rect x="341.57" y="2520.6" width="1.15" height="5.7" fill="#a03060"/><rect x="288.79" y="2522.08" width="1.15" height="4.22" fill="#d0a030"/><rect x="212.76" y="2524.29" width="1.15" height="2.01" fill="#d05030"/>
<rect x="693.65" y="2523.69" width="1.15" height="2.61" fill="#ff55bb"/><rect x="792.99" y="2524.24" width="1.15" height="2.06" fill="#11aa22"/><rect x="705.64" y="2522.89" width="1.15" height="3.41" fill="#11aa22"/><rect x="701.39" y="2524.93" width="1.15" height="1.37" fill="#e2c27c"/><rect x="851.39" y="2523.76" width="1.15" height="2.54" fill="#11aa22"/><rect x="773.47" y="2524.97" width="1.15" height="1.33" fill="#ffee22"/><rect x="686.3" y="2523.45" width="1.15" height="2.85" fill="#8b1a1a"/><rect x="948.33" y="2524.89" width="1.15" height="1.41" fill="#ff9a3c"/><rect x="712.47" y="2524.83" width="1.15" height="1.47" fill="#ff9a3c"/><rect x="735.5" y="2524.56" width="1.15" height="1.74" fill="#000080"/><rect x="713.15" y="2524.9" width="1.15" height="1.4" fill="#11aa22"/><rect x="783.81" y="2525.3" width="1.15" height="1" fill="#1a1aff"/><rect x="809.29" y="2523.98" width="1.15" height="2.32" fill="#11aa22"/><rect x="747.29" y="2525.29" width="1.15" height="1.01" fill="#44ee44"/><rect x="888.58" y="2525.38" width="1.15" height="0.92" fill="#44ee44"/><rect x="936.97" y="2525.24" width="1.15" height="1.06" fill="#1a1aff"/><rect x="941.47" y="2523.85" width="1.15" height="2.45" fill="#44ee44"/><rect x="811.45" y="2525.3" width="1.15" height="1" fill="#ffee22"/><rect x="846.21" y="2525.4" width="1.15" height="0.9" fill="#44ee44"/><rect x="719.44" y="2524.95" width="1.15" height="1.35" fill="#ff2020"/><rect x="898.47" y="2522.72" width="1.15" height="3.58" fill="#8b1a1a"/><rect x="933.42" y="2525.07" width="1.15" height="1.23" fill="#b8c4ff"/><rect x="943.3" y="2524.34" width="1.15" height="1.96" fill="#000080"/><rect x="795.64" y="2524.72" width="1.15" height="1.58" fill="#ffee22"/><rect x="815.78" y="2523.76" width="1.15" height="2.54" fill="#8b1a1a"/><rect x="799.26" y="2523" width="1.15" height="3.3" fill="#11aa22"/><rect x="758.07" y="2523.37" width="1.15" height="2.93" fill="#4a8a2a"/><rect x="806.18" y="2524.98" width="1.15" height="1.32" fill="#8b1a1a"/><rect x="733.94" y="2524.34" width="1.15" height="1.96" fill="#111111"/><rect x="769.09" y="2524.68" width="1.15" height="1.62" fill="#1a1aff"/><rect x="734.53" y="2524.94" width="1.15" height="1.36" fill="#ff9a3c"/><rect x="936.92" y="2523.22" width="1.15" height="3.08" fill="#11aa22"/><rect x="774.54" y="2523.43" width="1.15" height="2.87" fill="#8b1a1a"/><rect x="740.61" y="2524.79" width="1.15" height="1.51" fill="#cccc22"/><rect x="890.73" y="2523.38" width="1.15" height="2.92" fill="#ff55bb"/><rect x="810.12" y="2524.41" width="1.15" height="1.89" fill="#ffee22"/><rect x="888.74" y="2524.93" width="1.15" height="1.37" fill="#555599"/><rect x="876.13" y="2523.7" width="1.15" height="2.6" fill="#b8c4ff"/><rect x="929.93" y="2525.18" width="1.15" height="1.12" fill="#ffee22"/><rect x="695.26" y="2524.41" width="1.15" height="1.89" fill="#ff9a3c"/><rect x="772.05" y="2524.84" width="1.15" height="1.46" fill="#8b1a1a"/><rect x="857.98" y="2523.71" width="1.15" height="2.59" fill="#8b1a1a"/><rect x="788.36" y="2522.74" width="1.15" height="3.56" fill="#f5c9a0"/><rect x="868.98" y="2523.83" width="1.15" height="2.47" fill="#e2c27c"/><rect x="937.84" y="2524.44" width="1.15" height="1.86" fill="#4a8a2a"/><rect x="732.89" y="2522.11" width="1.15" height="4.19" fill="#6a9ad8"/><rect x="892.27" y="2525.07" width="1.15" height="1.23" fill="#b8c4ff"/><rect x="867.37" y="2524.62" width="1.15" height="1.68" fill="#1a1aff"/><rect x="758.64" y="2522.85" width="1.15" height="3.45" fill="#ff55bb"/><rect x="927.4" y="2525.12" width="1.15" height="1.18" fill="#11aa22"/><rect x="757.11" y="2524.41" width="1.15" height="1.89" fill="#000080"/><rect x="732" y="2524.12" width="1.15" height="2.18" fill="#ff9a3c"/><rect x="884.5" y="2524.25" width="1.15" height="2.05" fill="#cccc22"/><rect x="758.66" y="2523.73" width="1.15" height="2.57" fill="#e2c27c"/><rect x="691.03" y="2524.42" width="1.15" height="1.88" fill="#9933cc"/><rect x="805.53" y="2522.94" width="1.15" height="3.36" fill="#ffee22"/><rect x="740.49" y="2522.17" width="1.15" height="4.13" fill="#8b5a2b"/><rect x="822.12" y="2524.58" width="1.15" height="1.72" fill="#4a8a2a"/><rect x="797.39" y="2522.11" width="1.15" height="4.19" fill="#e2c27c"/><rect x="816.98" y="2520.62" width="1.15" height="5.68" fill="#ff2020"/><rect x="783.8" y="2524.49" width="1.15" height="1.81" fill="#ff55bb"/><rect x="853.42" y="2522.32" width="1.15" height="3.98" fill="#8b5a2b"/><rect x="833" y="2521.91" width="1.15" height="4.39" fill="#11aa22"/><rect x="922.77" y="2523.46" width="1.15" height="2.84" fill="#44ee44"/><rect x="922.12" y="2525.04" width="1.15" height="1.26" fill="#111111"/><rect x="887.93" y="2521.31" width="1.15" height="4.99" fill="#1a1aff"/><rect x="934.01" y="2523.19" width="1.15" height="3.11" fill="#111111"/><rect x="691.53" y="2524.91" width="1.15" height="1.39" fill="#4a8a2a"/><rect x="839.73" y="2524.57" width="1.15" height="1.73" fill="#b8c4ff"/><rect x="873.52" y="2522.62" width="1.15" height="3.68" fill="#ffee22"/><rect x="763.77" y="2523.91" width="1.15" height="2.39" fill="#000080"/><rect x="805.68" y="2525.13" width="1.15" height="1.17" fill="#ff2020"/><rect x="768.25" y="2523.74" width="1.15" height="2.56" fill="#8b5a2b"/><rect x="854.74" y="2522.69" width="1.15" height="3.61" fill="#f5c9a0"/><rect x="931.76" y="2523.52" width="1.15" height="2.78" fill="#f5c9a0"/><rect x="724.76" y="2523.68" width="1.15" height="2.62" fill="#8b1a1a"/><rect x="692.86" y="2524.62" width="1.15" height="1.68" fill="#ff55bb"/><rect x="813.13" y="2525.5" width="1.15" height="0.8" fill="#111111"/><rect x="908.06" y="2524.38" width="1.15" height="1.92" fill="#f5c9a0"/><rect x="942.43" y="2523.59" width="1.15" height="2.71" fill="#f5c9a0"/><rect x="753.95" y="2523.57" width="1.15" height="2.73" fill="#e2c27c"/><rect x="827.89" y="2523.54" width="1.15" height="2.76" fill="#8b5a2b"/><rect x="881.87" y="2524.42" width="1.15" height="1.88" fill="#9933cc"/><rect x="739.27" y="2524.08" width="1.15" height="2.22" fill="#1a1aff"/><rect x="737.07" y="2525.28" width="1.15" height="1.02" fill="#b8c4ff"/><rect x="744.43" y="2524.29" width="1.15" height="2.01" fill="#111111"/><rect x="863.22" y="2524.4" width="1.15" height="1.9" fill="#e2c27c"/><rect x="770.6" y="2524.85" width="1.15" height="1.45" fill="#111111"/><rect x="832.17" y="2522.91" width="1.15" height="3.39" fill="#8b5a2b"/><rect x="707.87" y="2525.02" width="1.15" height="1.28" fill="#8b5a2b"/><rect x="694.28" y="2499.56" width="1.15" height="26.74" fill="#8b5a2b"/><rect x="702.77" y="2496.61" width="1.15" height="29.69" fill="#f4a460"/><rect x="697.97" y="2514.33" width="1.15" height="11.97" fill="#7a1a7a"/><rect x="718.64" y="2513.59" width="1.15" height="12.71" fill="#ee2020"/><rect x="720.49" y="2518.02" width="1.15" height="8.28" fill="#22aa22"/><rect x="729.71" y="2517.28" width="1.15" height="9.02" fill="#7a1a7a"/><rect x="743" y="2503.99" width="1.15" height="22.31" fill="#ffee22"/><rect x="752.6" y="2516.17" width="1.15" height="10.13" fill="#11bb22"/><rect x="774" y="2513.22" width="1.15" height="13.08" fill="#666"/><rect x="785.08" y="2511.37" width="1.15" height="14.93" fill="#11bb22"/><rect x="788.03" y="2505.84" width="1.15" height="20.46" fill="#ff9a3c"/><rect x="796.15" y="2511.37" width="1.15" height="14.93" fill="#a52a2a"/><rect x="794.3" y="2517.28" width="1.15" height="9.02" fill="#7a1a7a"/><rect x="802.79" y="2503.99" width="1.15" height="22.31" fill="#99c2ff"/><rect x="833.43" y="2484.06" width="1.15" height="42.24" fill="#33ee33"/><rect x="871.07" y="2457.12" width="1.15" height="69.18" fill="#5a5a5a"/><rect x="877.35" y="2516.17" width="1.15" height="10.13" fill="#cccc33"/><rect x="847.82" y="2517.28" width="1.15" height="9.02" fill="#ee2020"/><rect x="856.31" y="2518.75" width="1.15" height="7.55" fill="#c8a070"/><rect x="885.47" y="2521.71" width="1.15" height="4.59" fill="#ff9a3c"/><rect x="935.3" y="2514.33" width="1.15" height="11.97" fill="#777"/><rect x="946.37" y="2520.97" width="1.15" height="5.33" fill="#22bb22"/><rect x="822.35" y="2518.75" width="1.15" height="7.55" fill="#444"/><rect x="819.4" y="2520.6" width="1.15" height="5.7" fill="#9933cc"/><rect x="814.23" y="2521.71" width="1.15" height="4.59" fill="#1a1aff"/><rect x="809.07" y="2521.71" width="1.15" height="4.59" fill="#ff9a3c"/><rect x="844.87" y="2520.6" width="1.15" height="5.7" fill="#cccc33"/><rect x="831.95" y="2518.75" width="1.15" height="7.55" fill="#f4c090"/><rect x="706.46" y="2520.97" width="1.15" height="5.33" fill="#99c2ff"/><rect x="725.28" y="2520.97" width="1.15" height="5.33" fill="#444"/><rect x="709.41" y="2523.55" width="1.15" height="2.75" fill="#666"/>
<rect x="1164.54" y="2524.15" width="1.15" height="2.15" fill="#e2c27c"/><rect x="1259.96" y="2523.38" width="1.15" height="2.92" fill="#11aa22"/><rect x="1185.86" y="2524.09" width="1.15" height="2.21" fill="#111111"/><rect x="1175.91" y="2524.58" width="1.15" height="1.72" fill="#4a8a2a"/><rect x="1203.43" y="2524" width="1.15" height="2.3" fill="#8b5a2b"/><rect x="1415.55" y="2524.76" width="1.15" height="1.54" fill="#e2c27c"/><rect x="1365.81" y="2523.87" width="1.15" height="2.43" fill="#111111"/><rect x="1437.57" y="2525.34" width="1.15" height="0.96" fill="#ffee22"/><rect x="1238.15" y="2525.07" width="1.15" height="1.23" fill="#cccc22"/><rect x="1280.21" y="2523.84" width="1.15" height="2.46" fill="#9933cc"/><rect x="1175.29" y="2523.87" width="1.15" height="2.43" fill="#000080"/><rect x="1277.06" y="2523.5" width="1.15" height="2.8" fill="#e2c27c"/><rect x="1288.29" y="2521.86" width="1.15" height="4.44" fill="#ff55bb"/><rect x="1304.42" y="2523.92" width="1.15" height="2.38" fill="#111111"/><rect x="1177.27" y="2523.63" width="1.15" height="2.67" fill="#ffee22"/><rect x="1280.01" y="2523.78" width="1.15" height="2.52" fill="#1a1aff"/><rect x="1247.38" y="2524.41" width="1.15" height="1.89" fill="#8b5a2b"/><rect x="1437.44" y="2524.91" width="1.15" height="1.39" fill="#7a2a7a"/><rect x="1207.31" y="2524.19" width="1.15" height="2.11" fill="#1a1aff"/><rect x="1307.36" y="2525.25" width="1.15" height="1.05" fill="#4a8a2a"/><rect x="1324.07" y="2524.83" width="1.15" height="1.47" fill="#8b1a1a"/><rect x="1303.77" y="2523.41" width="1.15" height="2.89" fill="#111111"/><rect x="1437.03" y="2523.76" width="1.15" height="2.54" fill="#b8c4ff"/><rect x="1200.19" y="2524.63" width="1.15" height="1.67" fill="#ff55bb"/><rect x="1413.42" y="2524.92" width="1.15" height="1.38" fill="#7a2a7a"/><rect x="1389.93" y="2523.79" width="1.15" height="2.51" fill="#f5c9a0"/><rect x="1343.27" y="2524.55" width="1.15" height="1.75" fill="#555599"/><rect x="1175.72" y="2523.27" width="1.15" height="3.03" fill="#cccc22"/><rect x="1340.5" y="2524.82" width="1.15" height="1.48" fill="#ff55bb"/><rect x="1374.63" y="2525.4" width="1.15" height="0.9" fill="#ffee22"/><rect x="1180.22" y="2523.39" width="1.15" height="2.91" fill="#cccc22"/><rect x="1333.37" y="2525.21" width="1.15" height="1.09" fill="#7a2a7a"/><rect x="1358.44" y="2521.8" width="1.15" height="4.5" fill="#4a8a2a"/><rect x="1304.69" y="2524.66" width="1.15" height="1.64" fill="#b8c4ff"/><rect x="1284.26" y="2522.75" width="1.15" height="3.55" fill="#4a8a2a"/><rect x="1358.93" y="2523.91" width="1.15" height="2.39" fill="#cccc22"/><rect x="1207.6" y="2522.25" width="1.15" height="4.05" fill="#f5c9a0"/><rect x="1369.77" y="2525.36" width="1.15" height="0.94" fill="#f5c9a0"/><rect x="1431.58" y="2524.08" width="1.15" height="2.22" fill="#111111"/><rect x="1205.31" y="2525.49" width="1.15" height="0.81" fill="#ffee22"/><rect x="1358.02" y="2524.74" width="1.15" height="1.56" fill="#ffee22"/><rect x="1425.09" y="2523.84" width="1.15" height="2.46" fill="#b8c4ff"/><rect x="1419.05" y="2524.31" width="1.15" height="1.99" fill="#ff2020"/><rect x="1333.08" y="2525.2" width="1.15" height="1.1" fill="#7a2a7a"/><rect x="1178.88" y="2524" width="1.15" height="2.3" fill="#8b1a1a"/><rect x="1288.29" y="2524.59" width="1.15" height="1.71" fill="#ff2020"/><rect x="1441.32" y="2524.25" width="1.15" height="2.05" fill="#9933cc"/><rect x="1323.1" y="2523.41" width="1.15" height="2.89" fill="#11aa22"/><rect x="1185.75" y="2523.49" width="1.15" height="2.81" fill="#1a1aff"/><rect x="1296.81" y="2522.17" width="1.15" height="4.13" fill="#b8c4ff"/><rect x="1381.33" y="2524.57" width="1.15" height="1.73" fill="#11aa22"/><rect x="1235.13" y="2525.18" width="1.15" height="1.12" fill="#9933cc"/><rect x="1193.49" y="2524.92" width="1.15" height="1.38" fill="#e2c27c"/><rect x="1233.37" y="2524.76" width="1.15" height="1.54" fill="#8b5a2b"/><rect x="1361.51" y="2522.9" width="1.15" height="3.4" fill="#7a2a7a"/><rect x="1320.11" y="2525.06" width="1.15" height="1.24" fill="#8b5a2b"/><rect x="1275.69" y="2525.22" width="1.15" height="1.08" fill="#000080"/><rect x="1274.36" y="2524.26" width="1.15" height="2.04" fill="#11aa22"/><rect x="1231.91" y="2522.93" width="1.15" height="3.37" fill="#111111"/><rect x="1373.99" y="2525.31" width="1.15" height="0.99" fill="#6a9ad8"/><rect x="1330.06" y="2524.25" width="1.15" height="2.05" fill="#6a9ad8"/><rect x="1189.21" y="2524.09" width="1.15" height="2.21" fill="#6a9ad8"/><rect x="1269.99" y="2522.68" width="1.15" height="3.62" fill="#ff9a3c"/><rect x="1222.13" y="2524.66" width="1.15" height="1.64" fill="#000080"/><rect x="1261.42" y="2524.89" width="1.15" height="1.41" fill="#11aa22"/><rect x="1159.16" y="2525.22" width="1.15" height="1.08" fill="#4a8a2a"/><rect x="1291.72" y="2524.74" width="1.15" height="1.56" fill="#555599"/><rect x="1314.6" y="2524.67" width="1.15" height="1.63" fill="#1a1aff"/><rect x="1338.07" y="2525.41" width="1.15" height="0.89" fill="#111111"/><rect x="1264.28" y="2523.39" width="1.15" height="2.91" fill="#b8c4ff"/><rect x="1386.36" y="2525.4" width="1.15" height="0.9" fill="#9933cc"/><rect x="1166.55" y="2524.56" width="1.15" height="1.74" fill="#4a8a2a"/><rect x="1202.38" y="2523.61" width="1.15" height="2.69" fill="#111111"/><rect x="1333.28" y="2523.99" width="1.15" height="2.31" fill="#8b1a1a"/><rect x="1195.74" y="2524.96" width="1.15" height="1.34" fill="#4a8a2a"/><rect x="1345.8" y="2523.11" width="1.15" height="3.19" fill="#11aa22"/><rect x="1277.89" y="2525.05" width="1.15" height="1.25" fill="#ff9a3c"/><rect x="1199.68" y="2523.24" width="1.15" height="3.06" fill="#f5c9a0"/><rect x="1233.42" y="2523.23" width="1.15" height="3.07" fill="#4a8a2a"/><rect x="1324.44" y="2523.01" width="1.15" height="3.29" fill="#b8c4ff"/><rect x="1344.14" y="2522.7" width="1.15" height="3.6" fill="#cccc22"/><rect x="1372.41" y="2525.47" width="1.15" height="0.83" fill="#f5c9a0"/><rect x="1347.67" y="2523.67" width="1.15" height="2.63" fill="#8b5a2b"/><rect x="1205.93" y="2523.08" width="1.15" height="3.22" fill="#ffee22"/><rect x="1349.33" y="2525.36" width="1.15" height="0.94" fill="#8b5a2b"/><rect x="1161.49" y="2522.39" width="1.15" height="3.91" fill="#8b1a1a"/><rect x="1361.8" y="2525.45" width="1.15" height="0.85" fill="#ff2020"/><rect x="1371.48" y="2525.18" width="1.15" height="1.12" fill="#8b5a2b"/><rect x="1244.76" y="2524.65" width="1.15" height="1.65" fill="#11aa22"/><rect x="1283.7" y="2524.44" width="1.15" height="1.86" fill="#8b5a2b"/><rect x="1168.08" y="2482.21" width="1.15" height="44.09" fill="#8b5a2b"/><rect x="1171.03" y="2460.07" width="1.15" height="66.23" fill="#8b4789"/><rect x="1176.2" y="2497.72" width="1.15" height="28.58" fill="#ffc8a0"/><rect x="1189.11" y="2437.55" width="1.15" height="88.75" fill="#cccc11"/><rect x="1193.91" y="2512.48" width="1.15" height="13.82" fill="#11bb22"/><rect x="1203.51" y="2516.17" width="1.15" height="10.13" fill="#7a1a7a"/><rect x="1216.43" y="2513.22" width="1.15" height="13.08" fill="#ffee22"/><rect x="1219.75" y="2513.22" width="1.15" height="13.08" fill="#cccccc"/><rect x="1226.02" y="2508.79" width="1.15" height="17.51" fill="#11cc33"/><rect x="1227.87" y="2516.17" width="1.15" height="10.13" fill="#cc44cc"/><rect x="1247.43" y="2508.79" width="1.15" height="17.51" fill="#666"/><rect x="1255.18" y="2516.17" width="1.15" height="10.13" fill="#1a1aff"/><rect x="1261.82" y="2501.41" width="1.15" height="24.89" fill="#ff9a3c"/><rect x="1269.94" y="2508.79" width="1.15" height="17.51" fill="#a01020"/><rect x="1284.71" y="2501.41" width="1.15" height="24.89" fill="#dddddd"/><rect x="1292.09" y="2516.17" width="1.15" height="10.13" fill="#cc44cc"/><rect x="1305.38" y="2482.21" width="1.15" height="44.09" fill="#f4c090"/><rect x="1307.22" y="2497.72" width="1.15" height="28.58" fill="#22ee22"/><rect x="1347.45" y="2516.17" width="1.15" height="10.13" fill="#c89050"/><rect x="1358.89" y="2448.63" width="1.15" height="77.67" fill="#f0901e"/><rect x="1409.09" y="2501.41" width="1.15" height="24.89" fill="#555"/><rect x="1413.89" y="2516.17" width="1.15" height="10.13" fill="#cccccc"/><rect x="1433.45" y="2512.48" width="1.15" height="13.82" fill="#22aa44"/><rect x="1436.03" y="2519.86" width="1.15" height="6.44" fill="#66ee66"/><rect x="1179.89" y="2519.86" width="1.15" height="6.44" fill="#99c2ff"/><rect x="1234.14" y="2519.86" width="1.15" height="6.44" fill="#555599"/><rect x="1258.13" y="2519.86" width="1.15" height="6.44" fill="#22bb22"/><rect x="1266.62" y="2519.86" width="1.15" height="6.44" fill="#000080"/><rect x="1287.66" y="2519.86" width="1.15" height="6.44" fill="#1a1aff"/><rect x="1295.78" y="2519.86" width="1.15" height="6.44" fill="#111"/><rect x="1312.02" y="2521.71" width="1.15" height="4.59" fill="#444"/><rect x="1317.93" y="2519.86" width="1.15" height="6.44" fill="#cccc66"/><rect x="1405.77" y="2519.86" width="1.15" height="6.44" fill="#99c2ff"/><rect x="1429.76" y="2519.86" width="1.15" height="6.44" fill="#7a1a7a"/>
<rect x="1645.29" y="2345.19" width="1.71" height="181.11" fill="#1a1aff"/><rect x="1646.95" y="2345.19" width="1.71" height="181.11" fill="#c8d0ff"/><rect x="1648.61" y="2355.15" width="1.71" height="171.15" fill="#ff2020"/><rect x="1650.27" y="2395.29" width="1.71" height="131.01" fill="#ff4070"/><rect x="1651.93" y="2395.29" width="1.71" height="131.01" fill="#6a9ad8"/><rect x="1653.59" y="2438.62" width="1.71" height="87.68" fill="#44ee44"/><rect x="1655.25" y="2450.9" width="1.71" height="75.4" fill="#e2c27c"/><rect x="1656.91" y="2460.03" width="1.71" height="66.27" fill="#f5c9a0"/><rect x="1658.57" y="2465.22" width="1.71" height="61.08" fill="#1a1aff"/><rect x="1660.23" y="2468.4" width="1.71" height="57.9" fill="#555599"/><rect x="1661.89" y="2470.8" width="1.71" height="55.5" fill="#000080"/><rect x="1663.55" y="2472.79" width="1.71" height="53.51" fill="#ff2020"/><rect x="1665.21" y="2476.1" width="1.71" height="50.2" fill="#111111"/><rect x="1666.87" y="2479.42" width="1.71" height="46.88" fill="#9933cc"/><rect x="1668.53" y="2482.74" width="1.71" height="43.56" fill="#e2c27c"/><rect x="1670.19" y="2484.75" width="1.71" height="41.55" fill="#7a2a7a"/><rect x="1671.85" y="2486.08" width="1.71" height="40.22" fill="#000080"/><rect x="1673.51" y="2487.33" width="1.71" height="38.97" fill="#8b1a1a"/><rect x="1675.17" y="2488.2" width="1.71" height="38.1" fill="#cccc22"/><rect x="1676.83" y="2489.06" width="1.71" height="37.24" fill="#9933cc"/><rect x="1678.49" y="2489.92" width="1.71" height="36.38" fill="#4a8a2a"/><rect x="1680.15" y="2490.79" width="1.71" height="35.51" fill="#000080"/><rect x="1681.81" y="2492.03" width="1.71" height="34.27" fill="#1a1aff"/><rect x="1683.47" y="2493.27" width="1.71" height="33.03" fill="#8b5a2b"/><rect x="1685.13" y="2494.52" width="1.71" height="31.78" fill="#ff55bb"/><rect x="1686.79" y="2495.38" width="1.71" height="30.92" fill="#44ee44"/><rect x="1688.45" y="2496.05" width="1.71" height="30.25" fill="#111111"/><rect x="1690.11" y="2496.71" width="1.71" height="29.59" fill="#8b1a1a"/><rect x="1691.77" y="2497.37" width="1.71" height="28.93" fill="#111111"/><rect x="1693.43" y="2498.04" width="1.71" height="28.26" fill="#11aa22"/><rect x="1695.09" y="2498.44" width="1.71" height="27.86" fill="#ff9a3c"/><rect x="1696.75" y="2498.71" width="1.71" height="27.59" fill="#6a9ad8"/><rect x="1698.41" y="2498.97" width="1.71" height="27.33" fill="#555599"/><rect x="1700.07" y="2499.24" width="1.71" height="27.06" fill="#ff9a3c"/><rect x="1701.73" y="2499.51" width="1.71" height="26.79" fill="#1a1aff"/><rect x="1703.39" y="2499.77" width="1.71" height="26.53" fill="#8b5a2b"/><rect x="1705.05" y="2500.04" width="1.71" height="26.26" fill="#111111"/><rect x="1706.71" y="2500.3" width="1.71" height="26" fill="#b8c4ff"/><rect x="1708.37" y="2500.52" width="1.71" height="25.78" fill="#ffee22"/><rect x="1710.03" y="2500.62" width="1.71" height="25.68" fill="#8b5a2b"/><rect x="1711.69" y="2500.72" width="1.71" height="25.58" fill="#cccc22"/><rect x="1713.35" y="2500.83" width="1.71" height="25.47" fill="#8b5a2b"/><rect x="1715.01" y="2500.93" width="1.71" height="25.37" fill="#111111"/><rect x="1716.67" y="2501.04" width="1.71" height="25.26" fill="#8b5a2b"/><rect x="1718.33" y="2501.14" width="1.71" height="25.16" fill="#8b1a1a"/><rect x="1719.99" y="2501.24" width="1.71" height="25.06" fill="#b8c4ff"/><rect x="1721.65" y="2501.35" width="1.71" height="24.95" fill="#1a1aff"/><rect x="1723.31" y="2501.45" width="1.71" height="24.85" fill="#e2c27c"/><rect x="1724.97" y="2501.55" width="1.71" height="24.75" fill="#ff55bb"/><rect x="1726.63" y="2501.66" width="1.71" height="24.64" fill="#111111"/><rect x="1728.29" y="2501.76" width="1.71" height="24.54" fill="#ff9a3c"/><rect x="1729.95" y="2501.87" width="1.71" height="24.43" fill="#44ee44"/><rect x="1731.61" y="2502.51" width="1.71" height="23.79" fill="#11aa22"/><rect x="1733.27" y="2503.18" width="1.71" height="23.12" fill="#ffee22"/><rect x="1734.93" y="2503.84" width="1.71" height="22.46" fill="#b8c4ff"/><rect x="1736.59" y="2504.08" width="1.71" height="22.22" fill="#6a9ad8"/><rect x="1738.25" y="2504.08" width="1.71" height="22.22" fill="#4a8a2a"/><rect x="1739.91" y="2504.08" width="1.71" height="22.22" fill="#1a1aff"/><rect x="1741.57" y="2504.08" width="1.71" height="22.22" fill="#6a9ad8"/><rect x="1743.23" y="2504.08" width="1.71" height="22.22" fill="#ffee22"/><rect x="1744.89" y="2504.08" width="1.71" height="22.22" fill="#11aa22"/><rect x="1746.55" y="2504.08" width="1.71" height="22.22" fill="#b8c4ff"/><rect x="1748.21" y="2504.08" width="1.71" height="22.22" fill="#e2c27c"/><rect x="1749.87" y="2504.08" width="1.71" height="22.22" fill="#b8c4ff"/><rect x="1751.53" y="2504.08" width="1.71" height="22.22" fill="#7a2a7a"/><rect x="1753.19" y="2504.08" width="1.71" height="22.22" fill="#ffee22"/><rect x="1754.85" y="2504.08" width="1.71" height="22.22" fill="#111111"/><rect x="1756.51" y="2504.08" width="1.71" height="22.22" fill="#7a2a7a"/><rect x="1758.17" y="2504.08" width="1.71" height="22.22" fill="#111111"/><rect x="1759.83" y="2504.08" width="1.71" height="22.22" fill="#ff2020"/><rect x="1761.49" y="2505.13" width="1.71" height="21.17" fill="#44ee44"/><rect x="1763.15" y="2506.79" width="1.71" height="19.51" fill="#1a1aff"/><rect x="1764.81" y="2506.85" width="1.71" height="19.45" fill="#e2c27c"/><rect x="1766.47" y="2506.85" width="1.71" height="19.45" fill="#8b1a1a"/><rect x="1768.13" y="2506.85" width="1.71" height="19.45" fill="#1a1aff"/><rect x="1769.79" y="2506.85" width="1.71" height="19.45" fill="#cccc22"/><rect x="1771.45" y="2506.85" width="1.71" height="19.45" fill="#ff55bb"/><rect x="1773.11" y="2506.85" width="1.71" height="19.45" fill="#e2c27c"/><rect x="1774.77" y="2506.85" width="1.71" height="19.45" fill="#8b1a1a"/><rect x="1776.43" y="2506.85" width="1.71" height="19.45" fill="#4a8a2a"/><rect x="1778.09" y="2506.85" width="1.71" height="19.45" fill="#1a1aff"/><rect x="1779.75" y="2506.85" width="1.71" height="19.45" fill="#555599"/><rect x="1781.41" y="2506.85" width="1.71" height="19.45" fill="#ff2020"/><rect x="1783.07" y="2506.85" width="1.71" height="19.45" fill="#111111"/><rect x="1784.73" y="2506.85" width="1.71" height="19.45" fill="#6a9ad8"/><rect x="1786.39" y="2506.85" width="1.71" height="19.45" fill="#8b5a2b"/><rect x="1788.05" y="2506.85" width="1.71" height="19.45" fill="#9933cc"/><rect x="1789.71" y="2506.85" width="1.71" height="19.45" fill="#000080"/><rect x="1791.37" y="2508.08" width="1.71" height="18.22" fill="#555599"/><rect x="1793.03" y="2510.45" width="1.71" height="15.85" fill="#e2c27c"/><rect x="1794.69" y="2510.45" width="1.71" height="15.85" fill="#f5c9a0"/><rect x="1796.35" y="2510.45" width="1.71" height="15.85" fill="#e2c27c"/><rect x="1798.01" y="2510.45" width="1.71" height="15.85" fill="#f5c9a0"/><rect x="1799.67" y="2510.45" width="1.71" height="15.85" fill="#44ee44"/><rect x="1801.33" y="2510.45" width="1.71" height="15.85" fill="#555599"/><rect x="1802.99" y="2510.45" width="1.71" height="15.85" fill="#9933cc"/><rect x="1804.65" y="2510.45" width="1.71" height="15.85" fill="#4a8a2a"/><rect x="1806.31" y="2510.45" width="1.71" height="15.85" fill="#e2c27c"/><rect x="1807.97" y="2510.45" width="1.71" height="15.85" fill="#b8c4ff"/><rect x="1809.63" y="2510.45" width="1.71" height="15.85" fill="#ff2020"/><rect x="1811.29" y="2510.45" width="1.71" height="15.85" fill="#ff55bb"/><rect x="1812.95" y="2510.45" width="1.71" height="15.85" fill="#11aa22"/><rect x="1814.61" y="2510.45" width="1.71" height="15.85" fill="#8b5a2b"/><rect x="1816.27" y="2510.45" width="1.71" height="15.85" fill="#ffee22"/><rect x="1817.93" y="2510.45" width="1.71" height="15.85" fill="#f5c9a0"/><rect x="1819.97" y="2428.31" width="1.71" height="97.99" fill="#000080"/><rect x="1821.63" y="2430.31" width="1.71" height="95.99" fill="#8b1a1a"/><rect x="1823.29" y="2432.8" width="1.71" height="93.5" fill="#8b1a1a"/><rect x="1824.95" y="2439.22" width="1.71" height="87.08" fill="#11aa22"/><rect x="1826.61" y="2451.71" width="1.71" height="74.59" fill="#f5c9a0"/><rect x="1828.27" y="2474.95" width="1.71" height="51.35" fill="#f5c9a0"/><rect x="1829.93" y="2481.97" width="1.71" height="44.33" fill="#44ee44"/><rect x="1831.59" y="2488.29" width="1.71" height="38.01" fill="#6a9ad8"/><rect x="1833.25" y="2493.27" width="1.71" height="33.03" fill="#e2c27c"/><rect x="1834.91" y="2496.49" width="1.71" height="29.81" fill="#ff9a3c"/><rect x="1836.57" y="2498.81" width="1.71" height="27.49" fill="#ffee22"/><rect x="1838.23" y="2498.82" width="1.71" height="27.48" fill="#44ee44"/><rect x="1839.89" y="2498.82" width="1.71" height="27.48" fill="#cccc22"/><rect x="1841.55" y="2498.82" width="1.71" height="27.48" fill="#11aa22"/><rect x="1843.21" y="2498.82" width="1.71" height="27.48" fill="#b8c4ff"/><rect x="1844.87" y="2500.33" width="1.71" height="25.97" fill="#ffee22"/><rect x="1846.53" y="2501.97" width="1.71" height="24.33" fill="#b8c4ff"/><rect x="1848.19" y="2502.64" width="1.71" height="23.66" fill="#111111"/><rect x="1849.85" y="2503.3" width="1.71" height="23" fill="#11aa22"/><rect x="1851.51" y="2503.97" width="1.71" height="22.33" fill="#ff9a3c"/><rect x="1853.17" y="2504.08" width="1.71" height="22.22" fill="#b8c4ff"/><rect x="1854.83" y="2504.08" width="1.71" height="22.22" fill="#7a2a7a"/><rect x="1856.49" y="2504.08" width="1.71" height="22.22" fill="#111111"/><rect x="1858.15" y="2506.03" width="1.71" height="20.27" fill="#ff2020"/><rect x="1859.81" y="2507.4" width="1.71" height="18.9" fill="#11aa22"/><rect x="1861.47" y="2507.4" width="1.71" height="18.9" fill="#6a9ad8"/><rect x="1863.13" y="2507.4" width="1.71" height="18.9" fill="#cccc22"/><rect x="1864.79" y="2507.4" width="1.71" height="18.9" fill="#8b1a1a"/><rect x="1866.45" y="2507.4" width="1.71" height="18.9" fill="#ff2020"/><rect x="1868.11" y="2509.78" width="1.71" height="16.52" fill="#000080"/><rect x="1869.77" y="2510.45" width="1.71" height="15.85" fill="#6a9ad8"/><rect x="1871.43" y="2510.45" width="1.71" height="15.85" fill="#e2c27c"/><rect x="1873.09" y="2510.45" width="1.71" height="15.85" fill="#44ee44"/><rect x="1874.75" y="2510.45" width="1.71" height="15.85" fill="#555599"/><rect x="1876.41" y="2510.45" width="1.71" height="15.85" fill="#ff55bb"/><rect x="1878.07" y="2510.45" width="1.71" height="15.85" fill="#ff9a3c"/><rect x="1879.48" y="2345.19" width="1.71" height="181.11" fill="#ff9a3c"/><rect x="1881.14" y="2345.19" width="1.71" height="181.11" fill="#8b5a2b"/><rect x="1882.8" y="2474.81" width="1.71" height="51.49" fill="#ff2020"/><rect x="1884.46" y="2483.72" width="1.71" height="42.58" fill="#7a2a7a"/><rect x="1886.12" y="2486.64" width="1.71" height="39.66" fill="#ffee22"/><rect x="1887.78" y="2486.64" width="1.71" height="39.66" fill="#8b5a2b"/><rect x="1889.44" y="2493.58" width="1.71" height="32.72" fill="#ff9a3c"/><rect x="1891.1" y="2497.07" width="1.71" height="29.23" fill="#4a8a2a"/><rect x="1892.76" y="2499.26" width="1.71" height="27.04" fill="#ff9a3c"/><rect x="1894.42" y="2500.15" width="1.71" height="26.15" fill="#ff55bb"/><rect x="1896.08" y="2501.03" width="1.71" height="25.27" fill="#9933cc"/><rect x="1897.74" y="2502.25" width="1.71" height="24.05" fill="#111111"/><rect x="1899.4" y="2503.47" width="1.71" height="22.83" fill="#ff55bb"/><rect x="1901.06" y="2504.08" width="1.71" height="22.22" fill="#e2c27c"/><rect x="1902.72" y="2504.08" width="1.71" height="22.22" fill="#ff9a3c"/><rect x="1904.38" y="2504.08" width="1.71" height="22.22" fill="#ff2020"/><rect x="1906.04" y="2504.71" width="1.71" height="21.59" fill="#ff55bb"/><rect x="1907.7" y="2507.7" width="1.71" height="18.6" fill="#b8c4ff"/><rect x="1909.36" y="2508.61" width="1.71" height="17.69" fill="#ff9a3c"/><rect x="1911.02" y="2509.53" width="1.71" height="16.77" fill="#555599"/><rect x="1912.68" y="2510.44" width="1.71" height="15.86" fill="#6a9ad8"/><rect x="1914.34" y="2510.45" width="1.71" height="15.85" fill="#111111"/><rect x="1916" y="2510.45" width="1.71" height="15.85" fill="#f5c9a0"/><rect x="1917.13" y="2345.19" width="1.71" height="181.11" fill="#000080"/><rect x="1918.79" y="2471.87" width="1.71" height="54.43" fill="#555599"/><rect x="1920.45" y="2489.39" width="1.71" height="36.91" fill="#7a2a7a"/><rect x="1922.11" y="2494.15" width="1.71" height="32.15" fill="#ffee22"/><rect x="1923.77" y="2501.16" width="1.71" height="25.14" fill="#7a2a7a"/><rect x="1925.43" y="2507.7" width="1.71" height="18.6" fill="#44ee44"/><rect x="1927.09" y="2509.53" width="1.71" height="16.77" fill="#b8c4ff"/><rect x="1928.75" y="2510.45" width="1.71" height="15.85" fill="#7a2a7a"/><rect x="1931.25" y="2345.19" width="1.71" height="181.11" fill="#ffee22"/><rect x="1932.91" y="2345.19" width="1.71" height="181.11" fill="#ffee22"/><rect x="1934.57" y="2345.19" width="1.71" height="181.11" fill="#e2c27c"/><rect x="1936.23" y="2345.19" width="1.71" height="181.11" fill="#999999"/><rect x="1937.89" y="2345.19" width="1.71" height="181.11" fill="#1a1aff"/><rect x="1939.55" y="2345.19" width="1.71" height="181.11" fill="#ff2020"/><rect x="1941.21" y="2362.79" width="1.71" height="163.51" fill="#9933cc"/><rect x="1942.87" y="2369.76" width="1.71" height="156.54" fill="#8b1a1a"/><rect x="1944.53" y="2418.57" width="1.71" height="107.73" fill="#ff9a3c"/><rect x="1946.19" y="2423.55" width="1.71" height="102.75" fill="#9933cc"/><rect x="1947.85" y="2436.96" width="1.71" height="89.34" fill="#8b1a1a"/><rect x="1949.51" y="2443.51" width="1.71" height="82.79" fill="#cccc22"/><rect x="1951.17" y="2445.12" width="1.71" height="81.18" fill="#111111"/><rect x="1952.83" y="2445.12" width="1.71" height="81.18" fill="#7a2a7a"/><rect x="1954.49" y="2451.79" width="1.71" height="74.51" fill="#ffee22"/><rect x="1956.15" y="2455.44" width="1.71" height="70.86" fill="#111111"/><rect x="1957.81" y="2457.3" width="1.71" height="69" fill="#11aa22"/><rect x="1959.47" y="2457.3" width="1.71" height="69" fill="#7a2a7a"/><rect x="1961.13" y="2463.05" width="1.71" height="63.25" fill="#44ee44"/><rect x="1962.79" y="2466.73" width="1.71" height="59.57" fill="#f5c9a0"/><rect x="1964.45" y="2469.2" width="1.71" height="57.1" fill="#cccc22"/><rect x="1966.11" y="2469.2" width="1.71" height="57.1" fill="#f5c9a0"/><rect x="1967.77" y="2469.2" width="1.71" height="57.1" fill="#e2c27c"/><rect x="1969.43" y="2469.2" width="1.71" height="57.1" fill="#11aa22"/><rect x="1971.09" y="2470.84" width="1.71" height="55.46" fill="#e2c27c"/><rect x="1972.75" y="2472.56" width="1.71" height="53.74" fill="#4a8a2a"/><rect x="1974.41" y="2474.38" width="1.71" height="51.92" fill="#ff2020"/><rect x="1976.07" y="2475.02" width="1.71" height="51.28" fill="#b8c4ff"/><rect x="1977.73" y="2475.02" width="1.71" height="51.28" fill="#e2c27c"/><rect x="1979.39" y="2475.02" width="1.71" height="51.28" fill="#cccc22"/><rect x="1981.05" y="2476.07" width="1.71" height="50.23" fill="#44ee44"/><rect x="1982.71" y="2479.71" width="1.71" height="46.59" fill="#7a2a7a"/><rect x="1984.37" y="2481.11" width="1.71" height="45.19" fill="#44ee44"/><rect x="1986.03" y="2481.11" width="1.71" height="45.19" fill="#b8c4ff"/><rect x="1987.69" y="2481.11" width="1.71" height="45.19" fill="#ffee22"/><rect x="1989.35" y="2481.11" width="1.71" height="45.19" fill="#111111"/><rect x="1991.01" y="2482.7" width="1.71" height="43.6" fill="#4a8a2a"/><rect x="1992.67" y="2485.16" width="1.71" height="41.14" fill="#1a1aff"/><rect x="1994.33" y="2487.16" width="1.71" height="39.14" fill="#7a2a7a"/><rect x="1995.99" y="2487.2" width="1.71" height="39.1" fill="#cccc22"/><rect x="1997.65" y="2487.2" width="1.71" height="39.1" fill="#44ee44"/><rect x="1999.31" y="2487.83" width="1.71" height="38.47" fill="#ffee22"/><rect x="2000.97" y="2489.16" width="1.71" height="37.14" fill="#44ee44"/><rect x="2002.63" y="2489.41" width="1.71" height="36.89" fill="#555599"/><rect x="2004.29" y="2489.41" width="1.71" height="36.89" fill="#b8c4ff"/><rect x="2005.95" y="2489.41" width="1.71" height="36.89" fill="#f5c9a0"/><rect x="2007.61" y="2489.41" width="1.71" height="36.89" fill="#e2c27c"/><rect x="2009.27" y="2489.41" width="1.71" height="36.89" fill="#44ee44"/><rect x="2010.93" y="2489.41" width="1.71" height="36.89" fill="#e2c27c"/><rect x="2012.59" y="2489.41" width="1.71" height="36.89" fill="#ff55bb"/><rect x="2014.25" y="2490.73" width="1.71" height="35.57" fill="#e2c27c"/><rect x="2015.91" y="2493.01" width="1.71" height="33.29" fill="#111111"/><rect x="2017.57" y="2493.01" width="1.71" height="33.29" fill="#555599"/><rect x="2019.23" y="2493.01" width="1.71" height="33.29" fill="#e2c27c"/><rect x="2020.89" y="2493.42" width="1.71" height="32.88" fill="#ffee22"/><rect x="2022.55" y="2495.5" width="1.71" height="30.8" fill="#f5c9a0"/><rect x="2024.21" y="2495.5" width="1.71" height="30.8" fill="#ff9a3c"/><rect x="2025.87" y="2495.5" width="1.71" height="30.8" fill="#f5c9a0"/><rect x="2027.53" y="2495.5" width="1.71" height="30.8" fill="#111111"/><rect x="2029.19" y="2495.5" width="1.71" height="30.8" fill="#8b5a2b"/><rect x="2030.85" y="2495.5" width="1.71" height="30.8" fill="#e2c27c"/><rect x="2032.51" y="2495.5" width="1.71" height="30.8" fill="#7a2a7a"/><rect x="2034.17" y="2495.5" width="1.71" height="30.8" fill="#b8c4ff"/><rect x="2035.83" y="2495.5" width="1.71" height="30.8" fill="#11aa22"/><rect x="2037.49" y="2495.5" width="1.71" height="30.8" fill="#ff55bb"/><rect x="1646.68" y="2225.33" width="1.2" height="69.92" fill="#1a1aff"/><rect x="1879.48" y="2285.95" width="1.5" height="10.8" fill="#ff9a3c"/><rect x="1931.25" y="2289.55" width="1.5" height="7.2" fill="#ffee22"/>
<line x1="209.9" y1="2218" x2="209.9" y2="2298.6" stroke="#000" stroke-width="3"/>
<line x1="209.9" y1="2343.9" x2="209.9" y2="2529.3" stroke="#000" stroke-width="3"/>
<line x1="191.9" y1="2219.5" x2="209.9" y2="2219.5" stroke="#000" stroke-width="3"/>
<line x1="191.9" y1="2250.9" x2="209.9" y2="2250.9" stroke="#000" stroke-width="3"/>
<line x1="191.9" y1="2281.9" x2="209.9" y2="2281.9" stroke="#000" stroke-width="3"/>
<line x1="193.7" y1="2297.1" x2="226.1" y2="2297.1" stroke="#000" stroke-width="3"/>
<line x1="193.7" y1="2345.4" x2="226.1" y2="2345.4" stroke="#000" stroke-width="3"/>
<line x1="199.4" y1="2436.6" x2="209.9" y2="2436.6" stroke="#000" stroke-width="3"/>
<line x1="192" y1="2527.8" x2="606.1" y2="2527.8" stroke="#000" stroke-width="3"/>
<text transform="translate(185.2 2230.6) scale(1 1.04)" font-size="31.3" text-anchor="end">0.008</text>
<text transform="translate(185.2 2262) scale(1 1.04)" font-size="31.3" text-anchor="end">0.006</text>
<text transform="translate(185.2 2293) scale(1 1.04)" font-size="31.3" text-anchor="end">0.004</text>
<text transform="translate(185.2 2356.5) scale(1 1.04)" font-size="31.3" text-anchor="end">0.001</text>
<text transform="translate(185.2 2538.9) scale(1 1.04)" font-size="31.3" text-anchor="end">0.000</text>
<line x1="682" y1="2218" x2="682" y2="2298.6" stroke="#000" stroke-width="3"/>
<line x1="682" y1="2343.9" x2="682" y2="2529.3" stroke="#000" stroke-width="3"/>
<line x1="664" y1="2219.5" x2="682" y2="2219.5" stroke="#000" stroke-width="3"/>
<line x1="664" y1="2250.9" x2="682" y2="2250.9" stroke="#000" stroke-width="3"/>
<line x1="664" y1="2281.9" x2="682" y2="2281.9" stroke="#000" stroke-width="3"/>
<line x1="665.8" y1="2297.1" x2="698.2" y2="2297.1" stroke="#000" stroke-width="3"/>
<line x1="665.8" y1="2345.4" x2="698.2" y2="2345.4" stroke="#000" stroke-width="3"/>
<line x1="671.5" y1="2436.6" x2="682" y2="2436.6" stroke="#000" stroke-width="3"/>
<line x1="656.1" y1="2527.8" x2="1078" y2="2527.8" stroke="#000" stroke-width="3"/>
<line x1="1155.4" y1="2218" x2="1155.4" y2="2298.6" stroke="#000" stroke-width="3"/>
<line x1="1155.4" y1="2343.9" x2="1155.4" y2="2529.3" stroke="#000" stroke-width="3"/>
<line x1="1137.4" y1="2219.5" x2="1155.4" y2="2219.5" stroke="#000" stroke-width="3"/>
<line x1="1137.4" y1="2250.9" x2="1155.4" y2="2250.9" stroke="#000" stroke-width="3"/>
<line x1="1137.4" y1="2281.9" x2="1155.4" y2="2281.9" stroke="#000" stroke-width="3"/>
<line x1="1139.2" y1="2297.1" x2="1171.6" y2="2297.1" stroke="#000" stroke-width="3"/>
<line x1="1139.2" y1="2345.4" x2="1171.6" y2="2345.4" stroke="#000" stroke-width="3"/>
<line x1="1144.9" y1="2436.6" x2="1155.4" y2="2436.6" stroke="#000" stroke-width="3"/>
<line x1="1136.9" y1="2527.8" x2="1551.1" y2="2527.8" stroke="#000" stroke-width="3"/>
<line x1="1643.6" y1="2218" x2="1643.6" y2="2298.6" stroke="#000" stroke-width="3"/>
<line x1="1643.6" y1="2343.9" x2="1643.6" y2="2529.3" stroke="#000" stroke-width="3"/>
<line x1="1625.6" y1="2219.5" x2="1643.6" y2="2219.5" stroke="#000" stroke-width="3"/>
<line x1="1625.6" y1="2250.9" x2="1643.6" y2="2250.9" stroke="#000" stroke-width="3"/>
<line x1="1625.6" y1="2281.9" x2="1643.6" y2="2281.9" stroke="#000" stroke-width="3"/>
<line x1="1627.4" y1="2297.1" x2="1659.8" y2="2297.1" stroke="#000" stroke-width="3"/>
<line x1="1627.4" y1="2345.4" x2="1659.8" y2="2345.4" stroke="#000" stroke-width="3"/>
<line x1="1633.1" y1="2436.6" x2="1643.6" y2="2436.6" stroke="#000" stroke-width="3"/>
<line x1="1626.2" y1="2527.8" x2="2039.8" y2="2527.8" stroke="#000" stroke-width="3"/>
<text transform="translate(76 2381.5) rotate(-90) scale(1 1.04)" font-size="31.3" text-anchor="middle" letter-spacing="0.8">Clone frequency</text>
<text transform="translate(0.8 46) scale(1 1.04)" font-size="52.5" font-weight="bold">a</text>
<text transform="translate(0.8 503) scale(1 1.04)" font-size="52.5" font-weight="bold">b</text>
<text transform="translate(0.8 930) scale(1 1.04)" font-size="52.5" font-weight="bold">c</text>
<text transform="translate(0.8 1325.8) scale(1 1.04)" font-size="52.5" font-weight="bold">d</text>
<text transform="translate(0.8 1766.3) scale(1 1.04)" font-size="52.5" font-weight="bold">e</text>
<text transform="translate(0.8 2194) scale(1 1.04)" font-size="52.5" font-weight="bold">f</text>
</svg>
</body></html>
